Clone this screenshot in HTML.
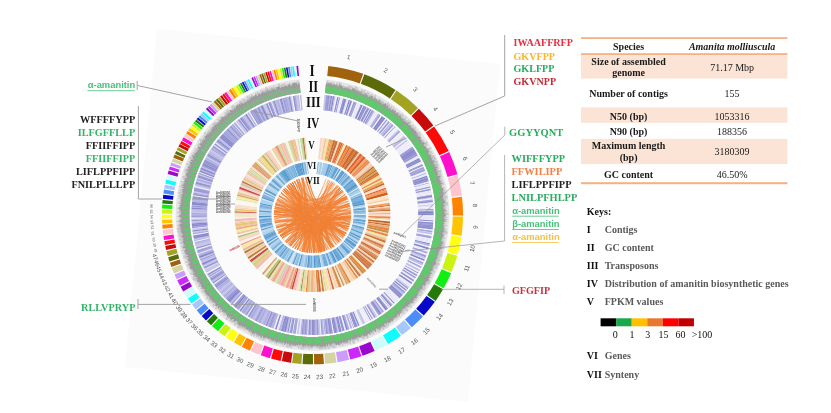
<!DOCTYPE html>
<html><head><meta charset="utf-8"><title>Amanita molliuscula genome circos</title>
<style>
html,body{margin:0;padding:0;background:#fff;}
body{width:831px;height:413px;overflow:hidden;}
svg{display:block;will-change:transform;filter:blur(0.55px);}
</style></head>
<body>
<svg width="831" height="413" viewBox="0 0 831 413">
<rect width="831" height="413" fill="#fff"/>
<polygon points="157,29 500,64 468,402 125,367" fill="#fbfbfb"/>
<g transform="translate(312.4 214.7) scale(1.0065 1) translate(-312.4 -214.7)">
<g id="ring1">
<path d="M328.2 65.9A149.6 149.6 0 0 1 362.9 73.8L359.4 83.4A139.4 139.4 0 0 0 327.1 76.1Z" fill="#a0620c"/>
<path d="M364.0 74.2A149.6 149.6 0 0 1 395.0 89.9L389.4 98.4A139.4 139.4 0 0 0 360.5 83.8Z" fill="#5c6a0a"/>
<path d="M396.0 90.6A149.6 149.6 0 0 1 417.3 108.0L410.2 115.2A139.4 139.4 0 0 0 390.3 99.0Z" fill="#a3a321"/>
<path d="M418.1 108.8A149.6 149.6 0 0 1 432.6 125.5L424.4 131.5A139.4 139.4 0 0 0 410.9 116.0Z" fill="#c80a0a"/>
<path d="M433.3 126.4A149.6 149.6 0 0 1 447.8 151.0L438.6 155.3A139.4 139.4 0 0 0 425.0 132.4Z" fill="#ff0808"/>
<path d="M448.3 152.0A149.6 149.6 0 0 1 456.5 174.2L446.7 176.9A139.4 139.4 0 0 0 439.1 156.3Z" fill="#ff10cc"/>
<path d="M456.8 175.3A149.6 149.6 0 0 1 460.9 195.6L450.8 196.9A139.4 139.4 0 0 0 447.0 178.0Z" fill="#ffc4cc"/>
<path d="M461.0 196.8A149.6 149.6 0 0 1 462.1 215.4L451.9 215.4A139.4 139.4 0 0 0 450.9 198.0Z" fill="#ff8200"/>
<path d="M462.1 216.6A149.6 149.6 0 0 1 460.6 235.7L450.5 234.3A139.4 139.4 0 0 0 451.9 216.5Z" fill="#ffc400"/>
<path d="M460.4 236.9A149.6 149.6 0 0 1 456.7 254.6L446.8 251.9A139.4 139.4 0 0 0 450.4 235.4Z" fill="#ffff10"/>
<path d="M456.4 255.7A149.6 149.6 0 0 1 450.6 272.1L441.2 268.2A139.4 139.4 0 0 0 446.6 252.9Z" fill="#ccf214"/>
<path d="M450.2 273.2A149.6 149.6 0 0 1 442.7 288.3L433.9 283.3A139.4 139.4 0 0 0 440.8 269.2Z" fill="#10f010"/>
<path d="M442.2 289.3A149.6 149.6 0 0 1 434.8 300.9L426.4 295.0A139.4 139.4 0 0 0 433.3 284.2Z" fill="#247a08"/>
<path d="M434.1 301.8A149.6 149.6 0 0 1 423.0 315.5L415.5 308.7A139.4 139.4 0 0 0 425.8 295.9Z" fill="#0808c8"/>
<path d="M422.2 316.4A149.6 149.6 0 0 1 411.1 327.2L404.4 319.6A139.4 139.4 0 0 0 414.7 309.4Z" fill="#4c8cf8"/>
<path d="M410.2 328.0A149.6 149.6 0 0 1 401.3 335.1L395.3 326.9A139.4 139.4 0 0 0 403.5 320.3Z" fill="#a4c8fc"/>
<path d="M400.4 335.8A149.6 149.6 0 0 1 387.6 344.1L382.5 335.3A139.4 139.4 0 0 0 394.4 327.5Z" fill="#10fcfc"/>
<path d="M386.6 344.7A149.6 149.6 0 0 1 375.3 350.5L371.0 341.2A139.4 139.4 0 0 0 381.5 335.8Z" fill="#ccfcfc"/>
<path d="M374.3 351.0A149.6 149.6 0 0 1 362.2 355.8L358.8 346.2A139.4 139.4 0 0 0 370.0 341.7Z" fill="#9a08cc"/>
<path d="M361.2 356.2A149.6 149.6 0 0 1 350.0 359.5L347.5 349.6A139.4 139.4 0 0 0 357.8 346.5Z" fill="#cc28fc"/>
<path d="M348.9 359.8A149.6 149.6 0 0 1 337.5 362.2L335.8 352.1A139.4 139.4 0 0 0 346.4 349.9Z" fill="#cc9cfc"/>
<path d="M336.4 362.4A149.6 149.6 0 0 1 325.1 363.8L324.2 353.6A139.4 139.4 0 0 0 334.7 352.3Z" fill="#d4d4a2"/>
<path d="M323.9 363.9A149.6 149.6 0 0 1 314.1 364.3L314.0 354.1A139.4 139.4 0 0 0 323.1 353.7Z" fill="#a0620c"/>
<path d="M313.0 364.3A149.6 149.6 0 0 1 302.6 364.0L303.3 353.8A139.4 139.4 0 0 0 312.9 354.1Z" fill="#5c6a0a"/>
<path d="M301.5 363.9A149.6 149.6 0 0 1 292.2 362.9L293.6 352.8A139.4 139.4 0 0 0 302.2 353.7Z" fill="#a3a321"/>
<path d="M291.1 362.8A149.6 149.6 0 0 1 282.0 361.1L284.0 351.2A139.4 139.4 0 0 0 292.6 352.7Z" fill="#c80a0a"/>
<path d="M280.8 360.9A149.6 149.6 0 0 1 271.3 358.5L274.1 348.7A139.4 139.4 0 0 0 283.0 350.9Z" fill="#ff0808"/>
<path d="M270.2 358.2A149.6 149.6 0 0 1 261.1 355.2L264.6 345.6A139.4 139.4 0 0 0 273.1 348.4Z" fill="#ff10cc"/>
<path d="M260.1 354.8A149.6 149.6 0 0 1 251.2 351.2L255.4 341.9A139.4 139.4 0 0 0 263.6 345.3Z" fill="#ffc4cc"/>
<path d="M250.2 350.7A149.6 149.6 0 0 1 242.3 346.8L247.1 337.8A139.4 139.4 0 0 0 254.4 341.4Z" fill="#ff8200"/>
<path d="M241.3 346.3A149.6 149.6 0 0 1 234.4 342.3L239.7 333.6A139.4 139.4 0 0 0 246.2 337.3Z" fill="#ffc400"/>
<path d="M233.4 341.7A149.6 149.6 0 0 1 226.3 337.0L232.2 328.6A139.4 139.4 0 0 0 238.8 333.0Z" fill="#ffff10"/>
<path d="M225.4 336.3A149.6 149.6 0 0 1 219.6 332.0L226.0 324.0A139.4 139.4 0 0 0 231.3 328.0Z" fill="#ccf214"/>
<path d="M218.7 331.3A149.6 149.6 0 0 1 212.6 326.1L219.4 318.5A139.4 139.4 0 0 0 225.1 323.3Z" fill="#10f010"/>
<path d="M211.8 325.3A149.6 149.6 0 0 1 207.5 321.3L214.7 314.0A139.4 139.4 0 0 0 218.6 317.8Z" fill="#247a08"/>
<path d="M206.7 320.4A149.6 149.6 0 0 1 202.4 316.0L209.9 309.1A139.4 139.4 0 0 0 213.9 313.2Z" fill="#0808c8"/>
<path d="M201.6 315.2A149.6 149.6 0 0 1 197.4 310.3L205.3 303.8A139.4 139.4 0 0 0 209.2 308.3Z" fill="#4c8cf8"/>
<path d="M196.7 309.4A149.6 149.6 0 0 1 192.9 304.6L201.1 298.4A139.4 139.4 0 0 0 204.6 303.0Z" fill="#a4c8fc"/>
<path d="M192.2 303.6A149.6 149.6 0 0 1 188.7 298.6L197.1 292.9A139.4 139.4 0 0 0 200.4 297.6Z" fill="#10fcfc"/>
<path d="M188.0 297.7A149.6 149.6 0 0 1 184.7 292.5L193.4 287.2A139.4 139.4 0 0 0 196.5 292.0Z" fill="#ccfcfc"/>
<path d="M184.1 291.5A149.6 149.6 0 0 1 181.4 286.8L190.4 281.9A139.4 139.4 0 0 0 192.9 286.2Z" fill="#9a08cc"/>
<path d="M180.9 285.8A149.6 149.6 0 0 1 178.1 280.3L187.2 275.9A139.4 139.4 0 0 0 189.9 281.0Z" fill="#cc28fc"/>
<path d="M177.6 279.3A149.6 149.6 0 0 1 175.4 274.6L184.8 270.6A139.4 139.4 0 0 0 186.8 274.9Z" fill="#cc9cfc"/>
<path d="M175.0 273.6A149.6 149.6 0 0 1 172.8 268.1L182.3 264.5A139.4 139.4 0 0 0 184.4 269.6Z" fill="#d4d4a2"/>
<path d="M172.4 267.0A149.6 149.6 0 0 1 170.8 262.7L180.5 259.4A139.4 139.4 0 0 0 181.9 263.5Z" fill="#a0620c"/>
<path d="M170.4 261.6A149.6 149.6 0 0 1 169.1 257.2L178.9 254.3A139.4 139.4 0 0 0 180.1 258.4Z" fill="#5c6a0a"/>
<path d="M168.8 256.1A149.6 149.6 0 0 1 167.4 251.2L177.3 248.7A139.4 139.4 0 0 0 178.6 253.3Z" fill="#a3a321"/>
<path d="M167.1 250.1A149.6 149.6 0 0 1 166.2 246.1L176.2 244.0A139.4 139.4 0 0 0 177.1 247.7Z" fill="#c80a0a"/>
<path d="M166.0 245.0A149.6 149.6 0 0 1 165.3 241.2L175.3 239.4A139.4 139.4 0 0 0 176.0 242.9Z" fill="#ff0808"/>
<path d="M165.1 240.1A149.6 149.6 0 0 1 164.4 236.1L174.5 234.6A139.4 139.4 0 0 0 175.1 238.4Z" fill="#ff10cc"/>
<path d="M164.3 235.0A149.6 149.6 0 0 1 163.7 229.9L173.8 228.8A139.4 139.4 0 0 0 174.4 233.6Z" fill="#ffc4cc"/>
<path d="M163.6 228.7A149.6 149.6 0 0 1 163.2 224.7L173.4 224.0A139.4 139.4 0 0 0 173.7 227.8Z" fill="#ff8200"/>
<path d="M163.2 223.5A149.6 149.6 0 0 1 163.0 219.7L173.2 219.4A139.4 139.4 0 0 0 173.3 222.9Z" fill="#ffc400"/>
<path d="M162.9 218.6A149.6 149.6 0 0 1 162.9 214.8L173.1 214.7A139.4 139.4 0 0 0 173.1 218.3Z" fill="#ffff10"/>
<path d="M162.9 213.6A149.6 149.6 0 0 1 163.0 209.8L173.2 210.1A139.4 139.4 0 0 0 173.1 213.7Z" fill="#ccf214"/>
<path d="M163.0 208.6A149.6 149.6 0 0 1 163.2 204.6L173.4 205.3A139.4 139.4 0 0 0 173.2 209.1Z" fill="#10f010"/>
<path d="M163.3 203.4A149.6 149.6 0 0 1 163.6 199.9L173.8 200.9A139.4 139.4 0 0 0 173.5 204.2Z" fill="#247a08"/>
<path d="M163.8 198.8A149.6 149.6 0 0 1 164.2 194.7L174.4 196.1A139.4 139.4 0 0 0 173.9 199.8Z" fill="#0808c8"/>
<path d="M164.4 193.6A149.6 149.6 0 0 1 165.0 189.5L175.1 191.3A139.4 139.4 0 0 0 174.5 195.0Z" fill="#4c8cf8"/>
<path d="M165.2 188.4A149.6 149.6 0 0 1 165.9 184.7L175.9 186.7A139.4 139.4 0 0 0 175.3 190.2Z" fill="#a4c8fc"/>
<path d="M166.2 183.5A149.6 149.6 0 0 1 167.1 179.6L177.0 182.0A139.4 139.4 0 0 0 176.2 185.7Z" fill="#10fcfc"/>
<path d="M167.4 178.5A149.6 149.6 0 0 1 168.3 175.0L178.1 177.7A139.4 139.4 0 0 0 177.3 180.9Z" fill="#ccfcfc"/>
<path d="M168.6 173.9A149.6 149.6 0 0 1 169.6 170.5L179.3 173.5A139.4 139.4 0 0 0 178.4 176.7Z" fill="#9a08cc"/>
<path d="M169.9 169.4A149.6 149.6 0 0 1 170.9 166.5L180.5 169.8A139.4 139.4 0 0 0 179.6 172.5Z" fill="#cc28fc"/>
<path d="M171.2 165.5A149.6 149.6 0 0 1 172.3 162.6L181.8 166.2A139.4 139.4 0 0 0 180.9 168.8Z" fill="#cc9cfc"/>
<path d="M172.7 161.5A149.6 149.6 0 0 1 173.9 158.5L183.3 162.3A139.4 139.4 0 0 0 182.2 165.2Z" fill="#d4d4a2"/>
<path d="M174.2 157.7A149.6 149.6 0 0 1 175.5 154.5L184.9 158.6A139.4 139.4 0 0 0 183.6 161.6Z" fill="#a0620c"/>
<path d="M175.9 153.8A149.6 149.6 0 0 1 177.1 151.1L186.3 155.4A139.4 139.4 0 0 0 185.2 158.0Z" fill="#5c6a0a"/>
<path d="M177.6 150.0A149.6 149.6 0 0 1 178.9 147.3L188.1 151.9A139.4 139.4 0 0 0 186.8 154.4Z" fill="#a3a321"/>
<path d="M179.3 146.6A149.6 149.6 0 0 1 180.7 144.0L189.7 148.8A139.4 139.4 0 0 0 188.4 151.2Z" fill="#c80a0a"/>
<path d="M180.9 143.6A149.6 149.6 0 0 1 182.3 141.0L191.2 146.0A139.4 139.4 0 0 0 189.9 148.4Z" fill="#ff0808"/>
<path d="M182.7 140.3A149.6 149.6 0 0 1 184.5 137.2L193.2 142.5A139.4 139.4 0 0 0 191.6 145.4Z" fill="#ff10cc"/>
<path d="M184.9 136.6A149.6 149.6 0 0 1 186.5 134.1L195.1 139.6A139.4 139.4 0 0 0 193.6 141.9Z" fill="#ffc4cc"/>
<path d="M186.9 133.4A149.6 149.6 0 0 1 188.6 130.9L197.0 136.6A139.4 139.4 0 0 0 195.5 138.9Z" fill="#ff8200"/>
<path d="M189.0 130.2A149.6 149.6 0 0 1 190.6 128.0L198.9 133.9A139.4 139.4 0 0 0 197.5 136.0Z" fill="#ffc400"/>
<path d="M190.8 127.7A149.6 149.6 0 0 1 192.2 125.8L200.4 131.9A139.4 139.4 0 0 0 199.1 133.6Z" fill="#ffff10"/>
<path d="M192.4 125.5A149.6 149.6 0 0 1 193.8 123.7L201.9 129.9A139.4 139.4 0 0 0 200.6 131.6Z" fill="#ccf214"/>
<path d="M194.0 123.3A149.6 149.6 0 0 1 195.5 121.5L203.4 127.9A139.4 139.4 0 0 0 202.1 129.6Z" fill="#10f010"/>
<path d="M195.7 121.2A149.6 149.6 0 0 1 197.2 119.4L205.0 125.9A139.4 139.4 0 0 0 203.7 127.6Z" fill="#247a08"/>
<path d="M197.4 119.1A149.6 149.6 0 0 1 198.9 117.4L206.6 124.0A139.4 139.4 0 0 0 205.3 125.6Z" fill="#0808c8"/>
<path d="M199.2 117.1A149.6 149.6 0 0 1 200.7 115.3L208.3 122.1A139.4 139.4 0 0 0 206.9 123.7Z" fill="#4c8cf8"/>
<path d="M200.9 115.0A149.6 149.6 0 0 1 202.5 113.3L210.0 120.2A139.4 139.4 0 0 0 208.5 121.8Z" fill="#a4c8fc"/>
<path d="M202.8 113.0A149.6 149.6 0 0 1 204.3 111.4L211.7 118.4A139.4 139.4 0 0 0 210.2 120.0Z" fill="#10fcfc"/>
<path d="M204.6 111.1A149.6 149.6 0 0 1 206.2 109.4L213.4 116.6A139.4 139.4 0 0 0 212.0 118.1Z" fill="#ccfcfc"/>
<path d="M206.5 109.1A149.6 149.6 0 0 1 208.1 107.5L215.2 114.8A139.4 139.4 0 0 0 213.7 116.3Z" fill="#9a08cc"/>
<path d="M208.4 107.2A149.6 149.6 0 0 1 210.1 105.7L217.1 113.1A139.4 139.4 0 0 0 215.5 114.6Z" fill="#cc28fc"/>
<path d="M210.4 105.4A149.6 149.6 0 0 1 212.0 103.8L218.9 111.4A139.4 139.4 0 0 0 217.3 112.8Z" fill="#cc9cfc"/>
<path d="M212.4 103.6A149.6 149.6 0 0 1 214.1 102.0L220.8 109.7A139.4 139.4 0 0 0 219.2 111.1Z" fill="#d4d4a2"/>
<path d="M214.4 101.8A149.6 149.6 0 0 1 216.1 100.3L222.7 108.1A139.4 139.4 0 0 0 221.1 109.5Z" fill="#a0620c"/>
<path d="M216.4 100.0A149.6 149.6 0 0 1 218.2 98.6L224.6 106.5A139.4 139.4 0 0 0 223.0 107.8Z" fill="#5c6a0a"/>
<path d="M218.5 98.3A149.6 149.6 0 0 1 220.3 96.9L226.6 104.9A139.4 139.4 0 0 0 224.9 106.2Z" fill="#a3a321"/>
<path d="M220.6 96.6A149.6 149.6 0 0 1 222.4 95.2L228.6 103.4A139.4 139.4 0 0 0 226.9 104.7Z" fill="#c80a0a"/>
<path d="M222.8 95.0A149.6 149.6 0 0 1 224.6 93.6L230.6 101.9A139.4 139.4 0 0 0 228.9 103.2Z" fill="#ff0808"/>
<path d="M224.9 93.4A149.6 149.6 0 0 1 226.8 92.1L232.6 100.4A139.4 139.4 0 0 0 230.9 101.7Z" fill="#ff10cc"/>
<path d="M227.1 91.8A149.6 149.6 0 0 1 229.0 90.5L234.7 99.0A139.4 139.4 0 0 0 233.0 100.2Z" fill="#ffc4cc"/>
<path d="M229.4 90.3A149.6 149.6 0 0 1 231.3 89.1L236.8 97.6A139.4 139.4 0 0 0 235.0 98.8Z" fill="#ff8200"/>
<path d="M231.6 88.8A149.6 149.6 0 0 1 233.6 87.6L238.9 96.3A139.4 139.4 0 0 0 237.1 97.4Z" fill="#ffc400"/>
<path d="M233.9 87.4A149.6 149.6 0 0 1 235.9 86.2L241.1 95.0A139.4 139.4 0 0 0 239.3 96.1Z" fill="#ffff10"/>
<path d="M236.2 86.0A149.6 149.6 0 0 1 238.2 84.9L243.3 93.7A139.4 139.4 0 0 0 241.4 94.8Z" fill="#ccf214"/>
<path d="M238.6 84.6A149.6 149.6 0 0 1 240.0 83.8L245.0 92.7A139.4 139.4 0 0 0 243.6 93.5Z" fill="#10f010"/>
<path d="M240.4 83.6A149.6 149.6 0 0 1 241.9 82.8L246.7 91.8A139.4 139.4 0 0 0 245.3 92.6Z" fill="#247a08"/>
<path d="M242.3 82.6A149.6 149.6 0 0 1 243.8 81.8L248.5 90.9A139.4 139.4 0 0 0 247.1 91.6Z" fill="#0808c8"/>
<path d="M244.1 81.6A149.6 149.6 0 0 1 245.7 80.9L250.2 90.0A139.4 139.4 0 0 0 248.8 90.7Z" fill="#4c8cf8"/>
<path d="M246.0 80.7A149.6 149.6 0 0 1 247.6 79.9L252.0 89.1A139.4 139.4 0 0 0 250.6 89.8Z" fill="#a4c8fc"/>
<path d="M247.9 79.8A149.6 149.6 0 0 1 249.5 79.0L253.8 88.3A139.4 139.4 0 0 0 252.3 89.0Z" fill="#10fcfc"/>
<path d="M249.8 78.9A149.6 149.6 0 0 1 251.4 78.2L255.6 87.5A139.4 139.4 0 0 0 254.1 88.1Z" fill="#ccfcfc"/>
<path d="M251.8 78.0A149.6 149.6 0 0 1 253.3 77.3L257.4 86.7A139.4 139.4 0 0 0 255.9 87.3Z" fill="#9a08cc"/>
<path d="M253.7 77.1A149.6 149.6 0 0 1 255.3 76.5L259.2 85.9A139.4 139.4 0 0 0 257.7 86.5Z" fill="#cc28fc"/>
<path d="M255.7 76.3A149.6 149.6 0 0 1 257.2 75.7L261.0 85.2A139.4 139.4 0 0 0 259.5 85.8Z" fill="#cc9cfc"/>
<path d="M257.6 75.5A149.6 149.6 0 0 1 259.2 74.9L262.8 84.4A139.4 139.4 0 0 0 261.4 85.0Z" fill="#d4d4a2"/>
<path d="M259.6 74.8A149.6 149.6 0 0 1 261.2 74.2L264.7 83.8A139.4 139.4 0 0 0 263.2 84.3Z" fill="#a0620c"/>
<path d="M261.6 74.0A149.6 149.6 0 0 1 263.2 73.5L266.5 83.1A139.4 139.4 0 0 0 265.1 83.6Z" fill="#5c6a0a"/>
<path d="M263.6 73.3A149.6 149.6 0 0 1 265.2 72.8L268.4 82.5A139.4 139.4 0 0 0 266.9 83.0Z" fill="#a3a321"/>
<path d="M265.6 72.6A149.6 149.6 0 0 1 267.2 72.1L270.3 81.8A139.4 139.4 0 0 0 268.8 82.3Z" fill="#c80a0a"/>
<path d="M267.6 72.0A149.6 149.6 0 0 1 269.2 71.5L272.2 81.3A139.4 139.4 0 0 0 270.7 81.7Z" fill="#ff0808"/>
<path d="M269.6 71.4A149.6 149.6 0 0 1 271.2 70.9L274.1 80.7A139.4 139.4 0 0 0 272.5 81.2Z" fill="#ff10cc"/>
<path d="M271.6 70.8A149.6 149.6 0 0 1 273.3 70.3L276.0 80.2A139.4 139.4 0 0 0 274.4 80.6Z" fill="#ffc4cc"/>
<path d="M273.7 70.2A149.6 149.6 0 0 1 275.3 69.8L277.9 79.7A139.4 139.4 0 0 0 276.3 80.1Z" fill="#ff8200"/>
<path d="M275.7 69.7A149.6 149.6 0 0 1 277.4 69.3L279.8 79.2A139.4 139.4 0 0 0 278.2 79.6Z" fill="#ffc400"/>
<path d="M277.8 69.2A149.6 149.6 0 0 1 279.4 68.8L281.7 78.7A139.4 139.4 0 0 0 280.1 79.1Z" fill="#ffff10"/>
<path d="M279.8 68.7A149.6 149.6 0 0 1 281.5 68.3L283.6 78.3A139.4 139.4 0 0 0 282.1 78.7Z" fill="#ccf214"/>
<path d="M281.9 68.3A149.6 149.6 0 0 1 283.6 67.9L285.5 77.9A139.4 139.4 0 0 0 284.0 78.2Z" fill="#10f010"/>
<path d="M284.0 67.8A149.6 149.6 0 0 1 285.6 67.5L287.5 77.6A139.4 139.4 0 0 0 285.9 77.9Z" fill="#247a08"/>
<path d="M286.1 67.5A149.6 149.6 0 0 1 287.7 67.2L289.4 77.2A139.4 139.4 0 0 0 287.9 77.5Z" fill="#0808c8"/>
<path d="M288.1 67.1A149.6 149.6 0 0 1 289.8 66.8L291.4 76.9A139.4 139.4 0 0 0 289.8 77.2Z" fill="#4c8cf8"/>
<path d="M290.2 66.8A149.6 149.6 0 0 1 291.9 66.5L293.3 76.6A139.4 139.4 0 0 0 291.8 76.9Z" fill="#a4c8fc"/>
<path d="M292.3 66.5A149.6 149.6 0 0 1 294.0 66.2L295.3 76.4A139.4 139.4 0 0 0 293.7 76.6Z" fill="#10fcfc"/>
<path d="M294.4 66.2A149.6 149.6 0 0 1 296.1 66.0L297.2 76.1A139.4 139.4 0 0 0 295.7 76.3Z" fill="#ccfcfc"/>
<path d="M296.5 66.0A149.6 149.6 0 0 1 298.2 65.8L299.2 75.9A139.4 139.4 0 0 0 297.6 76.1Z" fill="#9a08cc"/>
</g>
<g font-family="Liberation Sans, sans-serif" fill="#555" text-anchor="middle">
<text x="348.5" y="56.8" font-size="6.2" dominant-baseline="central" transform="rotate(12.8 348.5 56.8)">1</text>
<text x="385.5" y="70.1" font-size="6.2" dominant-baseline="central" transform="rotate(26.8 385.5 70.1)">2</text>
<text x="414.9" y="89.2" font-size="6.2" dominant-baseline="central" transform="rotate(39.2 414.9 89.2)">3</text>
<text x="435.0" y="108.7" font-size="6.2" dominant-baseline="central" transform="rotate(49.2 435.0 108.7)">4</text>
<text x="451.8" y="132.0" font-size="6.2" dominant-baseline="central" transform="rotate(59.3 451.8 132.0)">5</text>
<text x="464.5" y="158.6" font-size="6.2" dominant-baseline="central" transform="rotate(69.8 464.5 158.6)">6</text>
<text x="471.4" y="183.0" font-size="6.2" dominant-baseline="central" transform="rotate(78.7 471.4 183.0)">7</text>
<text x="474.2" y="205.4" font-size="6.2" dominant-baseline="central" transform="rotate(86.7 474.2 205.4)">8</text>
<text x="474.0" y="227.1" font-size="6.2" dominant-baseline="central" transform="rotate(-85.6 474.0 227.1)">9</text>
<text x="471.0" y="248.4" font-size="6.2" dominant-baseline="central" transform="rotate(-78.0 471.0 248.4)">10</text>
<text x="465.4" y="268.1" font-size="6.2" dominant-baseline="central" transform="rotate(-70.8 465.4 268.1)">11</text>
<text x="457.8" y="286.4" font-size="6.2" dominant-baseline="central" transform="rotate(-63.8 457.8 286.4)">12</text>
<text x="449.1" y="301.9" font-size="6.2" dominant-baseline="central" transform="rotate(-57.4 449.1 301.9)">13</text>
<text x="438.4" y="316.6" font-size="6.2" dominant-baseline="central" transform="rotate(-51.0 438.4 316.6)">14</text>
<text x="425.4" y="330.8" font-size="6.2" dominant-baseline="central" transform="rotate(-44.2 425.4 330.8)">15</text>
<text x="413.6" y="341.3" font-size="6.2" dominant-baseline="central" transform="rotate(-38.6 413.6 341.3)">16</text>
<text x="400.9" y="350.5" font-size="6.2" dominant-baseline="central" transform="rotate(-33.1 400.9 350.5)">17</text>
<text x="386.7" y="358.7" font-size="6.2" dominant-baseline="central" transform="rotate(-27.2 386.7 358.7)">18</text>
<text x="372.9" y="365.0" font-size="6.2" dominant-baseline="central" transform="rotate(-21.9 372.9 365.0)">19</text>
<text x="359.2" y="369.8" font-size="6.2" dominant-baseline="central" transform="rotate(-16.8 359.2 369.8)">20</text>
<text x="345.8" y="373.2" font-size="6.2" dominant-baseline="central" transform="rotate(-11.9 345.8 373.2)">21</text>
<text x="332.2" y="375.5" font-size="6.2" dominant-baseline="central" transform="rotate(-7.0 332.2 375.5)">22</text>
<text x="319.6" y="376.5" font-size="6.2" dominant-baseline="central" transform="rotate(-2.5 319.6 376.5)">23</text>
<text x="307.4" y="376.6" font-size="6.2" dominant-baseline="central" transform="rotate(1.8 307.4 376.6)">24</text>
<text x="295.6" y="375.8" font-size="6.2" dominant-baseline="central" transform="rotate(6.0 295.6 375.8)">25</text>
<text x="284.4" y="374.2" font-size="6.2" dominant-baseline="central" transform="rotate(10.0 284.4 374.2)">26</text>
<text x="273.0" y="371.8" font-size="6.2" dominant-baseline="central" transform="rotate(14.1 273.0 371.8)">27</text>
<text x="261.8" y="368.6" font-size="6.2" dominant-baseline="central" transform="rotate(18.2 261.8 368.6)">28</text>
<text x="250.9" y="364.5" font-size="6.2" dominant-baseline="central" transform="rotate(22.4 250.9 364.5)">29</text>
<text x="240.7" y="359.9" font-size="6.2" dominant-baseline="central" transform="rotate(26.3 240.7 359.9)">30</text>
<text x="231.6" y="355.1" font-size="6.2" dominant-baseline="central" transform="rotate(29.9 231.6 355.1)">31</text>
<text x="223.0" y="349.7" font-size="6.2" dominant-baseline="central" transform="rotate(33.6 223.0 349.7)">32</text>
<text x="215.0" y="344.1" font-size="6.2" dominant-baseline="central" transform="rotate(37.0 215.0 344.1)">33</text>
<text x="207.6" y="338.2" font-size="6.2" dominant-baseline="central" transform="rotate(40.3 207.6 338.2)">34</text>
<text x="201.1" y="332.3" font-size="6.2" dominant-baseline="central" transform="rotate(43.4 201.1 332.3)">35</text>
<text x="195.6" y="326.8" font-size="6.2" dominant-baseline="central" transform="rotate(46.2 195.6 326.8)">36</text>
<text x="190.1" y="320.9" font-size="6.2" dominant-baseline="central" transform="rotate(49.1 190.1 320.9)">37</text>
<text x="185.0" y="314.7" font-size="6.2" dominant-baseline="central" transform="rotate(51.9 185.0 314.7)">38</text>
<text x="180.3" y="308.3" font-size="6.2" dominant-baseline="central" transform="rotate(54.7 180.3 308.3)">39</text>
<text x="175.9" y="301.7" font-size="6.2" dominant-baseline="central" transform="rotate(57.5 175.9 301.7)">40</text>
<text x="172.0" y="295.3" font-size="5.6" dominant-baseline="central" transform="rotate(60.2 172.0 295.3)">41</text>
<text x="168.4" y="288.7" font-size="5.6" dominant-baseline="central" transform="rotate(62.8 168.4 288.7)">42</text>
<text x="165.2" y="282.1" font-size="5.6" dominant-baseline="central" transform="rotate(65.4 165.2 282.1)">43</text>
<text x="162.3" y="275.5" font-size="5.6" dominant-baseline="central" transform="rotate(67.9 162.3 275.5)">44</text>
<text x="159.9" y="269.0" font-size="5.6" dominant-baseline="central" transform="rotate(70.4 159.9 269.0)">45</text>
<text x="157.9" y="263.1" font-size="5.6" dominant-baseline="central" transform="rotate(72.6 157.9 263.1)">46</text>
<text x="156.1" y="256.9" font-size="5.6" dominant-baseline="central" transform="rotate(74.9 156.1 256.9)">47</text>
<text x="156.5" y="250.4" font-size="3.6" dominant-baseline="central" transform="rotate(77.1 156.5 250.4)">48</text>
<text x="155.4" y="245.1" font-size="3.6" dominant-baseline="central" transform="rotate(79.1 155.4 245.1)">49</text>
<text x="154.5" y="239.7" font-size="3.6" dominant-baseline="central" transform="rotate(81.0 154.5 239.7)">50</text>
<text x="153.6" y="233.6" font-size="3.6" dominant-baseline="central" transform="rotate(83.2 153.6 233.6)">51</text>
<text x="153.0" y="227.5" font-size="3.6" dominant-baseline="central" transform="rotate(85.4 153.0 227.5)">52</text>
<text x="152.7" y="222.1" font-size="3.6" dominant-baseline="central" transform="rotate(87.4 152.7 222.1)">53</text>
<text x="152.5" y="216.8" font-size="3.6" dominant-baseline="central" transform="rotate(89.2 152.5 216.8)">54</text>
<text x="152.5" y="211.5" font-size="3.6" dominant-baseline="central" transform="rotate(271.1 152.5 211.5)">55</text>
<text x="152.7" y="206.0" font-size="3.6" dominant-baseline="central" transform="rotate(273.1 152.7 206.0)">56</text>
</g>
<g id="ring2">
<path d="M326.2 79.4A136.0 136.0 0 1 1 299.7 79.3L301.0 92.9A122.3 122.3 0 1 0 324.9 93.0Z" fill="#e6e6e6"/>
<path d="M326.0 81.8L326.9 81.4L327.8 80.1L328.4 82.0L329.3 81.9L330.1 81.7L330.7 83.4L331.7 82.2L332.6 81.9L333.5 81.4L333.9 84.3L334.8 83.6L335.4 84.5L336.8 81.9L337.5 82.5L337.8 85.2L339.3 81.6L340.1 81.9L340.7 83.3L341.4 83.6L341.8 85.6L342.5 86.3L343.8 84.5L344.1 86.5L345.0 86.2L345.9 86.2L346.4 87.2L347.7 85.8L348.4 86.1L349.6 84.7L350.1 86.2L351.0 86.0L351.6 86.7L352.6 86.4L353.1 87.4L353.7 88.3L355.4 85.9L356.1 86.1L356.7 87.0L357.3 87.8L357.6 89.5L358.2 90.1L359.1 90.2L359.5 91.3L361.3 89.0L361.5 90.6L362.9 89.3L363.0 91.3L364.6 89.5L365.2 90.2L364.6 93.6L365.7 93.2L367.6 91.0L367.6 92.9L369.2 91.4L369.0 93.9L369.2 95.4L370.9 93.7L371.9 93.5L371.7 95.7L372.1 96.7L373.3 96.2L375.1 94.4L375.5 95.5L375.0 98.1L376.0 98.1L376.4 99.0L377.0 99.5L379.2 97.3L378.7 99.9L380.1 99.0L380.6 99.8L380.8 101.1L382.6 99.6L382.0 102.1L383.8 100.8L383.4 103.0L384.7 102.4L384.9 103.6L385.7 103.8L388.0 101.9L388.3 103.0L387.8 105.1L389.8 103.6L389.0 106.3L390.0 106.2L391.8 105.2L392.0 106.3L391.3 108.6L394.1 106.2L392.9 109.2L393.6 109.5L395.5 108.4L395.1 110.3L395.6 110.9L395.7 112.1L396.4 112.6L398.3 111.6L398.0 113.1L399.6 112.6L399.6 113.8L400.4 114.1L402.4 113.1L401.7 115.1L402.6 115.4L404.0 115.1L402.7 117.6L403.2 118.3L405.9 116.6L406.2 117.5L405.2 119.7L405.7 120.4L407.8 119.4L408.9 119.4L407.4 122.1L410.1 120.6L410.5 121.4L410.3 122.7L410.3 123.8L409.9 125.3L410.3 126.1L413.5 124.2L411.9 126.7L413.9 126.1L413.1 127.9L415.3 127.1L415.1 128.3L414.7 129.7L414.9 130.6L417.1 129.9L415.6 132.1L416.6 132.4L418.1 132.2L419.6 132.1L419.3 133.3L418.7 134.8L421.3 133.9L419.4 136.3L419.3 137.4L420.6 137.4L421.7 137.7L420.9 139.2L421.7 139.6L422.8 139.9L423.9 140.1L422.9 141.8L424.1 141.9L426.3 141.5L427.1 142.0L426.4 143.4L427.0 144.0L427.1 144.9L426.0 146.5L426.0 147.4L426.4 148.2L429.9 147.1L429.5 148.2L430.9 148.4L428.0 151.0L430.5 150.5L430.4 151.5L431.6 151.8L430.5 153.3L433.3 152.7L430.4 155.1L432.5 155.0L433.5 155.4L434.5 155.9L434.2 156.9L434.5 157.7L435.1 158.3L435.9 158.8L434.2 160.5L435.7 160.7L436.9 161.1L437.1 161.9L435.7 163.4L437.4 163.6L438.0 164.3L437.2 165.4L437.7 166.1L437.1 167.2L438.1 167.7L438.5 168.5L436.8 169.9L439.2 170.0L440.8 170.3L440.6 171.2L440.3 172.2L439.3 173.4L440.9 173.7L440.5 174.7L440.2 175.7L442.0 176.0L439.3 177.6L442.1 177.7L439.6 179.2L442.0 179.4L441.7 180.3L441.0 181.4L443.0 181.7L442.4 182.7L443.0 183.4L444.4 183.9L442.0 185.3L441.2 186.3L442.5 186.8L444.2 187.3L442.5 188.5L442.5 189.3L445.6 189.6L444.8 190.5L444.0 191.5L446.0 192.0L443.9 193.2L445.3 193.8L443.6 194.9L444.6 195.5L446.2 196.1L446.8 196.9L446.8 197.7L444.9 198.8L445.8 199.5L444.8 200.4L444.2 201.3L445.7 202.0L447.1 202.7L447.2 203.5L446.7 204.4L447.8 205.1L445.1 206.1L444.8 207.0L445.9 207.7L445.3 208.6L445.0 209.4L445.9 210.2L446.8 211.0L446.2 211.8L445.5 212.6L447.7 213.4L448.2 214.2L446.1 215.0L444.6 215.9L444.4 216.7L447.8 217.5L444.4 218.3L447.1 219.2L446.5 220.0L445.4 220.7L447.3 221.6L444.2 222.3L444.6 223.1L445.8 224.0L444.0 224.7L447.2 225.8L444.7 226.4L444.3 227.2L443.8 227.9L446.1 229.0L445.2 229.7L445.9 230.6L445.9 231.4L446.4 232.3L446.9 233.2L445.7 233.9L443.6 234.4L444.6 235.4L443.3 236.0L442.5 236.7L444.2 237.8L445.0 238.8L442.7 239.2L442.9 240.1L443.1 240.9L444.3 242.0L443.4 242.6L443.6 243.5L444.0 244.5L442.4 244.9L443.8 246.1L444.0 247.0L440.6 247.0L443.7 248.6L442.7 249.2L440.2 249.4L441.2 250.5L441.7 251.5L442.5 252.6L440.3 252.8L440.8 253.8L441.7 254.9L441.1 255.6L441.4 256.6L439.4 256.8L439.8 257.8L437.9 258.0L439.5 259.4L439.6 260.3L438.7 260.9L438.7 261.8L436.5 261.8L438.8 263.6L438.8 264.4L438.5 265.2L436.5 265.3L437.1 266.5L435.1 266.5L436.9 268.2L436.4 268.8L434.2 268.8L432.9 269.1L433.9 270.4L433.9 271.3L434.4 272.4L433.0 272.7L431.0 272.6L433.5 274.7L430.4 274.1L432.7 276.2L430.1 275.8L430.3 276.8L431.5 278.4L428.8 277.9L428.5 278.6L429.4 280.0L429.7 281.1L429.7 282.1L428.7 282.5L429.2 283.7L427.2 283.5L428.4 285.1L425.0 284.0L425.0 285.0L425.6 286.4L424.4 286.5L425.4 288.2L424.7 288.7L423.8 289.1L424.4 290.5L423.0 290.5L421.8 290.6L421.5 291.5L422.6 293.2L422.3 294.0L419.5 293.0L421.1 295.2L421.0 296.2L419.1 295.7L418.7 296.5L417.1 296.2L417.6 297.7L417.0 298.3L416.8 299.2L414.5 298.3L416.9 301.4L415.0 300.8L414.1 301.2L414.8 302.8L413.5 302.8L412.8 303.2L412.8 304.4L410.4 303.3L411.3 305.2L410.3 305.5L411.4 307.5L410.7 308.1L408.2 306.8L408.3 308.0L406.7 307.6L407.0 309.0L407.5 310.7L407.2 311.5L405.4 310.9L404.4 311.0L403.4 311.2L404.0 313.0L404.2 314.4L401.5 312.6L402.6 315.1L400.0 313.4L399.8 314.5L399.3 315.1L399.9 317.0L398.3 316.4L397.8 317.1L397.8 318.4L395.9 317.3L396.8 319.8L394.7 318.4L395.0 320.1L393.7 319.8L392.9 320.1L393.1 321.7L392.2 321.8L391.4 322.1L390.8 322.7L390.5 323.6L388.9 322.9L388.4 323.5L388.7 325.3L388.0 325.8L387.1 325.9L387.1 327.4L385.9 327.1L385.8 328.4L383.7 326.7L384.1 328.9L383.6 329.5L383.1 330.3L381.1 328.7L380.4 329.1L381.0 331.6L378.8 329.6L379.7 332.7L378.7 332.7L376.6 330.5L376.0 331.3L376.3 333.4L374.7 332.1L373.6 331.9L374.3 334.9L372.8 333.8L372.7 335.5L370.8 333.5L370.6 334.8L370.3 336.2L368.4 334.1L368.0 335.1L368.1 337.2L367.7 338.4L367.0 338.9L364.9 336.1L364.8 337.9L364.4 339.1L363.3 338.5L362.8 339.5L361.3 337.9L360.4 337.8L359.7 338.2L358.8 338.3L358.8 340.5L358.0 340.6L357.3 341.1L355.9 339.8L355.2 340.2L354.5 340.5L354.5 343.2L353.9 344.0L353.0 344.0L351.3 341.1L350.4 341.2L350.7 344.8L349.3 343.2L348.9 344.6L347.6 343.1L347.0 343.8L346.2 344.2L345.4 344.1L344.7 345.0L343.4 342.9L343.2 345.7L342.6 346.5L341.2 344.1L340.6 345.3L340.1 346.6L339.0 345.5L338.0 344.8L337.2 344.8L336.7 346.4L335.5 344.5L335.3 348.1L334.4 347.9L333.6 347.7L332.8 348.4L331.9 347.6L331.0 346.8L330.2 347.7L329.4 347.4L328.8 349.4L327.9 348.8L326.8 346.8L326.3 349.4L325.4 348.9L324.6 349.1L323.8 349.3L322.9 347.7L322.2 349.7L321.4 349.7L320.5 349.0L319.7 349.4L318.9 349.4L318.0 348.0L317.2 349.3L316.3 346.7L315.5 347.8L314.7 348.4L313.9 346.5L313.1 347.9L312.3 349.1L311.4 349.0L310.6 347.4L309.8 350.3L309.0 349.1L308.2 347.8L307.3 349.0L306.5 348.6L305.7 348.5L304.9 347.8L304.0 350.2L303.2 348.7L302.4 348.9L301.6 349.1L300.7 349.9L300.2 346.0L299.2 348.3L298.3 348.7L297.7 346.7L296.8 347.2L296.2 345.7L295.3 346.2L294.4 346.8L293.8 345.6L292.9 346.0L291.7 348.5L291.1 347.0L290.3 346.7L289.2 348.3L288.6 346.6L287.5 348.2L287.0 346.6L286.0 347.1L285.8 344.1L284.6 346.0L283.7 346.4L283.5 343.5L281.9 346.7L281.8 343.5L280.7 344.6L280.2 343.2L279.1 344.2L278.2 344.5L278.0 342.1L276.3 345.4L276.0 343.1L275.1 343.3L274.3 343.3L273.8 342.2L273.1 341.7L271.9 342.8L271.2 342.2L270.8 340.9L269.4 342.3L269.2 340.4L268.8 339.1L267.7 339.7L267.3 338.7L266.3 338.8L264.7 340.8L264.5 339.1L263.0 340.7L262.4 339.9L262.7 337.0L260.5 340.1L259.9 339.6L260.5 336.1L258.4 338.8L258.4 336.8L257.6 336.6L256.0 338.1L256.5 335.1L255.3 335.8L253.8 336.9L253.5 335.8L253.2 334.5L251.5 335.9L251.1 335.0L250.7 333.9L250.9 331.7L249.2 333.2L248.8 332.2L248.6 330.9L248.2 330.0L246.6 331.3L246.7 329.4L245.3 330.1L244.1 330.5L243.9 329.4L243.6 328.3L242.2 328.9L241.9 328.0L240.4 328.7L240.2 327.5L238.5 328.6L237.9 328.0L237.7 326.8L238.2 324.7L237.8 323.8L235.3 325.9L234.9 325.1L234.6 324.1L234.6 322.8L234.1 322.0L232.5 322.9L232.1 322.0L231.4 321.6L230.6 321.2L229.7 321.1L230.4 318.8L229.7 318.5L227.2 320.2L226.7 319.5L226.2 318.9L227.7 315.8L227.0 315.3L225.8 315.4L224.8 315.4L223.7 315.4L224.5 313.3L222.7 314.1L223.3 312.2L222.7 311.7L220.5 312.8L220.3 311.9L219.4 311.6L219.6 310.3L218.7 310.0L218.9 308.7L217.9 308.5L216.2 309.0L215.4 308.7L217.0 306.0L216.3 305.5L213.7 306.8L213.7 305.7L212.7 305.5L213.8 303.4L212.7 303.3L212.6 302.3L210.4 303.1L211.2 301.3L209.8 301.5L208.3 301.7L209.8 299.4L208.6 299.3L207.5 299.2L206.4 298.9L207.4 297.1L207.1 296.3L207.5 295.0L204.5 296.2L206.6 293.7L206.1 293.0L204.0 293.5L203.8 292.6L202.7 292.4L203.5 290.9L201.5 291.3L203.3 289.0L202.4 288.7L200.5 289.0L201.9 287.0L200.8 286.9L198.9 287.1L198.6 286.3L199.5 284.7L199.6 283.8L198.4 283.5L196.7 283.6L197.6 282.1L198.0 280.9L195.5 281.4L195.6 280.4L194.0 280.4L193.5 279.7L193.2 278.9L194.5 277.3L192.9 277.3L194.2 275.6L193.8 274.9L193.2 274.3L190.9 274.5L190.7 273.7L192.6 271.9L191.9 271.3L191.5 270.6L191.2 269.9L190.7 269.2L190.4 268.4L190.8 267.4L189.1 267.2L188.0 266.8L188.6 265.6L187.2 265.3L187.9 264.2L189.0 262.8L186.6 262.9L185.8 262.3L187.8 260.7L188.5 259.6L186.4 259.5L186.0 258.8L185.6 258.0L183.8 257.7L184.8 256.6L183.9 256.0L186.5 254.3L184.4 254.1L183.3 253.6L185.7 252.0L185.5 251.2L182.8 251.2L181.9 250.5L184.9 248.9L182.5 248.7L184.2 247.4L181.7 247.2L181.9 246.3L183.3 245.1L183.2 244.3L180.9 244.0L181.6 243.0L180.5 242.4L181.8 241.3L181.9 240.4L179.2 240.1L180.2 239.1L180.8 238.2L180.5 237.4L179.6 236.7L179.5 235.9L178.6 235.2L180.5 234.1L178.7 233.5L179.2 232.6L178.4 231.9L178.5 231.0L178.3 230.2L177.9 229.4L177.6 228.6L178.8 227.7L179.2 226.8L178.3 226.1L177.9 225.3L179.4 224.4L179.3 223.5L180.4 222.7L177.9 222.0L176.9 221.2L179.3 220.3L180.1 219.4L179.9 218.6L179.0 217.8L179.6 217.0L176.8 216.2L180.5 215.4L179.5 214.6L180.2 213.8L178.1 212.9L177.6 212.1L180.0 211.3L180.5 210.6L179.0 209.7L178.5 208.8L177.2 208.0L180.8 207.3L180.5 206.5L180.3 205.7L180.2 204.9L180.2 204.1L178.3 203.1L178.9 202.3L180.4 201.6L180.7 200.8L180.4 200.0L180.9 199.2L178.7 198.2L180.6 197.6L179.7 196.6L178.8 195.7L180.2 195.1L181.2 194.4L178.9 193.2L178.9 192.3L181.3 191.9L180.6 191.0L179.2 189.9L181.2 189.4L182.4 188.8L183.2 188.2L179.8 186.6L180.6 185.9L182.4 185.5L182.0 184.6L182.3 183.8L183.4 183.2L180.8 181.7L182.3 181.3L184.1 180.9L185.2 180.4L183.6 179.1L184.2 178.4L182.8 177.2L183.4 176.5L184.0 175.8L186.0 175.5L186.2 174.8L185.9 173.8L186.3 173.1L184.3 171.6L185.9 171.2L185.7 170.3L184.6 169.0L187.6 169.3L186.9 168.1L188.6 167.9L186.6 166.3L189.8 166.6L187.0 164.6L187.2 163.8L187.6 163.1L190.7 163.5L190.3 162.5L189.0 161.0L191.6 161.3L190.5 159.9L190.9 159.2L189.5 157.6L191.2 157.5L190.5 156.3L192.9 156.5L191.5 154.9L193.2 154.8L191.8 153.2L195.1 154.0L192.9 151.9L195.4 152.3L194.7 151.0L195.1 150.3L196.8 150.3L194.8 148.3L197.0 148.6L197.5 147.9L198.7 147.7L198.3 146.5L198.2 145.5L197.7 144.2L199.4 144.3L198.7 142.9L201.1 143.5L200.6 142.2L200.8 141.3L199.6 139.5L200.5 139.1L201.5 138.9L204.1 139.6L203.4 138.1L202.8 136.7L204.8 137.1L204.2 135.7L205.0 135.3L206.9 135.7L204.3 132.7L205.4 132.5L207.8 133.3L207.0 131.7L208.5 131.8L208.8 131.0L208.8 129.9L210.0 129.9L210.4 129.2L210.8 128.4L210.5 127.1L212.3 127.6L213.0 127.1L211.9 125.1L213.7 125.5L212.4 123.3L214.1 123.7L214.2 122.7L215.9 123.1L215.0 121.2L217.7 122.6L218.1 121.9L218.8 121.5L217.7 119.3L218.2 118.6L220.3 119.5L220.2 118.3L219.6 116.5L220.9 116.7L222.9 117.6L223.1 116.6L223.9 116.3L224.6 115.8L224.4 114.5L225.9 114.9L224.3 111.8L226.2 112.8L226.6 112.0L226.9 111.1L227.3 110.2L227.8 109.5L229.5 110.3L230.3 110.0L230.7 109.3L232.3 110.0L232.0 108.3L232.0 106.9L232.0 105.5L233.1 105.6L234.0 105.5L234.8 105.2L236.9 106.7L236.8 105.2L237.5 104.7L237.4 103.2L239.3 104.6L239.4 103.2L239.8 102.3L239.9 100.9L240.5 100.4L241.7 100.7L243.3 101.8L242.7 99.3L243.2 98.4L244.6 99.2L245.7 99.5L246.1 98.5L247.5 99.4L247.1 97.0L247.3 95.6L248.9 96.9L249.3 95.8L249.8 95.0L251.7 96.9L251.1 93.8L252.4 94.6L253.9 95.8L254.8 95.8L255.2 94.9L255.4 93.4L255.9 92.6L257.3 93.6L257.1 91.0L258.7 92.8L259.3 92.1L260.6 93.0L260.0 89.6L262.1 92.3L261.7 89.2L263.0 90.2L263.7 89.9L264.5 89.6L265.6 90.4L265.5 87.7L266.2 87.1L267.2 87.5L268.3 88.0L269.6 89.5L269.5 86.6L271.0 88.4L271.0 85.8L272.6 88.1L273.0 86.6L273.4 85.3L275.0 87.6L275.3 86.0L276.6 87.6L277.5 87.5L278.1 86.7L278.1 83.4L278.9 83.4L280.0 84.3L281.1 85.4L281.6 83.8L282.3 83.4L283.4 84.6L284.0 83.6L284.7 82.6L286.1 85.5L286.7 84.6L287.3 83.4L288.4 84.5L289.0 83.4L289.7 82.6L290.7 84.0L291.3 82.5L292.3 83.4L292.9 82.1L293.9 82.9L294.5 81.5L295.6 83.8L296.1 81.2L297.2 83.2L297.6 79.9L298.6 81.2L299.5 81.7L300.6 93.0L299.8 93.1L299.1 93.1L298.3 93.2L297.6 93.3L296.9 93.4L296.1 93.5L295.4 93.6L294.6 93.7L293.9 93.8L293.2 93.9L292.4 94.1L291.7 94.2L290.9 94.3L290.2 94.4L289.5 94.6L288.7 94.7L288.0 94.9L287.3 95.0L286.6 95.2L285.8 95.3L285.1 95.5L284.4 95.7L283.6 95.9L282.9 96.0L282.2 96.2L281.5 96.4L280.7 96.6L280.0 96.8L279.3 97.0L278.6 97.2L277.9 97.4L277.2 97.6L276.4 97.8L275.7 98.1L275.0 98.3L274.3 98.5L273.6 98.8L272.9 99.0L272.2 99.2L271.5 99.5L270.8 99.7L270.1 100.0L269.4 100.3L268.7 100.5L268.0 100.8L267.3 101.1L266.6 101.3L265.9 101.6L265.2 101.9L264.5 102.2L263.8 102.5L263.1 102.8L262.5 103.1L261.8 103.4L261.1 103.7L260.4 104.0L259.8 104.4L259.1 104.7L258.4 105.0L257.7 105.3L257.1 105.7L256.4 106.0L255.7 106.4L255.1 106.7L254.4 107.1L253.8 107.4L253.1 107.8L252.5 108.2L251.8 108.5L251.2 108.9L250.5 109.3L249.9 109.6L249.2 110.0L248.6 110.4L248.0 110.8L247.3 111.2L246.7 111.6L246.1 112.0L245.4 112.4L244.8 112.8L244.2 113.2L243.6 113.7L243.0 114.1L242.4 114.5L241.7 114.9L241.1 115.4L240.5 115.8L239.9 116.3L239.3 116.7L238.7 117.2L238.1 117.6L237.5 118.1L237.0 118.5L236.4 119.0L235.8 119.5L235.2 119.9L234.6 120.4L234.1 120.9L233.5 121.4L232.9 121.8L232.3 122.3L231.8 122.8L231.2 123.3L230.7 123.8L230.1 124.3L229.6 124.8L229.0 125.3L228.5 125.8L227.9 126.4L227.4 126.9L226.9 127.4L226.3 127.9L225.8 128.4L225.3 129.0L224.7 129.5L224.2 130.1L223.7 130.6L223.2 131.1L222.7 131.7L222.2 132.2L221.7 132.8L221.2 133.3L220.7 133.9L220.2 134.5L219.7 135.0L219.2 135.6L218.7 136.2L218.3 136.7L217.8 137.3L217.3 137.9L216.9 138.5L216.4 139.1L215.9 139.7L215.5 140.2L215.0 140.8L214.6 141.4L214.1 142.0L213.7 142.6L213.2 143.2L212.8 143.9L212.4 144.5L212.0 145.1L211.5 145.7L211.1 146.3L210.7 146.9L210.3 147.6L209.9 148.2L209.5 148.8L209.1 149.4L208.7 150.1L208.3 150.7L207.9 151.3L207.5 152.0L207.1 152.6L206.7 153.3L206.4 153.9L206.0 154.6L205.6 155.2L205.3 155.9L204.9 156.5L204.6 157.2L204.2 157.8L203.9 158.5L203.5 159.2L203.2 159.8L202.9 160.5L202.5 161.2L202.2 161.9L201.9 162.5L201.6 163.2L201.3 163.9L200.9 164.6L200.6 165.2L200.3 165.9L200.0 166.6L199.8 167.3L199.5 168.0L199.2 168.7L198.9 169.4L198.6 170.1L198.4 170.8L198.1 171.5L197.8 172.2L197.6 172.9L197.3 173.6L197.1 174.3L196.8 175.0L196.6 175.7L196.4 176.4L196.1 177.1L195.9 177.8L195.7 178.5L195.5 179.2L195.2 180.0L195.0 180.7L194.8 181.4L194.6 182.1L194.4 182.8L194.2 183.6L194.0 184.3L193.9 185.0L193.7 185.7L193.5 186.5L193.3 187.2L193.2 187.9L193.0 188.6L192.9 189.4L192.7 190.1L192.5 190.8L192.4 191.6L192.3 192.3L192.1 193.0L192.0 193.8L191.9 194.5L191.8 195.3L191.6 196.0L191.5 196.7L191.4 197.5L191.3 198.2L191.2 198.9L191.1 199.7L191.0 200.4L191.0 201.2L190.9 201.9L190.8 202.7L190.7 203.4L190.7 204.1L190.6 204.9L190.5 205.6L190.5 206.4L190.4 207.1L190.4 207.9L190.4 208.6L190.3 209.4L190.3 210.1L190.3 210.9L190.2 211.6L190.2 212.4L190.2 213.1L190.2 213.8L190.2 214.6L190.2 215.3L190.2 216.1L190.2 216.8L190.2 217.6L190.3 218.3L190.3 219.1L190.3 219.8L190.3 220.6L190.4 221.3L190.4 222.1L190.5 222.8L190.5 223.6L190.6 224.3L190.6 225.0L190.7 225.8L190.8 226.5L190.8 227.3L190.9 228.0L191.0 228.8L191.1 229.5L191.2 230.2L191.3 231.0L191.4 231.7L191.5 232.5L191.6 233.2L191.7 233.9L191.8 234.7L192.0 235.4L192.1 236.1L192.2 236.9L192.4 237.6L192.5 238.4L192.7 239.1L192.8 239.8L193.0 240.5L193.1 241.3L193.3 242.0L193.5 242.7L193.6 243.5L193.8 244.2L194.0 244.9L194.2 245.6L194.4 246.4L194.6 247.1L194.8 247.8L195.0 248.5L195.2 249.2L195.4 249.9L195.6 250.7L195.8 251.4L196.1 252.1L196.3 252.8L196.5 253.5L196.8 254.2L197.0 254.9L197.3 255.6L197.5 256.3L197.8 257.0L198.0 257.7L198.3 258.4L198.6 259.1L198.8 259.8L199.1 260.5L199.4 261.2L199.7 261.9L200.0 262.6L200.3 263.3L200.6 264.0L200.9 264.6L201.2 265.3L201.5 266.0L201.8 266.7L202.1 267.4L202.4 268.0L202.8 268.7L203.1 269.4L203.4 270.0L203.8 270.7L204.1 271.4L204.5 272.0L204.8 272.7L205.2 273.3L205.5 274.0L205.9 274.6L206.3 275.3L206.6 275.9L207.0 276.6L207.4 277.2L207.8 277.9L208.2 278.5L208.6 279.1L209.0 279.8L209.4 280.4L209.8 281.0L210.2 281.7L210.6 282.3L211.0 282.9L211.4 283.5L211.8 284.1L212.3 284.8L212.7 285.4L213.1 286.0L213.6 286.6L214.0 287.2L214.4 287.8L214.9 288.4L215.3 289.0L215.8 289.6L216.3 290.2L216.7 290.7L217.2 291.3L217.7 291.9L218.1 292.5L218.6 293.1L219.1 293.6L219.6 294.2L220.1 294.8L220.5 295.3L221.0 295.9L221.5 296.5L222.0 297.0L222.5 297.6L223.1 298.1L223.6 298.7L224.1 299.2L224.6 299.7L225.1 300.3L225.6 300.8L226.2 301.3L226.7 301.9L227.2 302.4L227.8 302.9L228.3 303.4L228.9 303.9L229.4 304.4L230.0 304.9L230.5 305.4L231.1 305.9L231.6 306.4L232.2 306.9L232.7 307.4L233.3 307.9L233.9 308.4L234.5 308.9L235.0 309.3L235.6 309.8L236.2 310.3L236.8 310.7L237.4 311.2L238.0 311.7L238.6 312.1L239.2 312.6L239.8 313.0L240.4 313.5L241.0 313.9L241.6 314.3L242.2 314.8L242.8 315.2L243.4 315.6L244.0 316.0L244.6 316.4L245.3 316.9L245.9 317.3L246.5 317.7L247.1 318.1L247.8 318.5L248.4 318.9L249.1 319.3L249.7 319.6L250.3 320.0L251.0 320.4L251.6 320.8L252.3 321.1L252.9 321.5L253.6 321.9L254.2 322.2L254.9 322.6L255.6 322.9L256.2 323.3L256.9 323.6L257.5 324.0L258.2 324.3L258.9 324.6L259.6 324.9L260.2 325.3L260.9 325.6L261.6 325.9L262.3 326.2L263.0 326.5L263.6 326.8L264.3 327.1L265.0 327.4L265.7 327.7L266.4 328.0L267.1 328.3L267.8 328.5L268.5 328.8L269.2 329.1L269.9 329.3L270.6 329.6L271.3 329.8L272.0 330.1L272.7 330.3L273.4 330.6L274.1 330.8L274.8 331.0L275.5 331.3L276.2 331.5L276.9 331.7L277.7 331.9L278.4 332.1L279.1 332.4L279.8 332.6L280.5 332.7L281.3 332.9L282.0 333.1L282.7 333.3L283.4 333.5L284.2 333.7L284.9 333.8L285.6 334.0L286.3 334.2L287.1 334.3L287.8 334.5L288.5 334.6L289.3 334.8L290.0 334.9L290.7 335.0L291.5 335.2L292.2 335.3L292.9 335.4L293.7 335.5L294.4 335.7L295.2 335.8L295.9 335.9L296.6 336.0L297.4 336.1L298.1 336.2L298.9 336.2L299.6 336.3L300.4 336.4L301.1 336.5L301.8 336.5L302.6 336.6L303.3 336.7L304.1 336.7L304.8 336.8L305.6 336.8L306.3 336.8L307.1 336.9L307.8 336.9L308.6 336.9L309.3 337.0L310.0 337.0L310.8 337.0L311.5 337.0L312.3 337.0L313.0 337.0L313.8 337.0L314.5 337.0L315.3 337.0L316.0 336.9L316.8 336.9L317.5 336.9L318.3 336.9L319.0 336.8L319.8 336.8L320.5 336.7L321.2 336.7L322.0 336.6L322.7 336.6L323.5 336.5L324.2 336.4L325.0 336.4L325.7 336.3L326.5 336.2L327.2 336.1L327.9 336.0L328.7 335.9L329.4 335.8L330.2 335.7L330.9 335.6L331.6 335.5L332.4 335.4L333.1 335.3L333.8 335.1L334.6 335.0L335.3 334.9L336.0 334.7L336.8 334.6L337.5 334.4L338.2 334.3L339.0 334.1L339.7 333.9L340.4 333.8L341.2 333.6L341.9 333.4L342.6 333.2L343.3 333.1L344.1 332.9L344.8 332.7L345.5 332.5L346.2 332.3L346.9 332.1L347.6 331.8L348.4 331.6L349.1 331.4L349.8 331.2L350.5 330.9L351.2 330.7L351.9 330.5L352.6 330.2L353.3 330.0L354.0 329.7L354.7 329.5L355.4 329.2L356.1 329.0L356.8 328.7L357.5 328.4L358.2 328.1L358.9 327.9L359.6 327.6L360.3 327.3L361.0 327.0L361.7 326.7L362.3 326.4L363.0 326.1L363.7 325.8L364.4 325.5L365.1 325.1L365.7 324.8L366.4 324.5L367.1 324.2L367.7 323.8L368.4 323.5L369.1 323.1L369.7 322.8L370.4 322.4L371.0 322.1L371.7 321.7L372.4 321.4L373.0 321.0L373.7 320.6L374.3 320.2L374.9 319.9L375.6 319.5L376.2 319.1L376.9 318.7L377.5 318.3L378.1 317.9L378.8 317.5L379.4 317.1L380.0 316.7L380.6 316.3L381.2 315.9L381.9 315.4L382.5 315.0L383.1 314.6L383.7 314.1L384.3 313.7L384.9 313.3L385.5 312.8L386.1 312.4L386.7 311.9L387.3 311.5L387.9 311.0L388.5 310.5L389.1 310.1L389.6 309.6L390.2 309.1L390.8 308.7L391.4 308.2L391.9 307.7L392.5 307.2L393.1 306.7L393.6 306.2L394.2 305.7L394.7 305.2L395.3 304.7L395.8 304.2L396.4 303.7L396.9 303.2L397.5 302.7L398.0 302.2L398.5 301.6L399.1 301.1L399.6 300.6L400.1 300.0L400.6 299.5L401.1 299.0L401.7 298.4L402.2 297.9L402.7 297.3L403.2 296.8L403.7 296.2L404.2 295.7L404.7 295.1L405.2 294.5L405.6 294.0L406.1 293.4L406.6 292.8L407.1 292.2L407.5 291.7L408.0 291.1L408.5 290.5L408.9 289.9L409.4 289.3L409.9 288.7L410.3 288.1L410.7 287.5L411.2 286.9L411.6 286.3L412.1 285.7L412.5 285.1L412.9 284.5L413.4 283.9L413.8 283.3L414.2 282.6L414.6 282.0L415.0 281.4L415.4 280.8L415.8 280.1L416.2 279.5L416.6 278.9L417.0 278.2L417.4 277.6L417.8 277.0L418.1 276.3L418.5 275.7L418.9 275.0L419.3 274.4L419.6 273.7L420.0 273.1L420.3 272.4L420.7 271.7L421.0 271.1L421.4 270.4L421.7 269.7L422.0 269.1L422.4 268.4L422.7 267.7L423.0 267.1L423.3 266.4L423.7 265.7L424.0 265.0L424.3 264.3L424.6 263.7L424.9 263.0L425.2 262.3L425.4 261.6L425.7 260.9L426.0 260.2L426.3 259.5L426.6 258.8L426.8 258.1L427.1 257.4L427.4 256.7L427.6 256.0L427.9 255.3L428.1 254.6L428.3 253.9L428.6 253.2L428.8 252.5L429.0 251.8L429.3 251.1L429.5 250.4L429.7 249.6L429.9 248.9L430.1 248.2L430.3 247.5L430.5 246.8L430.7 246.0L430.9 245.3L431.1 244.6L431.3 243.9L431.4 243.1L431.6 242.4L431.8 241.7L431.9 241.0L432.1 240.2L432.3 239.5L432.4 238.8L432.6 238.0L432.7 237.3L432.8 236.6L433.0 235.8L433.1 235.1L433.2 234.4L433.3 233.6L433.4 232.9L433.5 232.1L433.7 231.4L433.8 230.7L433.8 229.9L433.9 229.2L434.0 228.4L434.1 227.7L434.2 227.0L434.3 226.2L434.3 225.5L434.4 224.7L434.4 224.0L434.5 223.2L434.6 222.5L434.6 221.7L434.6 221.0L434.7 220.2L434.7 219.5L434.7 218.8L434.8 218.0L434.8 217.3L434.8 216.5L434.8 215.8L434.8 215.0L434.8 214.3L434.8 213.5L434.8 212.8L434.8 212.0L434.8 211.3L434.7 210.5L434.7 209.8L434.7 209.0L434.6 208.3L434.6 207.6L434.5 206.8L434.5 206.1L434.4 205.3L434.4 204.6L434.3 203.8L434.2 203.1L434.2 202.3L434.1 201.6L434.0 200.9L433.9 200.1L433.8 199.4L433.7 198.6L433.6 197.9L433.5 197.2L433.4 196.4L433.3 195.7L433.2 194.9L433.1 194.2L432.9 193.5L432.8 192.7L432.7 192.0L432.5 191.3L432.4 190.5L432.2 189.8L432.1 189.1L431.9 188.3L431.8 187.6L431.6 186.9L431.4 186.1L431.2 185.4L431.1 184.7L430.9 184.0L430.7 183.3L430.5 182.5L430.3 181.8L430.1 181.1L429.9 180.4L429.7 179.7L429.5 178.9L429.2 178.2L429.0 177.5L428.8 176.8L428.5 176.1L428.3 175.4L428.1 174.7L427.8 174.0L427.6 173.3L427.3 172.6L427.1 171.9L426.8 171.2L426.5 170.5L426.3 169.8L426.0 169.1L425.7 168.4L425.4 167.7L425.1 167.0L424.8 166.3L424.5 165.6L424.2 165.0L423.9 164.3L423.6 163.6L423.3 162.9L423.0 162.2L422.7 161.6L422.3 160.9L422.0 160.2L421.7 159.6L421.3 158.9L421.0 158.2L420.6 157.6L420.3 156.9L419.9 156.2L419.6 155.6L419.2 154.9L418.8 154.3L418.5 153.6L418.1 153.0L417.7 152.4L417.3 151.7L416.9 151.1L416.6 150.4L416.2 149.8L415.8 149.2L415.4 148.5L415.0 147.9L414.5 147.3L414.1 146.7L413.7 146.0L413.3 145.4L412.9 144.8L412.4 144.2L412.0 143.6L411.6 143.0L411.1 142.4L410.7 141.8L410.2 141.2L409.8 140.6L409.3 140.0L408.9 139.4L408.4 138.8L407.9 138.2L407.5 137.7L407.0 137.1L406.5 136.5L406.0 135.9L405.6 135.4L405.1 134.8L404.6 134.2L404.1 133.7L403.6 133.1L403.1 132.5L402.6 132.0L402.1 131.4L401.6 130.9L401.1 130.4L400.5 129.8L400.0 129.3L399.5 128.8L399.0 128.2L398.4 127.7L397.9 127.2L397.4 126.7L396.8 126.1L396.3 125.6L395.8 125.1L395.2 124.6L394.7 124.1L394.1 123.6L393.5 123.1L393.0 122.6L392.4 122.1L391.8 121.6L391.3 121.2L390.7 120.7L390.1 120.2L389.5 119.7L389.0 119.3L388.4 118.8L387.8 118.3L387.2 117.9L386.6 117.4L386.0 117.0L385.4 116.5L384.8 116.1L384.2 115.6L383.6 115.2L383.0 114.8L382.4 114.3L381.8 113.9L381.2 113.5L380.5 113.1L379.9 112.7L379.3 112.2L378.7 111.8L378.0 111.4L377.4 111.0L376.8 110.6L376.1 110.3L375.5 109.9L374.8 109.5L374.2 109.1L373.6 108.7L372.9 108.4L372.3 108.0L371.6 107.6L371.0 107.3L370.3 106.9L369.6 106.6L369.0 106.2L368.3 105.9L367.6 105.5L367.0 105.2L366.3 104.9L365.6 104.5L365.0 104.2L364.3 103.9L363.6 103.6L362.9 103.3L362.2 103.0L361.6 102.7L360.9 102.4L360.2 102.1L359.5 101.8L358.8 101.5L358.1 101.2L357.4 100.9L356.7 100.7L356.0 100.4L355.3 100.1L354.6 99.9L353.9 99.6L353.2 99.4L352.5 99.1L351.8 98.9L351.1 98.7L350.4 98.4L349.7 98.2L349.0 98.0L348.3 97.7L347.5 97.5L346.8 97.3L346.1 97.1L345.4 96.9L344.7 96.7L343.9 96.5L343.2 96.3L342.5 96.1L341.8 96.0L341.1 95.8L340.3 95.6L339.6 95.4L338.9 95.3L338.1 95.1L337.4 95.0L336.7 94.8L335.9 94.7L335.2 94.5L334.5 94.4L333.7 94.3L333.0 94.1L332.3 94.0L331.5 93.9L330.8 93.8L330.0 93.7L329.3 93.6L328.6 93.5L327.8 93.4L327.1 93.3L326.3 93.2L325.6 93.1L324.9 93.0Z" fill="#c8c8c8"/>
<path d="M325.8 84.1L326.5 83.4L327.2 83.3L328.0 83.1L328.6 83.2L329.2 84.2L330.1 82.6L330.7 83.2L331.4 83.3L331.9 84.9L332.6 84.9L333.3 84.5L334.2 83.5L334.7 84.9L335.4 85.0L336.0 85.4L337.0 84.0L337.3 86.1L337.8 87.1L338.9 85.0L339.7 84.5L340.3 85.3L340.8 85.8L341.6 85.5L342.0 87.1L342.8 86.3L343.1 88.2L343.8 88.2L344.7 87.3L345.5 87.3L346.0 87.8L346.4 89.1L347.6 87.2L348.1 87.9L348.5 89.1L349.3 89.0L350.0 88.9L350.5 89.6L351.0 90.4L352.5 87.9L353.2 87.9L353.6 89.1L354.4 88.6L354.6 90.3L355.7 89.3L355.7 91.4L356.9 89.9L357.4 90.7L358.4 89.9L358.1 92.7L359.6 90.7L359.4 93.1L360.6 92.1L361.7 91.0L361.2 94.3L362.1 93.7L362.8 93.8L363.5 94.0L363.8 95.1L365.5 92.8L366.0 93.3L366.1 94.9L366.7 95.3L367.6 94.9L367.5 96.8L368.1 97.2L369.9 94.8L369.7 96.9L370.6 96.6L371.9 95.6L372.6 95.8L372.4 97.6L372.6 98.7L373.3 98.8L375.0 97.2L375.5 97.6L375.0 100.1L376.7 98.5L376.5 100.3L377.3 100.2L377.3 101.5L379.1 99.7L379.9 99.7L379.2 102.4L380.5 101.5L380.3 103.1L382.1 101.5L381.2 104.3L381.9 104.5L383.6 103.1L383.4 104.6L385.1 103.3L385.6 103.8L385.9 104.6L385.4 106.6L387.0 105.4L388.1 105.1L387.7 106.9L387.5 108.3L388.4 108.3L389.1 108.5L390.5 107.8L390.0 109.6L390.5 110.1L391.2 110.3L392.6 109.6L393.4 109.7L393.1 111.2L394.2 110.8L395.2 110.7L395.2 111.9L394.9 113.3L395.6 113.5L397.5 112.3L397.5 113.5L397.1 114.9L398.5 114.4L397.8 116.3L400.3 114.4L399.6 116.3L400.3 116.5L400.8 117.0L400.2 118.7L402.0 117.7L401.8 119.0L402.2 119.5L404.0 118.7L402.8 120.9L403.7 120.9L405.3 120.2L404.6 121.9L405.2 122.3L406.3 122.2L405.9 123.5L408.1 122.3L408.8 122.6L407.0 125.4L408.5 124.9L409.7 124.7L409.2 126.1L411.1 125.3L410.5 126.8L410.1 128.0L411.5 127.7L412.2 128.0L411.9 129.2L413.1 129.1L413.9 129.3L413.6 130.4L414.1 131.0L415.4 130.8L415.4 131.7L415.4 132.6L417.0 132.2L415.3 134.4L417.4 133.6L416.1 135.5L417.8 135.1L417.2 136.4L418.1 136.5L419.4 136.4L419.9 137.0L420.3 137.5L419.2 139.2L420.3 139.2L419.9 140.3L421.3 140.2L421.5 140.9L420.5 142.4L422.5 141.9L423.2 142.2L423.2 143.1L424.4 143.1L422.8 145.0L423.1 145.6L423.1 146.4L424.8 146.1L425.0 146.8L425.4 147.4L425.2 148.3L427.1 148.0L425.3 149.8L428.1 149.0L427.5 150.2L427.7 150.8L428.8 151.0L427.5 152.5L427.5 153.3L428.3 153.6L427.9 154.7L429.0 154.8L430.2 155.0L430.2 155.7L429.8 156.7L431.1 156.9L429.8 158.2L432.4 157.8L430.7 159.3L431.2 159.8L431.2 160.6L433.1 160.5L433.8 160.9L434.0 161.6L432.0 163.2L433.4 163.4L433.5 164.1L433.3 164.9L435.9 164.6L433.2 166.4L434.9 166.5L436.0 166.8L437.0 167.2L434.6 168.8L435.8 169.1L436.9 169.4L434.9 170.9L435.8 171.3L438.1 171.2L435.9 172.7L437.0 173.1L436.9 173.8L437.5 174.3L436.6 175.3L436.6 176.0L440.0 175.7L439.4 176.6L439.5 177.3L438.1 178.5L438.3 179.1L439.5 179.5L438.6 180.4L439.5 180.9L441.3 181.2L439.6 182.3L439.7 183.0L441.9 183.1L440.9 184.1L439.2 185.2L440.5 185.6L441.5 186.1L439.7 187.2L440.8 187.7L442.1 188.1L442.8 188.7L442.0 189.5L443.1 190.0L441.8 191.0L441.7 191.7L443.3 192.1L441.9 193.0L443.4 193.5L441.6 194.5L442.1 195.1L441.7 195.9L443.0 196.4L441.8 197.2L442.0 197.9L442.1 198.6L443.1 199.1L442.6 199.9L443.2 200.5L445.1 201.0L444.1 201.8L444.8 202.4L442.6 203.3L443.3 203.9L442.3 204.7L444.4 205.2L443.3 206.0L443.1 206.7L442.3 207.4L442.9 208.1L443.2 208.8L443.6 209.4L445.5 210.1L444.8 210.8L443.3 211.5L443.6 212.2L442.9 212.9L445.6 213.5L443.6 214.2L445.0 214.9L444.9 215.6L445.5 216.3L442.4 217.0L443.5 217.7L443.7 218.4L442.6 219.0L445.3 219.8L443.4 220.4L444.9 221.2L444.0 221.8L442.4 222.4L443.5 223.2L442.9 223.8L442.2 224.5L442.5 225.2L443.9 226.0L442.0 226.5L442.9 227.3L443.2 228.0L443.5 228.7L442.0 229.2L443.9 230.1L442.3 230.6L443.8 231.5L443.5 232.2L441.7 232.6L441.8 233.3L441.9 234.0L443.3 234.9L442.1 235.5L442.0 236.1L443.4 237.1L441.2 237.4L441.3 238.1L441.3 238.8L440.8 239.4L440.1 240.0L439.9 240.6L441.8 241.7L441.4 242.3L442.1 243.2L442.5 244.0L440.1 244.1L441.1 245.1L441.8 246.0L439.3 246.1L440.7 247.1L440.5 247.8L441.2 248.7L440.8 249.3L438.5 249.4L439.6 250.4L437.7 250.6L438.6 251.6L438.3 252.2L437.0 252.5L437.8 253.5L437.5 254.1L437.8 254.9L436.9 255.4L436.3 255.9L436.8 256.8L436.9 257.5L435.6 257.8L437.0 259.0L435.4 259.2L434.7 259.7L435.3 260.6L435.3 261.3L434.2 261.6L435.3 262.8L435.4 263.6L434.7 264.1L434.9 264.9L432.5 264.7L433.4 265.8L433.0 266.4L431.8 266.6L432.6 267.7L431.2 267.8L432.3 269.1L432.3 269.8L431.7 270.3L430.9 270.7L430.4 271.2L429.4 271.5L430.1 272.6L431.5 274.0L430.2 274.1L428.9 274.3L429.8 275.5L428.1 275.4L428.6 276.4L428.7 277.3L429.4 278.4L427.3 278.1L427.6 279.0L428.3 280.2L427.5 280.6L426.7 280.9L426.4 281.5L425.4 281.7L425.1 282.3L424.3 282.7L425.5 284.2L425.3 284.9L423.5 284.6L424.7 286.2L421.8 285.1L421.7 285.9L422.4 287.2L421.4 287.4L421.2 288.0L422.6 289.8L419.8 288.8L419.6 289.4L419.3 290.0L420.1 291.5L418.5 291.2L417.5 291.2L418.5 292.9L417.7 293.1L416.9 293.4L417.2 294.4L417.2 295.3L416.5 295.6L416.3 296.3L415.7 296.8L415.9 297.9L415.9 298.7L413.8 297.9L413.4 298.4L414.3 300.1L412.4 299.4L413.0 300.8L412.5 301.3L412.0 301.8L412.2 302.9L411.4 303.2L409.3 302.2L410.0 303.7L409.2 303.9L408.9 304.6L408.0 304.6L407.3 305.0L407.9 306.5L406.9 306.5L405.7 306.3L405.3 306.8L405.0 307.5L404.1 307.6L404.4 308.9L403.0 308.5L402.4 308.8L401.9 309.3L401.5 309.8L402.4 311.8L400.5 310.8L400.8 312.1L401.0 313.3L399.8 313.1L398.6 312.7L399.7 315.0L399.1 315.4L396.8 313.8L396.7 314.7L396.8 315.8L396.8 317.0L395.4 316.4L395.6 317.7L394.1 316.9L394.5 318.6L393.2 317.9L392.6 318.4L393.0 319.9L392.6 320.6L392.0 321.0L390.9 320.7L390.1 320.7L390.1 321.9L389.4 322.0L389.2 323.0L388.6 323.3L386.7 321.8L386.6 322.9L386.6 324.1L385.2 323.3L384.5 323.5L383.7 323.4L384.1 325.4L384.2 326.8L383.7 327.3L381.6 325.2L382.0 327.2L380.9 326.8L380.7 327.8L379.7 327.4L380.0 329.4L379.5 329.9L377.3 327.5L377.9 329.8L376.3 328.3L375.5 328.4L375.3 329.5L375.5 331.2L375.3 332.3L373.3 330.0L373.0 330.9L371.9 330.3L372.1 332.2L371.4 332.3L370.6 332.3L369.9 332.4L370.0 334.2L369.4 334.6L368.0 333.2L367.5 333.8L367.2 334.8L366.8 335.6L366.5 336.5L365.0 334.9L364.8 336.2L364.0 336.0L363.7 337.0L362.2 335.3L361.6 335.6L360.9 335.6L361.3 338.5L359.8 336.6L359.4 337.6L358.3 336.7L357.9 337.6L357.0 336.8L356.9 338.8L355.8 337.7L355.7 339.5L354.7 338.6L354.0 338.6L353.6 339.7L352.8 339.5L352.0 339.4L351.2 338.9L350.5 339.1L350.7 342.0L349.5 340.3L348.6 339.8L348.0 340.3L347.7 341.5L347.4 343.3L346.1 340.9L346.0 343.3L345.0 342.2L344.3 342.1L343.9 343.6L342.9 342.4L342.0 341.4L341.7 343.2L341.1 343.7L340.4 343.7L339.5 342.7L339.3 345.1L338.5 345.0L337.9 345.5L336.9 343.8L336.5 345.3L335.7 345.0L334.7 343.3L334.0 342.9L333.4 343.5L332.7 343.4L332.0 343.4L331.4 344.4L330.9 345.9L330.0 344.5L329.5 345.3L328.6 343.6L328.0 344.4L327.6 347.0L326.5 343.9L326.0 345.7L325.4 346.7L324.7 346.7L324.0 346.6L323.3 345.5L322.7 346.9L322.0 347.1L321.3 346.9L320.6 347.7L319.8 344.7L319.2 347.7L318.5 345.8L317.8 346.9L317.1 345.4L316.4 347.6L315.7 344.6L315.0 346.5L314.3 345.4L313.6 345.9L313.0 345.9L312.3 346.8L311.6 347.4L310.9 345.8L310.2 346.7L309.5 345.8L308.8 345.5L308.1 347.6L307.5 345.6L306.8 344.8L306.1 345.6L305.3 346.9L304.8 345.1L304.0 346.9L303.3 346.1L302.6 346.5L302.0 344.8L301.4 344.5L300.7 344.5L299.9 345.2L299.2 345.4L298.7 343.9L297.8 345.5L297.2 345.1L296.5 344.7L295.8 345.4L294.9 346.7L294.6 344.1L293.5 346.2L293.1 344.3L292.2 345.6L291.9 343.3L290.7 346.2L290.4 344.2L289.4 345.8L289.1 343.2L288.3 343.7L287.5 344.6L287.2 342.7L286.4 342.9L285.5 344.1L284.6 344.9L284.4 342.6L283.8 342.0L283.0 342.5L281.8 344.4L281.8 341.4L280.8 342.9L280.3 341.9L279.4 342.6L279.1 341.0L278.1 342.1L277.2 342.8L276.6 342.6L276.1 341.6L275.6 341.0L274.8 341.0L274.6 339.4L273.2 341.5L272.7 340.8L272.3 339.8L271.4 340.3L271.0 339.3L270.4 339.0L270.0 338.3L268.9 339.2L268.3 338.9L267.7 338.5L267.6 336.7L266.3 338.4L265.8 337.6L265.0 337.8L264.4 337.5L263.3 338.3L263.6 335.6L262.6 336.4L261.3 337.7L261.0 336.7L260.9 335.1L259.7 336.1L258.7 336.6L258.9 334.5L257.6 335.7L258.0 333.1L256.2 335.5L256.3 333.6L256.0 332.6L254.5 334.1L254.2 333.2L253.1 333.8L252.7 333.2L252.1 332.8L251.9 331.6L250.5 332.7L251.4 329.6L249.5 331.7L249.2 330.9L249.3 329.2L247.8 330.5L247.8 329.1L247.0 329.0L245.9 329.6L246.4 327.3L245.7 327.2L244.5 327.9L244.9 325.9L243.4 326.9L242.4 327.3L242.4 326.0L242.3 324.9L240.7 326.2L240.0 326.0L239.5 325.3L239.4 324.3L238.1 324.9L237.8 324.2L238.4 322.1L237.5 322.3L237.4 321.1L237.0 320.6L235.8 321.0L234.2 322.0L233.7 321.5L234.6 319.2L234.0 318.9L233.0 319.1L231.5 319.9L231.4 318.9L230.3 319.2L231.5 316.6L229.0 318.6L230.1 316.1L228.7 316.7L227.6 316.9L227.4 316.1L228.0 314.3L226.5 315.1L226.5 314.0L226.9 312.5L225.7 312.9L225.2 312.3L224.0 312.7L224.3 311.3L223.0 311.7L222.3 311.4L223.0 309.7L222.6 309.1L220.8 310.0L220.8 309.0L221.1 307.7L220.7 307.2L218.2 308.7L218.5 307.4L218.7 306.3L218.6 305.4L216.1 306.8L216.4 305.6L215.8 305.2L216.3 303.8L215.9 303.2L215.2 302.9L215.4 301.8L213.8 302.4L213.8 301.4L212.4 301.8L213.0 300.3L212.4 299.9L211.8 299.5L210.2 299.9L211.4 298.1L210.0 298.3L210.8 296.8L209.4 297.0L209.8 295.8L207.8 296.5L208.9 294.7L207.0 295.4L207.1 294.4L207.2 293.4L205.5 293.9L206.6 292.2L205.2 292.4L205.2 291.5L205.2 290.6L205.9 289.3L204.5 289.5L204.5 288.6L203.7 288.4L201.9 288.8L203.3 286.9L201.8 287.1L201.5 286.5L202.4 285.1L201.5 284.9L202.0 283.8L199.4 284.6L200.9 282.8L200.0 282.5L199.9 281.8L198.2 282.0L197.7 281.5L198.1 280.5L197.9 279.8L198.9 278.4L196.2 279.2L198.3 277.2L197.1 277.1L196.8 276.5L195.4 276.4L195.3 275.7L195.9 274.6L193.9 274.9L193.5 274.3L196.0 272.3L193.8 272.6L194.0 271.7L194.0 270.9L193.4 270.5L193.6 269.6L192.2 269.5L192.1 268.8L190.7 268.7L190.4 268.0L190.1 267.4L191.7 266.0L190.1 265.9L190.4 265.0L189.9 264.5L188.7 264.2L191.4 262.4L189.9 262.2L189.9 261.5L188.8 261.2L190.0 260.0L187.3 260.3L189.5 258.7L188.8 258.3L189.3 257.4L188.3 257.0L186.9 256.7L188.8 255.4L188.3 254.8L186.6 254.6L186.5 254.0L185.9 253.4L187.3 252.3L185.2 252.2L185.3 251.4L185.0 250.8L186.9 249.5L185.6 249.2L186.9 248.1L184.0 248.2L183.5 247.6L183.5 246.9L186.2 245.5L185.0 245.1L184.2 244.6L184.1 243.9L185.3 242.9L182.9 242.7L184.4 241.7L183.6 241.2L184.7 240.2L183.1 239.9L184.4 238.9L184.4 238.2L182.9 237.8L183.5 237.0L181.8 236.6L183.4 235.6L182.8 235.0L183.9 234.2L183.2 233.6L182.3 233.0L181.9 232.4L182.1 231.6L180.7 231.1L183.2 230.1L180.6 229.7L182.8 228.8L180.0 228.4L181.4 227.6L181.8 226.8L181.0 226.2L180.1 225.6L179.7 224.9L181.5 224.1L182.8 223.3L182.3 222.7L180.0 222.1L180.3 221.4L180.3 220.7L182.2 219.9L180.9 219.3L182.6 218.6L182.3 217.9L181.6 217.2L179.3 216.6L180.4 215.9L179.7 215.2L182.4 214.5L181.2 213.8L182.3 213.1L181.7 212.4L182.3 211.7L179.5 211.0L181.6 210.4L181.0 209.6L180.5 208.9L179.7 208.2L179.6 207.5L180.9 206.9L181.2 206.2L179.9 205.4L181.6 204.9L182.0 204.2L180.6 203.4L182.3 202.8L182.0 202.1L181.8 201.4L181.7 200.7L182.2 200.1L182.0 199.4L182.0 198.7L183.5 198.2L180.9 197.1L183.6 196.8L182.2 195.9L182.2 195.2L182.8 194.6L183.5 194.0L184.0 193.4L183.2 192.6L183.5 192.0L183.1 191.2L184.0 190.7L182.4 189.7L183.4 189.1L185.2 188.8L184.0 187.9L182.3 186.8L185.6 186.8L183.8 185.7L182.7 184.7L184.9 184.5L184.3 183.7L185.2 183.2L185.6 182.6L184.7 181.7L185.0 181.0L186.1 180.6L185.6 179.8L185.8 179.1L185.2 178.2L187.6 178.2L187.7 177.5L187.4 176.7L187.5 176.0L186.0 174.8L187.4 174.5L186.2 173.4L187.9 173.3L188.5 172.7L187.5 171.7L189.6 171.7L187.0 170.0L187.7 169.5L189.5 169.5L189.8 168.8L188.5 167.6L188.8 167.0L189.5 166.5L191.6 166.6L189.7 165.1L192.2 165.3L190.6 164.0L191.1 163.4L190.2 162.3L191.4 162.0L193.6 162.2L191.0 160.4L191.9 160.0L192.7 159.6L194.8 159.8L192.8 158.1L194.1 158.0L193.6 157.0L192.9 155.9L193.5 155.3L196.3 156.0L194.5 154.3L195.8 154.2L195.2 153.1L196.7 153.1L196.8 152.4L197.1 151.8L198.4 151.7L198.2 150.8L197.3 149.5L199.6 150.0L199.8 149.4L198.0 147.5L198.9 147.2L199.6 146.8L201.2 147.0L201.5 146.4L201.3 145.5L199.8 143.8L201.3 143.9L200.7 142.6L203.1 143.4L202.9 142.4L202.9 141.6L202.4 140.5L204.8 141.3L203.1 139.3L204.6 139.5L206.3 139.8L205.6 138.4L206.1 138.0L205.7 136.8L205.4 135.7L207.0 136.1L206.9 135.1L208.1 135.2L207.5 133.8L209.7 134.7L208.4 132.8L210.4 133.5L209.7 132.1L211.2 132.3L211.2 131.5L212.1 131.4L212.1 130.4L211.9 129.4L212.5 129.0L213.3 128.8L213.3 127.9L213.1 126.7L214.8 127.3L214.6 126.3L215.4 126.0L214.6 124.3L216.7 125.3L216.2 124.0L217.9 124.6L218.3 124.0L217.6 122.4L218.5 122.3L219.7 122.6L220.7 122.5L219.3 120.2L220.9 120.8L220.6 119.5L221.7 119.7L221.8 118.8L222.4 118.5L222.0 117.0L222.7 116.6L224.2 117.3L224.6 116.8L225.7 117.0L225.1 115.2L227.0 116.4L227.1 115.4L226.4 113.6L228.8 115.2L227.8 113.1L228.6 113.0L229.2 112.6L230.2 112.7L231.1 112.8L230.0 110.2L230.9 110.3L231.4 109.8L233.4 111.2L232.5 109.0L234.2 110.1L234.8 109.7L234.7 108.4L235.1 107.8L236.6 108.7L235.9 106.6L236.9 106.7L236.8 105.4L237.3 104.9L238.4 105.2L239.5 105.7L239.0 103.7L240.0 104.0L241.4 104.8L240.9 102.8L241.8 102.8L243.2 103.8L243.8 103.5L244.8 103.8L244.5 101.9L245.5 102.4L246.1 101.9L246.7 101.7L247.5 101.7L247.5 100.3L248.5 100.6L249.1 100.2L249.7 99.9L249.9 98.9L249.9 97.5L251.7 99.3L251.2 96.9L251.8 96.6L252.8 97.0L253.5 96.9L253.8 96.0L254.8 96.3L255.2 95.6L255.4 94.5L256.3 94.7L257.6 96.0L258.6 96.3L257.9 93.3L259.4 94.8L259.4 93.2L260.8 94.7L261.1 93.7L261.9 93.7L262.1 92.3L262.4 91.4L263.6 92.5L264.2 92.0L265.1 92.5L265.9 92.6L265.7 90.1L267.3 92.5L267.0 89.6L268.0 90.3L269.3 91.9L269.0 89.1L270.5 91.4L270.7 89.7L271.8 90.9L271.5 87.9L272.9 89.9L273.0 87.8L274.5 90.3L274.5 88.1L275.8 89.9L276.4 89.8L276.6 87.8L276.9 86.3L277.8 87.1L278.4 86.4L279.1 86.4L280.0 87.1L281.0 88.4L281.3 86.8L282.3 87.7L282.7 86.4L283.5 86.9L284.0 86.2L284.9 87.1L285.2 85.2L286.1 86.1L286.7 85.7L287.7 86.9L288.1 85.4L288.7 85.1L289.1 83.6L290.1 84.8L291.0 86.1L291.6 85.5L292.2 85.2L292.7 83.9L293.3 83.0L294.0 82.8L294.7 82.8L295.4 82.8L296.1 82.9L296.7 82.6L297.8 85.6L298.3 83.9L298.9 83.5L299.6 83.1L300.6 93.0L299.9 93.0L299.3 93.1L298.7 93.2L298.0 93.3L297.4 93.3L296.7 93.4L296.1 93.5L295.5 93.6L294.8 93.7L294.2 93.8L293.6 93.9L292.9 94.0L292.3 94.1L291.7 94.2L291.1 94.3L290.4 94.4L289.8 94.5L289.2 94.6L288.5 94.8L287.9 94.9L287.3 95.0L286.7 95.2L286.0 95.3L285.4 95.4L284.8 95.6L284.2 95.7L283.5 95.9L282.9 96.0L282.3 96.2L281.7 96.3L281.1 96.5L280.4 96.7L279.8 96.8L279.2 97.0L278.6 97.2L278.0 97.4L277.4 97.6L276.7 97.7L276.1 97.9L275.5 98.1L274.9 98.3L274.3 98.5L273.7 98.7L273.1 98.9L272.5 99.1L271.9 99.3L271.3 99.6L270.7 99.8L270.1 100.0L269.5 100.2L268.9 100.4L268.3 100.7L267.7 100.9L267.1 101.1L266.5 101.4L265.9 101.6L265.3 101.9L264.7 102.1L264.1 102.4L263.5 102.6L263.0 102.9L262.4 103.1L261.8 103.4L261.2 103.7L260.6 103.9L260.0 104.2L259.5 104.5L258.9 104.8L258.3 105.1L257.7 105.3L257.2 105.6L256.6 105.9L256.0 106.2L255.5 106.5L254.9 106.8L254.3 107.1L253.8 107.4L253.2 107.7L252.6 108.0L252.1 108.4L251.5 108.7L251.0 109.0L250.4 109.3L249.9 109.6L249.3 110.0L248.8 110.3L248.2 110.6L247.7 111.0L247.1 111.3L246.6 111.7L246.1 112.0L245.5 112.4L245.0 112.7L244.5 113.1L243.9 113.4L243.4 113.8L242.9 114.2L242.4 114.5L241.8 114.9L241.3 115.3L240.8 115.6L240.3 116.0L239.8 116.4L239.2 116.8L238.7 117.2L238.2 117.5L237.7 117.9L237.2 118.3L236.7 118.7L236.2 119.1L235.7 119.5L235.2 119.9L234.7 120.3L234.2 120.7L233.7 121.2L233.2 121.6L232.7 122.0L232.3 122.4L231.8 122.8L231.3 123.2L230.8 123.7L230.3 124.1L229.9 124.5L229.4 125.0L228.9 125.4L228.5 125.8L228.0 126.3L227.5 126.7L227.1 127.2L226.6 127.6L226.2 128.1L225.7 128.5L225.3 129.0L224.8 129.4L224.4 129.9L223.9 130.4L223.5 130.8L223.1 131.3L222.6 131.8L222.2 132.2L221.8 132.7L221.3 133.2L220.9 133.7L220.5 134.1L220.1 134.6L219.6 135.1L219.2 135.6L218.8 136.1L218.4 136.6L218.0 137.1L217.6 137.6L217.2 138.1L216.8 138.6L216.4 139.1L216.0 139.6L215.6 140.1L215.2 140.6L214.8 141.1L214.4 141.6L214.1 142.1L213.7 142.6L213.3 143.2L212.9 143.7L212.6 144.2L212.2 144.7L211.8 145.3L211.5 145.8L211.1 146.3L210.8 146.8L210.4 147.4L210.0 147.9L209.7 148.4L209.4 149.0L209.0 149.5L208.7 150.1L208.3 150.6L208.0 151.2L207.7 151.7L207.3 152.3L207.0 152.8L206.7 153.4L206.4 153.9L206.1 154.5L205.7 155.0L205.4 155.6L205.1 156.2L204.8 156.7L204.5 157.3L204.2 157.8L203.9 158.4L203.6 159.0L203.3 159.6L203.0 160.1L202.8 160.7L202.5 161.3L202.2 161.9L201.9 162.4L201.7 163.0L201.4 163.6L201.1 164.2L200.9 164.8L200.6 165.3L200.3 165.9L200.1 166.5L199.8 167.1L199.6 167.7L199.3 168.3L199.1 168.9L198.9 169.5L198.6 170.1L198.4 170.7L198.2 171.3L197.9 171.9L197.7 172.5L197.5 173.1L197.3 173.7L197.1 174.3L196.9 174.9L196.7 175.5L196.5 176.1L196.3 176.7L196.1 177.3L195.9 177.9L195.7 178.5L195.5 179.1L195.3 179.8L195.1 180.4L194.9 181.0L194.8 181.6L194.6 182.2L194.4 182.8L194.3 183.5L194.1 184.1L193.9 184.7L193.8 185.3L193.6 185.9L193.5 186.6L193.3 187.2L193.2 187.8L193.1 188.4L192.9 189.1L192.8 189.7L192.7 190.3L192.5 190.9L192.4 191.6L192.3 192.2L192.2 192.8L192.1 193.5L191.9 194.1L191.8 194.7L191.7 195.4L191.6 196.0L191.5 196.6L191.5 197.3L191.4 197.9L191.3 198.5L191.2 199.2L191.1 199.8L191.0 200.4L191.0 201.1L190.9 201.7L190.8 202.3L190.8 203.0L190.7 203.6L190.6 204.3L190.6 204.9L190.5 205.5L190.5 206.2L190.5 206.8L190.4 207.4L190.4 208.1L190.3 208.7L190.3 209.4L190.3 210.0L190.3 210.6L190.2 211.3L190.2 211.9L190.2 212.6L190.2 213.2L190.2 213.8L190.2 214.5L190.2 215.1L190.2 215.8L190.2 216.4L190.2 217.0L190.2 217.7L190.3 218.3L190.3 219.0L190.3 219.6L190.3 220.2L190.4 220.9L190.4 221.5L190.4 222.2L190.5 222.8L190.5 223.4L190.6 224.1L190.6 224.7L190.7 225.4L190.7 226.0L190.8 226.6L190.8 227.3L190.9 227.9L191.0 228.5L191.1 229.2L191.1 229.8L191.2 230.5L191.3 231.1L191.4 231.7L191.5 232.4L191.6 233.0L191.7 233.6L191.8 234.3L191.9 234.9L192.0 235.5L192.1 236.1L192.2 236.8L192.3 237.4L192.4 238.0L192.6 238.7L192.7 239.3L192.8 239.9L193.0 240.5L193.1 241.2L193.2 241.8L193.4 242.4L193.5 243.0L193.7 243.7L193.8 244.3L194.0 244.9L194.1 245.5L194.3 246.1L194.5 246.8L194.6 247.4L194.8 248.0L195.0 248.6L195.2 249.2L195.4 249.8L195.5 250.5L195.7 251.1L195.9 251.7L196.1 252.3L196.3 252.9L196.5 253.5L196.7 254.1L196.9 254.7L197.1 255.3L197.4 255.9L197.6 256.5L197.8 257.1L198.0 257.7L198.2 258.3L198.5 258.9L198.7 259.5L198.9 260.1L199.2 260.7L199.4 261.3L199.7 261.9L199.9 262.5L200.2 263.1L200.4 263.7L200.7 264.2L200.9 264.8L201.2 265.4L201.5 266.0L201.7 266.6L202.0 267.2L202.3 267.7L202.6 268.3L202.9 268.9L203.1 269.5L203.4 270.0L203.7 270.6L204.0 271.2L204.3 271.7L204.6 272.3L204.9 272.9L205.2 273.4L205.5 274.0L205.8 274.6L206.2 275.1L206.5 275.7L206.8 276.2L207.1 276.8L207.4 277.3L207.8 277.9L208.1 278.4L208.4 279.0L208.8 279.5L209.1 280.1L209.5 280.6L209.8 281.1L210.2 281.7L210.5 282.2L210.9 282.7L211.2 283.3L211.6 283.8L212.0 284.3L212.3 284.8L212.7 285.4L213.1 285.9L213.4 286.4L213.8 286.9L214.2 287.4L214.6 288.0L215.0 288.5L215.3 289.0L215.7 289.5L216.1 290.0L216.5 290.5L216.9 291.0L217.3 291.5L217.7 292.0L218.1 292.5L218.5 293.0L219.0 293.5L219.4 294.0L219.8 294.5L220.2 294.9L220.6 295.4L221.0 295.9L221.5 296.4L221.9 296.9L222.3 297.3L222.8 297.8L223.2 298.3L223.6 298.7L224.1 299.2L224.5 299.7L225.0 300.1L225.4 300.6L225.9 301.0L226.3 301.5L226.8 301.9L227.2 302.4L227.7 302.8L228.2 303.3L228.6 303.7L229.1 304.1L229.6 304.6L230.0 305.0L230.5 305.4L231.0 305.9L231.5 306.3L231.9 306.7L232.4 307.1L232.9 307.6L233.4 308.0L233.9 308.4L234.4 308.8L234.9 309.2L235.4 309.6L235.9 310.0L236.4 310.4L236.9 310.8L237.4 311.2L237.9 311.6L238.4 312.0L238.9 312.4L239.4 312.8L239.9 313.1L240.4 313.5L241.0 313.9L241.5 314.3L242.0 314.6L242.5 315.0L243.1 315.4L243.6 315.7L244.1 316.1L244.6 316.4L245.2 316.8L245.7 317.2L246.2 317.5L246.8 317.8L247.3 318.2L247.9 318.5L248.4 318.9L249.0 319.2L249.5 319.5L250.1 319.9L250.6 320.2L251.2 320.5L251.7 320.8L252.3 321.1L252.8 321.5L253.4 321.8L254.0 322.1L254.5 322.4L255.1 322.7L255.6 323.0L256.2 323.3L256.8 323.6L257.4 323.9L257.9 324.2L258.5 324.4L259.1 324.7L259.7 325.0L260.2 325.3L260.8 325.5L261.4 325.8L262.0 326.1L262.6 326.3L263.1 326.6L263.7 326.9L264.3 327.1L264.9 327.4L265.5 327.6L266.1 327.9L266.7 328.1L267.3 328.3L267.9 328.6L268.5 328.8L269.1 329.0L269.7 329.3L270.3 329.5L270.9 329.7L271.5 329.9L272.1 330.1L272.7 330.3L273.3 330.5L273.9 330.7L274.5 330.9L275.1 331.1L275.7 331.3L276.3 331.5L276.9 331.7L277.6 331.9L278.2 332.1L278.8 332.3L279.4 332.4L280.0 332.6L280.6 332.8L281.3 332.9L281.9 333.1L282.5 333.3L283.1 333.4L283.7 333.6L284.4 333.7L285.0 333.9L285.6 334.0L286.2 334.1L286.9 334.3L287.5 334.4L288.1 334.5L288.7 334.7L289.4 334.8L290.0 334.9L290.6 335.0L291.3 335.1L291.9 335.3L292.5 335.4L293.2 335.5L293.8 335.6L294.4 335.7L295.1 335.7L295.7 335.8L296.3 335.9L297.0 336.0L297.6 336.1L298.2 336.2L298.9 336.2L299.5 336.3L300.1 336.4L300.8 336.4L301.4 336.5L302.1 336.6L302.7 336.6L303.3 336.7L304.0 336.7L304.6 336.7L305.2 336.8L305.9 336.8L306.5 336.9L307.2 336.9L307.8 336.9L308.4 336.9L309.1 337.0L309.7 337.0L310.4 337.0L311.0 337.0L311.6 337.0L312.3 337.0L312.9 337.0L313.6 337.0L314.2 337.0L314.8 337.0L315.5 337.0L316.1 336.9L316.8 336.9L317.4 336.9L318.0 336.9L318.7 336.8L319.3 336.8L320.0 336.8L320.6 336.7L321.2 336.7L321.9 336.6L322.5 336.6L323.2 336.5L323.8 336.5L324.4 336.4L325.1 336.4L325.7 336.3L326.3 336.2L327.0 336.1L327.6 336.1L328.3 336.0L328.9 335.9L329.5 335.8L330.2 335.7L330.8 335.6L331.4 335.5L332.1 335.4L332.7 335.3L333.3 335.2L333.9 335.1L334.6 335.0L335.2 334.9L335.8 334.8L336.5 334.6L337.1 334.5L337.7 334.4L338.3 334.2L339.0 334.1L339.6 334.0L340.2 333.8L340.8 333.7L341.5 333.5L342.1 333.4L342.7 333.2L343.3 333.1L343.9 332.9L344.6 332.7L345.2 332.6L345.8 332.4L346.4 332.2L347.0 332.0L347.6 331.8L348.3 331.7L348.9 331.5L349.5 331.3L350.1 331.1L350.7 330.9L351.3 330.7L351.9 330.5L352.5 330.3L353.1 330.1L353.7 329.8L354.3 329.6L354.9 329.4L355.5 329.2L356.1 329.0L356.7 328.7L357.3 328.5L357.9 328.3L358.5 328.0L359.1 327.8L359.7 327.5L360.3 327.3L360.9 327.0L361.5 326.8L362.0 326.5L362.6 326.3L363.2 326.0L363.8 325.7L364.4 325.5L365.0 325.2L365.5 324.9L366.1 324.6L366.7 324.3L367.3 324.1L367.8 323.8L368.4 323.5L369.0 323.2L369.5 322.9L370.1 322.6L370.7 322.3L371.2 322.0L371.8 321.7L372.4 321.4L372.9 321.0L373.5 320.7L374.0 320.4L374.6 320.1L375.1 319.8L375.7 319.4L376.2 319.1L376.8 318.8L377.3 318.4L377.9 318.1L378.4 317.7L378.9 317.4L379.5 317.0L380.0 316.7L380.5 316.3L381.1 316.0L381.6 315.6L382.1 315.2L382.6 314.9L383.2 314.5L383.7 314.1L384.2 313.8L384.7 313.4L385.2 313.0L385.8 312.6L386.3 312.2L386.8 311.9L387.3 311.5L387.8 311.1L388.3 310.7L388.8 310.3L389.3 309.9L389.8 309.5L390.3 309.1L390.8 308.7L391.3 308.2L391.8 307.8L392.3 307.4L392.7 307.0L393.2 306.6L393.7 306.2L394.2 305.7L394.7 305.3L395.1 304.9L395.6 304.4L396.1 304.0L396.5 303.6L397.0 303.1L397.5 302.7L397.9 302.2L398.4 301.8L398.8 301.3L399.3 300.9L399.7 300.4L400.2 300.0L400.6 299.5L401.1 299.0L401.5 298.6L401.9 298.1L402.4 297.6L402.8 297.2L403.2 296.7L403.7 296.2L404.1 295.7L404.5 295.3L404.9 294.8L405.4 294.3L405.8 293.8L406.2 293.3L406.6 292.8L407.0 292.3L407.4 291.8L407.8 291.3L408.2 290.8L408.6 290.3L409.0 289.8L409.4 289.3L409.8 288.8L410.2 288.3L410.6 287.8L410.9 287.3L411.3 286.8L411.7 286.2L412.1 285.7L412.4 285.2L412.8 284.7L413.2 284.1L413.5 283.6L413.9 283.1L414.2 282.6L414.6 282.0L415.0 281.5L415.3 281.0L415.6 280.4L416.0 279.9L416.3 279.3L416.7 278.8L417.0 278.2L417.3 277.7L417.7 277.1L418.0 276.6L418.3 276.0L418.6 275.5L418.9 274.9L419.3 274.4L419.6 273.8L419.9 273.2L420.2 272.7L420.5 272.1L420.8 271.6L421.1 271.0L421.4 270.4L421.7 269.8L422.0 269.3L422.2 268.7L422.5 268.1L422.8 267.5L423.1 267.0L423.3 266.4L423.6 265.8L423.9 265.2L424.1 264.6L424.4 264.1L424.7 263.5L424.9 262.9L425.2 262.3L425.4 261.7L425.7 261.1L425.9 260.5L426.1 259.9L426.4 259.3L426.6 258.7L426.8 258.1L427.1 257.5L427.3 256.9L427.5 256.3L427.7 255.7L427.9 255.1L428.1 254.5L428.3 253.9L428.5 253.3L428.7 252.7L428.9 252.1L429.1 251.5L429.3 250.9L429.5 250.3L429.7 249.6L429.9 249.0L430.1 248.4L430.2 247.8L430.4 247.2L430.6 246.6L430.7 245.9L430.9 245.3L431.1 244.7L431.2 244.1L431.4 243.5L431.5 242.8L431.7 242.2L431.8 241.6L431.9 241.0L432.1 240.3L432.2 239.7L432.3 239.1L432.5 238.5L432.6 237.8L432.7 237.2L432.8 236.6L432.9 235.9L433.1 235.3L433.2 234.7L433.3 234.0L433.4 233.4L433.5 232.8L433.5 232.1L433.6 231.5L433.7 230.9L433.8 230.2L433.9 229.6L434.0 229.0L434.0 228.3L434.1 227.7L434.2 227.1L434.2 226.4L434.3 225.8L434.4 225.1L434.4 224.5L434.5 223.9L434.5 223.2L434.5 222.6L434.6 222.0L434.6 221.3L434.7 220.7L434.7 220.0L434.7 219.4L434.7 218.8L434.8 218.1L434.8 217.5L434.8 216.8L434.8 216.2L434.8 215.6L434.8 214.9L434.8 214.3L434.8 213.6L434.8 213.0L434.8 212.4L434.8 211.7L434.7 211.1L434.7 210.4L434.7 209.8L434.7 209.2L434.6 208.5L434.6 207.9L434.6 207.2L434.5 206.6L434.5 206.0L434.4 205.3L434.4 204.7L434.3 204.0L434.3 203.4L434.2 202.8L434.2 202.1L434.1 201.5L434.0 200.9L433.9 200.2L433.9 199.6L433.8 198.9L433.7 198.3L433.6 197.7L433.5 197.0L433.4 196.4L433.3 195.8L433.2 195.1L433.1 194.5L433.0 193.9L432.9 193.3L432.8 192.6L432.7 192.0L432.6 191.4L432.4 190.7L432.3 190.1L432.2 189.5L432.0 188.9L431.9 188.2L431.8 187.6L431.6 187.0L431.5 186.4L431.3 185.7L431.2 185.1L431.0 184.5L430.9 183.9L430.7 183.3L430.5 182.6L430.4 182.0L430.2 181.4L430.0 180.8L429.8 180.2L429.6 179.6L429.5 178.9L429.3 178.3L429.1 177.7L428.9 177.1L428.7 176.5L428.5 175.9L428.3 175.3L428.1 174.7L427.9 174.1L427.6 173.5L427.4 172.9L427.2 172.3L427.0 171.7L426.8 171.1L426.5 170.5L426.3 169.9L426.1 169.3L425.8 168.7L425.6 168.1L425.3 167.5L425.1 166.9L424.8 166.3L424.6 165.7L424.3 165.2L424.1 164.6L423.8 164.0L423.5 163.4L423.3 162.8L423.0 162.2L422.7 161.7L422.4 161.1L422.1 160.5L421.9 159.9L421.6 159.4L421.3 158.8L421.0 158.2L420.7 157.7L420.4 157.1L420.1 156.5L419.8 156.0L419.5 155.4L419.2 154.8L418.8 154.3L418.5 153.7L418.2 153.2L417.9 152.6L417.6 152.1L417.2 151.5L416.9 151.0L416.6 150.4L416.2 149.9L415.9 149.3L415.5 148.8L415.2 148.3L414.8 147.7L414.5 147.2L414.1 146.7L413.8 146.1L413.4 145.6L413.0 145.1L412.7 144.6L412.3 144.0L411.9 143.5L411.6 143.0L411.2 142.5L410.8 142.0L410.4 141.4L410.0 140.9L409.7 140.4L409.3 139.9L408.9 139.4L408.5 138.9L408.1 138.4L407.7 137.9L407.3 137.4L406.9 136.9L406.5 136.4L406.0 135.9L405.6 135.4L405.2 134.9L404.8 134.5L404.4 134.0L404.0 133.5L403.5 133.0L403.1 132.5L402.7 132.1L402.2 131.6L401.8 131.1L401.4 130.7L400.9 130.2L400.5 129.7L400.0 129.3L399.6 128.8L399.1 128.4L398.7 127.9L398.2 127.5L397.8 127.0L397.3 126.6L396.8 126.1L396.4 125.7L395.9 125.3L395.4 124.8L395.0 124.4L394.5 124.0L394.0 123.5L393.5 123.1L393.1 122.7L392.6 122.3L392.1 121.8L391.6 121.4L391.1 121.0L390.6 120.6L390.1 120.2L389.6 119.8L389.1 119.4L388.6 119.0L388.1 118.6L387.6 118.2L387.1 117.8L386.6 117.4L386.1 117.0L385.6 116.6L385.1 116.3L384.6 115.9L384.0 115.5L383.5 115.1L383.0 114.8L382.5 114.4L381.9 114.0L381.4 113.7L380.9 113.3L380.4 113.0L379.8 112.6L379.3 112.2L378.8 111.9L378.2 111.6L377.7 111.2L377.1 110.9L376.6 110.5L376.0 110.2L375.5 109.9L374.9 109.5L374.4 109.2L373.8 108.9L373.3 108.6L372.7 108.3L372.2 107.9L371.6 107.6L371.0 107.3L370.5 107.0L369.9 106.7L369.4 106.4L368.8 106.1L368.2 105.8L367.6 105.5L367.1 105.2L366.5 105.0L365.9 104.7L365.3 104.4L364.8 104.1L364.2 103.9L363.6 103.6L363.0 103.3L362.4 103.1L361.9 102.8L361.3 102.5L360.7 102.3L360.1 102.0L359.5 101.8L358.9 101.5L358.3 101.3L357.7 101.1L357.1 100.8L356.5 100.6L355.9 100.4L355.3 100.1L354.7 99.9L354.1 99.7L353.5 99.5L352.9 99.3L352.3 99.1L351.7 98.9L351.1 98.7L350.5 98.5L349.9 98.3L349.3 98.1L348.7 97.9L348.1 97.7L347.4 97.5L346.8 97.3L346.2 97.1L345.6 97.0L345.0 96.8L344.4 96.6L343.7 96.5L343.1 96.3L342.5 96.1L341.9 96.0L341.3 95.8L340.6 95.7L340.0 95.5L339.4 95.4L338.8 95.3L338.1 95.1L337.5 95.0L336.9 94.9L336.3 94.7L335.6 94.6L335.0 94.5L334.4 94.4L333.7 94.3L333.1 94.1L332.5 94.0L331.8 93.9L331.2 93.8L330.6 93.7L329.9 93.7L329.3 93.6L328.7 93.5L328.0 93.4L327.4 93.3L326.8 93.2L326.1 93.2L325.5 93.1L324.9 93.0Z" fill="#9c9c9c"/>
<path d="M326.3 86.3L327.2 86.4L328.3 85.5L328.8 88.3L329.9 87.0L331.0 85.8L331.5 88.8L332.4 88.7L333.7 86.5L334.7 86.3L335.1 89.4L336.0 89.6L337.3 87.2L338.1 87.9L338.9 88.6L339.9 88.6L340.9 88.2L341.8 88.3L342.1 91.0L343.0 91.0L344.5 89.0L345.5 88.6L346.3 89.3L346.8 90.9L347.6 91.3L348.5 91.5L349.1 92.8L350.7 90.8L351.0 92.6L352.2 91.9L353.0 92.4L353.7 93.2L354.9 92.5L355.6 93.5L353.4 99.5L352.6 99.2L351.8 98.9L351.0 98.6L350.1 98.3L349.3 98.1L348.5 97.8L347.7 97.6L346.8 97.3L346.0 97.1L345.2 96.8L344.3 96.6L343.5 96.4L342.6 96.2L341.8 96.0L341.0 95.8L340.1 95.6L339.3 95.4L338.4 95.2L337.6 95.0L336.7 94.8L335.9 94.7L335.0 94.5L334.2 94.3L333.3 94.2L332.5 94.0L331.6 93.9L330.8 93.8L329.9 93.6L329.0 93.5L328.2 93.4L327.3 93.3L326.5 93.2L325.6 93.1Z" fill="#62c86e"/>
<path d="M356.8 94.7L358.4 93.0L358.4 95.5L359.2 95.9L360.2 95.9L361.3 95.6L362.6 95.0L362.9 96.7L363.6 97.4L365.0 96.5L365.3 98.1L366.5 97.7L366.9 98.8L368.6 97.4L368.5 99.8L369.4 100.1L370.3 100.3L371.1 100.6L372.5 99.9L373.3 100.5L374.3 100.6L374.7 101.8L374.8 103.5L376.7 102.0L376.6 103.9L377.4 104.5L378.5 104.4L380.2 103.3L380.0 105.5L380.7 106.0L382.5 105.0L383.4 105.3L383.1 107.4L379.7 112.5L379.0 112.1L378.3 111.6L377.5 111.1L376.8 110.7L376.0 110.2L375.3 109.8L374.5 109.3L373.8 108.9L373.0 108.4L372.3 108.0L371.5 107.6L370.7 107.2L370.0 106.7L369.2 106.3L368.4 105.9L367.6 105.5L366.9 105.1L366.1 104.8L365.3 104.4L364.5 104.0L363.7 103.6L362.9 103.3L362.1 102.9L361.3 102.6L360.5 102.2L359.7 101.9L358.9 101.5L358.1 101.2L357.3 100.9L356.5 100.6L355.6 100.3L354.8 100.0Z" fill="#62c86e"/>
<path d="M384.0 108.9L385.9 107.7L386.7 108.3L386.6 110.0L388.2 109.3L388.2 111.0L388.7 111.7L390.1 111.5L391.1 111.7L391.3 112.9L392.7 112.6L391.9 115.2L393.5 114.6L394.0 115.5L394.1 116.8L396.5 115.4L395.6 117.8L396.5 118.3L398.6 117.3L399.5 117.7L400.1 118.4L399.5 120.4L401.5 119.7L400.4 122.1L402.3 121.5L403.5 121.6L398.0 127.2L397.4 126.6L396.7 126.0L396.1 125.4L395.4 124.8L394.8 124.2L394.1 123.6L393.5 123.1L392.8 122.5L392.2 121.9L391.5 121.3L390.8 120.8L390.1 120.2L389.5 119.6L388.8 119.1L388.1 118.6L387.4 118.0L386.7 117.5L386.0 116.9L385.3 116.4L384.6 115.9L383.9 115.4L383.1 114.9L382.4 114.4L381.7 113.9L381.0 113.4Z" fill="#62c86e"/>
<path d="M403.0 124.4L403.5 125.2L405.4 124.6L406.5 124.8L406.7 125.9L407.9 126.0L407.4 127.8L407.8 128.7L407.8 129.9L408.8 130.2L411.0 129.5L409.5 132.0L410.4 132.5L411.3 132.9L411.2 134.2L412.4 134.4L412.7 135.3L413.1 136.2L414.7 136.1L415.3 136.8L415.9 137.5L410.5 141.5L410.0 140.8L409.4 140.1L408.9 139.4L408.4 138.8L407.8 138.1L407.3 137.4L406.7 136.7L406.1 136.0L405.6 135.4L405.0 134.7L404.4 134.0L403.9 133.4L403.3 132.7L402.7 132.1L402.1 131.4L401.5 130.8L400.9 130.2L400.3 129.5L399.7 128.9L399.1 128.3Z" fill="#62c86e"/>
<path d="M417.3 138.4L417.2 139.6L418.9 139.6L417.1 141.9L418.0 142.4L418.2 143.4L419.3 143.8L421.0 143.8L422.0 144.3L421.3 145.8L420.9 147.1L421.8 147.6L423.0 148.0L422.7 149.3L424.5 149.3L425.5 149.8L424.5 151.4L425.4 152.0L426.5 152.4L425.9 153.8L425.5 155.1L428.1 154.8L428.6 155.5L426.3 157.7L428.8 157.5L428.2 158.9L427.6 160.2L423.0 162.3L422.6 161.5L422.3 160.8L421.9 160.0L421.5 159.2L421.1 158.4L420.7 157.6L420.3 156.8L419.8 156.1L419.4 155.3L419.0 154.5L418.5 153.8L418.1 153.0L417.7 152.3L417.2 151.5L416.8 150.8L416.3 150.0L415.8 149.3L415.4 148.5L414.9 147.8L414.4 147.1L413.9 146.3L413.4 145.6L412.9 144.9L412.4 144.2L411.9 143.4L411.4 142.7Z" fill="#62c86e"/>
<path d="M428.6 161.4L429.0 162.2L431.0 162.3L429.8 163.8L429.6 164.9L430.5 165.4L432.6 165.6L432.0 166.8L432.8 167.4L432.6 168.5L432.1 169.6L431.9 170.7L433.1 171.2L432.6 172.3L433.5 172.9L434.9 173.4L434.4 174.5L435.0 175.2L435.8 176.0L435.1 177.1L435.5 177.9L437.3 178.3L436.7 179.5L430.2 181.3L429.9 180.5L429.7 179.7L429.4 178.8L429.2 178.0L428.9 177.2L428.6 176.4L428.4 175.6L428.1 174.8L427.8 174.0L427.5 173.2L427.2 172.4L426.9 171.6L426.6 170.8L426.3 170.0L426.0 169.2L425.7 168.4L425.4 167.6L425.0 166.8L424.7 166.0L424.4 165.2L424.0 164.5L423.7 163.7Z" fill="#62c86e"/>
<path d="M436.6 181.1L437.2 181.9L437.2 182.8L437.0 183.8L439.0 184.3L437.1 185.6L439.5 186.0L439.4 187.0L439.7 187.9L437.7 189.2L438.9 189.9L440.6 190.5L438.6 191.8L438.4 192.8L440.2 193.4L438.9 194.5L440.1 195.3L438.9 196.4L441.5 196.9L439.5 198.1L433.8 198.8L433.7 198.0L433.5 197.1L433.4 196.3L433.3 195.4L433.1 194.6L433.0 193.7L432.8 192.9L432.7 192.0L432.5 191.2L432.3 190.3L432.2 189.5L432.0 188.6L431.8 187.8L431.6 186.9L431.4 186.1L431.2 185.2L431.0 184.4L430.8 183.6L430.5 182.7Z" fill="#62c86e"/>
<path d="M439.1 199.7L441.1 200.4L440.1 201.4L440.9 202.3L440.8 203.2L442.2 204.0L441.0 205.0L440.6 205.9L439.5 206.9L441.1 207.7L440.4 208.7L441.4 209.6L441.7 210.5L441.1 211.4L440.0 212.3L441.3 213.2L441.2 214.1L441.8 215.0L434.8 215.0L434.8 214.2L434.8 213.3L434.8 212.4L434.8 211.6L434.7 210.7L434.7 209.8L434.7 209.0L434.6 208.1L434.6 207.2L434.5 206.4L434.5 205.5L434.4 204.6L434.3 203.8L434.2 202.9L434.1 202.0L434.1 201.2L434.0 200.3Z" fill="#62c86e"/>
<path d="M442.8 216.6L440.6 217.5L441.1 218.5L439.9 219.4L442.1 220.4L440.3 221.3L442.1 222.3L442.0 223.2L440.2 224.1L442.2 225.2L440.8 226.0L440.5 226.9L440.8 227.9L441.9 228.9L440.4 229.7L440.3 230.6L439.5 231.5L441.1 232.7L433.6 231.6L433.7 230.7L433.9 229.8L434.0 229.0L434.1 228.1L434.2 227.2L434.2 226.3L434.3 225.4L434.4 224.5L434.5 223.6L434.5 222.7L434.6 221.9L434.6 221.0L434.7 220.1L434.7 219.2L434.7 218.3L434.8 217.4L434.8 216.5Z" fill="#62c86e"/>
<path d="M439.8 234.1L439.2 234.9L438.6 235.8L438.5 236.7L440.3 238.0L440.0 238.9L440.4 239.9L440.0 240.8L439.1 241.6L439.2 242.6L438.7 243.5L438.8 244.5L438.6 245.4L436.4 245.8L438.2 247.2L436.3 247.7L435.9 248.6L430.4 247.1L430.7 246.2L430.9 245.3L431.1 244.5L431.3 243.6L431.5 242.7L431.7 241.9L431.9 241.0L432.1 240.1L432.3 239.3L432.5 238.4L432.7 237.5L432.8 236.6L433.0 235.7L433.1 234.9L433.3 234.0L433.4 233.1Z" fill="#62c86e"/>
<path d="M437.6 250.7L434.6 250.7L435.8 252.0L435.0 252.7L436.1 254.0L435.3 254.7L435.9 255.9L435.7 256.8L434.5 257.3L432.5 257.5L434.0 259.0L432.0 259.3L434.3 261.1L433.7 261.8L431.7 262.0L430.9 262.7L432.1 264.1L425.5 261.4L425.9 260.6L426.2 259.8L426.5 259.0L426.8 258.2L427.1 257.4L427.4 256.6L427.7 255.8L428.0 255.0L428.2 254.2L428.5 253.4L428.8 252.6L429.0 251.8L429.3 251.0L429.5 250.2L429.8 249.3L430.0 248.5Z" fill="#62c86e"/>
<path d="M431.7 265.7L432.0 266.8L430.5 267.2L428.7 267.4L430.1 269.0L427.7 269.0L429.7 270.9L429.0 271.6L428.6 272.5L428.5 273.5L427.2 273.8L427.8 275.2L426.5 275.6L425.6 276.2L424.9 276.8L424.4 277.6L419.1 274.6L419.5 273.9L420.0 273.1L420.4 272.3L420.8 271.5L421.2 270.8L421.6 270.0L422.0 269.2L422.4 268.4L422.8 267.6L423.1 266.8L423.5 266.0L423.9 265.2L424.2 264.4L424.6 263.6L425.0 262.8Z" fill="#62c86e"/>
<path d="M422.7 278.4L422.6 279.5L423.8 281.3L421.8 281.2L422.5 282.7L422.3 283.7L421.6 284.3L420.6 284.8L419.6 285.2L418.9 285.9L418.2 286.6L418.9 288.2L418.4 289.0L412.6 284.9L413.1 284.2L413.6 283.5L414.1 282.7L414.6 282.0L415.1 281.2L415.6 280.5L416.1 279.8L416.5 279.0L417.0 278.2L417.5 277.5L417.9 276.7L418.4 275.9Z" fill="#62c86e"/>
<path d="M418.2 290.8L416.1 290.4L417.1 292.2L416.5 292.9L414.3 292.5L415.4 294.5L414.0 294.6L414.3 296.0L413.3 296.3L411.6 296.1L410.9 296.7L410.9 297.9L410.2 298.5L408.5 298.3L409.9 300.7L408.5 300.7L407.8 301.2L403.0 296.9L403.6 296.3L404.2 295.6L404.8 295.0L405.3 294.3L405.9 293.7L406.4 293.0L407.0 292.3L407.5 291.7L408.1 291.0L408.6 290.3L409.2 289.6L409.7 288.9L410.2 288.2L410.7 287.6L411.2 286.9L411.8 286.2Z" fill="#62c86e"/>
<path d="M407.3 303.0L405.6 302.6L404.8 303.1L405.1 304.6L403.7 304.5L403.2 305.4L402.0 305.4L401.3 306.0L401.3 307.3L401.0 308.4L401.3 310.0L399.9 309.9L398.8 310.0L398.1 310.6L397.0 310.8L393.3 306.5L393.9 305.9L394.6 305.4L395.2 304.8L395.9 304.2L396.5 303.6L397.1 303.0L397.8 302.4L398.4 301.8L399.0 301.2L399.6 300.5L400.2 299.9L400.8 299.3L401.4 298.7L402.0 298.0Z" fill="#62c86e"/>
<path d="M396.4 312.4L396.7 314.1L394.2 312.7L394.2 314.0L393.9 315.2L393.4 316.0L392.2 316.1L391.7 316.9L391.5 318.2L390.7 318.6L388.7 317.5L385.3 312.9L386.0 312.4L386.7 311.9L387.4 311.4L388.1 310.8L388.8 310.3L389.5 309.7L390.2 309.2L390.8 308.6L391.5 308.1L392.2 307.5Z" fill="#62c86e"/>
<path d="M388.0 319.2L388.1 321.0L386.4 320.3L385.0 320.0L385.2 322.0L383.2 320.7L382.5 321.5L382.4 323.1L381.1 322.8L381.1 324.6L380.3 325.1L378.8 324.5L378.7 326.2L377.6 326.4L374.1 320.3L374.9 319.9L375.7 319.4L376.5 318.9L377.3 318.4L378.0 318.0L378.8 317.5L379.6 317.0L380.4 316.5L381.1 315.9L381.9 315.4L382.6 314.9L383.4 314.4L384.1 313.8Z" fill="#62c86e"/>
<path d="M376.3 327.3L375.1 327.1L374.3 327.5L373.0 327.0L372.7 328.5L372.6 330.3L371.6 330.5L369.6 328.6L368.8 329.0L368.2 330.0L367.9 331.6L366.7 331.3L364.1 325.6L364.9 325.2L365.7 324.8L366.5 324.4L367.3 324.0L368.1 323.6L368.9 323.2L369.7 322.8L370.5 322.4L371.3 322.0L372.0 321.5L372.8 321.1Z" fill="#62c86e"/>
<path d="M364.9 331.0L364.4 332.3L363.7 333.1L363.1 334.0L361.8 333.4L361.2 334.5L360.3 334.9L359.3 335.1L357.8 333.7L357.6 336.0L356.1 334.6L355.1 334.7L353.4 329.9L354.3 329.6L355.1 329.3L356.0 329.0L356.8 328.7L357.7 328.3L358.5 328.0L359.4 327.7L360.2 327.3L361.1 326.9L361.9 326.6L362.7 326.2Z" fill="#62c86e"/>
<path d="M354.1 336.5L352.7 335.4L351.9 335.9L351.3 337.1L350.5 337.7L349.3 336.8L349.1 339.7L348.1 339.6L346.9 338.8L346.1 339.3L344.9 338.7L343.4 333.0L344.3 332.8L345.2 332.6L346.0 332.3L346.9 332.1L347.7 331.8L348.6 331.5L349.5 331.3L350.3 331.0L351.2 330.7L352.0 330.4Z" fill="#62c86e"/>
<path d="M343.9 341.2L342.3 338.7L341.6 339.5L340.6 339.5L340.1 341.7L339.0 340.8L338.0 340.7L337.0 340.8L336.4 342.5L335.1 340.7L334.5 342.6L333.2 335.2L334.1 335.1L335.0 334.9L335.9 334.7L336.7 334.6L337.6 334.4L338.5 334.2L339.4 334.0L340.2 333.8L341.1 333.6L342.0 333.4Z" fill="#62c86e"/>
<path d="M332.9 342.6L331.8 341.9L330.9 341.7L330.0 342.1L329.1 342.3L328.1 342.0L327.3 343.0L326.3 342.5L325.4 342.2L324.6 343.8L323.6 342.9L323.1 336.5L323.9 336.5L324.8 336.4L325.7 336.3L326.5 336.2L327.4 336.1L328.3 336.0L329.1 335.9L330.0 335.7L330.9 335.6L331.7 335.5Z" fill="#62c86e"/>
<path d="M322.0 343.1L321.1 344.4L320.1 343.1L319.1 342.9L318.2 344.6L317.2 344.9L316.2 344.4L315.2 343.2L314.2 344.0L314.1 337.0L315.0 337.0L316.0 337.0L316.9 336.9L317.8 336.9L318.8 336.8L319.7 336.8L320.6 336.7L321.6 336.7Z" fill="#62c86e"/>
<path d="M312.6 344.3L311.7 342.8L310.8 344.2L309.8 344.9L308.9 343.9L308.0 344.0L307.1 343.2L306.1 343.8L305.3 342.4L304.2 344.1L304.7 336.8L305.6 336.8L306.5 336.9L307.3 336.9L308.2 336.9L309.1 337.0L310.0 337.0L310.9 337.0L311.7 337.0L312.6 337.0Z" fill="#62c86e"/>
<path d="M302.7 343.3L301.7 344.6L300.9 342.5L299.9 343.6L299.2 341.3L298.1 342.4L297.1 343.4L296.4 341.7L295.3 342.7L296.2 335.9L297.1 336.0L298.0 336.1L298.8 336.2L299.7 336.3L300.6 336.4L301.5 336.5L302.3 336.6L303.2 336.6Z" fill="#62c86e"/>
<path d="M293.9 341.3L292.9 341.7L291.7 343.4L291.2 340.7L289.9 342.8L289.5 340.0L288.3 341.5L287.2 342.0L286.3 341.9L287.8 334.5L288.7 334.7L289.5 334.8L290.4 335.0L291.3 335.1L292.1 335.3L293.0 335.4L293.9 335.6L294.7 335.7Z" fill="#62c86e"/>
<path d="M285.0 340.2L283.9 340.6L282.9 340.7L281.9 340.7L280.9 340.4L280.1 339.6L279.4 338.4L278.1 339.5L277.3 338.8L279.1 332.4L280.0 332.6L280.9 332.8L281.8 333.1L282.7 333.3L283.6 333.5L284.5 333.8L285.4 334.0L286.3 334.2Z" fill="#62c86e"/>
<path d="M275.8 338.3L274.4 339.4L274.3 336.5L272.8 338.2L272.3 336.5L271.0 337.4L269.9 337.8L269.7 335.4L268.5 336.0L270.8 329.7L271.6 330.0L272.5 330.3L273.3 330.6L274.2 330.8L275.1 331.1L275.9 331.4L276.8 331.7L277.7 331.9Z" fill="#62c86e"/>
<path d="M267.0 335.3L266.2 334.9L265.7 333.5L264.3 334.6L263.0 335.0L262.4 333.9L262.0 332.5L260.5 333.6L260.1 332.1L262.7 326.4L263.5 326.7L264.3 327.1L265.2 327.5L266.0 327.8L266.8 328.2L267.7 328.5L268.5 328.8L269.4 329.1Z" fill="#62c86e"/>
<path d="M259.1 330.6L257.5 331.6L256.8 330.7L255.8 330.5L254.3 331.4L254.0 329.7L252.5 330.3L252.6 328.2L255.4 322.8L256.2 323.3L257.0 323.7L257.9 324.1L258.7 324.5L259.6 325.0L260.4 325.4L261.3 325.8Z" fill="#62c86e"/>
<path d="M250.5 328.6L250.8 326.2L249.7 326.4L248.3 327.1L247.5 326.6L246.5 326.5L246.5 324.8L245.9 324.1L248.9 319.1L249.6 319.6L250.3 320.0L251.1 320.5L251.8 320.9L252.6 321.3L253.3 321.7L254.0 322.1Z" fill="#62c86e"/>
<path d="M244.4 323.5L243.3 323.5L243.4 321.6L241.9 322.0L240.6 322.2L240.7 320.3L239.7 320.2L237.8 321.1L242.3 314.8L243.0 315.3L243.8 315.9L244.5 316.4L245.3 316.9L246.1 317.4L246.8 317.9L247.6 318.4Z" fill="#62c86e"/>
<path d="M236.4 320.4L237.0 318.0L236.4 317.3L235.7 316.6L235.0 315.9L232.9 317.2L232.3 316.4L236.8 310.7L237.5 311.3L238.2 311.8L238.9 312.4L239.6 312.9L240.3 313.4L241.0 314.0Z" fill="#62c86e"/>
<path d="M232.0 314.3L230.9 314.3L229.7 314.2L230.4 312.0L228.1 313.3L227.3 312.8L228.0 310.7L226.3 311.3L231.1 305.9L231.7 306.5L232.3 307.1L233.0 307.6L233.6 308.2L234.3 308.7L235.0 309.3L235.6 309.8Z" fill="#62c86e"/>
<path d="M225.1 310.2L225.3 308.7L223.4 309.4L224.2 307.2L223.0 307.2L222.7 306.2L226.9 302.0L227.5 302.6L228.1 303.2L228.7 303.8L229.3 304.4L230.0 304.9Z" fill="#62c86e"/>
<path d="M221.3 305.4L219.8 305.6L219.7 304.3L219.0 303.7L217.4 303.9L218.6 301.5L222.7 297.7L223.3 298.4L223.9 299.0L224.5 299.7L225.2 300.3L225.8 301.0Z" fill="#62c86e"/>
<path d="M217.5 300.4L215.9 300.5L216.4 298.8L213.8 299.7L214.6 297.7L213.8 297.1L218.6 293.1L219.2 293.8L219.8 294.5L220.4 295.2L221.1 295.9L221.7 296.6Z" fill="#62c86e"/>
<path d="M212.8 295.9L211.2 295.9L210.4 295.4L210.4 294.2L211.1 292.4L210.1 292.0L214.9 288.4L215.4 289.1L216.0 289.8L216.5 290.5L217.1 291.2L217.7 291.9Z" fill="#62c86e"/>
<path d="M208.2 291.4L208.9 289.7L206.7 290.2L206.1 289.4L207.3 287.5L206.4 286.9L211.4 283.5L211.9 284.3L212.4 285.0L212.9 285.7L213.5 286.5L214.0 287.2Z" fill="#62c86e"/>
<path d="M205.9 285.4L204.1 285.5L205.3 283.5L203.1 283.8L204.3 282.0L201.7 282.5L208.2 278.5L208.6 279.3L209.1 280.0L209.6 280.8L210.1 281.5L210.6 282.3Z" fill="#62c86e"/>
<path d="M202.1 280.4L201.5 279.6L202.3 277.9L202.0 277.0L200.6 276.6L205.5 273.9L206.0 274.7L206.4 275.6L206.9 276.4L207.4 277.2Z" fill="#62c86e"/>
<path d="M198.1 276.2L198.8 274.7L197.6 274.3L199.4 272.3L198.9 271.5L198.7 270.6L202.7 268.6L203.1 269.4L203.5 270.2L203.9 271.0L204.3 271.8L204.8 272.6Z" fill="#62c86e"/>
<path d="M196.1 270.1L197.2 268.5L196.5 267.8L195.0 267.5L194.5 266.6L200.6 264.0L200.9 264.8L201.3 265.6L201.7 266.4L202.1 267.3Z" fill="#62c86e"/>
<path d="M195.0 264.7L194.2 264.1L194.4 263.0L193.2 262.5L193.5 261.4L193.2 260.6L198.4 258.6L198.7 259.4L199.0 260.2L199.3 261.0L199.6 261.8L200.0 262.6Z" fill="#62c86e"/>
<path d="M193.0 259.0L192.4 258.0L192.2 257.0L192.5 255.7L196.8 254.2L197.1 255.2L197.5 256.2L197.8 257.2Z" fill="#62c86e"/>
<path d="M191.2 254.5L190.0 253.7L190.6 252.3L190.8 251.1L195.3 249.7L195.6 250.8L196.0 251.8L196.3 252.8Z" fill="#62c86e"/>
<path d="M188.1 250.3L189.0 249.0L188.6 248.1L189.0 247.1L186.9 246.6L194.0 244.8L194.2 245.7L194.4 246.6L194.7 247.4L194.9 248.3Z" fill="#62c86e"/>
<path d="M187.0 245.0L187.2 243.9L186.8 243.0L186.5 242.1L193.0 240.6L193.2 241.6L193.4 242.5L193.6 243.4Z" fill="#62c86e"/>
<path d="M186.8 240.4L186.8 239.0L186.6 237.7L192.2 236.7L192.4 237.9L192.7 239.2Z" fill="#62c86e"/>
<path d="M186.0 236.2L186.0 235.2L185.6 234.3L185.5 233.3L191.5 232.5L191.6 233.4L191.8 234.3L191.9 235.2Z" fill="#62c86e"/>
<path d="M184.4 231.9L184.0 231.0L186.0 229.8L186.5 228.8L185.5 227.9L190.9 227.4L191.0 228.3L191.1 229.2L191.2 230.1L191.3 231.0Z" fill="#62c86e"/>
<path d="M186.2 226.3L183.7 225.6L184.2 224.5L185.2 223.5L190.5 223.1L190.6 224.0L190.6 225.0L190.7 225.9Z" fill="#62c86e"/>
<path d="M185.4 221.9L183.2 220.7L183.2 219.3L190.3 219.1L190.3 220.4L190.4 221.6Z" fill="#62c86e"/>
<path d="M183.6 217.7L183.6 216.4L183.4 215.0L190.2 215.0L190.2 216.3L190.2 217.6Z" fill="#62c86e"/>
<path d="M184.4 213.5L184.6 212.1L184.1 210.8L190.3 211.0L190.2 212.2L190.2 213.5Z" fill="#62c86e"/>
<path d="M183.1 209.2L182.8 208.2L183.1 207.2L183.4 206.2L190.5 206.7L190.4 207.6L190.4 208.5L190.3 209.5Z" fill="#62c86e"/>
<path d="M185.9 204.9L185.5 203.6L183.3 202.1L190.8 202.9L190.7 204.0L190.6 205.2Z" fill="#62c86e"/>
<path d="M184.8 200.7L185.0 199.8L185.8 198.9L184.2 197.7L191.3 198.6L191.1 199.5L191.0 200.5L190.9 201.4Z" fill="#62c86e"/>
<path d="M185.5 196.3L184.1 195.1L187.2 194.6L184.4 193.2L191.9 194.4L191.7 195.3L191.6 196.2L191.5 197.2Z" fill="#62c86e"/>
<path d="M187.8 192.1L187.6 190.8L187.1 189.3L192.6 190.4L192.4 191.7L192.2 192.9Z" fill="#62c86e"/>
<path d="M186.6 187.6L188.5 187.0L187.3 185.8L186.4 184.5L193.6 186.3L193.3 187.2L193.1 188.1L192.9 189.0Z" fill="#62c86e"/>
<path d="M188.3 183.4L187.6 181.9L188.4 180.9L194.5 182.5L194.2 183.7L193.9 184.8Z" fill="#62c86e"/>
<path d="M188.9 179.4L190.5 178.6L189.9 177.1L195.6 178.8L195.2 180.0L194.9 181.1Z" fill="#62c86e"/>
<path d="M189.1 175.2L190.1 174.5L191.8 174.0L196.6 175.6L196.3 176.5L196.0 177.4Z" fill="#62c86e"/>
<path d="M191.6 172.2L191.7 171.2L192.6 170.5L197.8 172.4L197.4 173.3L197.1 174.2Z" fill="#62c86e"/>
<path d="M192.4 168.7L192.7 167.6L194.9 167.3L199.1 169.0L198.7 170.0L198.3 171.0Z" fill="#62c86e"/>
<path d="M194.8 165.9L194.0 164.3L195.8 163.7L200.4 165.7L200.0 166.8L199.5 167.9Z" fill="#62c86e"/>
<path d="M196.7 162.8L195.1 160.9L196.7 160.6L201.7 162.9L201.3 163.8L200.9 164.7Z" fill="#62c86e"/>
<path d="M195.6 158.3L197.2 158.0L199.0 157.7L203.2 159.8L202.8 160.7L202.3 161.6Z" fill="#62c86e"/>
<path d="M198.0 155.9L199.5 155.5L198.4 153.8L204.6 157.1L204.2 157.9L203.7 158.8Z" fill="#62c86e"/>
<path d="M199.1 153.1L199.5 152.2L202.0 152.4L206.0 154.7L205.5 155.5L205.0 156.3Z" fill="#62c86e"/>
<path d="M202.6 151.4L201.1 149.1L203.6 149.1L207.7 151.6L207.1 152.6L206.5 153.6Z" fill="#78c282"/>
<path d="M204.0 148.0L205.0 147.4L205.2 146.3L209.4 149.0L208.8 149.8L208.3 150.6Z" fill="#78c282"/>
<path d="M205.0 144.8L204.3 143.1L206.5 143.4L211.0 146.4L210.5 147.2L210.0 148.0Z" fill="#78c282"/>
<path d="M207.4 142.5L206.4 140.7L208.6 141.1L212.7 144.0L212.2 144.7L211.7 145.4Z" fill="#78c282"/>
<path d="M208.0 139.6L208.4 139.0L208.0 137.9L214.0 142.2L213.6 142.8L213.2 143.3Z" fill="#78c282"/>
<path d="M210.8 138.8L209.9 137.3L210.8 137.1L215.3 140.5L214.9 141.0L214.5 141.6Z" fill="#78c282"/>
<path d="M210.3 135.5L212.1 136.1L211.4 134.6L216.7 138.7L216.2 139.3L215.8 139.8Z" fill="#78c282"/>
<path d="M213.3 134.9L213.0 133.8L212.2 132.3L218.0 137.0L217.6 137.5L217.2 138.1Z" fill="#78c282"/>
<path d="M214.6 133.0L215.0 132.4L213.9 130.6L219.5 135.3L219.0 135.8L218.6 136.4Z" fill="#78c282"/>
<path d="M215.1 130.4L217.0 131.1L217.2 130.4L220.9 133.7L220.5 134.2L220.0 134.7Z" fill="#78c282"/>
<path d="M217.6 129.6L218.0 128.9L217.1 127.2L222.4 132.0L221.9 132.5L221.5 133.0Z" fill="#78c282"/>
<path d="M218.1 126.9L217.9 125.7L219.1 125.9L223.9 130.4L223.4 130.9L223.0 131.4Z" fill="#78c282"/>
<path d="M219.9 125.3L220.9 125.4L220.7 124.1L225.4 128.8L224.9 129.3L224.5 129.8Z" fill="#78c282"/>
<path d="M221.8 124.0L223.3 124.5L222.8 123.0L227.0 127.3L226.5 127.7L226.0 128.2Z" fill="#78c282"/>
<path d="M223.7 122.6L223.9 121.8L225.4 122.4L228.6 125.7L228.1 126.2L227.6 126.7Z" fill="#78c282"/>
<path d="M226.1 121.9L224.6 119.1L226.4 120.1L230.2 124.2L229.7 124.7L229.2 125.2Z" fill="#78c282"/>
<path d="M227.2 119.6L228.1 119.6L227.7 118.0L231.8 122.8L231.3 123.2L230.8 123.7Z" fill="#78c282"/>
<path d="M227.7 116.7L229.8 118.0L229.6 116.8L233.5 121.3L233.0 121.8L232.5 122.2Z" fill="#78c282"/>
<path d="M230.3 116.2L230.3 115.1L231.3 115.1L235.2 119.9L234.7 120.4L234.2 120.8Z" fill="#78c282"/>
<path d="M232.6 115.4L233.3 115.0L232.8 113.3L236.9 118.5L236.4 119.0L235.9 119.4Z" fill="#78c282"/>
<path d="M234.7 114.3L233.8 111.9L236.0 113.6L238.7 117.2L238.1 117.6L237.6 118.0Z" fill="#78c282"/>
<path d="M236.4 112.7L236.4 111.5L236.3 110.1L240.4 115.9L239.9 116.3L239.4 116.7Z" fill="#78c282"/>
<path d="M237.4 110.2L237.8 109.5L238.3 109.0L242.2 114.6L241.7 115.0L241.1 115.4Z" fill="#78c282"/>
<path d="M239.1 108.6L240.9 110.0L240.1 107.5L244.1 113.3L243.5 113.7L242.9 114.1Z" fill="#78c282"/>
<path d="M242.1 108.8L242.6 108.4L243.4 108.3L245.9 112.1L245.3 112.5L244.8 112.9Z" fill="#78c282"/>
<path d="M244.2 107.9L243.3 105.2L244.8 106.2L247.8 110.9L247.2 111.3L246.6 111.7Z" fill="#78c282"/>
<path d="M246.0 106.5L246.7 106.3L246.0 103.7L249.6 109.8L249.1 110.1L248.5 110.5Z" fill="#78c282"/>
<path d="M247.2 103.9L247.3 102.7L249.3 104.8L251.5 108.7L250.9 109.0L250.4 109.4Z" fill="#78c282"/>
<path d="M249.9 104.1L250.1 103.4L250.6 103.4L253.0 107.8L252.7 108.0L252.3 108.3Z" fill="#78c282"/>
<path d="M251.5 103.2L251.8 102.8L251.5 101.3L254.6 107.0L254.2 107.2L253.8 107.4Z" fill="#78c282"/>
<path d="M253.0 102.2L253.4 102.0L253.3 100.8L256.1 106.2L255.7 106.4L255.3 106.6Z" fill="#78c282"/>
<path d="M254.3 100.8L255.0 101.2L254.8 99.8L257.6 105.4L257.2 105.6L256.8 105.8Z" fill="#78c282"/>
<path d="M255.7 99.6L256.3 99.8L256.6 99.3L259.2 104.6L258.8 104.8L258.4 105.0Z" fill="#78c282"/>
<path d="M258.0 100.2L257.6 98.3L258.6 99.3L260.7 103.9L260.3 104.1L259.9 104.3Z" fill="#78c282"/>
<path d="M259.2 98.6L260.1 99.3L259.3 96.6L262.3 103.2L261.9 103.4L261.5 103.5Z" fill="#78c282"/>
<path d="M260.6 97.1L261.2 97.5L261.5 96.8L263.9 102.5L263.5 102.7L263.1 102.8Z" fill="#78c282"/>
<path d="M261.8 95.3L263.2 97.5L263.3 96.6L265.5 101.8L265.1 102.0L264.7 102.1Z" fill="#78c282"/>
<path d="M263.8 95.3L264.6 96.1L264.6 95.0L267.1 101.1L266.7 101.3L266.3 101.5Z" fill="#78c282"/>
<path d="M265.2 94.0L266.6 96.4L266.8 95.6L268.7 100.5L268.3 100.7L267.9 100.8Z" fill="#78c282"/>
<path d="M267.6 95.2L267.5 93.7L267.9 93.4L270.3 99.9L269.9 100.1L269.5 100.2Z" fill="#78c282"/>
<path d="M268.9 93.4L269.1 92.5L270.3 94.6L271.9 99.3L271.5 99.5L271.1 99.6Z" fill="#78c282"/>
<path d="M270.9 93.7L270.9 92.2L271.4 92.3L273.6 98.8L273.2 98.9L272.7 99.0Z" fill="#78c282"/>
<path d="M272.9 94.0L272.5 91.2L273.2 91.8L275.2 98.2L274.8 98.4L274.4 98.5Z" fill="#78c282"/>
<path d="M273.9 91.1L274.8 92.5L275.0 91.6L276.9 97.7L276.4 97.8L276.0 98.0Z" fill="#78c282"/>
<path d="M275.6 90.3L276.1 90.4L276.8 91.2L278.5 97.2L278.1 97.3L277.7 97.5Z" fill="#78c282"/>
<path d="M277.4 90.0L277.7 89.5L278.3 89.9L280.2 96.7L279.8 96.9L279.3 97.0Z" fill="#78c282"/>
<path d="M279.3 90.2L279.5 89.2L280.6 91.6L281.9 96.3L281.4 96.4L281.0 96.5Z" fill="#78c282"/>
<path d="M281.3 90.6L281.6 90.0L282.4 91.2L283.5 95.9L283.1 96.0L282.7 96.1Z" fill="#78c282"/>
<path d="M282.8 89.0L283.7 91.1L283.8 89.2L285.2 95.5L284.8 95.6L284.4 95.7Z" fill="#78c282"/>
<path d="M284.9 90.1L285.3 89.9L285.6 88.9L286.9 95.1L286.5 95.2L286.1 95.3Z" fill="#78c282"/>
<path d="M286.7 90.0L287.0 89.1L287.2 87.8L288.6 94.8L288.2 94.8L287.7 94.9Z" fill="#78c282"/>
<path d="M288.0 87.2L288.9 89.4L289.3 89.0L290.3 94.4L289.9 94.5L289.4 94.6Z" fill="#78c282"/>
<path d="M290.0 87.8L290.7 89.3L290.8 87.1L292.0 94.1L291.6 94.2L291.1 94.3Z" fill="#78c282"/>
<path d="M292.0 89.0L292.3 87.8L292.9 88.4L293.7 93.9L293.3 93.9L292.8 94.0Z" fill="#78c282"/>
<path d="M293.9 89.4L294.4 89.3L294.8 89.2L295.4 93.6L295.0 93.7L294.5 93.7Z" fill="#78c282"/>
<path d="M295.5 88.1L296.0 88.2L296.2 85.9L297.1 93.4L296.7 93.4L296.3 93.5Z" fill="#78c282"/>
<path d="M297.2 86.9L297.9 88.6L298.1 86.5L298.8 93.2L298.4 93.2L298.0 93.3Z" fill="#78c282"/>
<path d="M299.2 88.0L299.5 87.1L299.9 86.3L300.6 93.0L300.1 93.0L299.7 93.1Z" fill="#78c282"/>
</g>
<g id="ring3">
<path d="M324.6 95.1A120.2 120.2 0 1 1 301.2 95.0L302.6 110.2A105.0 105.0 0 1 0 323.1 110.2Z" fill="#c8c8ea"/>
<path d="M324.6 95.1A120.2 120.2 0 0 1 326.3 95.3L324.6 110.4A105.0 105.0 0 0 0 323.1 110.2Z" fill="#c8c8ec"/>
<path d="M326.3 95.3A120.2 120.2 0 0 1 327.1 95.4L325.3 110.5A105.0 105.0 0 0 0 324.6 110.4Z" fill="#9494d2"/>
<path d="M327.1 95.4A120.2 120.2 0 0 1 328.0 95.5L326.0 110.6A105.0 105.0 0 0 0 325.3 110.5Z" fill="#9a9ad4"/>
<path d="M328.0 95.5A120.2 120.2 0 0 1 329.2 95.7L327.1 110.7A105.0 105.0 0 0 0 326.0 110.6Z" fill="#9494d2"/>
<path d="M329.2 95.7A120.2 120.2 0 0 1 329.8 95.8L327.6 110.8A105.0 105.0 0 0 0 327.1 110.7Z" fill="#8c8cce"/>
<path d="M329.8 95.8A120.2 120.2 0 0 1 330.8 95.9L328.5 110.9A105.0 105.0 0 0 0 327.6 110.8Z" fill="#b4b4e2"/>
<path d="M330.8 95.9A120.2 120.2 0 0 1 332.1 96.1L329.6 111.1A105.0 105.0 0 0 0 328.5 110.9Z" fill="#8c8cce"/>
<path d="M332.1 96.1A120.2 120.2 0 0 1 333.0 96.3L330.4 111.2A105.0 105.0 0 0 0 329.6 111.1Z" fill="#b4b4e2"/>
<path d="M333.0 96.3A120.2 120.2 0 0 1 334.1 96.5L331.4 111.4A105.0 105.0 0 0 0 330.4 111.2Z" fill="#8686ca"/>
<path d="M334.1 96.5A120.2 120.2 0 0 1 335.3 96.7L332.4 111.6A105.0 105.0 0 0 0 331.4 111.4Z" fill="#bebee8"/>
<path d="M335.3 96.7A120.2 120.2 0 0 1 337.1 97.0L334.0 111.9A105.0 105.0 0 0 0 332.4 111.6Z" fill="#f0f0fa"/>
<path d="M337.1 97.0A120.2 120.2 0 0 1 338.4 97.3L335.1 112.2A105.0 105.0 0 0 0 334.0 111.9Z" fill="#8c8cce"/>
<path d="M338.4 97.3A120.2 120.2 0 0 1 338.9 97.4L335.5 112.3A105.0 105.0 0 0 0 335.1 112.2Z" fill="#f0f0fa"/>
<path d="M338.9 97.4A120.2 120.2 0 0 1 339.4 97.5L336.0 112.4A105.0 105.0 0 0 0 335.5 112.3Z" fill="#9494d2"/>
<path d="M339.4 97.5A120.2 120.2 0 0 1 339.9 97.7L336.4 112.5A105.0 105.0 0 0 0 336.0 112.4Z" fill="#8686ca"/>
<path d="M339.9 97.7A120.2 120.2 0 0 1 341.6 98.1L337.9 112.8A105.0 105.0 0 0 0 336.4 112.5Z" fill="#f0f0fa"/>
<path d="M341.6 98.1A120.2 120.2 0 0 1 342.9 98.4L339.1 113.1A105.0 105.0 0 0 0 337.9 112.8Z" fill="#f0f0fa"/>
<path d="M342.9 98.4A120.2 120.2 0 0 1 344.0 98.7L340.0 113.4A105.0 105.0 0 0 0 339.1 113.1Z" fill="#9494d2"/>
<path d="M344.0 98.7A120.2 120.2 0 0 1 345.6 99.1L341.4 113.8A105.0 105.0 0 0 0 340.0 113.4Z" fill="#8686ca"/>
<path d="M345.6 99.1A120.2 120.2 0 0 1 346.4 99.4L342.1 114.0A105.0 105.0 0 0 0 341.4 113.8Z" fill="#9a9ad4"/>
<path d="M346.4 99.4A120.2 120.2 0 0 1 347.4 99.7L343.0 114.2A105.0 105.0 0 0 0 342.1 114.0Z" fill="#f0f0fa"/>
<path d="M347.4 99.7A120.2 120.2 0 0 1 348.5 100.0L344.0 114.5A105.0 105.0 0 0 0 343.0 114.2Z" fill="#f0f0fa"/>
<path d="M348.5 100.0A120.2 120.2 0 0 1 349.8 100.4L345.0 114.9A105.0 105.0 0 0 0 344.0 114.5Z" fill="#8686ca"/>
<path d="M349.8 100.4A120.2 120.2 0 0 1 350.2 100.6L345.5 115.0A105.0 105.0 0 0 0 345.0 114.9Z" fill="#f0f0fa"/>
<path d="M350.2 100.6A120.2 120.2 0 0 1 351.5 101.0L346.6 115.4A105.0 105.0 0 0 0 345.5 115.0Z" fill="#8686ca"/>
<path d="M351.5 101.0A120.2 120.2 0 0 1 352.0 101.2L347.0 115.5A105.0 105.0 0 0 0 346.6 115.4Z" fill="#9a9ad4"/>
<path d="M352.0 101.2A120.2 120.2 0 0 1 353.5 101.7L348.3 116.0A105.0 105.0 0 0 0 347.0 115.5Z" fill="#f0f0fa"/>
<path d="M353.5 101.7A120.2 120.2 0 0 1 355.1 102.3L349.8 116.5A105.0 105.0 0 0 0 348.3 116.0Z" fill="#9a9ad4"/>
<path d="M355.1 102.3A120.2 120.2 0 0 1 356.5 102.8L350.9 117.0A105.0 105.0 0 0 0 349.8 116.5Z" fill="#a8a8dc"/>
<path d="M356.5 102.8A120.2 120.2 0 0 1 358.2 103.5L352.4 117.6A105.0 105.0 0 0 0 350.9 117.0Z" fill="#f0f0fa"/>
<path d="M358.2 103.5A120.2 120.2 0 0 1 359.2 103.9L353.3 117.9A105.0 105.0 0 0 0 352.4 117.6Z" fill="#f0f0fa"/>
<path d="M359.2 103.9A120.2 120.2 0 0 1 360.5 104.5L354.4 118.4A105.0 105.0 0 0 0 353.3 117.9Z" fill="#f0f0fa"/>
<path d="M360.5 104.5A120.2 120.2 0 0 1 361.0 104.7L354.9 118.6A105.0 105.0 0 0 0 354.4 118.4Z" fill="#9494d2"/>
<path d="M361.0 104.7A120.2 120.2 0 0 1 362.4 105.4L356.1 119.2A105.0 105.0 0 0 0 354.9 118.6Z" fill="#8686ca"/>
<path d="M362.4 105.4A120.2 120.2 0 0 1 363.2 105.7L356.8 119.5A105.0 105.0 0 0 0 356.1 119.2Z" fill="#f0f0fa"/>
<path d="M363.2 105.7A120.2 120.2 0 0 1 364.8 106.5L358.2 120.2A105.0 105.0 0 0 0 356.8 119.5Z" fill="#8c8cce"/>
<path d="M364.8 106.5A120.2 120.2 0 0 1 366.4 107.2L359.6 120.8A105.0 105.0 0 0 0 358.2 120.2Z" fill="#9494d2"/>
<path d="M366.4 107.2A120.2 120.2 0 0 1 367.0 107.5L360.1 121.1A105.0 105.0 0 0 0 359.6 120.8Z" fill="#f0f0fa"/>
<path d="M367.0 107.5A120.2 120.2 0 0 1 368.5 108.3L361.4 121.8A105.0 105.0 0 0 0 360.1 121.1Z" fill="#9494d2"/>
<path d="M368.5 108.3A120.2 120.2 0 0 1 369.1 108.7L362.0 122.1A105.0 105.0 0 0 0 361.4 121.8Z" fill="#8c8cce"/>
<path d="M369.1 108.7A120.2 120.2 0 0 1 369.9 109.1L362.6 122.4A105.0 105.0 0 0 0 362.0 122.1Z" fill="#f0f0fa"/>
<path d="M369.9 109.1A120.2 120.2 0 0 1 371.1 109.8L363.7 123.0A105.0 105.0 0 0 0 362.6 122.4Z" fill="#8c8cce"/>
<path d="M371.1 109.8A120.2 120.2 0 0 1 371.6 110.1L364.2 123.3A105.0 105.0 0 0 0 363.7 123.0Z" fill="#f0f0fa"/>
<path d="M371.6 110.1A120.2 120.2 0 0 1 372.8 110.7L365.2 123.9A105.0 105.0 0 0 0 364.2 123.3Z" fill="#9494d2"/>
<path d="M372.8 110.7A120.2 120.2 0 0 1 374.2 111.6L366.4 124.6A105.0 105.0 0 0 0 365.2 123.9Z" fill="#b4b4e2"/>
<path d="M374.2 111.6A120.2 120.2 0 0 1 375.2 112.1L367.3 125.1A105.0 105.0 0 0 0 366.4 124.6Z" fill="#f0f0fa"/>
<path d="M375.2 112.1A120.2 120.2 0 0 1 376.7 113.1L368.6 125.9A105.0 105.0 0 0 0 367.3 125.1Z" fill="#f0f0fa"/>
<path d="M376.7 113.1A120.2 120.2 0 0 1 377.8 113.8L369.6 126.6A105.0 105.0 0 0 0 368.6 125.9Z" fill="#f0f0fa"/>
<path d="M377.8 113.8A120.2 120.2 0 0 1 379.3 114.8L370.9 127.4A105.0 105.0 0 0 0 369.6 126.6Z" fill="#b4b4e2"/>
<path d="M379.3 114.8A120.2 120.2 0 0 1 380.1 115.3L371.5 127.9A105.0 105.0 0 0 0 370.9 127.4Z" fill="#8c8cce"/>
<path d="M380.1 115.3A120.2 120.2 0 0 1 381.4 116.2L372.7 128.7A105.0 105.0 0 0 0 371.5 127.9Z" fill="#f0f0fa"/>
<path d="M381.4 116.2A120.2 120.2 0 0 1 382.8 117.2L373.9 129.5A105.0 105.0 0 0 0 372.7 128.7Z" fill="#8686ca"/>
<path d="M382.8 117.2A120.2 120.2 0 0 1 383.4 117.6L374.4 129.9A105.0 105.0 0 0 0 373.9 129.5Z" fill="#8686ca"/>
<path d="M383.4 117.6A120.2 120.2 0 0 1 384.8 118.6L375.6 130.8A105.0 105.0 0 0 0 374.4 129.9Z" fill="#8686ca"/>
<path d="M384.8 118.6A120.2 120.2 0 0 1 386.0 119.6L376.7 131.6A105.0 105.0 0 0 0 375.6 130.8Z" fill="#f0f0fa"/>
<path d="M386.0 119.6A120.2 120.2 0 0 1 386.8 120.2L377.4 132.2A105.0 105.0 0 0 0 376.7 131.6Z" fill="#9494d2"/>
<path d="M386.8 120.2A120.2 120.2 0 0 1 387.7 120.9L378.2 132.8A105.0 105.0 0 0 0 377.4 132.2Z" fill="#f0f0fa"/>
<path d="M387.7 120.9A120.2 120.2 0 0 1 388.1 121.2L378.5 133.1A105.0 105.0 0 0 0 378.2 132.8Z" fill="#f0f0fa"/>
<path d="M388.1 121.2A120.2 120.2 0 0 1 389.4 122.3L379.6 134.0A105.0 105.0 0 0 0 378.5 133.1Z" fill="#9a9ad4"/>
<path d="M389.4 122.3A120.2 120.2 0 0 1 390.1 122.9L380.3 134.5A105.0 105.0 0 0 0 379.6 134.0Z" fill="#f0f0fa"/>
<path d="M390.1 122.9A120.2 120.2 0 0 1 390.6 123.3L380.7 134.9A105.0 105.0 0 0 0 380.3 134.5Z" fill="#a0a0d8"/>
<path d="M390.6 123.3A120.2 120.2 0 0 1 391.1 123.7L381.1 135.2A105.0 105.0 0 0 0 380.7 134.9Z" fill="#c0c0e6"/>
<path d="M391.1 123.7A120.2 120.2 0 0 1 391.8 124.4L381.8 135.8A105.0 105.0 0 0 0 381.1 135.2Z" fill="#c0c0e6"/>
<path d="M391.8 124.4A120.2 120.2 0 0 1 393.1 125.6L382.9 136.8A105.0 105.0 0 0 0 381.8 135.8Z" fill="#a0a0d8"/>
<path d="M393.1 125.6A120.2 120.2 0 0 1 394.2 126.5L383.8 137.6A105.0 105.0 0 0 0 382.9 136.8Z" fill="#f4f4fc"/>
<path d="M394.2 126.5A120.2 120.2 0 0 1 394.8 127.1L384.4 138.2A105.0 105.0 0 0 0 383.8 137.6Z" fill="#a0a0d8"/>
<path d="M394.8 127.1A120.2 120.2 0 0 1 396.0 128.3L385.5 139.2A105.0 105.0 0 0 0 384.4 138.2Z" fill="#f4f4fc"/>
<path d="M396.0 128.3A120.2 120.2 0 0 1 397.0 129.2L386.3 140.0A105.0 105.0 0 0 0 385.5 139.2Z" fill="#f4f4fc"/>
<path d="M397.0 129.2A120.2 120.2 0 0 1 397.6 129.9L386.9 140.6A105.0 105.0 0 0 0 386.3 140.0Z" fill="#f4f4fc"/>
<path d="M397.6 129.9A120.2 120.2 0 0 1 398.8 131.0L387.8 141.6A105.0 105.0 0 0 0 386.9 140.6Z" fill="#c0c0e6"/>
<path d="M398.8 131.0A120.2 120.2 0 0 1 399.6 131.9L388.6 142.4A105.0 105.0 0 0 0 387.8 141.6Z" fill="#a0a0d8"/>
<path d="M399.6 131.9A120.2 120.2 0 0 1 400.9 133.3L389.7 143.6A105.0 105.0 0 0 0 388.6 142.4Z" fill="#f4f4fc"/>
<path d="M400.9 133.3A120.2 120.2 0 0 1 401.8 134.3L390.5 144.4A105.0 105.0 0 0 0 389.7 143.6Z" fill="#f4f4fc"/>
<path d="M401.8 134.3A120.2 120.2 0 0 1 402.9 135.4L391.4 145.5A105.0 105.0 0 0 0 390.5 144.4Z" fill="#f4f4fc"/>
<path d="M402.9 135.4A120.2 120.2 0 0 1 403.2 135.9L391.8 145.8A105.0 105.0 0 0 0 391.4 145.5Z" fill="#f4f4fc"/>
<path d="M403.2 135.9A120.2 120.2 0 0 1 404.2 137.0L392.6 146.8A105.0 105.0 0 0 0 391.8 145.8Z" fill="#c0c0e6"/>
<path d="M404.2 137.0A120.2 120.2 0 0 1 405.3 138.3L393.6 148.0A105.0 105.0 0 0 0 392.6 146.8Z" fill="#c0c0e6"/>
<path d="M405.3 138.3A120.2 120.2 0 0 1 406.3 139.5L394.4 149.0A105.0 105.0 0 0 0 393.6 148.0Z" fill="#f4f4fc"/>
<path d="M406.3 139.5A120.2 120.2 0 0 1 407.1 140.5L395.1 149.9A105.0 105.0 0 0 0 394.4 149.0Z" fill="#c0c0e6"/>
<path d="M407.1 140.5A120.2 120.2 0 0 1 407.8 141.5L395.8 150.7A105.0 105.0 0 0 0 395.1 149.9Z" fill="#f4f4fc"/>
<path d="M407.8 141.5A120.2 120.2 0 0 1 408.4 142.3L396.3 151.4A105.0 105.0 0 0 0 395.8 150.7Z" fill="#f4f4fc"/>
<path d="M408.4 142.3A120.2 120.2 0 0 1 409.3 143.5L397.1 152.5A105.0 105.0 0 0 0 396.3 151.4Z" fill="#f4f4fc"/>
<path d="M409.3 143.5A120.2 120.2 0 0 1 409.8 144.1L397.5 153.0A105.0 105.0 0 0 0 397.1 152.5Z" fill="#f4f4fc"/>
<path d="M409.8 144.1A120.2 120.2 0 0 1 410.5 145.0L398.1 153.9A105.0 105.0 0 0 0 397.5 153.0Z" fill="#f4f4fc"/>
<path d="M410.5 145.0A120.2 120.2 0 0 1 411.1 146.0L398.7 154.7A105.0 105.0 0 0 0 398.1 153.9Z" fill="#f4f4fc"/>
<path d="M411.1 146.0A120.2 120.2 0 0 1 411.6 146.7L399.1 155.3A105.0 105.0 0 0 0 398.7 154.7Z" fill="#f4f4fc"/>
<path d="M411.6 146.7A120.2 120.2 0 0 1 412.3 147.8L399.7 156.2A105.0 105.0 0 0 0 399.1 155.3Z" fill="#a0a0d8"/>
<path d="M412.3 147.8A120.2 120.2 0 0 1 412.7 148.3L400.0 156.7A105.0 105.0 0 0 0 399.7 156.2Z" fill="#8c8cce"/>
<path d="M412.7 148.3A120.2 120.2 0 0 1 413.0 148.8L400.3 157.2A105.0 105.0 0 0 0 400.0 156.7Z" fill="#8c8cce"/>
<path d="M413.0 148.8A120.2 120.2 0 0 1 413.4 149.4L400.7 157.7A105.0 105.0 0 0 0 400.3 157.2Z" fill="#8686ca"/>
<path d="M413.4 149.4A120.2 120.2 0 0 1 414.4 151.0L401.5 159.0A105.0 105.0 0 0 0 400.7 157.7Z" fill="#8686ca"/>
<path d="M414.4 151.0A120.2 120.2 0 0 1 415.4 152.5L402.4 160.4A105.0 105.0 0 0 0 401.5 159.0Z" fill="#8c8cce"/>
<path d="M415.4 152.5A120.2 120.2 0 0 1 416.0 153.5L402.9 161.2A105.0 105.0 0 0 0 402.4 160.4Z" fill="#8c8cce"/>
<path d="M416.0 153.5A120.2 120.2 0 0 1 416.3 154.1L403.2 161.7A105.0 105.0 0 0 0 402.9 161.2Z" fill="#9a9ad4"/>
<path d="M416.3 154.1A120.2 120.2 0 0 1 417.1 155.5L403.9 162.9A105.0 105.0 0 0 0 403.2 161.7Z" fill="#9a9ad4"/>
<path d="M417.1 155.5A120.2 120.2 0 0 1 417.4 155.9L404.1 163.4A105.0 105.0 0 0 0 403.9 162.9Z" fill="#f0f0fa"/>
<path d="M417.4 155.9A120.2 120.2 0 0 1 417.6 156.4L404.3 163.7A105.0 105.0 0 0 0 404.1 163.4Z" fill="#f0f0fa"/>
<path d="M417.6 156.4A120.2 120.2 0 0 1 418.5 158.0L405.1 165.1A105.0 105.0 0 0 0 404.3 163.7Z" fill="#f0f0fa"/>
<path d="M418.5 158.0A120.2 120.2 0 0 1 419.0 158.9L405.5 166.0A105.0 105.0 0 0 0 405.1 165.1Z" fill="#8686ca"/>
<path d="M419.0 158.9A120.2 120.2 0 0 1 419.6 160.1L406.0 167.0A105.0 105.0 0 0 0 405.5 166.0Z" fill="#8c8cce"/>
<path d="M419.6 160.1A120.2 120.2 0 0 1 420.3 161.6L406.7 168.3A105.0 105.0 0 0 0 406.0 167.0Z" fill="#8c8cce"/>
<path d="M420.3 161.6A120.2 120.2 0 0 1 420.8 162.6L407.1 169.2A105.0 105.0 0 0 0 406.7 168.3Z" fill="#f0f0fa"/>
<path d="M420.8 162.6A120.2 120.2 0 0 1 421.6 164.2L407.8 170.6A105.0 105.0 0 0 0 407.1 169.2Z" fill="#f0f0fa"/>
<path d="M421.6 164.2A120.2 120.2 0 0 1 422.0 165.0L408.1 171.3A105.0 105.0 0 0 0 407.8 170.6Z" fill="#9494d2"/>
<path d="M422.0 165.0A120.2 120.2 0 0 1 422.4 166.0L408.5 172.1A105.0 105.0 0 0 0 408.1 171.3Z" fill="#9494d2"/>
<path d="M422.4 166.0A120.2 120.2 0 0 1 422.8 166.9L408.9 173.0A105.0 105.0 0 0 0 408.5 172.1Z" fill="#f0f0fa"/>
<path d="M422.8 166.9A120.2 120.2 0 0 1 423.0 167.4L409.0 173.4A105.0 105.0 0 0 0 408.9 173.0Z" fill="#9494d2"/>
<path d="M423.0 167.4A120.2 120.2 0 0 1 423.5 168.6L409.5 174.4A105.0 105.0 0 0 0 409.0 173.4Z" fill="#9a9ad4"/>
<path d="M423.5 168.6A120.2 120.2 0 0 1 423.7 169.0L409.6 174.8A105.0 105.0 0 0 0 409.5 174.4Z" fill="#c8c8ec"/>
<path d="M423.7 169.0A120.2 120.2 0 0 1 424.2 170.2L410.0 175.9A105.0 105.0 0 0 0 409.6 174.8Z" fill="#9a9ad4"/>
<path d="M424.2 170.2A120.2 120.2 0 0 1 424.4 170.9L410.3 176.4A105.0 105.0 0 0 0 410.0 175.9Z" fill="#9a9ad4"/>
<path d="M424.4 170.9A120.2 120.2 0 0 1 425.1 172.5L410.8 177.9A105.0 105.0 0 0 0 410.3 176.4Z" fill="#f0f0fa"/>
<path d="M425.1 172.5A120.2 120.2 0 0 1 425.3 173.1L411.0 178.4A105.0 105.0 0 0 0 410.8 177.9Z" fill="#f0f0fa"/>
<path d="M425.3 173.1A120.2 120.2 0 0 1 425.5 173.8L411.2 179.0A105.0 105.0 0 0 0 411.0 178.4Z" fill="#a8a8dc"/>
<path d="M425.5 173.8A120.2 120.2 0 0 1 425.9 174.9L411.6 179.9A105.0 105.0 0 0 0 411.2 179.0Z" fill="#f0f0fa"/>
<path d="M425.9 174.9A120.2 120.2 0 0 1 426.2 175.7L411.8 180.7A105.0 105.0 0 0 0 411.6 179.9Z" fill="#f0f0fa"/>
<path d="M426.2 175.7A120.2 120.2 0 0 1 426.7 177.0L412.2 181.8A105.0 105.0 0 0 0 411.8 180.7Z" fill="#8686ca"/>
<path d="M426.7 177.0A120.2 120.2 0 0 1 427.0 178.1L412.5 182.7A105.0 105.0 0 0 0 412.2 181.8Z" fill="#9a9ad4"/>
<path d="M427.0 178.1A120.2 120.2 0 0 1 427.4 179.5L412.9 184.0A105.0 105.0 0 0 0 412.5 182.7Z" fill="#8686ca"/>
<path d="M427.4 179.5A120.2 120.2 0 0 1 428.0 181.3L413.4 185.5A105.0 105.0 0 0 0 412.9 184.0Z" fill="#9494d2"/>
<path d="M428.0 181.3A120.2 120.2 0 0 1 428.1 181.8L413.5 185.9A105.0 105.0 0 0 0 413.4 185.5Z" fill="#f0f0fa"/>
<path d="M428.1 181.8A120.2 120.2 0 0 1 428.4 182.7L413.7 186.7A105.0 105.0 0 0 0 413.5 185.9Z" fill="#f0f0fa"/>
<path d="M428.4 182.7A120.2 120.2 0 0 1 428.5 183.2L413.8 187.2A105.0 105.0 0 0 0 413.7 186.7Z" fill="#9494d2"/>
<path d="M428.5 183.2A120.2 120.2 0 0 1 428.9 184.8L414.2 188.6A105.0 105.0 0 0 0 413.8 187.2Z" fill="#f0f0fa"/>
<path d="M428.9 184.8A120.2 120.2 0 0 1 429.1 185.7L414.4 189.3A105.0 105.0 0 0 0 414.2 188.6Z" fill="#f0f0fa"/>
<path d="M429.1 185.7A120.2 120.2 0 0 1 429.3 186.5L414.6 190.1A105.0 105.0 0 0 0 414.4 189.3Z" fill="#f0f0fa"/>
<path d="M429.3 186.5A120.2 120.2 0 0 1 429.6 187.8L414.8 191.2A105.0 105.0 0 0 0 414.6 190.1Z" fill="#9a9ad4"/>
<path d="M429.6 187.8A120.2 120.2 0 0 1 429.8 188.7L415.0 192.0A105.0 105.0 0 0 0 414.8 191.2Z" fill="#f0f0fa"/>
<path d="M429.8 188.7A120.2 120.2 0 0 1 430.0 189.6L415.2 192.7A105.0 105.0 0 0 0 415.0 192.0Z" fill="#9494d2"/>
<path d="M430.0 189.6A120.2 120.2 0 0 1 430.2 190.2L415.3 193.3A105.0 105.0 0 0 0 415.2 192.7Z" fill="#8c8cce"/>
<path d="M430.2 190.2A120.2 120.2 0 0 1 430.3 190.9L415.4 193.9A105.0 105.0 0 0 0 415.3 193.3Z" fill="#f0f0fa"/>
<path d="M430.3 190.9A120.2 120.2 0 0 1 430.5 192.0L415.6 194.9A105.0 105.0 0 0 0 415.4 193.9Z" fill="#f0f0fa"/>
<path d="M430.5 192.0A120.2 120.2 0 0 1 430.8 193.7L415.9 196.3A105.0 105.0 0 0 0 415.6 194.9Z" fill="#f0f0fa"/>
<path d="M430.8 193.7A120.2 120.2 0 0 1 431.0 194.8L416.0 197.3A105.0 105.0 0 0 0 415.9 196.3Z" fill="#f0f0fa"/>
<path d="M431.0 194.8A120.2 120.2 0 0 1 431.1 195.3L416.1 197.8A105.0 105.0 0 0 0 416.0 197.3Z" fill="#a8a8dc"/>
<path d="M431.1 195.3A120.2 120.2 0 0 1 431.4 197.1L416.4 199.3A105.0 105.0 0 0 0 416.1 197.8Z" fill="#8c8cce"/>
<path d="M431.4 197.1A120.2 120.2 0 0 1 431.5 197.7L416.5 199.9A105.0 105.0 0 0 0 416.4 199.3Z" fill="#b4b4e2"/>
<path d="M431.5 197.7A120.2 120.2 0 0 1 431.7 199.5L416.7 201.4A105.0 105.0 0 0 0 416.5 199.9Z" fill="#f0f0fa"/>
<path d="M431.7 199.5A120.2 120.2 0 0 1 431.9 200.6L416.8 202.4A105.0 105.0 0 0 0 416.7 201.4Z" fill="#a8a8dc"/>
<path d="M431.9 200.6A120.2 120.2 0 0 1 432.1 202.2L416.9 203.8A105.0 105.0 0 0 0 416.8 202.4Z" fill="#9494d2"/>
<path d="M432.1 202.2A120.2 120.2 0 0 1 432.1 202.8L417.0 204.3A105.0 105.0 0 0 0 416.9 203.8Z" fill="#f0f0fa"/>
<path d="M432.1 202.8A120.2 120.2 0 0 1 432.3 204.4L417.1 205.7A105.0 105.0 0 0 0 417.0 204.3Z" fill="#f0f0fa"/>
<path d="M432.3 204.4A120.2 120.2 0 0 1 432.3 205.2L417.2 206.4A105.0 105.0 0 0 0 417.1 205.7Z" fill="#c8c8ec"/>
<path d="M432.3 205.2A120.2 120.2 0 0 1 432.4 206.2L417.2 207.3A105.0 105.0 0 0 0 417.2 206.4Z" fill="#f0f0fa"/>
<path d="M432.4 206.2A120.2 120.2 0 0 1 432.5 207.9L417.3 208.8A105.0 105.0 0 0 0 417.2 207.3Z" fill="#f0f0fa"/>
<path d="M432.5 207.9A120.2 120.2 0 0 1 432.6 208.9L417.4 209.7A105.0 105.0 0 0 0 417.3 208.8Z" fill="#f0f0fa"/>
<path d="M432.6 208.9A120.2 120.2 0 0 1 432.6 210.2L417.4 210.8A105.0 105.0 0 0 0 417.4 209.7Z" fill="#9a9ad4"/>
<path d="M432.6 210.2A120.2 120.2 0 0 1 432.6 210.7L417.4 211.2A105.0 105.0 0 0 0 417.4 210.8Z" fill="#f0f0fa"/>
<path d="M432.6 210.7A120.2 120.2 0 0 1 432.7 211.8L417.5 212.1A105.0 105.0 0 0 0 417.4 211.2Z" fill="#9a9ad4"/>
<path d="M432.7 211.8A120.2 120.2 0 0 1 432.7 213.6L417.5 213.7A105.0 105.0 0 0 0 417.5 212.1Z" fill="#8686ca"/>
<path d="M432.7 213.6A120.2 120.2 0 0 1 432.7 214.0L417.5 214.1A105.0 105.0 0 0 0 417.5 213.7Z" fill="#8686ca"/>
<path d="M432.7 214.0A120.2 120.2 0 0 1 432.7 215.3L417.5 215.2A105.0 105.0 0 0 0 417.5 214.1Z" fill="#8c8cce"/>
<path d="M432.7 215.3A120.2 120.2 0 0 1 432.7 216.1L417.5 215.9A105.0 105.0 0 0 0 417.5 215.2Z" fill="#f0f0fa"/>
<path d="M432.7 216.1A120.2 120.2 0 0 1 432.7 216.9L417.5 216.7A105.0 105.0 0 0 0 417.5 215.9Z" fill="#f0f0fa"/>
<path d="M432.7 216.9A120.2 120.2 0 0 1 432.7 217.5L417.5 217.2A105.0 105.0 0 0 0 417.5 216.7Z" fill="#f0f0fa"/>
<path d="M432.7 217.5A120.2 120.2 0 0 1 432.6 218.7L417.4 218.2A105.0 105.0 0 0 0 417.5 217.2Z" fill="#f0f0fa"/>
<path d="M432.6 218.7A120.2 120.2 0 0 1 432.6 220.4L417.4 219.6A105.0 105.0 0 0 0 417.4 218.2Z" fill="#f0f0fa"/>
<path d="M432.6 220.4A120.2 120.2 0 0 1 432.5 221.4L417.3 220.6A105.0 105.0 0 0 0 417.4 219.6Z" fill="#8c8cce"/>
<path d="M432.5 221.4A120.2 120.2 0 0 1 432.4 222.5L417.3 221.5A105.0 105.0 0 0 0 417.3 220.6Z" fill="#f0f0fa"/>
<path d="M432.4 222.5A120.2 120.2 0 0 1 432.3 224.1L417.2 222.9A105.0 105.0 0 0 0 417.3 221.5Z" fill="#8c8cce"/>
<path d="M432.3 224.1A120.2 120.2 0 0 1 432.3 225.0L417.1 223.7A105.0 105.0 0 0 0 417.2 222.9Z" fill="#9a9ad4"/>
<path d="M432.3 225.0A120.2 120.2 0 0 1 432.1 226.6L417.0 225.1A105.0 105.0 0 0 0 417.1 223.7Z" fill="#9494d2"/>
<path d="M432.1 226.6A120.2 120.2 0 0 1 432.0 228.0L416.9 226.3A105.0 105.0 0 0 0 417.0 225.1Z" fill="#8c8cce"/>
<path d="M432.0 228.0A120.2 120.2 0 0 1 431.8 229.6L416.7 227.7A105.0 105.0 0 0 0 416.9 226.3Z" fill="#8c8cce"/>
<path d="M431.8 229.6A120.2 120.2 0 0 1 431.6 230.9L416.5 228.9A105.0 105.0 0 0 0 416.7 227.7Z" fill="#f0f0fa"/>
<path d="M431.6 230.9A120.2 120.2 0 0 1 431.5 231.4L416.5 229.2A105.0 105.0 0 0 0 416.5 228.9Z" fill="#8686ca"/>
<path d="M431.5 231.4A120.2 120.2 0 0 1 431.5 232.0L416.4 229.8A105.0 105.0 0 0 0 416.5 229.2Z" fill="#9a9ad4"/>
<path d="M431.5 232.0A120.2 120.2 0 0 1 431.4 232.6L416.3 230.3A105.0 105.0 0 0 0 416.4 229.8Z" fill="#9a9ad4"/>
<path d="M431.4 232.6A120.2 120.2 0 0 1 431.3 233.0L416.3 230.7A105.0 105.0 0 0 0 416.3 230.3Z" fill="#f0f0fa"/>
<path d="M431.3 233.0A120.2 120.2 0 0 1 431.1 234.5L416.1 232.0A105.0 105.0 0 0 0 416.3 230.7Z" fill="#bebee8"/>
<path d="M431.1 234.5A120.2 120.2 0 0 1 430.8 236.3L415.8 233.5A105.0 105.0 0 0 0 416.1 232.0Z" fill="#f0f0fa"/>
<path d="M430.8 236.3A120.2 120.2 0 0 1 430.5 237.3L415.6 234.5A105.0 105.0 0 0 0 415.8 233.5Z" fill="#a8a8dc"/>
<path d="M430.5 237.3A120.2 120.2 0 0 1 430.5 237.8L415.5 234.9A105.0 105.0 0 0 0 415.6 234.5Z" fill="#8686ca"/>
<path d="M430.5 237.8A120.2 120.2 0 0 1 430.3 238.5L415.4 235.5A105.0 105.0 0 0 0 415.5 234.9Z" fill="#9a9ad4"/>
<path d="M430.3 238.5A120.2 120.2 0 0 1 430.0 240.2L415.1 237.0A105.0 105.0 0 0 0 415.4 235.5Z" fill="#f0f0fa"/>
<path d="M430.0 240.2A120.2 120.2 0 0 1 429.7 241.3L414.9 237.9A105.0 105.0 0 0 0 415.1 237.0Z" fill="#f0f0fa"/>
<path d="M429.7 241.3A120.2 120.2 0 0 1 429.4 242.6L414.6 239.1A105.0 105.0 0 0 0 414.9 237.9Z" fill="#f0f0fa"/>
<path d="M429.4 242.6A120.2 120.2 0 0 1 429.2 243.5L414.4 239.9A105.0 105.0 0 0 0 414.6 239.1Z" fill="#f0f0fa"/>
<path d="M429.2 243.5A120.2 120.2 0 0 1 428.9 244.6L414.2 240.8A105.0 105.0 0 0 0 414.4 239.9Z" fill="#8686ca"/>
<path d="M428.9 244.6A120.2 120.2 0 0 1 428.5 246.3L413.8 242.3A105.0 105.0 0 0 0 414.2 240.8Z" fill="#b4b4e2"/>
<path d="M428.5 246.3A120.2 120.2 0 0 1 428.1 247.7L413.5 243.6A105.0 105.0 0 0 0 413.8 242.3Z" fill="#f0f0fa"/>
<path d="M428.1 247.7A120.2 120.2 0 0 1 427.6 249.4L413.0 245.0A105.0 105.0 0 0 0 413.5 243.6Z" fill="#8686ca"/>
<path d="M427.6 249.4A120.2 120.2 0 0 1 427.2 250.8L412.7 246.2A105.0 105.0 0 0 0 413.0 245.0Z" fill="#f0f0fa"/>
<path d="M427.2 250.8A120.2 120.2 0 0 1 426.7 252.1L412.3 247.3A105.0 105.0 0 0 0 412.7 246.2Z" fill="#f0f0fa"/>
<path d="M426.7 252.1A120.2 120.2 0 0 1 426.2 253.8L411.8 248.8A105.0 105.0 0 0 0 412.3 247.3Z" fill="#a8a8dc"/>
<path d="M426.2 253.8A120.2 120.2 0 0 1 425.7 255.1L411.4 250.0A105.0 105.0 0 0 0 411.8 248.8Z" fill="#f0f0fa"/>
<path d="M425.7 255.1A120.2 120.2 0 0 1 425.5 255.6L411.2 250.5A105.0 105.0 0 0 0 411.4 250.0Z" fill="#f0f0fa"/>
<path d="M425.5 255.6A120.2 120.2 0 0 1 424.9 257.2L410.7 251.8A105.0 105.0 0 0 0 411.2 250.5Z" fill="#9a9ad4"/>
<path d="M424.9 257.2A120.2 120.2 0 0 1 424.3 258.9L410.1 253.3A105.0 105.0 0 0 0 410.7 251.8Z" fill="#c8c8ec"/>
<path d="M424.3 258.9A120.2 120.2 0 0 1 424.0 259.5L409.9 253.8A105.0 105.0 0 0 0 410.1 253.3Z" fill="#f0f0fa"/>
<path d="M424.0 259.5A120.2 120.2 0 0 1 423.4 261.1L409.4 255.3A105.0 105.0 0 0 0 409.9 253.8Z" fill="#8686ca"/>
<path d="M423.4 261.1A120.2 120.2 0 0 1 422.8 262.5L408.8 256.5A105.0 105.0 0 0 0 409.4 255.3Z" fill="#f4f4fc"/>
<path d="M422.8 262.5A120.2 120.2 0 0 1 422.5 263.2L408.6 257.1A105.0 105.0 0 0 0 408.8 256.5Z" fill="#a0a0d8"/>
<path d="M422.5 263.2A120.2 120.2 0 0 1 422.2 263.9L408.3 257.7A105.0 105.0 0 0 0 408.6 257.1Z" fill="#a0a0d8"/>
<path d="M422.2 263.9A120.2 120.2 0 0 1 421.4 265.5L407.6 259.1A105.0 105.0 0 0 0 408.3 257.7Z" fill="#c0c0e6"/>
<path d="M421.4 265.5A120.2 120.2 0 0 1 420.9 266.7L407.2 260.1A105.0 105.0 0 0 0 407.6 259.1Z" fill="#f4f4fc"/>
<path d="M420.9 266.7A120.2 120.2 0 0 1 420.2 268.0L406.6 261.3A105.0 105.0 0 0 0 407.2 260.1Z" fill="#a0a0d8"/>
<path d="M420.2 268.0A120.2 120.2 0 0 1 420.0 268.5L406.4 261.7A105.0 105.0 0 0 0 406.6 261.3Z" fill="#f4f4fc"/>
<path d="M420.0 268.5A120.2 120.2 0 0 1 419.3 269.8L405.8 262.8A105.0 105.0 0 0 0 406.4 261.7Z" fill="#f4f4fc"/>
<path d="M419.3 269.8A120.2 120.2 0 0 1 418.5 271.3L405.1 264.2A105.0 105.0 0 0 0 405.8 262.8Z" fill="#c0c0e6"/>
<path d="M418.5 271.3A120.2 120.2 0 0 1 417.7 272.8L404.4 265.4A105.0 105.0 0 0 0 405.1 264.2Z" fill="#f0f0fa"/>
<path d="M417.7 272.8A120.2 120.2 0 0 1 417.3 273.6L404.0 266.1A105.0 105.0 0 0 0 404.4 265.4Z" fill="#8c8cce"/>
<path d="M417.3 273.6A120.2 120.2 0 0 1 416.6 274.7L403.5 267.2A105.0 105.0 0 0 0 404.0 266.1Z" fill="#f0f0fa"/>
<path d="M416.6 274.7A120.2 120.2 0 0 1 415.7 276.2L402.7 268.5A105.0 105.0 0 0 0 403.5 267.2Z" fill="#9a9ad4"/>
<path d="M415.7 276.2A120.2 120.2 0 0 1 415.2 277.2L402.2 269.3A105.0 105.0 0 0 0 402.7 268.5Z" fill="#f0f0fa"/>
<path d="M415.2 277.2A120.2 120.2 0 0 1 414.6 278.1L401.7 270.1A105.0 105.0 0 0 0 402.2 269.3Z" fill="#8c8cce"/>
<path d="M414.6 278.1A120.2 120.2 0 0 1 414.3 278.7L401.4 270.6A105.0 105.0 0 0 0 401.7 270.1Z" fill="#b4b4e2"/>
<path d="M414.3 278.7A120.2 120.2 0 0 1 413.4 280.0L400.6 271.8A105.0 105.0 0 0 0 401.4 270.6Z" fill="#f0f0fa"/>
<path d="M413.4 280.0A120.2 120.2 0 0 1 412.4 281.6L399.7 273.1A105.0 105.0 0 0 0 400.6 271.8Z" fill="#9494d2"/>
<path d="M412.4 281.6A120.2 120.2 0 0 1 411.6 282.8L399.0 274.2A105.0 105.0 0 0 0 399.7 273.1Z" fill="#f0f0fa"/>
<path d="M411.6 282.8A120.2 120.2 0 0 1 410.6 284.1L398.2 275.4A105.0 105.0 0 0 0 399.0 274.2Z" fill="#8686ca"/>
<path d="M410.6 284.1A120.2 120.2 0 0 1 409.8 285.2L397.5 276.3A105.0 105.0 0 0 0 398.2 275.4Z" fill="#f0f0fa"/>
<path d="M409.8 285.2A120.2 120.2 0 0 1 409.3 286.0L397.1 276.9A105.0 105.0 0 0 0 397.5 276.3Z" fill="#f0f0fa"/>
<path d="M409.3 286.0A120.2 120.2 0 0 1 408.5 287.1L396.3 277.9A105.0 105.0 0 0 0 397.1 276.9Z" fill="#f0f0fa"/>
<path d="M408.5 287.1A120.2 120.2 0 0 1 407.6 288.2L395.6 278.9A105.0 105.0 0 0 0 396.3 277.9Z" fill="#c8c8ec"/>
<path d="M407.6 288.2A120.2 120.2 0 0 1 406.8 289.2L394.9 279.8A105.0 105.0 0 0 0 395.6 278.9Z" fill="#9a9ad4"/>
<path d="M406.8 289.2A120.2 120.2 0 0 1 406.1 290.1L394.3 280.6A105.0 105.0 0 0 0 394.9 279.8Z" fill="#f0f0fa"/>
<path d="M406.1 290.1A120.2 120.2 0 0 1 405.3 291.1L393.5 281.5A105.0 105.0 0 0 0 394.3 280.6Z" fill="#8686ca"/>
<path d="M405.3 291.1A120.2 120.2 0 0 1 404.7 291.9L393.0 282.1A105.0 105.0 0 0 0 393.5 281.5Z" fill="#f0f0fa"/>
<path d="M404.7 291.9A120.2 120.2 0 0 1 403.6 293.1L392.1 283.2A105.0 105.0 0 0 0 393.0 282.1Z" fill="#9a9ad4"/>
<path d="M403.6 293.1A120.2 120.2 0 0 1 402.8 294.1L391.3 284.0A105.0 105.0 0 0 0 392.1 283.2Z" fill="#b4b4e2"/>
<path d="M402.8 294.1A120.2 120.2 0 0 1 402.0 294.9L390.7 284.8A105.0 105.0 0 0 0 391.3 284.0Z" fill="#c8c8ec"/>
<path d="M402.0 294.9A120.2 120.2 0 0 1 401.1 296.0L389.9 285.7A105.0 105.0 0 0 0 390.7 284.8Z" fill="#8686ca"/>
<path d="M401.1 296.0A120.2 120.2 0 0 1 400.7 296.4L389.6 286.0A105.0 105.0 0 0 0 389.9 285.7Z" fill="#8686ca"/>
<path d="M400.7 296.4A120.2 120.2 0 0 1 400.1 297.0L389.1 286.6A105.0 105.0 0 0 0 389.6 286.0Z" fill="#8c8cce"/>
<path d="M400.1 297.0A120.2 120.2 0 0 1 399.3 297.9L388.3 287.4A105.0 105.0 0 0 0 389.1 286.6Z" fill="#8c8cce"/>
<path d="M399.3 297.9A120.2 120.2 0 0 1 398.9 298.3L388.0 287.7A105.0 105.0 0 0 0 388.3 287.4Z" fill="#8686ca"/>
<path d="M398.9 298.3A120.2 120.2 0 0 1 397.8 299.4L387.0 288.7A105.0 105.0 0 0 0 388.0 287.7Z" fill="#f0f0fa"/>
<path d="M397.8 299.4A120.2 120.2 0 0 1 396.5 300.7L385.8 289.8A105.0 105.0 0 0 0 387.0 288.7Z" fill="#f0f0fa"/>
<path d="M396.5 300.7A120.2 120.2 0 0 1 395.6 301.6L385.1 290.6A105.0 105.0 0 0 0 385.8 289.8Z" fill="#f0f0fa"/>
<path d="M395.6 301.6A120.2 120.2 0 0 1 395.3 301.9L384.8 290.8A105.0 105.0 0 0 0 385.1 290.6Z" fill="#f0f0fa"/>
<path d="M395.3 301.9A120.2 120.2 0 0 1 394.0 303.0L383.7 291.9A105.0 105.0 0 0 0 384.8 290.8Z" fill="#f0f0fa"/>
<path d="M394.0 303.0A120.2 120.2 0 0 1 393.2 303.8L383.0 292.5A105.0 105.0 0 0 0 383.7 291.9Z" fill="#8686ca"/>
<path d="M393.2 303.8A120.2 120.2 0 0 1 392.1 304.8L382.0 293.4A105.0 105.0 0 0 0 383.0 292.5Z" fill="#f0f0fa"/>
<path d="M392.1 304.8A120.2 120.2 0 0 1 391.3 305.4L381.4 294.0A105.0 105.0 0 0 0 382.0 293.4Z" fill="#b4b4e2"/>
<path d="M391.3 305.4A120.2 120.2 0 0 1 390.0 306.5L380.2 294.9A105.0 105.0 0 0 0 381.4 294.0Z" fill="#8c8cce"/>
<path d="M390.0 306.5A120.2 120.2 0 0 1 389.3 307.1L379.6 295.5A105.0 105.0 0 0 0 380.2 294.9Z" fill="#f0f0fa"/>
<path d="M389.3 307.1A120.2 120.2 0 0 1 388.9 307.5L379.2 295.8A105.0 105.0 0 0 0 379.6 295.5Z" fill="#b4b4e2"/>
<path d="M388.9 307.5A120.2 120.2 0 0 1 387.6 308.5L378.1 296.7A105.0 105.0 0 0 0 379.2 295.8Z" fill="#f0f0fa"/>
<path d="M387.6 308.5A120.2 120.2 0 0 1 386.8 309.2L377.4 297.2A105.0 105.0 0 0 0 378.1 296.7Z" fill="#9a9ad4"/>
<path d="M386.8 309.2A120.2 120.2 0 0 1 385.3 310.3L376.1 298.2A105.0 105.0 0 0 0 377.4 297.2Z" fill="#8686ca"/>
<path d="M385.3 310.3A120.2 120.2 0 0 1 384.9 310.6L375.8 298.5A105.0 105.0 0 0 0 376.1 298.2Z" fill="#8c8cce"/>
<path d="M384.9 310.6A120.2 120.2 0 0 1 383.7 311.5L374.7 299.3A105.0 105.0 0 0 0 375.8 298.5Z" fill="#f0f0fa"/>
<path d="M383.7 311.5A120.2 120.2 0 0 1 383.3 311.8L374.3 299.6A105.0 105.0 0 0 0 374.7 299.3Z" fill="#f0f0fa"/>
<path d="M383.3 311.8A120.2 120.2 0 0 1 382.4 312.5L373.6 300.1A105.0 105.0 0 0 0 374.3 299.6Z" fill="#9494d2"/>
<path d="M382.4 312.5A120.2 120.2 0 0 1 381.0 313.5L372.3 301.0A105.0 105.0 0 0 0 373.6 300.1Z" fill="#bebee8"/>
<path d="M381.0 313.5A120.2 120.2 0 0 1 379.6 314.5L371.1 301.8A105.0 105.0 0 0 0 372.3 301.0Z" fill="#8c8cce"/>
<path d="M379.6 314.5A120.2 120.2 0 0 1 378.6 315.1L370.3 302.4A105.0 105.0 0 0 0 371.1 301.8Z" fill="#9494d2"/>
<path d="M378.6 315.1A120.2 120.2 0 0 1 378.0 315.5L369.7 302.7A105.0 105.0 0 0 0 370.3 302.4Z" fill="#a8a8dc"/>
<path d="M378.0 315.5A120.2 120.2 0 0 1 376.6 316.4L368.5 303.5A105.0 105.0 0 0 0 369.7 302.7Z" fill="#f0f0fa"/>
<path d="M376.6 316.4A120.2 120.2 0 0 1 375.2 317.3L367.3 304.3A105.0 105.0 0 0 0 368.5 303.5Z" fill="#c8c8ec"/>
<path d="M375.2 317.3A120.2 120.2 0 0 1 373.8 318.1L366.0 305.0A105.0 105.0 0 0 0 367.3 304.3Z" fill="#9a9ad4"/>
<path d="M373.8 318.1A120.2 120.2 0 0 1 372.5 318.8L364.9 305.7A105.0 105.0 0 0 0 366.0 305.0Z" fill="#f0f0fa"/>
<path d="M372.5 318.8A120.2 120.2 0 0 1 371.5 319.4L364.0 306.2A105.0 105.0 0 0 0 364.9 305.7Z" fill="#a0a0d8"/>
<path d="M371.5 319.4A120.2 120.2 0 0 1 370.7 319.9L363.3 306.6A105.0 105.0 0 0 0 364.0 306.2Z" fill="#f4f4fc"/>
<path d="M370.7 319.9A120.2 120.2 0 0 1 369.8 320.4L362.5 307.0A105.0 105.0 0 0 0 363.3 306.6Z" fill="#a0a0d8"/>
<path d="M369.8 320.4A120.2 120.2 0 0 1 368.9 320.9L361.8 307.4A105.0 105.0 0 0 0 362.5 307.0Z" fill="#f4f4fc"/>
<path d="M368.9 320.9A120.2 120.2 0 0 1 368.2 321.2L361.1 307.8A105.0 105.0 0 0 0 361.8 307.4Z" fill="#f4f4fc"/>
<path d="M368.2 321.2A120.2 120.2 0 0 1 366.6 322.0L359.8 308.5A105.0 105.0 0 0 0 361.1 307.8Z" fill="#f4f4fc"/>
<path d="M366.6 322.0A120.2 120.2 0 0 1 365.2 322.7L358.6 309.1A105.0 105.0 0 0 0 359.8 308.5Z" fill="#f4f4fc"/>
<path d="M365.2 322.7A120.2 120.2 0 0 1 364.6 323.0L358.0 309.3A105.0 105.0 0 0 0 358.6 309.1Z" fill="#f4f4fc"/>
<path d="M364.6 323.0A120.2 120.2 0 0 1 362.9 323.8L356.6 310.0A105.0 105.0 0 0 0 358.0 309.3Z" fill="#c0c0e6"/>
<path d="M362.9 323.8A120.2 120.2 0 0 1 362.5 324.0L356.2 310.2A105.0 105.0 0 0 0 356.6 310.0Z" fill="#f4f4fc"/>
<path d="M362.5 324.0A120.2 120.2 0 0 1 362.0 324.2L355.8 310.4A105.0 105.0 0 0 0 356.2 310.2Z" fill="#c0c0e6"/>
<path d="M362.0 324.2A120.2 120.2 0 0 1 360.4 325.0L354.3 311.0A105.0 105.0 0 0 0 355.8 310.4Z" fill="#f4f4fc"/>
<path d="M360.4 325.0A120.2 120.2 0 0 1 359.7 325.3L353.7 311.3A105.0 105.0 0 0 0 354.3 311.0Z" fill="#f4f4fc"/>
<path d="M359.7 325.3A120.2 120.2 0 0 1 359.1 325.5L353.2 311.5A105.0 105.0 0 0 0 353.7 311.3Z" fill="#f4f4fc"/>
<path d="M359.1 325.5A120.2 120.2 0 0 1 358.0 325.9L352.3 311.9A105.0 105.0 0 0 0 353.2 311.5Z" fill="#8686ca"/>
<path d="M358.0 325.9A120.2 120.2 0 0 1 356.9 326.4L351.3 312.3A105.0 105.0 0 0 0 352.3 311.9Z" fill="#bebee8"/>
<path d="M356.9 326.4A120.2 120.2 0 0 1 355.4 327.0L349.9 312.8A105.0 105.0 0 0 0 351.3 312.3Z" fill="#8c8cce"/>
<path d="M355.4 327.0A120.2 120.2 0 0 1 354.3 327.4L349.0 313.1A105.0 105.0 0 0 0 349.9 312.8Z" fill="#8c8cce"/>
<path d="M354.3 327.4A120.2 120.2 0 0 1 353.6 327.7L348.4 313.4A105.0 105.0 0 0 0 349.0 313.1Z" fill="#f0f0fa"/>
<path d="M353.6 327.7A120.2 120.2 0 0 1 352.8 328.0L347.7 313.6A105.0 105.0 0 0 0 348.4 313.4Z" fill="#b4b4e2"/>
<path d="M352.8 328.0A120.2 120.2 0 0 1 352.0 328.2L347.0 313.9A105.0 105.0 0 0 0 347.7 313.6Z" fill="#f0f0fa"/>
<path d="M352.0 328.2A120.2 120.2 0 0 1 350.3 328.8L345.5 314.4A105.0 105.0 0 0 0 347.0 313.9Z" fill="#b4b4e2"/>
<path d="M350.3 328.8A120.2 120.2 0 0 1 349.1 329.2L344.5 314.7A105.0 105.0 0 0 0 345.5 314.4Z" fill="#f0f0fa"/>
<path d="M349.1 329.2A120.2 120.2 0 0 1 348.2 329.5L343.7 315.0A105.0 105.0 0 0 0 344.5 314.7Z" fill="#a8a8dc"/>
<path d="M348.2 329.5A120.2 120.2 0 0 1 347.6 329.7L343.1 315.1A105.0 105.0 0 0 0 343.7 315.0Z" fill="#a8a8dc"/>
<path d="M347.6 329.7A120.2 120.2 0 0 1 345.9 330.2L341.7 315.6A105.0 105.0 0 0 0 343.1 315.1Z" fill="#8c8cce"/>
<path d="M345.9 330.2A120.2 120.2 0 0 1 344.3 330.6L340.3 316.0A105.0 105.0 0 0 0 341.7 315.6Z" fill="#f0f0fa"/>
<path d="M344.3 330.6A120.2 120.2 0 0 1 342.6 331.1L338.8 316.4A105.0 105.0 0 0 0 340.3 316.0Z" fill="#9494d2"/>
<path d="M342.6 331.1A120.2 120.2 0 0 1 342.0 331.2L338.3 316.5A105.0 105.0 0 0 0 338.8 316.4Z" fill="#8c8cce"/>
<path d="M342.0 331.2A120.2 120.2 0 0 1 341.4 331.4L337.8 316.6A105.0 105.0 0 0 0 338.3 316.5Z" fill="#f0f0fa"/>
<path d="M341.4 331.4A120.2 120.2 0 0 1 340.0 331.7L336.5 316.9A105.0 105.0 0 0 0 337.8 316.6Z" fill="#8c8cce"/>
<path d="M340.0 331.7A120.2 120.2 0 0 1 339.2 331.9L335.8 317.1A105.0 105.0 0 0 0 336.5 316.9Z" fill="#8686ca"/>
<path d="M339.2 331.9A120.2 120.2 0 0 1 338.8 332.0L335.5 317.2A105.0 105.0 0 0 0 335.8 317.1Z" fill="#9494d2"/>
<path d="M338.8 332.0A120.2 120.2 0 0 1 337.4 332.3L334.2 317.4A105.0 105.0 0 0 0 335.5 317.2Z" fill="#c8c8ec"/>
<path d="M337.4 332.3A120.2 120.2 0 0 1 336.6 332.5L333.6 317.6A105.0 105.0 0 0 0 334.2 317.4Z" fill="#9a9ad4"/>
<path d="M336.6 332.5A120.2 120.2 0 0 1 335.0 332.8L332.1 317.8A105.0 105.0 0 0 0 333.6 317.6Z" fill="#8c8cce"/>
<path d="M335.0 332.8A120.2 120.2 0 0 1 333.8 333.0L331.1 318.0A105.0 105.0 0 0 0 332.1 317.8Z" fill="#8c8cce"/>
<path d="M333.8 333.0A120.2 120.2 0 0 1 332.7 333.2L330.1 318.2A105.0 105.0 0 0 0 331.1 318.0Z" fill="#f0f0fa"/>
<path d="M332.7 333.2A120.2 120.2 0 0 1 331.3 333.4L328.9 318.4A105.0 105.0 0 0 0 330.1 318.2Z" fill="#9a9ad4"/>
<path d="M331.3 333.4A120.2 120.2 0 0 1 329.5 333.7L327.3 318.6A105.0 105.0 0 0 0 328.9 318.4Z" fill="#8c8cce"/>
<path d="M329.5 333.7A120.2 120.2 0 0 1 328.0 333.9L326.1 318.8A105.0 105.0 0 0 0 327.3 318.6Z" fill="#b4b4e2"/>
<path d="M328.0 333.9A120.2 120.2 0 0 1 326.1 334.1L324.4 319.0A105.0 105.0 0 0 0 326.1 318.8Z" fill="#9a9ad4"/>
<path d="M326.1 334.1A120.2 120.2 0 0 1 325.6 334.2L324.0 319.1A105.0 105.0 0 0 0 324.4 319.0Z" fill="#c8c8ec"/>
<path d="M325.6 334.2A120.2 120.2 0 0 1 324.6 334.3L323.1 319.2A105.0 105.0 0 0 0 324.0 319.1Z" fill="#a8a8dc"/>
<path d="M324.6 334.3A120.2 120.2 0 0 1 324.0 334.4L322.5 319.2A105.0 105.0 0 0 0 323.1 319.2Z" fill="#f0f0fa"/>
<path d="M324.0 334.4A120.2 120.2 0 0 1 322.7 334.5L321.4 319.3A105.0 105.0 0 0 0 322.5 319.2Z" fill="#b4b4e2"/>
<path d="M322.7 334.5A120.2 120.2 0 0 1 321.4 334.6L320.3 319.4A105.0 105.0 0 0 0 321.4 319.3Z" fill="#9a9ad4"/>
<path d="M321.4 334.6A120.2 120.2 0 0 1 320.3 334.6L319.3 319.5A105.0 105.0 0 0 0 320.3 319.4Z" fill="#f0f0fa"/>
<path d="M320.3 334.6A120.2 120.2 0 0 1 318.6 334.7L317.8 319.6A105.0 105.0 0 0 0 319.3 319.5Z" fill="#c8c8ec"/>
<path d="M318.6 334.7A120.2 120.2 0 0 1 316.9 334.8L316.3 319.6A105.0 105.0 0 0 0 317.8 319.6Z" fill="#9a9ad4"/>
<path d="M316.9 334.8A120.2 120.2 0 0 1 315.2 334.9L314.9 319.7A105.0 105.0 0 0 0 316.3 319.6Z" fill="#b4b4e2"/>
<path d="M315.2 334.9A120.2 120.2 0 0 1 314.3 334.9L314.1 319.7A105.0 105.0 0 0 0 314.9 319.7Z" fill="#9a9ad4"/>
<path d="M314.3 334.9A120.2 120.2 0 0 1 312.8 334.9L312.8 319.7A105.0 105.0 0 0 0 314.1 319.7Z" fill="#9494d2"/>
<path d="M312.8 334.9A120.2 120.2 0 0 1 311.9 334.9L312.0 319.7A105.0 105.0 0 0 0 312.8 319.7Z" fill="#8686ca"/>
<path d="M311.9 334.9A120.2 120.2 0 0 1 310.4 334.9L310.7 319.7A105.0 105.0 0 0 0 312.0 319.7Z" fill="#bebee8"/>
<path d="M310.4 334.9A120.2 120.2 0 0 1 309.6 334.9L309.9 319.7A105.0 105.0 0 0 0 310.7 319.7Z" fill="#9494d2"/>
<path d="M309.6 334.9A120.2 120.2 0 0 1 308.3 334.8L308.8 319.6A105.0 105.0 0 0 0 309.9 319.7Z" fill="#8686ca"/>
<path d="M308.3 334.8A120.2 120.2 0 0 1 307.2 334.8L307.9 319.6A105.0 105.0 0 0 0 308.8 319.6Z" fill="#f0f0fa"/>
<path d="M307.2 334.8A120.2 120.2 0 0 1 306.2 334.7L307.0 319.6A105.0 105.0 0 0 0 307.9 319.6Z" fill="#a8a8dc"/>
<path d="M306.2 334.7A120.2 120.2 0 0 1 304.5 334.6L305.5 319.5A105.0 105.0 0 0 0 307.0 319.6Z" fill="#9a9ad4"/>
<path d="M304.5 334.6A120.2 120.2 0 0 1 302.9 334.5L304.1 319.4A105.0 105.0 0 0 0 305.5 319.5Z" fill="#a8a8dc"/>
<path d="M302.9 334.5A120.2 120.2 0 0 1 301.7 334.4L303.1 319.3A105.0 105.0 0 0 0 304.1 319.4Z" fill="#9494d2"/>
<path d="M301.7 334.4A120.2 120.2 0 0 1 300.3 334.3L301.8 319.2A105.0 105.0 0 0 0 303.1 319.3Z" fill="#b4b4e2"/>
<path d="M300.3 334.3A120.2 120.2 0 0 1 299.7 334.2L301.3 319.1A105.0 105.0 0 0 0 301.8 319.2Z" fill="#f0f0fa"/>
<path d="M299.7 334.2A120.2 120.2 0 0 1 298.6 334.1L300.4 319.0A105.0 105.0 0 0 0 301.3 319.1Z" fill="#f0f0fa"/>
<path d="M298.6 334.1A120.2 120.2 0 0 1 297.0 333.9L299.0 318.8A105.0 105.0 0 0 0 300.4 319.0Z" fill="#c8c8ec"/>
<path d="M297.0 333.9A120.2 120.2 0 0 1 295.8 333.7L297.9 318.7A105.0 105.0 0 0 0 299.0 318.8Z" fill="#f0f0fa"/>
<path d="M295.8 333.7A120.2 120.2 0 0 1 295.0 333.6L297.2 318.6A105.0 105.0 0 0 0 297.9 318.7Z" fill="#a8a8dc"/>
<path d="M295.0 333.6A120.2 120.2 0 0 1 294.5 333.6L296.8 318.5A105.0 105.0 0 0 0 297.2 318.6Z" fill="#8c8cce"/>
<path d="M294.5 333.6A120.2 120.2 0 0 1 292.9 333.3L295.4 318.3A105.0 105.0 0 0 0 296.8 318.5Z" fill="#a8a8dc"/>
<path d="M292.9 333.3A120.2 120.2 0 0 1 292.1 333.2L294.7 318.2A105.0 105.0 0 0 0 295.4 318.3Z" fill="#f0f0fa"/>
<path d="M292.1 333.2A120.2 120.2 0 0 1 290.9 332.9L293.6 318.0A105.0 105.0 0 0 0 294.7 318.2Z" fill="#9494d2"/>
<path d="M290.9 332.9A120.2 120.2 0 0 1 289.8 332.7L292.7 317.8A105.0 105.0 0 0 0 293.6 318.0Z" fill="#9a9ad4"/>
<path d="M289.8 332.7A120.2 120.2 0 0 1 289.3 332.6L292.3 317.7A105.0 105.0 0 0 0 292.7 317.8Z" fill="#c8c8ec"/>
<path d="M289.3 332.6A120.2 120.2 0 0 1 288.7 332.5L291.7 317.6A105.0 105.0 0 0 0 292.3 317.7Z" fill="#f0f0fa"/>
<path d="M288.7 332.5A120.2 120.2 0 0 1 287.5 332.3L290.6 317.4A105.0 105.0 0 0 0 291.7 317.6Z" fill="#9494d2"/>
<path d="M287.5 332.3A120.2 120.2 0 0 1 285.8 331.9L289.1 317.1A105.0 105.0 0 0 0 290.6 317.4Z" fill="#bebee8"/>
<path d="M285.8 331.9A120.2 120.2 0 0 1 284.3 331.5L287.9 316.8A105.0 105.0 0 0 0 289.1 317.1Z" fill="#8686ca"/>
<path d="M284.3 331.5A120.2 120.2 0 0 1 282.8 331.2L286.6 316.4A105.0 105.0 0 0 0 287.9 316.8Z" fill="#9494d2"/>
<path d="M282.8 331.2A120.2 120.2 0 0 1 281.1 330.7L285.1 316.1A105.0 105.0 0 0 0 286.6 316.4Z" fill="#8c8cce"/>
<path d="M281.1 330.7A120.2 120.2 0 0 1 280.4 330.5L284.4 315.9A105.0 105.0 0 0 0 285.1 316.1Z" fill="#bebee8"/>
<path d="M280.4 330.5A120.2 120.2 0 0 1 278.9 330.1L283.2 315.5A105.0 105.0 0 0 0 284.4 315.9Z" fill="#b4b4e2"/>
<path d="M278.9 330.1A120.2 120.2 0 0 1 278.2 329.9L282.5 315.3A105.0 105.0 0 0 0 283.2 315.5Z" fill="#f0f0fa"/>
<path d="M278.2 329.9A120.2 120.2 0 0 1 276.7 329.4L281.2 314.9A105.0 105.0 0 0 0 282.5 315.3Z" fill="#f0f0fa"/>
<path d="M276.7 329.4A120.2 120.2 0 0 1 275.2 329.0L280.0 314.5A105.0 105.0 0 0 0 281.2 314.9Z" fill="#8686ca"/>
<path d="M275.2 329.0A120.2 120.2 0 0 1 273.6 328.4L278.5 314.1A105.0 105.0 0 0 0 280.0 314.5Z" fill="#f0f0fa"/>
<path d="M273.6 328.4A120.2 120.2 0 0 1 272.3 328.0L277.4 313.7A105.0 105.0 0 0 0 278.5 314.1Z" fill="#b4b4e2"/>
<path d="M272.3 328.0A120.2 120.2 0 0 1 271.1 327.6L276.3 313.3A105.0 105.0 0 0 0 277.4 313.7Z" fill="#b4b4e2"/>
<path d="M271.1 327.6A120.2 120.2 0 0 1 269.9 327.1L275.3 312.9A105.0 105.0 0 0 0 276.3 313.3Z" fill="#9a9ad4"/>
<path d="M269.9 327.1A120.2 120.2 0 0 1 268.7 326.6L274.2 312.5A105.0 105.0 0 0 0 275.3 312.9Z" fill="#9a9ad4"/>
<path d="M268.7 326.6A120.2 120.2 0 0 1 267.1 326.0L272.9 311.9A105.0 105.0 0 0 0 274.2 312.5Z" fill="#b4b4e2"/>
<path d="M267.1 326.0A120.2 120.2 0 0 1 265.8 325.5L271.7 311.5A105.0 105.0 0 0 0 272.9 311.9Z" fill="#8c8cce"/>
<path d="M265.8 325.5A120.2 120.2 0 0 1 264.9 325.1L270.9 311.1A105.0 105.0 0 0 0 271.7 311.5Z" fill="#bebee8"/>
<path d="M264.9 325.1A120.2 120.2 0 0 1 263.8 324.6L269.9 310.7A105.0 105.0 0 0 0 270.9 311.1Z" fill="#a8a8dc"/>
<path d="M263.8 324.6A120.2 120.2 0 0 1 262.5 324.0L268.8 310.2A105.0 105.0 0 0 0 269.9 310.7Z" fill="#b4b4e2"/>
<path d="M262.5 324.0A120.2 120.2 0 0 1 261.7 323.7L268.1 309.9A105.0 105.0 0 0 0 268.8 310.2Z" fill="#bebee8"/>
<path d="M261.7 323.7A120.2 120.2 0 0 1 260.2 322.9L266.8 309.2A105.0 105.0 0 0 0 268.1 309.9Z" fill="#bebee8"/>
<path d="M260.2 322.9A120.2 120.2 0 0 1 259.8 322.7L266.4 309.1A105.0 105.0 0 0 0 266.8 309.2Z" fill="#9a9ad4"/>
<path d="M259.8 322.7A120.2 120.2 0 0 1 258.8 322.2L265.6 308.6A105.0 105.0 0 0 0 266.4 309.1Z" fill="#a8a8dc"/>
<path d="M258.8 322.2A120.2 120.2 0 0 1 257.5 321.6L264.4 308.1A105.0 105.0 0 0 0 265.6 308.6Z" fill="#b4b4e2"/>
<path d="M257.5 321.6A120.2 120.2 0 0 1 257.1 321.4L264.1 307.9A105.0 105.0 0 0 0 264.4 308.1Z" fill="#b4b4e2"/>
<path d="M257.1 321.4A120.2 120.2 0 0 1 256.1 320.8L263.2 307.4A105.0 105.0 0 0 0 264.1 307.9Z" fill="#9a9ad4"/>
<path d="M256.1 320.8A120.2 120.2 0 0 1 255.1 320.3L262.3 306.9A105.0 105.0 0 0 0 263.2 307.4Z" fill="#9a9ad4"/>
<path d="M255.1 320.3A120.2 120.2 0 0 1 254.0 319.7L261.4 306.4A105.0 105.0 0 0 0 262.3 306.9Z" fill="#bebee8"/>
<path d="M254.0 319.7A120.2 120.2 0 0 1 252.7 319.0L260.3 305.8A105.0 105.0 0 0 0 261.4 306.4Z" fill="#bebee8"/>
<path d="M252.7 319.0A120.2 120.2 0 0 1 251.6 318.3L259.3 305.2A105.0 105.0 0 0 0 260.3 305.8Z" fill="#b4b4e2"/>
<path d="M251.6 318.3A120.2 120.2 0 0 1 250.9 317.9L258.7 304.8A105.0 105.0 0 0 0 259.3 305.2Z" fill="#9a9ad4"/>
<path d="M250.9 317.9A120.2 120.2 0 0 1 249.9 317.3L257.8 304.3A105.0 105.0 0 0 0 258.7 304.8Z" fill="#b4b4e2"/>
<path d="M249.9 317.3A120.2 120.2 0 0 1 249.1 316.8L257.1 303.9A105.0 105.0 0 0 0 257.8 304.3Z" fill="#9a9ad4"/>
<path d="M249.1 316.8A120.2 120.2 0 0 1 248.1 316.2L256.2 303.3A105.0 105.0 0 0 0 257.1 303.9Z" fill="#9494d2"/>
<path d="M248.1 316.2A120.2 120.2 0 0 1 247.2 315.6L255.5 302.9A105.0 105.0 0 0 0 256.2 303.3Z" fill="#f0f0fa"/>
<path d="M247.2 315.6A120.2 120.2 0 0 1 246.9 315.4L255.2 302.7A105.0 105.0 0 0 0 255.5 302.9Z" fill="#b4b4e2"/>
<path d="M246.9 315.4A120.2 120.2 0 0 1 245.6 314.5L254.0 301.9A105.0 105.0 0 0 0 255.2 302.7Z" fill="#9a9ad4"/>
<path d="M245.6 314.5A120.2 120.2 0 0 1 244.5 313.8L253.1 301.3A105.0 105.0 0 0 0 254.0 301.9Z" fill="#bebee8"/>
<path d="M244.5 313.8A120.2 120.2 0 0 1 243.3 313.0L252.1 300.6A105.0 105.0 0 0 0 253.1 301.3Z" fill="#a8a8dc"/>
<path d="M243.3 313.0A120.2 120.2 0 0 1 242.0 312.0L250.9 299.7A105.0 105.0 0 0 0 252.1 300.6Z" fill="#a8a8dc"/>
<path d="M242.0 312.0A120.2 120.2 0 0 1 241.1 311.4L250.1 299.2A105.0 105.0 0 0 0 250.9 299.7Z" fill="#c8c8ec"/>
<path d="M241.1 311.4A120.2 120.2 0 0 1 239.9 310.5L249.1 298.4A105.0 105.0 0 0 0 250.1 299.2Z" fill="#8686ca"/>
<path d="M239.9 310.5A120.2 120.2 0 0 1 239.2 310.0L248.5 297.9A105.0 105.0 0 0 0 249.1 298.4Z" fill="#f0f0fa"/>
<path d="M239.2 310.0A120.2 120.2 0 0 1 238.7 309.6L248.0 297.6A105.0 105.0 0 0 0 248.5 297.9Z" fill="#b4b4e2"/>
<path d="M238.7 309.6A120.2 120.2 0 0 1 238.2 309.2L247.6 297.2A105.0 105.0 0 0 0 248.0 297.6Z" fill="#8686ca"/>
<path d="M238.2 309.2A120.2 120.2 0 0 1 237.8 308.8L247.2 296.9A105.0 105.0 0 0 0 247.6 297.2Z" fill="#a8a8dc"/>
<path d="M237.8 308.8A120.2 120.2 0 0 1 236.8 308.1L246.4 296.3A105.0 105.0 0 0 0 247.2 296.9Z" fill="#9a9ad4"/>
<path d="M236.8 308.1A120.2 120.2 0 0 1 236.4 307.7L246.0 296.0A105.0 105.0 0 0 0 246.4 296.3Z" fill="#b4b4e2"/>
<path d="M236.4 307.7A120.2 120.2 0 0 1 235.1 306.7L244.9 295.0A105.0 105.0 0 0 0 246.0 296.0Z" fill="#8686ca"/>
<path d="M235.1 306.7A120.2 120.2 0 0 1 233.8 305.6L243.8 294.1A105.0 105.0 0 0 0 244.9 295.0Z" fill="#9a9ad4"/>
<path d="M233.8 305.6A120.2 120.2 0 0 1 232.6 304.5L242.7 293.1A105.0 105.0 0 0 0 243.8 294.1Z" fill="#f0f0fa"/>
<path d="M232.6 304.5A120.2 120.2 0 0 1 231.7 303.7L241.9 292.4A105.0 105.0 0 0 0 242.7 293.1Z" fill="#9494d2"/>
<path d="M231.7 303.7A120.2 120.2 0 0 1 230.3 302.4L240.7 291.3A105.0 105.0 0 0 0 241.9 292.4Z" fill="#bebee8"/>
<path d="M230.3 302.4A120.2 120.2 0 0 1 229.7 301.8L240.1 290.8A105.0 105.0 0 0 0 240.7 291.3Z" fill="#8c8cce"/>
<path d="M229.7 301.8A120.2 120.2 0 0 1 228.4 300.6L239.0 289.7A105.0 105.0 0 0 0 240.1 290.8Z" fill="#8686ca"/>
<path d="M228.4 300.6A120.2 120.2 0 0 1 227.8 300.0L238.5 289.2A105.0 105.0 0 0 0 239.0 289.7Z" fill="#9494d2"/>
<path d="M227.8 300.0A120.2 120.2 0 0 1 227.3 299.5L238.0 288.7A105.0 105.0 0 0 0 238.5 289.2Z" fill="#8686ca"/>
<path d="M227.3 299.5A120.2 120.2 0 0 1 226.4 298.5L237.2 287.9A105.0 105.0 0 0 0 238.0 288.7Z" fill="#9a9ad4"/>
<path d="M226.4 298.5A120.2 120.2 0 0 1 225.4 297.6L236.4 287.1A105.0 105.0 0 0 0 237.2 287.9Z" fill="#b4b4e2"/>
<path d="M225.4 297.6A120.2 120.2 0 0 1 224.9 297.0L236.0 286.6A105.0 105.0 0 0 0 236.4 287.1Z" fill="#bebee8"/>
<path d="M224.9 297.0A120.2 120.2 0 0 1 224.2 296.3L235.4 286.0A105.0 105.0 0 0 0 236.0 286.6Z" fill="#9a9ad4"/>
<path d="M224.2 296.3A120.2 120.2 0 0 1 223.5 295.5L234.7 285.2A105.0 105.0 0 0 0 235.4 286.0Z" fill="#bebee8"/>
<path d="M223.5 295.5A120.2 120.2 0 0 1 222.8 294.7L234.2 284.6A105.0 105.0 0 0 0 234.7 285.2Z" fill="#c8c8ec"/>
<path d="M222.8 294.7A120.2 120.2 0 0 1 222.1 294.0L233.6 283.9A105.0 105.0 0 0 0 234.2 284.6Z" fill="#c8c8ec"/>
<path d="M222.1 294.0A120.2 120.2 0 0 1 221.3 293.0L232.9 283.1A105.0 105.0 0 0 0 233.6 283.9Z" fill="#b4b4e2"/>
<path d="M221.3 293.0A120.2 120.2 0 0 1 221.0 292.6L232.5 282.8A105.0 105.0 0 0 0 232.9 283.1Z" fill="#a8a8dc"/>
<path d="M221.0 292.6A120.2 120.2 0 0 1 220.2 291.7L231.9 282.0A105.0 105.0 0 0 0 232.5 282.8Z" fill="#bebee8"/>
<path d="M220.2 291.7A120.2 120.2 0 0 1 219.0 290.3L230.8 280.7A105.0 105.0 0 0 0 231.9 282.0Z" fill="#c8c8ec"/>
<path d="M219.0 290.3A120.2 120.2 0 0 1 218.7 289.8L230.5 280.3A105.0 105.0 0 0 0 230.8 280.7Z" fill="#9494d2"/>
<path d="M218.7 289.8A120.2 120.2 0 0 1 218.1 289.1L230.0 279.7A105.0 105.0 0 0 0 230.5 280.3Z" fill="#c8c8ec"/>
<path d="M218.1 289.1A120.2 120.2 0 0 1 217.6 288.4L229.6 279.1A105.0 105.0 0 0 0 230.0 279.7Z" fill="#9494d2"/>
<path d="M217.6 288.4A120.2 120.2 0 0 1 216.8 287.4L228.9 278.2A105.0 105.0 0 0 0 229.6 279.1Z" fill="#b4b4e2"/>
<path d="M216.8 287.4A120.2 120.2 0 0 1 216.1 286.5L228.3 277.4A105.0 105.0 0 0 0 228.9 278.2Z" fill="#8c8cce"/>
<path d="M216.1 286.5A120.2 120.2 0 0 1 215.5 285.7L227.8 276.7A105.0 105.0 0 0 0 228.3 277.4Z" fill="#9494d2"/>
<path d="M215.5 285.7A120.2 120.2 0 0 1 215.1 285.1L227.4 276.2A105.0 105.0 0 0 0 227.8 276.7Z" fill="#9a9ad4"/>
<path d="M215.1 285.1A120.2 120.2 0 0 1 214.6 284.4L227.0 275.6A105.0 105.0 0 0 0 227.4 276.2Z" fill="#a8a8dc"/>
<path d="M214.6 284.4A120.2 120.2 0 0 1 213.8 283.4L226.3 274.7A105.0 105.0 0 0 0 227.0 275.6Z" fill="#f0f0fa"/>
<path d="M213.8 283.4A120.2 120.2 0 0 1 213.3 282.6L225.9 274.0A105.0 105.0 0 0 0 226.3 274.7Z" fill="#8c8cce"/>
<path d="M213.3 282.6A120.2 120.2 0 0 1 212.9 282.0L225.5 273.5A105.0 105.0 0 0 0 225.9 274.0Z" fill="#bebee8"/>
<path d="M212.9 282.0A120.2 120.2 0 0 1 212.1 280.7L224.8 272.4A105.0 105.0 0 0 0 225.5 273.5Z" fill="#bebee8"/>
<path d="M212.1 280.7A120.2 120.2 0 0 1 211.6 280.1L224.4 271.8A105.0 105.0 0 0 0 224.8 272.4Z" fill="#9494d2"/>
<path d="M211.6 280.1A120.2 120.2 0 0 1 211.0 279.1L223.8 270.9A105.0 105.0 0 0 0 224.4 271.8Z" fill="#8c8cce"/>
<path d="M211.0 279.1A120.2 120.2 0 0 1 210.2 277.8L223.1 269.8A105.0 105.0 0 0 0 223.8 270.9Z" fill="#a8a8dc"/>
<path d="M210.2 277.8A120.2 120.2 0 0 1 209.9 277.3L222.9 269.4A105.0 105.0 0 0 0 223.1 269.8Z" fill="#f0f0fa"/>
<path d="M209.9 277.3A120.2 120.2 0 0 1 209.7 276.9L222.7 269.1A105.0 105.0 0 0 0 222.9 269.4Z" fill="#c8c8ec"/>
<path d="M209.7 276.9A120.2 120.2 0 0 1 209.2 276.1L222.3 268.4A105.0 105.0 0 0 0 222.7 269.1Z" fill="#9494d2"/>
<path d="M209.2 276.1A120.2 120.2 0 0 1 208.6 275.2L221.8 267.6A105.0 105.0 0 0 0 222.3 268.4Z" fill="#c8c8ec"/>
<path d="M208.6 275.2A120.2 120.2 0 0 1 207.9 273.9L221.1 266.4A105.0 105.0 0 0 0 221.8 267.6Z" fill="#8c8cce"/>
<path d="M207.9 273.9A120.2 120.2 0 0 1 207.0 272.4L220.4 265.1A105.0 105.0 0 0 0 221.1 266.4Z" fill="#f0f0fa"/>
<path d="M207.0 272.4A120.2 120.2 0 0 1 206.7 271.7L220.1 264.5A105.0 105.0 0 0 0 220.4 265.1Z" fill="#bebee8"/>
<path d="M206.7 271.7A120.2 120.2 0 0 1 206.3 271.0L219.7 263.9A105.0 105.0 0 0 0 220.1 264.5Z" fill="#c8c8ec"/>
<path d="M206.3 271.0A120.2 120.2 0 0 1 205.5 269.4L219.0 262.5A105.0 105.0 0 0 0 219.7 263.9Z" fill="#c8c8ec"/>
<path d="M205.5 269.4A120.2 120.2 0 0 1 205.1 268.7L218.7 261.9A105.0 105.0 0 0 0 219.0 262.5Z" fill="#f0f0fa"/>
<path d="M205.1 268.7A120.2 120.2 0 0 1 204.3 267.0L218.0 260.4A105.0 105.0 0 0 0 218.7 261.9Z" fill="#9a9ad4"/>
<path d="M204.3 267.0A120.2 120.2 0 0 1 203.7 265.8L217.5 259.3A105.0 105.0 0 0 0 218.0 260.4Z" fill="#c8c8ec"/>
<path d="M203.7 265.8A120.2 120.2 0 0 1 203.3 265.0L217.1 258.6A105.0 105.0 0 0 0 217.5 259.3Z" fill="#bebee8"/>
<path d="M203.3 265.0A120.2 120.2 0 0 1 202.6 263.5L216.5 257.3A105.0 105.0 0 0 0 217.1 258.6Z" fill="#8686ca"/>
<path d="M202.6 263.5A120.2 120.2 0 0 1 202.5 263.1L216.4 257.0A105.0 105.0 0 0 0 216.5 257.3Z" fill="#9494d2"/>
<path d="M202.5 263.1A120.2 120.2 0 0 1 202.0 262.1L216.0 256.1A105.0 105.0 0 0 0 216.4 257.0Z" fill="#c8c8ec"/>
<path d="M202.0 262.1A120.2 120.2 0 0 1 201.9 261.7L215.8 255.7A105.0 105.0 0 0 0 216.0 256.1Z" fill="#9a9ad4"/>
<path d="M201.9 261.7A120.2 120.2 0 0 1 201.3 260.3L215.4 254.5A105.0 105.0 0 0 0 215.8 255.7Z" fill="#bebee8"/>
<path d="M201.3 260.3A120.2 120.2 0 0 1 200.8 259.2L215.0 253.6A105.0 105.0 0 0 0 215.4 254.5Z" fill="#9a9ad4"/>
<path d="M200.8 259.2A120.2 120.2 0 0 1 200.4 258.0L214.5 252.5A105.0 105.0 0 0 0 215.0 253.6Z" fill="#c8c8ec"/>
<path d="M200.4 258.0A120.2 120.2 0 0 1 199.7 256.3L214.0 251.0A105.0 105.0 0 0 0 214.5 252.5Z" fill="#8686ca"/>
<path d="M199.7 256.3A120.2 120.2 0 0 1 199.5 255.7L213.8 250.5A105.0 105.0 0 0 0 214.0 251.0Z" fill="#a8a8dc"/>
<path d="M199.5 255.7A120.2 120.2 0 0 1 199.2 254.7L213.5 249.7A105.0 105.0 0 0 0 213.8 250.5Z" fill="#a8a8dc"/>
<path d="M199.2 254.7A120.2 120.2 0 0 1 198.9 254.1L213.3 249.1A105.0 105.0 0 0 0 213.5 249.7Z" fill="#bebee8"/>
<path d="M198.9 254.1A120.2 120.2 0 0 1 198.6 253.2L213.0 248.3A105.0 105.0 0 0 0 213.3 249.1Z" fill="#f0f0fa"/>
<path d="M198.6 253.2A120.2 120.2 0 0 1 198.2 251.8L212.6 247.1A105.0 105.0 0 0 0 213.0 248.3Z" fill="#a8a8dc"/>
<path d="M198.2 251.8A120.2 120.2 0 0 1 197.8 250.6L212.3 246.1A105.0 105.0 0 0 0 212.6 247.1Z" fill="#9a9ad4"/>
<path d="M197.8 250.6A120.2 120.2 0 0 1 197.6 249.9L212.1 245.5A105.0 105.0 0 0 0 212.3 246.1Z" fill="#b4b4e2"/>
<path d="M197.6 249.9A120.2 120.2 0 0 1 197.3 248.8L211.8 244.5A105.0 105.0 0 0 0 212.1 245.5Z" fill="#f0f0fa"/>
<path d="M197.3 248.8A120.2 120.2 0 0 1 196.9 247.6L211.5 243.5A105.0 105.0 0 0 0 211.8 244.5Z" fill="#9494d2"/>
<path d="M196.9 247.6A120.2 120.2 0 0 1 196.7 246.9L211.3 242.8A105.0 105.0 0 0 0 211.5 243.5Z" fill="#bebee8"/>
<path d="M196.7 246.9A120.2 120.2 0 0 1 196.4 245.8L211.1 241.8A105.0 105.0 0 0 0 211.3 242.8Z" fill="#c8c8ec"/>
<path d="M196.4 245.8A120.2 120.2 0 0 1 196.1 244.8L210.8 241.0A105.0 105.0 0 0 0 211.1 241.8Z" fill="#c8c8ec"/>
<path d="M196.1 244.8A120.2 120.2 0 0 1 195.9 243.8L210.6 240.1A105.0 105.0 0 0 0 210.8 241.0Z" fill="#bebee8"/>
<path d="M195.9 243.8A120.2 120.2 0 0 1 195.5 242.1L210.3 238.6A105.0 105.0 0 0 0 210.6 240.1Z" fill="#b4b4e2"/>
<path d="M195.5 242.1A120.2 120.2 0 0 1 195.2 240.9L210.0 237.6A105.0 105.0 0 0 0 210.3 238.6Z" fill="#f0f0fa"/>
<path d="M195.2 240.9A120.2 120.2 0 0 1 195.0 240.0L209.9 236.8A105.0 105.0 0 0 0 210.0 237.6Z" fill="#b4b4e2"/>
<path d="M195.0 240.0A120.2 120.2 0 0 1 194.8 238.8L209.6 235.8A105.0 105.0 0 0 0 209.9 236.8Z" fill="#c8c8ec"/>
<path d="M194.8 238.8A120.2 120.2 0 0 1 194.4 237.1L209.3 234.3A105.0 105.0 0 0 0 209.6 235.8Z" fill="#8c8cce"/>
<path d="M194.4 237.1A120.2 120.2 0 0 1 194.1 235.4L209.1 232.8A105.0 105.0 0 0 0 209.3 234.3Z" fill="#8686ca"/>
<path d="M194.1 235.4A120.2 120.2 0 0 1 193.9 234.3L208.9 231.8A105.0 105.0 0 0 0 209.1 232.8Z" fill="#f0f0fa"/>
<path d="M193.9 234.3A120.2 120.2 0 0 1 193.7 233.1L208.7 230.7A105.0 105.0 0 0 0 208.9 231.8Z" fill="#a8a8dc"/>
<path d="M193.7 233.1A120.2 120.2 0 0 1 193.5 231.5L208.5 229.4A105.0 105.0 0 0 0 208.7 230.7Z" fill="#c8c8ec"/>
<path d="M193.5 231.5A120.2 120.2 0 0 1 193.3 230.5L208.4 228.5A105.0 105.0 0 0 0 208.5 229.4Z" fill="#8686ca"/>
<path d="M193.3 230.5A120.2 120.2 0 0 1 193.2 229.6L208.3 227.7A105.0 105.0 0 0 0 208.4 228.5Z" fill="#c8c8ec"/>
<path d="M193.2 229.6A120.2 120.2 0 0 1 193.1 228.8L208.2 227.0A105.0 105.0 0 0 0 208.3 227.7Z" fill="#c8c8ec"/>
<path d="M193.1 228.8A120.2 120.2 0 0 1 193.0 227.9L208.1 226.2A105.0 105.0 0 0 0 208.2 227.0Z" fill="#f0f0fa"/>
<path d="M193.0 227.9A120.2 120.2 0 0 1 192.9 227.1L208.1 225.5A105.0 105.0 0 0 0 208.1 226.2Z" fill="#9494d2"/>
<path d="M192.9 227.1A120.2 120.2 0 0 1 192.9 226.5L208.0 225.0A105.0 105.0 0 0 0 208.1 225.5Z" fill="#a8a8dc"/>
<path d="M192.9 226.5A120.2 120.2 0 0 1 192.7 224.9L207.9 223.7A105.0 105.0 0 0 0 208.0 225.0Z" fill="#8c8cce"/>
<path d="M192.7 224.9A120.2 120.2 0 0 1 192.6 223.6L207.8 222.5A105.0 105.0 0 0 0 207.9 223.7Z" fill="#8686ca"/>
<path d="M192.6 223.6A120.2 120.2 0 0 1 192.6 222.6L207.7 221.6A105.0 105.0 0 0 0 207.8 222.5Z" fill="#b4b4e2"/>
<path d="M192.6 222.6A120.2 120.2 0 0 1 192.5 220.9L207.6 220.1A105.0 105.0 0 0 0 207.7 221.6Z" fill="#c8c8ec"/>
<path d="M192.5 220.9A120.2 120.2 0 0 1 192.4 220.2L207.6 219.5A105.0 105.0 0 0 0 207.6 220.1Z" fill="#8686ca"/>
<path d="M192.4 220.2A120.2 120.2 0 0 1 192.4 218.8L207.6 218.2A105.0 105.0 0 0 0 207.6 219.5Z" fill="#c8c8ec"/>
<path d="M192.4 218.8A120.2 120.2 0 0 1 192.3 218.0L207.5 217.6A105.0 105.0 0 0 0 207.6 218.2Z" fill="#f0f0fa"/>
<path d="M192.3 218.0A120.2 120.2 0 0 1 192.3 216.7L207.5 216.4A105.0 105.0 0 0 0 207.5 217.6Z" fill="#c8c8ec"/>
<path d="M192.3 216.7A120.2 120.2 0 0 1 192.3 215.6L207.5 215.5A105.0 105.0 0 0 0 207.5 216.4Z" fill="#8c8cce"/>
<path d="M192.3 215.6A120.2 120.2 0 0 1 192.3 214.3L207.5 214.4A105.0 105.0 0 0 0 207.5 215.5Z" fill="#b4b4e2"/>
<path d="M192.3 214.3A120.2 120.2 0 0 1 192.3 213.1L207.5 213.3A105.0 105.0 0 0 0 207.5 214.4Z" fill="#a8a8dc"/>
<path d="M192.3 213.1A120.2 120.2 0 0 1 192.3 211.8L207.5 212.2A105.0 105.0 0 0 0 207.5 213.3Z" fill="#c8c8ec"/>
<path d="M192.3 211.8A120.2 120.2 0 0 1 192.3 211.3L207.5 211.8A105.0 105.0 0 0 0 207.5 212.2Z" fill="#c8c8ec"/>
<path d="M192.3 211.3A120.2 120.2 0 0 1 192.4 210.6L207.6 211.1A105.0 105.0 0 0 0 207.5 211.8Z" fill="#b4b4e2"/>
<path d="M192.4 210.6A120.2 120.2 0 0 1 192.4 208.9L207.6 209.6A105.0 105.0 0 0 0 207.6 211.1Z" fill="#bebee8"/>
<path d="M192.4 208.9A120.2 120.2 0 0 1 192.5 207.6L207.7 208.5A105.0 105.0 0 0 0 207.6 209.6Z" fill="#8c8cce"/>
<path d="M192.5 207.6A120.2 120.2 0 0 1 192.6 206.7L207.7 207.7A105.0 105.0 0 0 0 207.7 208.5Z" fill="#b4b4e2"/>
<path d="M192.6 206.7A120.2 120.2 0 0 1 192.7 205.2L207.8 206.4A105.0 105.0 0 0 0 207.7 207.7Z" fill="#9a9ad4"/>
<path d="M192.7 205.2A120.2 120.2 0 0 1 192.7 204.7L207.9 206.0A105.0 105.0 0 0 0 207.8 206.4Z" fill="#c8c8ec"/>
<path d="M192.7 204.7A120.2 120.2 0 0 1 192.9 203.1L208.0 204.6A105.0 105.0 0 0 0 207.9 206.0Z" fill="#8686ca"/>
<path d="M192.9 203.1A120.2 120.2 0 0 1 193.0 201.7L208.1 203.4A105.0 105.0 0 0 0 208.0 204.6Z" fill="#8686ca"/>
<path d="M193.0 201.7A120.2 120.2 0 0 1 193.2 200.2L208.3 202.1A105.0 105.0 0 0 0 208.1 203.4Z" fill="#b4b4e2"/>
<path d="M193.2 200.2A120.2 120.2 0 0 1 193.4 198.4L208.5 200.5A105.0 105.0 0 0 0 208.3 202.1Z" fill="#b4b4e2"/>
<path d="M193.4 198.4A120.2 120.2 0 0 1 193.5 197.9L208.5 200.0A105.0 105.0 0 0 0 208.5 200.5Z" fill="#8686ca"/>
<path d="M193.5 197.9A120.2 120.2 0 0 1 193.6 196.9L208.7 199.2A105.0 105.0 0 0 0 208.5 200.0Z" fill="#8686ca"/>
<path d="M193.6 196.9A120.2 120.2 0 0 1 193.8 196.1L208.8 198.4A105.0 105.0 0 0 0 208.7 199.2Z" fill="#9494d2"/>
<path d="M193.8 196.1A120.2 120.2 0 0 1 193.9 195.1L208.9 197.5A105.0 105.0 0 0 0 208.8 198.4Z" fill="#f0f0fa"/>
<path d="M193.9 195.1A120.2 120.2 0 0 1 194.2 193.5L209.1 196.2A105.0 105.0 0 0 0 208.9 197.5Z" fill="#9494d2"/>
<path d="M194.2 193.5A120.2 120.2 0 0 1 194.4 192.5L209.3 195.3A105.0 105.0 0 0 0 209.1 196.2Z" fill="#a8a8dc"/>
<path d="M194.4 192.5A120.2 120.2 0 0 1 194.7 191.0L209.6 194.0A105.0 105.0 0 0 0 209.3 195.3Z" fill="#c8c8ec"/>
<path d="M194.7 191.0A120.2 120.2 0 0 1 195.0 189.3L209.9 192.5A105.0 105.0 0 0 0 209.6 194.0Z" fill="#9a9ad4"/>
<path d="M195.0 189.3A120.2 120.2 0 0 1 195.1 188.8L210.0 192.1A105.0 105.0 0 0 0 209.9 192.5Z" fill="#8686ca"/>
<path d="M195.1 188.8A120.2 120.2 0 0 1 195.3 187.8L210.2 191.2A105.0 105.0 0 0 0 210.0 192.1Z" fill="#9a9ad4"/>
<path d="M195.3 187.8A120.2 120.2 0 0 1 195.5 187.3L210.3 190.8A105.0 105.0 0 0 0 210.2 191.2Z" fill="#9a9ad4"/>
<path d="M195.5 187.3A120.2 120.2 0 0 1 195.8 185.8L210.6 189.5A105.0 105.0 0 0 0 210.3 190.8Z" fill="#f0f0fa"/>
<path d="M195.8 185.8A120.2 120.2 0 0 1 195.9 185.3L210.7 189.0A105.0 105.0 0 0 0 210.6 189.5Z" fill="#bebee8"/>
<path d="M195.9 185.3A120.2 120.2 0 0 1 196.1 184.6L210.9 188.4A105.0 105.0 0 0 0 210.7 189.0Z" fill="#c8c8ec"/>
<path d="M196.1 184.6A120.2 120.2 0 0 1 196.5 183.4L211.1 187.3A105.0 105.0 0 0 0 210.9 188.4Z" fill="#b4b4e2"/>
<path d="M196.5 183.4A120.2 120.2 0 0 1 196.7 182.6L211.3 186.6A105.0 105.0 0 0 0 211.1 187.3Z" fill="#8686ca"/>
<path d="M196.7 182.6A120.2 120.2 0 0 1 196.9 181.7L211.5 185.8A105.0 105.0 0 0 0 211.3 186.6Z" fill="#8c8cce"/>
<path d="M196.9 181.7A120.2 120.2 0 0 1 197.4 180.1L211.9 184.5A105.0 105.0 0 0 0 211.5 185.8Z" fill="#c8c8ec"/>
<path d="M197.4 180.1A120.2 120.2 0 0 1 197.9 178.5L212.4 183.1A105.0 105.0 0 0 0 211.9 184.5Z" fill="#a8a8dc"/>
<path d="M197.9 178.5A120.2 120.2 0 0 1 198.3 177.3L212.7 182.0A105.0 105.0 0 0 0 212.4 183.1Z" fill="#c8c8ec"/>
<path d="M198.3 177.3A120.2 120.2 0 0 1 198.5 176.5L213.0 181.3A105.0 105.0 0 0 0 212.7 182.0Z" fill="#8686ca"/>
<path d="M198.5 176.5A120.2 120.2 0 0 1 199.0 175.1L213.4 180.1A105.0 105.0 0 0 0 213.0 181.3Z" fill="#9494d2"/>
<path d="M199.0 175.1A120.2 120.2 0 0 1 199.5 173.8L213.8 178.9A105.0 105.0 0 0 0 213.4 180.1Z" fill="#c8c8ec"/>
<path d="M199.5 173.8A120.2 120.2 0 0 1 199.7 173.3L213.9 178.5A105.0 105.0 0 0 0 213.8 178.9Z" fill="#9a9ad4"/>
<path d="M199.7 173.3A120.2 120.2 0 0 1 199.9 172.7L214.1 178.0A105.0 105.0 0 0 0 213.9 178.5Z" fill="#8686ca"/>
<path d="M199.9 172.7A120.2 120.2 0 0 1 200.2 171.7L214.4 177.2A105.0 105.0 0 0 0 214.1 178.0Z" fill="#f0f0fa"/>
<path d="M200.2 171.7A120.2 120.2 0 0 1 200.8 170.2L215.0 175.9A105.0 105.0 0 0 0 214.4 177.2Z" fill="#8c8cce"/>
<path d="M200.8 170.2A120.2 120.2 0 0 1 201.3 169.0L215.4 174.7A105.0 105.0 0 0 0 215.0 175.9Z" fill="#b4b4e2"/>
<path d="M201.3 169.0A120.2 120.2 0 0 1 201.9 167.6L215.9 173.6A105.0 105.0 0 0 0 215.4 174.7Z" fill="#8686ca"/>
<path d="M201.9 167.6A120.2 120.2 0 0 1 202.7 165.9L216.6 172.0A105.0 105.0 0 0 0 215.9 173.6Z" fill="#bebee8"/>
<path d="M202.7 165.9A120.2 120.2 0 0 1 203.2 164.7L217.0 171.0A105.0 105.0 0 0 0 216.6 172.0Z" fill="#9494d2"/>
<path d="M203.2 164.7A120.2 120.2 0 0 1 204.0 163.1L217.7 169.6A105.0 105.0 0 0 0 217.0 171.0Z" fill="#8c8cce"/>
<path d="M204.0 163.1A120.2 120.2 0 0 1 204.1 162.7L217.8 169.2A105.0 105.0 0 0 0 217.7 169.6Z" fill="#c8c8ec"/>
<path d="M204.1 162.7A120.2 120.2 0 0 1 204.6 161.7L218.3 168.4A105.0 105.0 0 0 0 217.8 169.2Z" fill="#8686ca"/>
<path d="M204.6 161.7A120.2 120.2 0 0 1 205.2 160.6L218.7 167.4A105.0 105.0 0 0 0 218.3 168.4Z" fill="#9a9ad4"/>
<path d="M205.2 160.6A120.2 120.2 0 0 1 205.7 159.6L219.2 166.6A105.0 105.0 0 0 0 218.7 167.4Z" fill="#8c8cce"/>
<path d="M205.7 159.6A120.2 120.2 0 0 1 206.1 158.7L219.6 165.8A105.0 105.0 0 0 0 219.2 166.6Z" fill="#bebee8"/>
<path d="M206.1 158.7A120.2 120.2 0 0 1 206.7 157.7L220.1 164.9A105.0 105.0 0 0 0 219.6 165.8Z" fill="#a8a8dc"/>
<path d="M206.7 157.7A120.2 120.2 0 0 1 207.3 156.5L220.6 163.9A105.0 105.0 0 0 0 220.1 164.9Z" fill="#c8c8ec"/>
<path d="M207.3 156.5A120.2 120.2 0 0 1 207.6 156.1L220.8 163.5A105.0 105.0 0 0 0 220.6 163.9Z" fill="#c8c8ec"/>
<path d="M207.6 156.1A120.2 120.2 0 0 1 208.3 154.9L221.4 162.4A105.0 105.0 0 0 0 220.8 163.5Z" fill="#9a9ad4"/>
<path d="M208.3 154.9A120.2 120.2 0 0 1 208.8 153.9L221.9 161.6A105.0 105.0 0 0 0 221.4 162.4Z" fill="#8c8cce"/>
<path d="M208.8 153.9A120.2 120.2 0 0 1 209.6 152.6L222.6 160.5A105.0 105.0 0 0 0 221.9 161.6Z" fill="#b4b4e2"/>
<path d="M209.6 152.6A120.2 120.2 0 0 1 210.5 151.0L223.4 159.1A105.0 105.0 0 0 0 222.6 160.5Z" fill="#bebee8"/>
<path d="M210.5 151.0A120.2 120.2 0 0 1 211.3 149.8L224.1 158.0A105.0 105.0 0 0 0 223.4 159.1Z" fill="#c8c8ec"/>
<path d="M211.3 149.8A120.2 120.2 0 0 1 211.9 149.0L224.6 157.3A105.0 105.0 0 0 0 224.1 158.0Z" fill="#c8c8ec"/>
<path d="M211.9 149.0A120.2 120.2 0 0 1 212.1 148.6L224.8 156.9A105.0 105.0 0 0 0 224.6 157.3Z" fill="#8686ca"/>
<path d="M212.1 148.6A120.2 120.2 0 0 1 213.1 147.1L225.7 155.7A105.0 105.0 0 0 0 224.8 156.9Z" fill="#b4b4e2"/>
<path d="M213.1 147.1A120.2 120.2 0 0 1 214.1 145.7L226.5 154.5A105.0 105.0 0 0 0 225.7 155.7Z" fill="#9a9ad4"/>
<path d="M214.1 145.7A120.2 120.2 0 0 1 214.4 145.3L226.8 154.1A105.0 105.0 0 0 0 226.5 154.5Z" fill="#c8c8ec"/>
<path d="M214.4 145.3A120.2 120.2 0 0 1 214.8 144.6L227.2 153.5A105.0 105.0 0 0 0 226.8 154.1Z" fill="#f0f0fa"/>
<path d="M214.8 144.6A120.2 120.2 0 0 1 215.9 143.2L228.1 152.3A105.0 105.0 0 0 0 227.2 153.5Z" fill="#9a9ad4"/>
<path d="M215.9 143.2A120.2 120.2 0 0 1 216.6 142.3L228.7 151.4A105.0 105.0 0 0 0 228.1 152.3Z" fill="#f0f0fa"/>
<path d="M216.6 142.3A120.2 120.2 0 0 1 217.4 141.2L229.4 150.5A105.0 105.0 0 0 0 228.7 151.4Z" fill="#b4b4e2"/>
<path d="M217.4 141.2A120.2 120.2 0 0 1 218.1 140.3L230.0 149.7A105.0 105.0 0 0 0 229.4 150.5Z" fill="#9494d2"/>
<path d="M218.1 140.3A120.2 120.2 0 0 1 218.7 139.5L230.6 149.0A105.0 105.0 0 0 0 230.0 149.7Z" fill="#8686ca"/>
<path d="M218.7 139.5A120.2 120.2 0 0 1 219.5 138.6L231.2 148.2A105.0 105.0 0 0 0 230.6 149.0Z" fill="#bebee8"/>
<path d="M219.5 138.6A120.2 120.2 0 0 1 219.8 138.2L231.5 147.9A105.0 105.0 0 0 0 231.2 148.2Z" fill="#b4b4e2"/>
<path d="M219.8 138.2A120.2 120.2 0 0 1 220.3 137.6L231.9 147.4A105.0 105.0 0 0 0 231.5 147.9Z" fill="#c8c8ec"/>
<path d="M220.3 137.6A120.2 120.2 0 0 1 221.4 136.3L232.9 146.2A105.0 105.0 0 0 0 231.9 147.4Z" fill="#8c8cce"/>
<path d="M221.4 136.3A120.2 120.2 0 0 1 222.3 135.2L233.7 145.3A105.0 105.0 0 0 0 232.9 146.2Z" fill="#8686ca"/>
<path d="M222.3 135.2A120.2 120.2 0 0 1 223.5 133.9L234.8 144.1A105.0 105.0 0 0 0 233.7 145.3Z" fill="#8c8cce"/>
<path d="M223.5 133.9A120.2 120.2 0 0 1 224.6 132.7L235.7 143.1A105.0 105.0 0 0 0 234.8 144.1Z" fill="#a8a8dc"/>
<path d="M224.6 132.7A120.2 120.2 0 0 1 225.0 132.2L236.1 142.7A105.0 105.0 0 0 0 235.7 143.1Z" fill="#8c8cce"/>
<path d="M225.0 132.2A120.2 120.2 0 0 1 226.1 131.1L237.1 141.7A105.0 105.0 0 0 0 236.1 142.7Z" fill="#a8a8dc"/>
<path d="M226.1 131.1A120.2 120.2 0 0 1 227.5 129.8L238.2 140.5A105.0 105.0 0 0 0 237.1 141.7Z" fill="#a8a8dc"/>
<path d="M227.5 129.8A120.2 120.2 0 0 1 228.4 128.8L239.0 139.7A105.0 105.0 0 0 0 238.2 140.5Z" fill="#8c8cce"/>
<path d="M228.4 128.8A120.2 120.2 0 0 1 229.6 127.6L240.1 138.7A105.0 105.0 0 0 0 239.0 139.7Z" fill="#b4b4e2"/>
<path d="M229.6 127.6A120.2 120.2 0 0 1 230.2 127.1L240.6 138.2A105.0 105.0 0 0 0 240.1 138.7Z" fill="#c8c8ec"/>
<path d="M230.2 127.1A120.2 120.2 0 0 1 231.3 126.1L241.5 137.3A105.0 105.0 0 0 0 240.6 138.2Z" fill="#9a9ad4"/>
<path d="M231.3 126.1A120.2 120.2 0 0 1 231.6 125.8L241.8 137.1A105.0 105.0 0 0 0 241.5 137.3Z" fill="#8686ca"/>
<path d="M231.6 125.8A120.2 120.2 0 0 1 233.0 124.6L243.0 136.0A105.0 105.0 0 0 0 241.8 137.1Z" fill="#b4b4e2"/>
<path d="M233.0 124.6A120.2 120.2 0 0 1 233.7 123.9L243.7 135.4A105.0 105.0 0 0 0 243.0 136.0Z" fill="#9a9ad4"/>
<path d="M233.7 123.9A120.2 120.2 0 0 1 234.3 123.4L244.2 135.0A105.0 105.0 0 0 0 243.7 135.4Z" fill="#f0f0fa"/>
<path d="M234.3 123.4A120.2 120.2 0 0 1 235.6 122.3L245.3 134.0A105.0 105.0 0 0 0 244.2 135.0Z" fill="#a8a8dc"/>
<path d="M235.6 122.3A120.2 120.2 0 0 1 236.5 121.5L246.2 133.3A105.0 105.0 0 0 0 245.3 134.0Z" fill="#f0f0fa"/>
<path d="M236.5 121.5A120.2 120.2 0 0 1 237.7 120.6L247.2 132.5A105.0 105.0 0 0 0 246.2 133.3Z" fill="#c8c8ec"/>
<path d="M237.7 120.6A120.2 120.2 0 0 1 238.6 119.9L248.0 131.9A105.0 105.0 0 0 0 247.2 132.5Z" fill="#c8c8ec"/>
<path d="M238.6 119.9A120.2 120.2 0 0 1 239.4 119.3L248.7 131.3A105.0 105.0 0 0 0 248.0 131.9Z" fill="#8686ca"/>
<path d="M239.4 119.3A120.2 120.2 0 0 1 240.5 118.5L249.6 130.6A105.0 105.0 0 0 0 248.7 131.3Z" fill="#bebee8"/>
<path d="M240.5 118.5A120.2 120.2 0 0 1 241.3 117.8L250.3 130.1A105.0 105.0 0 0 0 249.6 130.6Z" fill="#8686ca"/>
<path d="M241.3 117.8A120.2 120.2 0 0 1 242.6 116.9L251.4 129.3A105.0 105.0 0 0 0 250.3 130.1Z" fill="#9a9ad4"/>
<path d="M242.6 116.9A120.2 120.2 0 0 1 243.7 116.2L252.4 128.6A105.0 105.0 0 0 0 251.4 129.3Z" fill="#b4b4e2"/>
<path d="M243.7 116.2A120.2 120.2 0 0 1 244.2 115.8L252.8 128.3A105.0 105.0 0 0 0 252.4 128.6Z" fill="#c8c8ec"/>
<path d="M244.2 115.8A120.2 120.2 0 0 1 245.7 114.8L254.2 127.4A105.0 105.0 0 0 0 252.8 128.3Z" fill="#bebee8"/>
<path d="M245.7 114.8A120.2 120.2 0 0 1 247.2 113.8L255.5 126.5A105.0 105.0 0 0 0 254.2 127.4Z" fill="#8c8cce"/>
<path d="M247.2 113.8A120.2 120.2 0 0 1 247.9 113.3L256.1 126.1A105.0 105.0 0 0 0 255.5 126.5Z" fill="#f0f0fa"/>
<path d="M247.9 113.3A120.2 120.2 0 0 1 249.3 112.5L257.3 125.4A105.0 105.0 0 0 0 256.1 126.1Z" fill="#b4b4e2"/>
<path d="M249.3 112.5A120.2 120.2 0 0 1 250.6 111.7L258.4 124.7A105.0 105.0 0 0 0 257.3 125.4Z" fill="#f0f0fa"/>
<path d="M250.6 111.7A120.2 120.2 0 0 1 251.3 111.2L259.1 124.3A105.0 105.0 0 0 0 258.4 124.7Z" fill="#8686ca"/>
<path d="M251.3 111.2A120.2 120.2 0 0 1 252.3 110.7L259.9 123.8A105.0 105.0 0 0 0 259.1 124.3Z" fill="#a8a8dc"/>
<path d="M252.3 110.7A120.2 120.2 0 0 1 253.1 110.2L260.6 123.4A105.0 105.0 0 0 0 259.9 123.8Z" fill="#9494d2"/>
<path d="M253.1 110.2A120.2 120.2 0 0 1 253.5 110.0L261.0 123.2A105.0 105.0 0 0 0 260.6 123.4Z" fill="#a8a8dc"/>
<path d="M253.5 110.0A120.2 120.2 0 0 1 254.5 109.4L261.9 122.7A105.0 105.0 0 0 0 261.0 123.2Z" fill="#8c8cce"/>
<path d="M254.5 109.4A120.2 120.2 0 0 1 255.3 109.0L262.5 122.4A105.0 105.0 0 0 0 261.9 122.7Z" fill="#9494d2"/>
<path d="M255.3 109.0A120.2 120.2 0 0 1 256.4 108.4L263.5 121.8A105.0 105.0 0 0 0 262.5 122.4Z" fill="#9a9ad4"/>
<path d="M256.4 108.4A120.2 120.2 0 0 1 257.5 107.8L264.5 121.3A105.0 105.0 0 0 0 263.5 121.8Z" fill="#bebee8"/>
<path d="M257.5 107.8A120.2 120.2 0 0 1 258.2 107.5L265.0 121.0A105.0 105.0 0 0 0 264.5 121.3Z" fill="#8686ca"/>
<path d="M258.2 107.5A120.2 120.2 0 0 1 259.5 106.8L266.2 120.5A105.0 105.0 0 0 0 265.0 121.0Z" fill="#9a9ad4"/>
<path d="M259.5 106.8A120.2 120.2 0 0 1 260.9 106.1L267.5 119.8A105.0 105.0 0 0 0 266.2 120.5Z" fill="#bebee8"/>
<path d="M260.9 106.1A120.2 120.2 0 0 1 262.4 105.4L268.7 119.3A105.0 105.0 0 0 0 267.5 119.8Z" fill="#8686ca"/>
<path d="M262.4 105.4A120.2 120.2 0 0 1 263.2 105.1L269.5 118.9A105.0 105.0 0 0 0 268.7 119.3Z" fill="#9494d2"/>
<path d="M263.2 105.1A120.2 120.2 0 0 1 264.8 104.3L270.9 118.3A105.0 105.0 0 0 0 269.5 118.9Z" fill="#c8c8ec"/>
<path d="M264.8 104.3A120.2 120.2 0 0 1 266.3 103.7L272.1 117.8A105.0 105.0 0 0 0 270.9 118.3Z" fill="#c8c8ec"/>
<path d="M266.3 103.7A120.2 120.2 0 0 1 267.1 103.4L272.9 117.5A105.0 105.0 0 0 0 272.1 117.8Z" fill="#8c8cce"/>
<path d="M267.1 103.4A120.2 120.2 0 0 1 267.8 103.1L273.5 117.2A105.0 105.0 0 0 0 272.9 117.5Z" fill="#8686ca"/>
<path d="M267.8 103.1A120.2 120.2 0 0 1 268.6 102.8L274.2 116.9A105.0 105.0 0 0 0 273.5 117.2Z" fill="#f0f0fa"/>
<path d="M268.6 102.8A120.2 120.2 0 0 1 270.4 102.1L275.7 116.4A105.0 105.0 0 0 0 274.2 116.9Z" fill="#9494d2"/>
<path d="M270.4 102.1A120.2 120.2 0 0 1 271.4 101.8L276.6 116.0A105.0 105.0 0 0 0 275.7 116.4Z" fill="#a8a8dc"/>
<path d="M271.4 101.8A120.2 120.2 0 0 1 272.2 101.5L277.3 115.8A105.0 105.0 0 0 0 276.6 116.0Z" fill="#f0f0fa"/>
<path d="M272.2 101.5A120.2 120.2 0 0 1 273.0 101.2L278.0 115.5A105.0 105.0 0 0 0 277.3 115.8Z" fill="#bebee8"/>
<path d="M273.0 101.2A120.2 120.2 0 0 1 273.5 101.0L278.4 115.4A105.0 105.0 0 0 0 278.0 115.5Z" fill="#a8a8dc"/>
<path d="M273.5 101.0A120.2 120.2 0 0 1 274.9 100.5L279.7 115.0A105.0 105.0 0 0 0 278.4 115.4Z" fill="#9494d2"/>
<path d="M274.9 100.5A120.2 120.2 0 0 1 276.6 100.0L281.2 114.5A105.0 105.0 0 0 0 279.7 115.0Z" fill="#bebee8"/>
<path d="M276.6 100.0A120.2 120.2 0 0 1 277.2 99.8L281.6 114.3A105.0 105.0 0 0 0 281.2 114.5Z" fill="#a8a8dc"/>
<path d="M277.2 99.8A120.2 120.2 0 0 1 278.7 99.4L283.0 113.9A105.0 105.0 0 0 0 281.6 114.3Z" fill="#b4b4e2"/>
<path d="M278.7 99.4A120.2 120.2 0 0 1 279.9 99.0L284.0 113.6A105.0 105.0 0 0 0 283.0 113.9Z" fill="#c8c8ec"/>
<path d="M279.9 99.0A120.2 120.2 0 0 1 280.9 98.7L284.9 113.4A105.0 105.0 0 0 0 284.0 113.6Z" fill="#8c8cce"/>
<path d="M280.9 98.7A120.2 120.2 0 0 1 281.9 98.5L285.8 113.2A105.0 105.0 0 0 0 284.9 113.4Z" fill="#8c8cce"/>
<path d="M281.9 98.5A120.2 120.2 0 0 1 282.5 98.3L286.3 113.0A105.0 105.0 0 0 0 285.8 113.2Z" fill="#b4b4e2"/>
<path d="M282.5 98.3A120.2 120.2 0 0 1 283.2 98.1L286.9 112.9A105.0 105.0 0 0 0 286.3 113.0Z" fill="#b4b4e2"/>
<path d="M283.2 98.1A120.2 120.2 0 0 1 284.2 97.9L287.8 112.7A105.0 105.0 0 0 0 286.9 112.9Z" fill="#9494d2"/>
<path d="M284.2 97.9A120.2 120.2 0 0 1 285.4 97.6L288.8 112.4A105.0 105.0 0 0 0 287.8 112.7Z" fill="#a8a8dc"/>
<path d="M285.4 97.6A120.2 120.2 0 0 1 286.7 97.3L289.9 112.2A105.0 105.0 0 0 0 288.8 112.4Z" fill="#a8a8dc"/>
<path d="M286.7 97.3A120.2 120.2 0 0 1 287.2 97.2L290.4 112.1A105.0 105.0 0 0 0 289.9 112.2Z" fill="#a8a8dc"/>
<path d="M287.2 97.2A120.2 120.2 0 0 1 288.9 96.8L291.9 111.7A105.0 105.0 0 0 0 290.4 112.1Z" fill="#b4b4e2"/>
<path d="M288.9 96.8A120.2 120.2 0 0 1 289.9 96.6L292.8 111.6A105.0 105.0 0 0 0 291.9 111.7Z" fill="#8686ca"/>
<path d="M289.9 96.6A120.2 120.2 0 0 1 290.4 96.5L293.2 111.5A105.0 105.0 0 0 0 292.8 111.6Z" fill="#9494d2"/>
<path d="M290.4 96.5A120.2 120.2 0 0 1 291.6 96.3L294.2 111.3A105.0 105.0 0 0 0 293.2 111.5Z" fill="#c8c8ec"/>
<path d="M291.6 96.3A120.2 120.2 0 0 1 293.0 96.1L295.5 111.1A105.0 105.0 0 0 0 294.2 111.3Z" fill="#f0f0fa"/>
<path d="M293.0 96.1A120.2 120.2 0 0 1 294.6 95.8L296.9 110.9A105.0 105.0 0 0 0 295.5 111.1Z" fill="#9494d2"/>
<path d="M294.6 95.8A120.2 120.2 0 0 1 295.6 95.7L297.8 110.7A105.0 105.0 0 0 0 296.9 110.9Z" fill="#a8a8dc"/>
<path d="M295.6 95.7A120.2 120.2 0 0 1 296.2 95.6L298.2 110.7A105.0 105.0 0 0 0 297.8 110.7Z" fill="#b4b4e2"/>
<path d="M296.2 95.6A120.2 120.2 0 0 1 297.6 95.4L299.5 110.5A105.0 105.0 0 0 0 298.2 110.7Z" fill="#c8c8ec"/>
<path d="M297.6 95.4A120.2 120.2 0 0 1 298.3 95.3L300.1 110.4A105.0 105.0 0 0 0 299.5 110.5Z" fill="#c8c8ec"/>
<path d="M298.3 95.3A120.2 120.2 0 0 1 299.0 95.3L300.7 110.4A105.0 105.0 0 0 0 300.1 110.4Z" fill="#b4b4e2"/>
<path d="M299.0 95.3A120.2 120.2 0 0 1 300.2 95.1L301.8 110.2A105.0 105.0 0 0 0 300.7 110.4Z" fill="#f0f0fa"/>
<path d="M300.2 95.1A120.2 120.2 0 0 1 300.9 95.1L302.4 110.2A105.0 105.0 0 0 0 301.8 110.2Z" fill="#b4b4e2"/>
<path d="M300.9 95.1A120.2 120.2 0 0 1 301.2 95.0L302.6 110.2A105.0 105.0 0 0 0 302.4 110.2Z" fill="#b4b4e2"/>
</g>
<g id="ring5">
<path d="M320.3 137.7A77.4 77.4 0 0 1 322.6 138.0L319.8 159.6A55.6 55.6 0 0 0 318.1 159.4Z" fill="#f8d8c0"/>
<path d="M322.6 138.0A77.4 77.4 0 0 1 324.5 138.2L321.1 159.8A55.6 55.6 0 0 0 319.8 159.6Z" fill="#fbe0d0"/>
<path d="M324.5 138.2A77.4 77.4 0 0 1 326.4 138.6L322.5 160.0A55.6 55.6 0 0 0 321.1 159.8Z" fill="#f4c4a4"/>
<path d="M326.4 138.6A77.4 77.4 0 0 1 329.0 139.1L324.3 160.4A55.6 55.6 0 0 0 322.5 160.0Z" fill="#f2e6a0"/>
<path d="M329.0 139.1A77.4 77.4 0 0 1 330.2 139.4L325.2 160.6A55.6 55.6 0 0 0 324.3 160.4Z" fill="#f0a060"/>
<path d="M330.2 139.4A77.4 77.4 0 0 1 331.5 139.7L326.1 160.8A55.6 55.6 0 0 0 325.2 160.6Z" fill="#d4a050"/>
<path d="M331.5 139.7A77.4 77.4 0 0 1 333.3 140.1L327.4 161.1A55.6 55.6 0 0 0 326.1 160.8Z" fill="#f0a060"/>
<path d="M333.3 140.1A77.4 77.4 0 0 1 335.3 140.7L328.8 161.6A55.6 55.6 0 0 0 327.4 161.1Z" fill="#c87038"/>
<path d="M335.3 140.7A77.4 77.4 0 0 1 337.8 141.5L330.6 162.1A55.6 55.6 0 0 0 328.8 161.6Z" fill="#c87038"/>
<path d="M337.8 141.5A77.4 77.4 0 0 1 339.3 142.1L331.8 162.5A55.6 55.6 0 0 0 330.6 162.1Z" fill="#fbe0d0"/>
<path d="M339.3 142.1A77.4 77.4 0 0 1 341.2 142.8L333.1 163.1A55.6 55.6 0 0 0 331.8 162.5Z" fill="#e8702a"/>
<path d="M341.2 142.8A77.4 77.4 0 0 1 342.7 143.4L334.2 163.5A55.6 55.6 0 0 0 333.1 163.1Z" fill="#e06030"/>
<path d="M342.7 143.4A77.4 77.4 0 0 1 344.0 144.0L335.2 163.9A55.6 55.6 0 0 0 334.2 163.5Z" fill="#d4a050"/>
<path d="M344.0 144.0A77.4 77.4 0 0 1 346.1 145.0L336.6 164.6A55.6 55.6 0 0 0 335.2 163.9Z" fill="#fae8c0"/>
<path d="M346.1 145.0A77.4 77.4 0 0 1 347.6 145.7L337.7 165.2A55.6 55.6 0 0 0 336.6 164.6Z" fill="#e8702a"/>
<path d="M347.6 145.7A77.4 77.4 0 0 1 349.1 146.5L338.8 165.7A55.6 55.6 0 0 0 337.7 165.2Z" fill="#f08848"/>
<path d="M349.1 146.5A77.4 77.4 0 0 1 350.3 147.2L339.7 166.2A55.6 55.6 0 0 0 338.8 165.7Z" fill="#cc6a2c"/>
<path d="M350.3 147.2A77.4 77.4 0 0 1 352.5 148.4L341.2 167.1A55.6 55.6 0 0 0 339.7 166.2Z" fill="#f08848"/>
<path d="M352.5 148.4A77.4 77.4 0 0 1 354.8 149.9L342.9 168.1A55.6 55.6 0 0 0 341.2 167.1Z" fill="#cc6a2c"/>
<path d="M354.8 149.9A77.4 77.4 0 0 1 356.0 150.7L343.8 168.7A55.6 55.6 0 0 0 342.9 168.1Z" fill="#e06a30"/>
<path d="M356.0 150.7A77.4 77.4 0 0 1 357.9 152.0L345.1 169.7A55.6 55.6 0 0 0 343.8 168.7Z" fill="#b86a30"/>
<path d="M357.9 152.0A77.4 77.4 0 0 1 358.7 152.6L345.7 170.1A55.6 55.6 0 0 0 345.1 169.7Z" fill="#c87038"/>
<path d="M358.7 152.6A77.4 77.4 0 0 1 359.9 153.5L346.6 170.8A55.6 55.6 0 0 0 345.7 170.1Z" fill="#f6d0a8"/>
<path d="M359.9 153.5A77.4 77.4 0 0 1 361.7 155.0L347.9 171.8A55.6 55.6 0 0 0 346.6 170.8Z" fill="#e06030"/>
<path d="M361.7 155.0A77.4 77.4 0 0 1 362.5 155.6L348.4 172.3A55.6 55.6 0 0 0 347.9 171.8Z" fill="#e8702a"/>
<path d="M362.5 155.6A77.4 77.4 0 0 1 363.5 156.5L349.1 172.9A55.6 55.6 0 0 0 348.4 172.3Z" fill="#f08848"/>
<path d="M363.5 156.5A77.4 77.4 0 0 1 365.2 158.0L350.4 174.0A55.6 55.6 0 0 0 349.1 172.9Z" fill="#d85a1c"/>
<path d="M365.2 158.0A77.4 77.4 0 0 1 366.6 159.4L351.4 175.0A55.6 55.6 0 0 0 350.4 174.0Z" fill="#e8b080"/>
<path d="M366.6 159.4A77.4 77.4 0 0 1 368.2 160.9L352.5 176.1A55.6 55.6 0 0 0 351.4 175.0Z" fill="#f08848"/>
<path d="M368.2 160.9A77.4 77.4 0 0 1 369.7 162.5L353.6 177.2A55.6 55.6 0 0 0 352.5 176.1Z" fill="#f08848"/>
<path d="M369.7 162.5A77.4 77.4 0 0 1 371.4 164.5L354.8 178.6A55.6 55.6 0 0 0 353.6 177.2Z" fill="#f8d8c0"/>
<path d="M371.4 164.5A77.4 77.4 0 0 1 372.9 166.3L355.9 179.9A55.6 55.6 0 0 0 354.8 178.6Z" fill="#f4c4a4"/>
<path d="M372.9 166.3A77.4 77.4 0 0 1 373.9 167.6L356.6 180.8A55.6 55.6 0 0 0 355.9 179.9Z" fill="#b86a30"/>
<path d="M373.9 167.6A77.4 77.4 0 0 1 375.4 169.7L357.7 182.3A55.6 55.6 0 0 0 356.6 180.8Z" fill="#d4a050"/>
<path d="M375.4 169.7A77.4 77.4 0 0 1 376.2 170.7L358.2 183.1A55.6 55.6 0 0 0 357.7 182.3Z" fill="#d85a1c"/>
<path d="M376.2 170.7A77.4 77.4 0 0 1 377.2 172.1L358.9 184.1A55.6 55.6 0 0 0 358.2 183.1Z" fill="#d4a050"/>
<path d="M377.2 172.1A77.4 77.4 0 0 1 377.8 173.2L359.4 184.9A55.6 55.6 0 0 0 358.9 184.1Z" fill="#b86a30"/>
<path d="M377.8 173.2A77.4 77.4 0 0 1 378.9 174.9L360.2 186.1A55.6 55.6 0 0 0 359.4 184.9Z" fill="#e8702a"/>
<path d="M378.9 174.9A77.4 77.4 0 0 1 379.6 176.1L360.7 187.0A55.6 55.6 0 0 0 360.2 186.1Z" fill="#f6d0a8"/>
<path d="M379.6 176.1A77.4 77.4 0 0 1 380.6 177.8L361.4 188.2A55.6 55.6 0 0 0 360.7 187.0Z" fill="#f2e6a0"/>
<path d="M380.6 177.8A77.4 77.4 0 0 1 381.4 179.4L362.0 189.3A55.6 55.6 0 0 0 361.4 188.2Z" fill="#f08848"/>
<path d="M381.4 179.4A77.4 77.4 0 0 1 382.0 180.7L362.4 190.3A55.6 55.6 0 0 0 362.0 189.3Z" fill="#f2e6a0"/>
<path d="M382.0 180.7A77.4 77.4 0 0 1 383.2 183.1L363.3 192.0A55.6 55.6 0 0 0 362.4 190.3Z" fill="#f0a060"/>
<path d="M383.2 183.1A77.4 77.4 0 0 1 383.9 184.8L363.8 193.2A55.6 55.6 0 0 0 363.3 192.0Z" fill="#cc6a2c"/>
<path d="M383.9 184.8A77.4 77.4 0 0 1 384.6 186.6L364.3 194.5A55.6 55.6 0 0 0 363.8 193.2Z" fill="#f8d8c0"/>
<path d="M384.6 186.6A77.4 77.4 0 0 1 385.0 187.7L364.6 195.3A55.6 55.6 0 0 0 364.3 194.5Z" fill="#fbe0d0"/>
<path d="M385.0 187.7A77.4 77.4 0 0 1 385.5 188.9L364.9 196.2A55.6 55.6 0 0 0 364.6 195.3Z" fill="#e06030"/>
<path d="M385.5 188.9A77.4 77.4 0 0 1 385.9 190.1L365.2 197.0A55.6 55.6 0 0 0 364.9 196.2Z" fill="#f08848"/>
<path d="M385.9 190.1A77.4 77.4 0 0 1 386.6 192.3L365.7 198.6A55.6 55.6 0 0 0 365.2 197.0Z" fill="#f0a060"/>
<path d="M386.6 192.3A77.4 77.4 0 0 1 387.3 194.9L366.3 200.5A55.6 55.6 0 0 0 365.7 198.6Z" fill="#d85a1c"/>
<path d="M387.3 194.9A77.4 77.4 0 0 1 387.6 196.1L366.5 201.4A55.6 55.6 0 0 0 366.3 200.5Z" fill="#fff0e4"/>
<path d="M387.6 196.1A77.4 77.4 0 0 1 388.2 198.6L366.9 203.1A55.6 55.6 0 0 0 366.5 201.4Z" fill="#fae8c0"/>
<path d="M388.2 198.6A77.4 77.4 0 0 1 388.6 200.5L367.2 204.5A55.6 55.6 0 0 0 366.9 203.1Z" fill="#f6d0a8"/>
<path d="M388.6 200.5A77.4 77.4 0 0 1 389.0 202.7L367.4 206.1A55.6 55.6 0 0 0 367.2 204.5Z" fill="#fff0e4"/>
<path d="M389.0 202.7A77.4 77.4 0 0 1 389.3 205.1L367.7 207.8A55.6 55.6 0 0 0 367.4 206.1Z" fill="#f0a060"/>
<path d="M389.3 205.1A77.4 77.4 0 0 1 389.4 206.0L367.8 208.5A55.6 55.6 0 0 0 367.7 207.8Z" fill="#d85a1c"/>
<path d="M389.4 206.0A77.4 77.4 0 0 1 389.6 207.4L367.9 209.4A55.6 55.6 0 0 0 367.8 208.5Z" fill="#f8d8c0"/>
<path d="M389.6 207.4A77.4 77.4 0 0 1 389.6 208.2L367.9 210.1A55.6 55.6 0 0 0 367.9 209.4Z" fill="#f08848"/>
<path d="M389.6 208.2A77.4 77.4 0 0 1 389.7 209.6L368.0 211.0A55.6 55.6 0 0 0 367.9 210.1Z" fill="#d4a050"/>
<path d="M389.7 209.6A77.4 77.4 0 0 1 389.8 211.0L368.0 212.0A55.6 55.6 0 0 0 368.0 211.0Z" fill="#c87038"/>
<path d="M389.8 211.0A77.4 77.4 0 0 1 389.9 213.3L368.1 213.7A55.6 55.6 0 0 0 368.0 212.0Z" fill="#fbe0d0"/>
<path d="M389.9 213.3A77.4 77.4 0 0 1 389.9 214.3L368.1 214.4A55.6 55.6 0 0 0 368.1 213.7Z" fill="#d4a050"/>
<path d="M389.9 214.3A77.4 77.4 0 0 1 389.9 216.5L368.1 216.0A55.6 55.6 0 0 0 368.1 214.4Z" fill="#fbe0d0"/>
<path d="M389.9 216.5A77.4 77.4 0 0 1 389.8 218.7L368.0 217.6A55.6 55.6 0 0 0 368.1 216.0Z" fill="#e88a4a"/>
<path d="M389.8 218.7A77.4 77.4 0 0 1 389.7 220.1L368.0 218.5A55.6 55.6 0 0 0 368.0 217.6Z" fill="#f6d0a8"/>
<path d="M389.7 220.1A77.4 77.4 0 0 1 389.6 221.4L367.9 219.5A55.6 55.6 0 0 0 368.0 218.5Z" fill="#fff0e4"/>
<path d="M389.6 221.4A77.4 77.4 0 0 1 389.4 223.4L367.8 220.9A55.6 55.6 0 0 0 367.9 219.5Z" fill="#b86a30"/>
<path d="M389.4 223.4A77.4 77.4 0 0 1 389.3 224.4L367.7 221.7A55.6 55.6 0 0 0 367.8 220.9Z" fill="#f0a060"/>
<path d="M389.3 224.4A77.4 77.4 0 0 1 389.1 226.0L367.5 222.8A55.6 55.6 0 0 0 367.7 221.7Z" fill="#cc6a2c"/>
<path d="M389.1 226.0A77.4 77.4 0 0 1 388.7 228.3L367.2 224.5A55.6 55.6 0 0 0 367.5 222.8Z" fill="#e8b080"/>
<path d="M388.7 228.3A77.4 77.4 0 0 1 388.2 230.7L366.9 226.2A55.6 55.6 0 0 0 367.2 224.5Z" fill="#e8863c"/>
<path d="M388.2 230.7A77.4 77.4 0 0 1 387.6 233.3L366.5 228.1A55.6 55.6 0 0 0 366.9 226.2Z" fill="#c8904c"/>
<path d="M387.6 233.3A77.4 77.4 0 0 1 387.4 234.2L366.3 228.7A55.6 55.6 0 0 0 366.5 228.1Z" fill="#f4d0b8"/>
<path d="M387.4 234.2A77.4 77.4 0 0 1 386.8 236.5L365.9 230.3A55.6 55.6 0 0 0 366.3 228.7Z" fill="#e8863c"/>
<path d="M386.8 236.5A77.4 77.4 0 0 1 386.1 238.6L365.4 231.9A55.6 55.6 0 0 0 365.9 230.3Z" fill="#f6e4b0"/>
<path d="M386.1 238.6A77.4 77.4 0 0 1 385.4 240.8L364.9 233.4A55.6 55.6 0 0 0 365.4 231.9Z" fill="#e8c890"/>
<path d="M385.4 240.8A77.4 77.4 0 0 1 384.5 243.1L364.2 235.1A55.6 55.6 0 0 0 364.9 233.4Z" fill="#d07848"/>
<path d="M384.5 243.1A77.4 77.4 0 0 1 383.9 244.7L363.8 236.2A55.6 55.6 0 0 0 364.2 235.1Z" fill="#f6e4b0"/>
<path d="M383.9 244.7A77.4 77.4 0 0 1 383.5 245.5L363.5 236.9A55.6 55.6 0 0 0 363.8 236.2Z" fill="#f4c8a0"/>
<path d="M383.5 245.5A77.4 77.4 0 0 1 382.5 247.6L362.8 238.4A55.6 55.6 0 0 0 363.5 236.9Z" fill="#d07848"/>
<path d="M382.5 247.6A77.4 77.4 0 0 1 381.7 249.3L362.2 239.6A55.6 55.6 0 0 0 362.8 238.4Z" fill="#e0a070"/>
<path d="M381.7 249.3A77.4 77.4 0 0 1 381.3 250.1L361.9 240.1A55.6 55.6 0 0 0 362.2 239.6Z" fill="#fbe8c4"/>
<path d="M381.3 250.1A77.4 77.4 0 0 1 380.5 251.7L361.3 241.3A55.6 55.6 0 0 0 361.9 240.1Z" fill="#f4d0b8"/>
<path d="M380.5 251.7A77.4 77.4 0 0 1 379.6 253.3L360.7 242.5A55.6 55.6 0 0 0 361.3 241.3Z" fill="#d86838"/>
<path d="M379.6 253.3A77.4 77.4 0 0 1 379.0 254.4L360.2 243.2A55.6 55.6 0 0 0 360.7 242.5Z" fill="#d86838"/>
<path d="M379.0 254.4A77.4 77.4 0 0 1 378.2 255.6L359.7 244.1A55.6 55.6 0 0 0 360.2 243.2Z" fill="#e8c890"/>
<path d="M378.2 255.6A77.4 77.4 0 0 1 377.7 256.4L359.3 244.7A55.6 55.6 0 0 0 359.7 244.1Z" fill="#f4c8a0"/>
<path d="M377.7 256.4A77.4 77.4 0 0 1 377.2 257.2L359.0 245.2A55.6 55.6 0 0 0 359.3 244.7Z" fill="#d07848"/>
<path d="M377.2 257.2A77.4 77.4 0 0 1 376.3 258.5L358.3 246.2A55.6 55.6 0 0 0 359.0 245.2Z" fill="#c8904c"/>
<path d="M376.3 258.5A77.4 77.4 0 0 1 375.2 260.1L357.6 247.3A55.6 55.6 0 0 0 358.3 246.2Z" fill="#d86838"/>
<path d="M375.2 260.1A77.4 77.4 0 0 1 374.7 260.8L357.1 247.8A55.6 55.6 0 0 0 357.6 247.3Z" fill="#f4d0b8"/>
<path d="M374.7 260.8A77.4 77.4 0 0 1 374.1 261.6L356.7 248.4A55.6 55.6 0 0 0 357.1 247.8Z" fill="#f4d0b8"/>
<path d="M374.1 261.6A77.4 77.4 0 0 1 372.9 263.1L355.9 249.5A55.6 55.6 0 0 0 356.7 248.4Z" fill="#d07848"/>
<path d="M372.9 263.1A77.4 77.4 0 0 1 371.8 264.5L355.1 250.5A55.6 55.6 0 0 0 355.9 249.5Z" fill="#e8c890"/>
<path d="M371.8 264.5A77.4 77.4 0 0 1 370.8 265.6L354.4 251.3A55.6 55.6 0 0 0 355.1 250.5Z" fill="#d86838"/>
<path d="M370.8 265.6A77.4 77.4 0 0 1 369.2 267.4L353.2 252.6A55.6 55.6 0 0 0 354.4 251.3Z" fill="#d07848"/>
<path d="M369.2 267.4A77.4 77.4 0 0 1 367.3 269.3L351.9 253.9A55.6 55.6 0 0 0 353.2 252.6Z" fill="#d07848"/>
<path d="M367.3 269.3A77.4 77.4 0 0 1 366.5 270.2L351.3 254.6A55.6 55.6 0 0 0 351.9 253.9Z" fill="#fbe8c4"/>
<path d="M366.5 270.2A77.4 77.4 0 0 1 365.8 270.9L350.8 255.0A55.6 55.6 0 0 0 351.3 254.6Z" fill="#f6e4b0"/>
<path d="M365.8 270.9A77.4 77.4 0 0 1 363.8 272.6L349.4 256.3A55.6 55.6 0 0 0 350.8 255.0Z" fill="#e8863c"/>
<path d="M363.8 272.6A77.4 77.4 0 0 1 362.2 274.0L348.2 257.3A55.6 55.6 0 0 0 349.4 256.3Z" fill="#c8904c"/>
<path d="M362.2 274.0A77.4 77.4 0 0 1 360.6 275.3L347.1 258.2A55.6 55.6 0 0 0 348.2 257.3Z" fill="#f8dcc0"/>
<path d="M360.6 275.3A77.4 77.4 0 0 1 358.7 276.8L345.7 259.3A55.6 55.6 0 0 0 347.1 258.2Z" fill="#d07848"/>
<path d="M358.7 276.8A77.4 77.4 0 0 1 357.8 277.4L345.1 259.8A55.6 55.6 0 0 0 345.7 259.3Z" fill="#fbe8c4"/>
<path d="M357.8 277.4A77.4 77.4 0 0 1 356.4 278.5L344.0 260.5A55.6 55.6 0 0 0 345.1 259.8Z" fill="#e8863c"/>
<path d="M356.4 278.5A77.4 77.4 0 0 1 355.5 279.0L343.4 260.9A55.6 55.6 0 0 0 344.0 260.5Z" fill="#e8c890"/>
<path d="M355.5 279.0A77.4 77.4 0 0 1 353.7 280.2L342.1 261.8A55.6 55.6 0 0 0 343.4 260.9Z" fill="#f4c8a0"/>
<path d="M353.7 280.2A77.4 77.4 0 0 1 351.4 281.6L340.4 262.8A55.6 55.6 0 0 0 342.1 261.8Z" fill="#f8dcc0"/>
<path d="M351.4 281.6A77.4 77.4 0 0 1 350.5 282.1L339.8 263.1A55.6 55.6 0 0 0 340.4 262.8Z" fill="#f6e4b0"/>
<path d="M350.5 282.1A77.4 77.4 0 0 1 348.9 283.0L338.6 263.8A55.6 55.6 0 0 0 339.8 263.1Z" fill="#e8863c"/>
<path d="M348.9 283.0A77.4 77.4 0 0 1 347.7 283.6L337.8 264.2A55.6 55.6 0 0 0 338.6 263.8Z" fill="#e0a070"/>
<path d="M347.7 283.6A77.4 77.4 0 0 1 346.1 284.4L336.6 264.8A55.6 55.6 0 0 0 337.8 264.2Z" fill="#e0a070"/>
<path d="M346.1 284.4A77.4 77.4 0 0 1 344.2 285.3L335.3 265.4A55.6 55.6 0 0 0 336.6 264.8Z" fill="#f8dcc0"/>
<path d="M344.2 285.3A77.4 77.4 0 0 1 342.9 285.9L334.3 265.8A55.6 55.6 0 0 0 335.3 265.4Z" fill="#c8904c"/>
<path d="M342.9 285.9A77.4 77.4 0 0 1 341.3 286.5L333.2 266.3A55.6 55.6 0 0 0 334.3 265.8Z" fill="#fbe8c4"/>
<path d="M341.3 286.5A77.4 77.4 0 0 1 339.2 287.3L331.7 266.9A55.6 55.6 0 0 0 333.2 266.3Z" fill="#c8904c"/>
<path d="M339.2 287.3A77.4 77.4 0 0 1 338.4 287.6L331.1 267.1A55.6 55.6 0 0 0 331.7 266.9Z" fill="#e8863c"/>
<path d="M338.4 287.6A77.4 77.4 0 0 1 337.3 288.0L330.3 267.4A55.6 55.6 0 0 0 331.1 267.1Z" fill="#f8dcc0"/>
<path d="M337.3 288.0A77.4 77.4 0 0 1 335.6 288.6L329.1 267.8A55.6 55.6 0 0 0 330.3 267.4Z" fill="#f4d0b8"/>
<path d="M335.6 288.6A77.4 77.4 0 0 1 334.1 289.0L328.0 268.1A55.6 55.6 0 0 0 329.1 267.8Z" fill="#fbe8c4"/>
<path d="M334.1 289.0A77.4 77.4 0 0 1 332.4 289.5L326.8 268.4A55.6 55.6 0 0 0 328.0 268.1Z" fill="#d86838"/>
<path d="M332.4 289.5A77.4 77.4 0 0 1 330.1 290.1L325.1 268.8A55.6 55.6 0 0 0 326.8 268.4Z" fill="#f6d0c8"/>
<path d="M330.1 290.1A77.4 77.4 0 0 1 328.5 290.4L324.0 269.1A55.6 55.6 0 0 0 325.1 268.8Z" fill="#f6eca0"/>
<path d="M328.5 290.4A77.4 77.4 0 0 1 327.5 290.6L323.3 269.2A55.6 55.6 0 0 0 324.0 269.1Z" fill="#f0e078"/>
<path d="M327.5 290.6A77.4 77.4 0 0 1 326.3 290.9L322.4 269.4A55.6 55.6 0 0 0 323.3 269.2Z" fill="#f8dcc0"/>
<path d="M326.3 290.9A77.4 77.4 0 0 1 325.0 291.1L321.5 269.6A55.6 55.6 0 0 0 322.4 269.4Z" fill="#c4dca0"/>
<path d="M325.0 291.1A77.4 77.4 0 0 1 324.1 291.2L320.9 269.7A55.6 55.6 0 0 0 321.5 269.6Z" fill="#f8e0d0"/>
<path d="M324.1 291.2A77.4 77.4 0 0 1 322.2 291.5L319.5 269.9A55.6 55.6 0 0 0 320.9 269.7Z" fill="#d07848"/>
<path d="M322.2 291.5A77.4 77.4 0 0 1 321.0 291.6L318.6 270.0A55.6 55.6 0 0 0 319.5 269.9Z" fill="#f6eca0"/>
<path d="M321.0 291.6A77.4 77.4 0 0 1 318.9 291.8L317.1 270.1A55.6 55.6 0 0 0 318.6 270.0Z" fill="#d86838"/>
<path d="M318.9 291.8A77.4 77.4 0 0 1 316.8 292.0L315.6 270.2A55.6 55.6 0 0 0 317.1 270.1Z" fill="#e8863c"/>
<path d="M316.8 292.0A77.4 77.4 0 0 1 315.8 292.0L314.9 270.3A55.6 55.6 0 0 0 315.6 270.2Z" fill="#f0d8b0"/>
<path d="M315.8 292.0A77.4 77.4 0 0 1 315.0 292.1L314.3 270.3A55.6 55.6 0 0 0 314.9 270.3Z" fill="#e6c870"/>
<path d="M315.0 292.1A77.4 77.4 0 0 1 313.2 292.1L313.0 270.3A55.6 55.6 0 0 0 314.3 270.3Z" fill="#e8c890"/>
<path d="M313.2 292.1A77.4 77.4 0 0 1 310.8 292.1L311.3 270.3A55.6 55.6 0 0 0 313.0 270.3Z" fill="#f0b088"/>
<path d="M310.8 292.1A77.4 77.4 0 0 1 310.0 292.1L310.7 270.3A55.6 55.6 0 0 0 311.3 270.3Z" fill="#f4c8a0"/>
<path d="M310.0 292.1A77.4 77.4 0 0 1 307.4 291.9L308.8 270.2A55.6 55.6 0 0 0 310.7 270.3Z" fill="#e8c890"/>
<path d="M307.4 291.9A77.4 77.4 0 0 1 305.8 291.8L307.7 270.1A55.6 55.6 0 0 0 308.8 270.2Z" fill="#e8863c"/>
<path d="M305.8 291.8A77.4 77.4 0 0 1 304.3 291.7L306.6 270.0A55.6 55.6 0 0 0 307.7 270.1Z" fill="#f6e4b0"/>
<path d="M304.3 291.7A77.4 77.4 0 0 1 303.5 291.6L306.0 269.9A55.6 55.6 0 0 0 306.6 270.0Z" fill="#e6c870"/>
<path d="M303.5 291.6A77.4 77.4 0 0 1 302.3 291.4L305.2 269.8A55.6 55.6 0 0 0 306.0 269.9Z" fill="#e8d8a0"/>
<path d="M302.3 291.4A77.4 77.4 0 0 1 301.4 291.3L304.5 269.7A55.6 55.6 0 0 0 305.2 269.8Z" fill="#c4dca0"/>
<path d="M301.4 291.3A77.4 77.4 0 0 1 300.4 291.1L303.8 269.6A55.6 55.6 0 0 0 304.5 269.7Z" fill="#b87848"/>
<path d="M300.4 291.1A77.4 77.4 0 0 1 299.0 290.9L302.8 269.4A55.6 55.6 0 0 0 303.8 269.6Z" fill="#d0e4a8"/>
<path d="M299.0 290.9A77.4 77.4 0 0 1 298.0 290.7L302.1 269.3A55.6 55.6 0 0 0 302.8 269.4Z" fill="#f6e4b0"/>
<path d="M298.0 290.7A77.4 77.4 0 0 1 295.9 290.3L300.6 269.0A55.6 55.6 0 0 0 302.1 269.3Z" fill="#f8e0d0"/>
<path d="M295.9 290.3A77.4 77.4 0 0 1 295.0 290.1L299.9 268.9A55.6 55.6 0 0 0 300.6 269.0Z" fill="#f2b8c0"/>
<path d="M295.0 290.1A77.4 77.4 0 0 1 293.0 289.6L298.5 268.5A55.6 55.6 0 0 0 299.9 268.9Z" fill="#f4c0b0"/>
<path d="M293.0 289.6A77.4 77.4 0 0 1 291.3 289.1L297.3 268.2A55.6 55.6 0 0 0 298.5 268.5Z" fill="#d04848"/>
<path d="M291.3 289.1A77.4 77.4 0 0 1 289.5 288.6L296.0 267.8A55.6 55.6 0 0 0 297.3 268.2Z" fill="#e89870"/>
<path d="M289.5 288.6A77.4 77.4 0 0 1 288.3 288.2L295.1 267.5A55.6 55.6 0 0 0 296.0 267.8Z" fill="#e8c890"/>
<path d="M288.3 288.2A77.4 77.4 0 0 1 285.7 287.3L293.3 266.9A55.6 55.6 0 0 0 295.1 267.5Z" fill="#f4a0a0"/>
<path d="M285.7 287.3A77.4 77.4 0 0 1 284.5 286.9L292.4 266.5A55.6 55.6 0 0 0 293.3 266.9Z" fill="#f0d8b0"/>
<path d="M284.5 286.9A77.4 77.4 0 0 1 282.7 286.1L291.1 266.0A55.6 55.6 0 0 0 292.4 266.5Z" fill="#e8c890"/>
<path d="M282.7 286.1A77.4 77.4 0 0 1 280.4 285.1L289.4 265.3A55.6 55.6 0 0 0 291.1 266.0Z" fill="#f4a0a0"/>
<path d="M280.4 285.1A77.4 77.4 0 0 1 278.0 284.0L287.7 264.5A55.6 55.6 0 0 0 289.4 265.3Z" fill="#f2b8c0"/>
<path d="M278.0 284.0A77.4 77.4 0 0 1 276.2 283.0L286.4 263.8A55.6 55.6 0 0 0 287.7 264.5Z" fill="#c4dca0"/>
<path d="M276.2 283.0A77.4 77.4 0 0 1 274.4 282.0L285.1 263.1A55.6 55.6 0 0 0 286.4 263.8Z" fill="#f0d8b0"/>
<path d="M274.4 282.0A77.4 77.4 0 0 1 272.0 280.7L283.4 262.1A55.6 55.6 0 0 0 285.1 263.1Z" fill="#f4a0a0"/>
<path d="M272.0 280.7A77.4 77.4 0 0 1 270.9 280.0L282.6 261.6A55.6 55.6 0 0 0 283.4 262.1Z" fill="#e6c870"/>
<path d="M270.9 280.0A77.4 77.4 0 0 1 269.0 278.7L281.3 260.7A55.6 55.6 0 0 0 282.6 261.6Z" fill="#dce8b8"/>
<path d="M269.0 278.7A77.4 77.4 0 0 1 267.6 277.7L280.2 260.0A55.6 55.6 0 0 0 281.3 260.7Z" fill="#b87848"/>
<path d="M267.6 277.7A77.4 77.4 0 0 1 265.6 276.2L278.8 258.9A55.6 55.6 0 0 0 280.2 260.0Z" fill="#a8c878"/>
<path d="M265.6 276.2A77.4 77.4 0 0 1 263.7 274.8L277.4 257.8A55.6 55.6 0 0 0 278.8 258.9Z" fill="#f4e8c8"/>
<path d="M263.7 274.8A77.4 77.4 0 0 1 262.2 273.5L276.3 256.9A55.6 55.6 0 0 0 277.4 257.8Z" fill="#d8a070"/>
<path d="M262.2 273.5A77.4 77.4 0 0 1 261.3 272.8L275.7 256.4A55.6 55.6 0 0 0 276.3 256.9Z" fill="#fbf2e6"/>
<path d="M261.3 272.8A77.4 77.4 0 0 1 259.7 271.3L274.6 255.3A55.6 55.6 0 0 0 275.7 256.4Z" fill="#fbf6ee"/>
<path d="M259.7 271.3A77.4 77.4 0 0 1 259.0 270.7L274.1 254.9A55.6 55.6 0 0 0 274.6 255.3Z" fill="#f4e8c8"/>
<path d="M259.0 270.7A77.4 77.4 0 0 1 257.6 269.3L273.1 253.9A55.6 55.6 0 0 0 274.1 254.9Z" fill="#fbf6ee"/>
<path d="M257.6 269.3A77.4 77.4 0 0 1 255.8 267.4L271.7 252.5A55.6 55.6 0 0 0 273.1 253.9Z" fill="#f2b8c0"/>
<path d="M255.8 267.4A77.4 77.4 0 0 1 254.6 266.1L270.9 251.6A55.6 55.6 0 0 0 271.7 252.5Z" fill="#e8c890"/>
<path d="M254.6 266.1A77.4 77.4 0 0 1 252.9 264.1L269.7 250.2A55.6 55.6 0 0 0 270.9 251.6Z" fill="#e6c870"/>
<path d="M252.9 264.1A77.4 77.4 0 0 1 251.5 262.3L268.7 248.9A55.6 55.6 0 0 0 269.7 250.2Z" fill="#c4dca0"/>
<path d="M251.5 262.3A77.4 77.4 0 0 1 250.0 260.3L267.6 247.5A55.6 55.6 0 0 0 268.7 248.9Z" fill="#d04848"/>
<path d="M250.0 260.3A77.4 77.4 0 0 1 249.0 259.0L266.9 246.5A55.6 55.6 0 0 0 267.6 247.5Z" fill="#fad8b8"/>
<path d="M249.0 259.0A77.4 77.4 0 0 1 247.9 257.3L266.1 245.3A55.6 55.6 0 0 0 266.9 246.5Z" fill="#b87848"/>
<path d="M247.9 257.3A77.4 77.4 0 0 1 247.1 256.1L265.5 244.4A55.6 55.6 0 0 0 266.1 245.3Z" fill="#f0e078"/>
<path d="M247.1 256.1A77.4 77.4 0 0 1 246.3 254.8L265.0 243.5A55.6 55.6 0 0 0 265.5 244.4Z" fill="#f2b8c0"/>
<path d="M246.3 254.8A77.4 77.4 0 0 1 245.5 253.5L264.4 242.5A55.6 55.6 0 0 0 265.0 243.5Z" fill="#e8d8a0"/>
<path d="M245.5 253.5A77.4 77.4 0 0 1 244.5 251.6L263.6 241.2A55.6 55.6 0 0 0 264.4 242.5Z" fill="#b87848"/>
<path d="M244.5 251.6A77.4 77.4 0 0 1 244.0 250.8L263.3 240.6A55.6 55.6 0 0 0 263.6 241.2Z" fill="#e8d8a0"/>
<path d="M244.0 250.8A77.4 77.4 0 0 1 243.2 249.1L262.7 239.4A55.6 55.6 0 0 0 263.3 240.6Z" fill="#e8b888"/>
<path d="M243.2 249.1A77.4 77.4 0 0 1 242.5 247.8L262.2 238.5A55.6 55.6 0 0 0 262.7 239.4Z" fill="#fad8b8"/>
<path d="M242.5 247.8A77.4 77.4 0 0 1 241.5 245.5L261.5 236.9A55.6 55.6 0 0 0 262.2 238.5Z" fill="#f6eca0"/>
<path d="M241.5 245.5A77.4 77.4 0 0 1 240.8 244.0L261.0 235.7A55.6 55.6 0 0 0 261.5 236.9Z" fill="#f4a0a0"/>
<path d="M240.8 244.0A77.4 77.4 0 0 1 239.9 241.5L260.3 234.0A55.6 55.6 0 0 0 261.0 235.7Z" fill="#fbf2e6"/>
<path d="M239.9 241.5A77.4 77.4 0 0 1 239.3 239.9L259.9 232.8A55.6 55.6 0 0 0 260.3 234.0Z" fill="#f6d0c8"/>
<path d="M239.3 239.9A77.4 77.4 0 0 1 238.6 237.8L259.4 231.3A55.6 55.6 0 0 0 259.9 232.8Z" fill="#fad8b8"/>
<path d="M238.6 237.8A77.4 77.4 0 0 1 238.1 236.0L259.0 230.0A55.6 55.6 0 0 0 259.4 231.3Z" fill="#a8c878"/>
<path d="M238.1 236.0A77.4 77.4 0 0 1 237.7 234.6L258.8 229.0A55.6 55.6 0 0 0 259.0 230.0Z" fill="#fbf2e6"/>
<path d="M237.7 234.6A77.4 77.4 0 0 1 237.1 232.4L258.4 227.4A55.6 55.6 0 0 0 258.8 229.0Z" fill="#f4c0b0"/>
<path d="M237.1 232.4A77.4 77.4 0 0 1 236.6 229.8L258.0 225.5A55.6 55.6 0 0 0 258.4 227.4Z" fill="#f6eca0"/>
<path d="M236.6 229.8A77.4 77.4 0 0 1 236.2 227.7L257.7 224.0A55.6 55.6 0 0 0 258.0 225.5Z" fill="#f0a880"/>
<path d="M236.2 227.7A77.4 77.4 0 0 1 236.0 226.6L257.6 223.2A55.6 55.6 0 0 0 257.7 224.0Z" fill="#f4c0b0"/>
<path d="M236.0 226.6A77.4 77.4 0 0 1 235.7 224.1L257.3 221.5A55.6 55.6 0 0 0 257.6 223.2Z" fill="#e6c870"/>
<path d="M235.7 224.1A77.4 77.4 0 0 1 235.5 222.8L257.2 220.5A55.6 55.6 0 0 0 257.3 221.5Z" fill="#e6c870"/>
<path d="M235.5 222.8A77.4 77.4 0 0 1 235.4 221.4L257.1 219.5A55.6 55.6 0 0 0 257.2 220.5Z" fill="#f6d0c8"/>
<path d="M235.4 221.4A77.4 77.4 0 0 1 235.2 218.8L257.0 217.6A55.6 55.6 0 0 0 257.1 219.5Z" fill="#f2b8c0"/>
<path d="M235.2 218.8A77.4 77.4 0 0 1 235.2 217.8L256.9 216.9A55.6 55.6 0 0 0 257.0 217.6Z" fill="#fbf6ee"/>
<path d="M235.2 217.8A77.4 77.4 0 0 1 235.1 216.1L256.9 215.7A55.6 55.6 0 0 0 256.9 216.9Z" fill="#f4e8c8"/>
<path d="M235.1 216.1A77.4 77.4 0 0 1 235.1 214.4L256.9 214.5A55.6 55.6 0 0 0 256.9 215.7Z" fill="#f8e0d0"/>
<path d="M235.1 214.4A77.4 77.4 0 0 1 235.1 212.4L256.9 213.1A55.6 55.6 0 0 0 256.9 214.5Z" fill="#dce8b8"/>
<path d="M235.1 212.4A77.4 77.4 0 0 1 235.2 211.3L257.0 212.2A55.6 55.6 0 0 0 256.9 213.1Z" fill="#d04848"/>
<path d="M235.2 211.3A77.4 77.4 0 0 1 235.2 210.4L257.0 211.6A55.6 55.6 0 0 0 257.0 212.2Z" fill="#c8e0a0"/>
<path d="M235.2 210.4A77.4 77.4 0 0 1 235.3 208.6L257.1 210.3A55.6 55.6 0 0 0 257.0 211.6Z" fill="#e6c870"/>
<path d="M235.3 208.6A77.4 77.4 0 0 1 235.5 206.7L257.2 209.0A55.6 55.6 0 0 0 257.1 210.3Z" fill="#fad8b8"/>
<path d="M235.5 206.7A77.4 77.4 0 0 1 235.8 204.2L257.4 207.1A55.6 55.6 0 0 0 257.2 209.0Z" fill="#f8e0d0"/>
<path d="M235.8 204.2A77.4 77.4 0 0 1 236.1 202.0L257.7 205.6A55.6 55.6 0 0 0 257.4 207.1Z" fill="#fbf6ee"/>
<path d="M236.1 202.0A77.4 77.4 0 0 1 236.6 199.4L258.0 203.7A55.6 55.6 0 0 0 257.7 205.6Z" fill="#fbf6ee"/>
<path d="M236.6 199.4A77.4 77.4 0 0 1 237.0 197.9L258.2 202.6A55.6 55.6 0 0 0 258.0 203.7Z" fill="#dce8b8"/>
<path d="M237.0 197.9A77.4 77.4 0 0 1 237.5 195.7L258.6 201.1A55.6 55.6 0 0 0 258.2 202.6Z" fill="#f6eca0"/>
<path d="M237.5 195.7A77.4 77.4 0 0 1 237.9 194.2L258.9 200.0A55.6 55.6 0 0 0 258.6 201.1Z" fill="#d8a070"/>
<path d="M237.9 194.2A77.4 77.4 0 0 1 238.6 191.8L259.4 198.3A55.6 55.6 0 0 0 258.9 200.0Z" fill="#e8c890"/>
<path d="M238.6 191.8A77.4 77.4 0 0 1 239.1 190.1L259.8 197.0A55.6 55.6 0 0 0 259.4 198.3Z" fill="#f8e0d0"/>
<path d="M239.1 190.1A77.4 77.4 0 0 1 239.6 188.7L260.1 196.0A55.6 55.6 0 0 0 259.8 197.0Z" fill="#f4c0b0"/>
<path d="M239.6 188.7A77.4 77.4 0 0 1 240.3 186.8L260.6 194.7A55.6 55.6 0 0 0 260.1 196.0Z" fill="#d04848"/>
<path d="M240.3 186.8A77.4 77.4 0 0 1 241.2 184.5L261.3 193.0A55.6 55.6 0 0 0 260.6 194.7Z" fill="#f6d0c8"/>
<path d="M241.2 184.5A77.4 77.4 0 0 1 241.6 183.6L261.6 192.4A55.6 55.6 0 0 0 261.3 193.0Z" fill="#a8c878"/>
<path d="M241.6 183.6A77.4 77.4 0 0 1 242.2 182.3L262.0 191.4A55.6 55.6 0 0 0 261.6 192.4Z" fill="#f2b8c0"/>
<path d="M242.2 182.3A77.4 77.4 0 0 1 242.9 180.7L262.5 190.3A55.6 55.6 0 0 0 262.0 191.4Z" fill="#b87848"/>
<path d="M242.9 180.7A77.4 77.4 0 0 1 243.5 179.6L262.9 189.5A55.6 55.6 0 0 0 262.5 190.3Z" fill="#e8d8a0"/>
<path d="M243.5 179.6A77.4 77.4 0 0 1 244.7 177.4L263.8 187.9A55.6 55.6 0 0 0 262.9 189.5Z" fill="#e8c890"/>
<path d="M244.7 177.4A77.4 77.4 0 0 1 245.8 175.5L264.6 186.5A55.6 55.6 0 0 0 263.8 187.9Z" fill="#f6d0c8"/>
<path d="M245.8 175.5A77.4 77.4 0 0 1 247.0 173.5L265.4 185.1A55.6 55.6 0 0 0 264.6 186.5Z" fill="#f8e0d0"/>
<path d="M247.0 173.5A77.4 77.4 0 0 1 248.2 171.6L266.3 183.7A55.6 55.6 0 0 0 265.4 185.1Z" fill="#f4c0b0"/>
<path d="M248.2 171.6A77.4 77.4 0 0 1 249.2 170.2L267.0 182.7A55.6 55.6 0 0 0 266.3 183.7Z" fill="#c4dca0"/>
<path d="M249.2 170.2A77.4 77.4 0 0 1 250.2 168.8L267.7 181.7A55.6 55.6 0 0 0 267.0 182.7Z" fill="#d0e4a8"/>
<path d="M250.2 168.8A77.4 77.4 0 0 1 251.0 167.7L268.3 180.9A55.6 55.6 0 0 0 267.7 181.7Z" fill="#e8c890"/>
<path d="M251.0 167.7A77.4 77.4 0 0 1 252.3 166.0L269.3 179.7A55.6 55.6 0 0 0 268.3 180.9Z" fill="#f8e0d0"/>
<path d="M252.3 166.0A77.4 77.4 0 0 1 253.7 164.4L270.2 178.6A55.6 55.6 0 0 0 269.3 179.7Z" fill="#d8a070"/>
<path d="M253.7 164.4A77.4 77.4 0 0 1 254.6 163.3L270.9 177.8A55.6 55.6 0 0 0 270.2 178.6Z" fill="#e89870"/>
<path d="M254.6 163.3A77.4 77.4 0 0 1 255.9 162.0L271.8 176.8A55.6 55.6 0 0 0 270.9 177.8Z" fill="#d8a070"/>
<path d="M255.9 162.0A77.4 77.4 0 0 1 256.8 160.9L272.5 176.1A55.6 55.6 0 0 0 271.8 176.8Z" fill="#f0e078"/>
<path d="M256.8 160.9A77.4 77.4 0 0 1 257.9 159.8L273.3 175.3A55.6 55.6 0 0 0 272.5 176.1Z" fill="#fbf6ee"/>
<path d="M257.9 159.8A77.4 77.4 0 0 1 259.1 158.7L274.1 174.4A55.6 55.6 0 0 0 273.3 175.3Z" fill="#e8c890"/>
<path d="M259.1 158.7A77.4 77.4 0 0 1 260.2 157.6L275.0 173.7A55.6 55.6 0 0 0 274.1 174.4Z" fill="#e8d8a0"/>
<path d="M260.2 157.6A77.4 77.4 0 0 1 262.0 156.0L276.2 172.6A55.6 55.6 0 0 0 275.0 173.7Z" fill="#f0e078"/>
<path d="M262.0 156.0A77.4 77.4 0 0 1 263.5 154.7L277.3 171.6A55.6 55.6 0 0 0 276.2 172.6Z" fill="#d8a070"/>
<path d="M263.5 154.7A77.4 77.4 0 0 1 265.6 153.1L278.8 170.4A55.6 55.6 0 0 0 277.3 171.6Z" fill="#d0e4a8"/>
<path d="M265.6 153.1A77.4 77.4 0 0 1 266.4 152.5L279.4 170.0A55.6 55.6 0 0 0 278.8 170.4Z" fill="#e89870"/>
<path d="M266.4 152.5A77.4 77.4 0 0 1 268.1 151.3L280.6 169.1A55.6 55.6 0 0 0 279.4 170.0Z" fill="#f6d0c8"/>
<path d="M268.1 151.3A77.4 77.4 0 0 1 270.0 150.0L282.0 168.2A55.6 55.6 0 0 0 280.6 169.1Z" fill="#fad8b8"/>
<path d="M270.0 150.0A77.4 77.4 0 0 1 271.7 149.0L283.2 167.5A55.6 55.6 0 0 0 282.0 168.2Z" fill="#fbf6ee"/>
<path d="M271.7 149.0A77.4 77.4 0 0 1 273.7 147.7L284.7 166.6A55.6 55.6 0 0 0 283.2 167.5Z" fill="#e8d8a0"/>
<path d="M273.7 147.7A77.4 77.4 0 0 1 275.5 146.7L285.9 165.9A55.6 55.6 0 0 0 284.7 166.6Z" fill="#f4c0b0"/>
<path d="M275.5 146.7A77.4 77.4 0 0 1 277.8 145.5L287.6 165.0A55.6 55.6 0 0 0 285.9 165.9Z" fill="#e89870"/>
<path d="M277.8 145.5A77.4 77.4 0 0 1 279.6 144.6L288.9 164.4A55.6 55.6 0 0 0 287.6 165.0Z" fill="#c8e0a0"/>
<path d="M279.6 144.6A77.4 77.4 0 0 1 281.8 143.6L290.5 163.6A55.6 55.6 0 0 0 288.9 164.4Z" fill="#f4c0b0"/>
<path d="M281.8 143.6A77.4 77.4 0 0 1 284.3 142.6L292.2 162.9A55.6 55.6 0 0 0 290.5 163.6Z" fill="#f4c0b0"/>
<path d="M284.3 142.6A77.4 77.4 0 0 1 285.4 142.2L293.1 162.6A55.6 55.6 0 0 0 292.2 162.9Z" fill="#c8e0a0"/>
<path d="M285.4 142.2A77.4 77.4 0 0 1 287.9 141.3L294.8 162.0A55.6 55.6 0 0 0 293.1 162.6Z" fill="#fbf2e6"/>
<path d="M287.9 141.3A77.4 77.4 0 0 1 289.8 140.7L296.2 161.5A55.6 55.6 0 0 0 294.8 162.0Z" fill="#c8e0a0"/>
<path d="M289.8 140.7A77.4 77.4 0 0 1 290.6 140.5L296.7 161.4A55.6 55.6 0 0 0 296.2 161.5Z" fill="#f0a880"/>
<path d="M290.6 140.5A77.4 77.4 0 0 1 292.3 140.0L298.0 161.0A55.6 55.6 0 0 0 296.7 161.4Z" fill="#e8b888"/>
<path d="M292.3 140.0A77.4 77.4 0 0 1 293.8 139.6L299.0 160.8A55.6 55.6 0 0 0 298.0 161.0Z" fill="#e6c870"/>
<path d="M293.8 139.6A77.4 77.4 0 0 1 295.4 139.2L300.2 160.5A55.6 55.6 0 0 0 299.0 160.8Z" fill="#f2b8c0"/>
<path d="M295.4 139.2A77.4 77.4 0 0 1 297.5 138.8L301.7 160.2A55.6 55.6 0 0 0 300.2 160.5Z" fill="#fbf2e6"/>
<path d="M297.5 138.8A77.4 77.4 0 0 1 298.5 138.6L302.5 160.0A55.6 55.6 0 0 0 301.7 160.2Z" fill="#c4dca0"/>
<path d="M298.5 138.6A77.4 77.4 0 0 1 299.8 138.4L303.4 159.9A55.6 55.6 0 0 0 302.5 160.0Z" fill="#fbf2e6"/>
<path d="M299.8 138.4A77.4 77.4 0 0 1 301.7 138.1L304.7 159.6A55.6 55.6 0 0 0 303.4 159.9Z" fill="#c8e0a0"/>
<path d="M301.7 138.1A77.4 77.4 0 0 1 302.5 137.9L305.3 159.6A55.6 55.6 0 0 0 304.7 159.6Z" fill="#a8c878"/>
<path d="M302.5 137.9A77.4 77.4 0 0 1 304.0 137.8L306.4 159.4A55.6 55.6 0 0 0 305.3 159.6Z" fill="#b87848"/>
<path d="M304.0 137.8A77.4 77.4 0 0 1 305.2 137.6L307.3 159.3A55.6 55.6 0 0 0 306.4 159.4Z" fill="#e8d8a0"/>
</g>
<g id="ring6">
<path d="M317.9 162.0A53.0 53.0 0 1 1 307.5 161.9L308.6 173.9A41.0 41.0 0 1 0 316.6 173.9Z" fill="#a6cbe9"/>
<path d="M317.9 162.0A53.0 53.0 0 0 1 318.9 162.1L317.5 174.0A41.0 41.0 0 0 0 316.6 173.9Z" fill="#7ab2dc"/>
<path d="M318.9 162.1A53.0 53.0 0 0 1 319.9 162.2L318.2 174.1A41.0 41.0 0 0 0 317.5 174.0Z" fill="#d6e8f5"/>
<path d="M319.9 162.2A53.0 53.0 0 0 1 320.8 162.4L318.9 174.2A41.0 41.0 0 0 0 318.2 174.1Z" fill="#bcd8ee"/>
<path d="M320.8 162.4A53.0 53.0 0 0 1 322.2 162.6L320.0 174.4A41.0 41.0 0 0 0 318.9 174.2Z" fill="#a2cae8"/>
<path d="M322.2 162.6A53.0 53.0 0 0 1 323.7 162.9L321.1 174.6A41.0 41.0 0 0 0 320.0 174.4Z" fill="#d6e8f5"/>
<path d="M323.7 162.9A53.0 53.0 0 0 1 324.1 163.0L321.5 174.7A41.0 41.0 0 0 0 321.1 174.6Z" fill="#7ab2dc"/>
<path d="M324.1 163.0A53.0 53.0 0 0 1 325.6 163.4L322.7 175.0A41.0 41.0 0 0 0 321.5 174.7Z" fill="#b0d2ec"/>
<path d="M325.6 163.4A53.0 53.0 0 0 1 327.2 163.8L323.9 175.3A41.0 41.0 0 0 0 322.7 175.0Z" fill="#a2cae8"/>
<path d="M327.2 163.8A53.0 53.0 0 0 1 328.5 164.2L324.9 175.6A41.0 41.0 0 0 0 323.9 175.3Z" fill="#a2cae8"/>
<path d="M328.5 164.2A53.0 53.0 0 0 1 329.8 164.6L325.9 175.9A41.0 41.0 0 0 0 324.9 175.6Z" fill="#5a9ccf"/>
<path d="M329.8 164.6A53.0 53.0 0 0 1 330.2 164.7L326.2 176.0A41.0 41.0 0 0 0 325.9 175.9Z" fill="#4e94cc"/>
<path d="M330.2 164.7A53.0 53.0 0 0 1 331.5 165.2L327.2 176.4A41.0 41.0 0 0 0 326.2 176.0Z" fill="#7ab2dc"/>
<path d="M331.5 165.2A53.0 53.0 0 0 1 332.4 165.6L327.9 176.7A41.0 41.0 0 0 0 327.2 176.4Z" fill="#5a9ccf"/>
<path d="M332.4 165.6A53.0 53.0 0 0 1 333.1 165.9L328.5 176.9A41.0 41.0 0 0 0 327.9 176.7Z" fill="#b0d2ec"/>
<path d="M333.1 165.9A53.0 53.0 0 0 1 333.6 166.1L328.8 177.1A41.0 41.0 0 0 0 328.5 176.9Z" fill="#4e94cc"/>
<path d="M333.6 166.1A53.0 53.0 0 0 1 334.0 166.3L329.1 177.2A41.0 41.0 0 0 0 328.8 177.1Z" fill="#7ab2dc"/>
<path d="M334.0 166.3A53.0 53.0 0 0 1 334.3 166.4L329.4 177.3A41.0 41.0 0 0 0 329.1 177.2Z" fill="#a2cae8"/>
<path d="M334.3 166.4A53.0 53.0 0 0 1 335.8 167.1L330.5 177.9A41.0 41.0 0 0 0 329.4 177.3Z" fill="#8cbee2"/>
<path d="M335.8 167.1A53.0 53.0 0 0 1 336.8 167.6L331.3 178.3A41.0 41.0 0 0 0 330.5 177.9Z" fill="#5a9ccf"/>
<path d="M336.8 167.6A53.0 53.0 0 0 1 338.1 168.3L332.3 178.8A41.0 41.0 0 0 0 331.3 178.3Z" fill="#5a9ccf"/>
<path d="M338.1 168.3A53.0 53.0 0 0 1 339.3 169.0L333.2 179.3A41.0 41.0 0 0 0 332.3 178.8Z" fill="#b0d2ec"/>
<path d="M339.3 169.0A53.0 53.0 0 0 1 340.3 169.6L334.0 179.8A41.0 41.0 0 0 0 333.2 179.3Z" fill="#4e94cc"/>
<path d="M340.3 169.6A53.0 53.0 0 0 1 341.6 170.4L335.0 180.4A41.0 41.0 0 0 0 334.0 179.8Z" fill="#d6e8f5"/>
<path d="M341.6 170.4A53.0 53.0 0 0 1 342.0 170.6L335.3 180.6A41.0 41.0 0 0 0 335.0 180.4Z" fill="#4e94cc"/>
<path d="M342.0 170.6A53.0 53.0 0 0 1 343.3 171.5L336.3 181.3A41.0 41.0 0 0 0 335.3 180.6Z" fill="#5a9ccf"/>
<path d="M343.3 171.5A53.0 53.0 0 0 1 344.6 172.5L337.3 182.1A41.0 41.0 0 0 0 336.3 181.3Z" fill="#5a9ccf"/>
<path d="M344.6 172.5A53.0 53.0 0 0 1 345.3 173.1L337.9 182.5A41.0 41.0 0 0 0 337.3 182.1Z" fill="#b0d2ec"/>
<path d="M345.3 173.1A53.0 53.0 0 0 1 346.2 173.8L338.5 183.0A41.0 41.0 0 0 0 337.9 182.5Z" fill="#5a9ccf"/>
<path d="M346.2 173.8A53.0 53.0 0 0 1 346.7 174.2L338.9 183.4A41.0 41.0 0 0 0 338.5 183.0Z" fill="#bcd8ee"/>
<path d="M346.7 174.2A53.0 53.0 0 0 1 347.4 174.8L339.5 183.9A41.0 41.0 0 0 0 338.9 183.4Z" fill="#6aa6d6"/>
<path d="M347.4 174.8A53.0 53.0 0 0 1 348.4 175.7L340.3 184.6A41.0 41.0 0 0 0 339.5 183.9Z" fill="#a2cae8"/>
<path d="M348.4 175.7A53.0 53.0 0 0 1 349.4 176.7L341.1 185.3A41.0 41.0 0 0 0 340.3 184.6Z" fill="#5a9ccf"/>
<path d="M349.4 176.7A53.0 53.0 0 0 1 350.1 177.3L341.6 185.8A41.0 41.0 0 0 0 341.1 185.3Z" fill="#7ab2dc"/>
<path d="M350.1 177.3A53.0 53.0 0 0 1 350.7 178.0L342.1 186.3A41.0 41.0 0 0 0 341.6 185.8Z" fill="#7ab2dc"/>
<path d="M350.7 178.0A53.0 53.0 0 0 1 351.0 178.3L342.3 186.5A41.0 41.0 0 0 0 342.1 186.3Z" fill="#d6e8f5"/>
<path d="M351.0 178.3A53.0 53.0 0 0 1 351.8 179.2L342.9 187.2A41.0 41.0 0 0 0 342.3 186.5Z" fill="#a2cae8"/>
<path d="M351.8 179.2A53.0 53.0 0 0 1 352.2 179.6L343.2 187.6A41.0 41.0 0 0 0 342.9 187.2Z" fill="#8cbee2"/>
<path d="M352.2 179.6A53.0 53.0 0 0 1 353.2 180.7L344.0 188.4A41.0 41.0 0 0 0 343.2 187.6Z" fill="#5a9ccf"/>
<path d="M353.2 180.7A53.0 53.0 0 0 1 354.1 181.9L344.7 189.3A41.0 41.0 0 0 0 344.0 188.4Z" fill="#7ab2dc"/>
<path d="M354.1 181.9A53.0 53.0 0 0 1 355.0 183.0L345.4 190.2A41.0 41.0 0 0 0 344.7 189.3Z" fill="#6aa6d6"/>
<path d="M355.0 183.0A53.0 53.0 0 0 1 355.6 183.9L345.9 190.9A41.0 41.0 0 0 0 345.4 190.2Z" fill="#6aa6d6"/>
<path d="M355.6 183.9A53.0 53.0 0 0 1 356.6 185.3L346.6 191.9A41.0 41.0 0 0 0 345.9 190.9Z" fill="#4e94cc"/>
<path d="M356.6 185.3A53.0 53.0 0 0 1 357.1 186.1L347.0 192.6A41.0 41.0 0 0 0 346.6 191.9Z" fill="#4e94cc"/>
<path d="M357.1 186.1A53.0 53.0 0 0 1 357.8 187.2L347.6 193.4A41.0 41.0 0 0 0 347.0 192.6Z" fill="#7ab2dc"/>
<path d="M357.8 187.2A53.0 53.0 0 0 1 358.6 188.5L348.1 194.4A41.0 41.0 0 0 0 347.6 193.4Z" fill="#d6e8f5"/>
<path d="M358.6 188.5A53.0 53.0 0 0 1 358.9 189.0L348.4 194.8A41.0 41.0 0 0 0 348.1 194.4Z" fill="#5a9ccf"/>
<path d="M358.9 189.0A53.0 53.0 0 0 1 359.6 190.4L348.9 195.9A41.0 41.0 0 0 0 348.4 194.8Z" fill="#a2cae8"/>
<path d="M359.6 190.4A53.0 53.0 0 0 1 359.9 190.9L349.2 196.3A41.0 41.0 0 0 0 348.9 195.9Z" fill="#d6e8f5"/>
<path d="M359.9 190.9A53.0 53.0 0 0 1 360.1 191.5L349.4 196.7A41.0 41.0 0 0 0 349.2 196.3Z" fill="#8cbee2"/>
<path d="M360.1 191.5A53.0 53.0 0 0 1 360.8 193.0L349.9 197.9A41.0 41.0 0 0 0 349.4 196.7Z" fill="#d6e8f5"/>
<path d="M360.8 193.0A53.0 53.0 0 0 1 361.3 194.1L350.3 198.7A41.0 41.0 0 0 0 349.9 197.9Z" fill="#8cbee2"/>
<path d="M361.3 194.1A53.0 53.0 0 0 1 361.7 195.0L350.6 199.4A41.0 41.0 0 0 0 350.3 198.7Z" fill="#a2cae8"/>
<path d="M361.7 195.0A53.0 53.0 0 0 1 362.1 195.9L350.8 200.2A41.0 41.0 0 0 0 350.6 199.4Z" fill="#5a9ccf"/>
<path d="M362.1 195.9A53.0 53.0 0 0 1 362.2 196.4L351.0 200.5A41.0 41.0 0 0 0 350.8 200.2Z" fill="#4e94cc"/>
<path d="M362.2 196.4A53.0 53.0 0 0 1 362.6 197.4L351.3 201.3A41.0 41.0 0 0 0 351.0 200.5Z" fill="#7ab2dc"/>
<path d="M362.6 197.4A53.0 53.0 0 0 1 362.9 198.3L351.5 202.0A41.0 41.0 0 0 0 351.3 201.3Z" fill="#6aa6d6"/>
<path d="M362.9 198.3A53.0 53.0 0 0 1 363.3 199.7L351.8 203.1A41.0 41.0 0 0 0 351.5 202.0Z" fill="#7ab2dc"/>
<path d="M363.3 199.7A53.0 53.0 0 0 1 363.5 200.4L352.0 203.6A41.0 41.0 0 0 0 351.8 203.1Z" fill="#5a9ccf"/>
<path d="M363.5 200.4A53.0 53.0 0 0 1 363.9 201.8L352.3 204.7A41.0 41.0 0 0 0 352.0 203.6Z" fill="#5a9ccf"/>
<path d="M363.9 201.8A53.0 53.0 0 0 1 364.0 202.2L352.3 205.0A41.0 41.0 0 0 0 352.3 204.7Z" fill="#5a9ccf"/>
<path d="M364.0 202.2A53.0 53.0 0 0 1 364.2 203.0L352.5 205.6A41.0 41.0 0 0 0 352.3 205.0Z" fill="#6aa6d6"/>
<path d="M364.2 203.0A53.0 53.0 0 0 1 364.5 204.5L352.7 206.8A41.0 41.0 0 0 0 352.5 205.6Z" fill="#4e94cc"/>
<path d="M364.5 204.5A53.0 53.0 0 0 1 364.8 205.9L352.9 207.9A41.0 41.0 0 0 0 352.7 206.8Z" fill="#b0d2ec"/>
<path d="M364.8 205.9A53.0 53.0 0 0 1 365.0 207.3L353.1 209.0A41.0 41.0 0 0 0 352.9 207.9Z" fill="#d6e8f5"/>
<path d="M365.0 207.3A53.0 53.0 0 0 1 365.0 207.7L353.1 209.3A41.0 41.0 0 0 0 353.1 209.0Z" fill="#8cbee2"/>
<path d="M365.0 207.7A53.0 53.0 0 0 1 365.1 208.2L353.2 209.6A41.0 41.0 0 0 0 353.1 209.3Z" fill="#5a9ccf"/>
<path d="M365.1 208.2A53.0 53.0 0 0 1 365.3 209.6L353.3 210.7A41.0 41.0 0 0 0 353.2 209.6Z" fill="#5a9ccf"/>
<path d="M365.3 209.6A53.0 53.0 0 0 1 365.3 210.4L353.4 211.4A41.0 41.0 0 0 0 353.3 210.7Z" fill="#b0d2ec"/>
<path d="M365.3 210.4A53.0 53.0 0 0 1 365.4 211.3L353.4 212.0A41.0 41.0 0 0 0 353.4 211.4Z" fill="#6aa6d6"/>
<path d="M365.4 211.3A53.0 53.0 0 0 1 365.5 212.4L353.5 212.9A41.0 41.0 0 0 0 353.4 212.0Z" fill="#7ab2dc"/>
<path d="M365.5 212.4A53.0 53.0 0 0 1 365.5 213.9L353.5 214.1A41.0 41.0 0 0 0 353.5 212.9Z" fill="#a2cae8"/>
<path d="M365.5 213.9A53.0 53.0 0 0 1 365.5 215.2L353.5 215.1A41.0 41.0 0 0 0 353.5 214.1Z" fill="#d6e8f5"/>
<path d="M365.5 215.2A53.0 53.0 0 0 1 365.5 216.1L353.5 215.8A41.0 41.0 0 0 0 353.5 215.1Z" fill="#6aa6d6"/>
<path d="M365.5 216.1A53.0 53.0 0 0 1 365.4 217.3L353.5 216.7A41.0 41.0 0 0 0 353.5 215.8Z" fill="#7ab2dc"/>
<path d="M365.4 217.3A53.0 53.0 0 0 1 365.4 217.8L353.4 217.1A41.0 41.0 0 0 0 353.5 216.7Z" fill="#6aa6d6"/>
<path d="M365.4 217.8A53.0 53.0 0 0 1 365.3 219.0L353.4 218.0A41.0 41.0 0 0 0 353.4 217.1Z" fill="#bcd8ee"/>
<path d="M365.3 219.0A53.0 53.0 0 0 1 365.2 220.1L353.3 218.9A41.0 41.0 0 0 0 353.4 218.0Z" fill="#d6e8f5"/>
<path d="M365.2 220.1A53.0 53.0 0 0 1 365.1 221.0L353.2 219.6A41.0 41.0 0 0 0 353.3 218.9Z" fill="#4e94cc"/>
<path d="M365.1 221.0A53.0 53.0 0 0 1 365.0 222.0L353.1 220.3A41.0 41.0 0 0 0 353.2 219.6Z" fill="#5a9ccf"/>
<path d="M365.0 222.0A53.0 53.0 0 0 1 364.8 223.2L353.0 221.3A41.0 41.0 0 0 0 353.1 220.3Z" fill="#a2cae8"/>
<path d="M364.8 223.2A53.0 53.0 0 0 1 364.7 224.1L352.8 222.0A41.0 41.0 0 0 0 353.0 221.3Z" fill="#5a9ccf"/>
<path d="M364.7 224.1A53.0 53.0 0 0 1 364.5 224.8L352.7 222.5A41.0 41.0 0 0 0 352.8 222.0Z" fill="#6aa6d6"/>
<path d="M364.5 224.8A53.0 53.0 0 0 1 364.3 226.0L352.6 223.4A41.0 41.0 0 0 0 352.7 222.5Z" fill="#b0d2ec"/>
<path d="M364.3 226.0A53.0 53.0 0 0 1 363.9 227.6L352.3 224.6A41.0 41.0 0 0 0 352.6 223.4Z" fill="#d6e8f5"/>
<path d="M363.9 227.6A53.0 53.0 0 0 1 363.8 228.1L352.2 225.1A41.0 41.0 0 0 0 352.3 224.6Z" fill="#6aa6d6"/>
<path d="M363.8 228.1A53.0 53.0 0 0 1 363.5 229.1L352.0 225.8A41.0 41.0 0 0 0 352.2 225.1Z" fill="#4e94cc"/>
<path d="M363.5 229.1A53.0 53.0 0 0 1 363.1 230.6L351.6 227.0A41.0 41.0 0 0 0 352.0 225.8Z" fill="#8cbee2"/>
<path d="M363.1 230.6A53.0 53.0 0 0 1 362.6 232.0L351.3 228.1A41.0 41.0 0 0 0 351.6 227.0Z" fill="#a2cae8"/>
<path d="M362.6 232.0A53.0 53.0 0 0 1 362.3 232.9L351.0 228.7A41.0 41.0 0 0 0 351.3 228.1Z" fill="#a2cae8"/>
<path d="M362.3 232.9A53.0 53.0 0 0 1 361.8 234.2L350.6 229.7A41.0 41.0 0 0 0 351.0 228.7Z" fill="#5a9ccf"/>
<path d="M361.8 234.2A53.0 53.0 0 0 1 361.5 234.8L350.4 230.3A41.0 41.0 0 0 0 350.6 229.7Z" fill="#b0d2ec"/>
<path d="M361.5 234.8A53.0 53.0 0 0 1 361.3 235.5L350.2 230.8A41.0 41.0 0 0 0 350.4 230.3Z" fill="#bcd8ee"/>
<path d="M361.3 235.5A53.0 53.0 0 0 1 360.6 236.9L349.7 231.9A41.0 41.0 0 0 0 350.2 230.8Z" fill="#a2cae8"/>
<path d="M360.6 236.9A53.0 53.0 0 0 1 360.0 238.3L349.2 232.9A41.0 41.0 0 0 0 349.7 231.9Z" fill="#4e94cc"/>
<path d="M360.0 238.3A53.0 53.0 0 0 1 359.6 238.9L349.0 233.5A41.0 41.0 0 0 0 349.2 232.9Z" fill="#b0d2ec"/>
<path d="M359.6 238.9A53.0 53.0 0 0 1 359.2 239.7L348.7 234.0A41.0 41.0 0 0 0 349.0 233.5Z" fill="#7ab2dc"/>
<path d="M359.2 239.7A53.0 53.0 0 0 1 358.8 240.6L348.3 234.7A41.0 41.0 0 0 0 348.7 234.0Z" fill="#5a9ccf"/>
<path d="M358.8 240.6A53.0 53.0 0 0 1 358.3 241.4L347.9 235.4A41.0 41.0 0 0 0 348.3 234.7Z" fill="#b0d2ec"/>
<path d="M358.3 241.4A53.0 53.0 0 0 1 357.8 242.2L347.6 235.9A41.0 41.0 0 0 0 347.9 235.4Z" fill="#d6e8f5"/>
<path d="M357.8 242.2A53.0 53.0 0 0 1 357.3 243.1L347.1 236.6A41.0 41.0 0 0 0 347.6 235.9Z" fill="#8cbee2"/>
<path d="M357.3 243.1A53.0 53.0 0 0 1 356.8 243.7L346.8 237.2A41.0 41.0 0 0 0 347.1 236.6Z" fill="#4e94cc"/>
<path d="M356.8 243.7A53.0 53.0 0 0 1 356.0 245.0L346.1 238.1A41.0 41.0 0 0 0 346.8 237.2Z" fill="#b0d2ec"/>
<path d="M356.0 245.0A53.0 53.0 0 0 1 355.1 246.3L345.4 239.1A41.0 41.0 0 0 0 346.1 238.1Z" fill="#4e94cc"/>
<path d="M355.1 246.3A53.0 53.0 0 0 1 354.3 247.3L344.8 239.9A41.0 41.0 0 0 0 345.4 239.1Z" fill="#5a9ccf"/>
<path d="M354.3 247.3A53.0 53.0 0 0 1 354.0 247.6L344.6 240.2A41.0 41.0 0 0 0 344.8 239.9Z" fill="#b0d2ec"/>
<path d="M354.0 247.6A53.0 53.0 0 0 1 353.4 248.4L344.1 240.8A41.0 41.0 0 0 0 344.6 240.2Z" fill="#8cbee2"/>
<path d="M353.4 248.4A53.0 53.0 0 0 1 352.7 249.2L343.6 241.4A41.0 41.0 0 0 0 344.1 240.8Z" fill="#4e94cc"/>
<path d="M352.7 249.2A53.0 53.0 0 0 1 351.7 250.4L342.8 242.3A41.0 41.0 0 0 0 343.6 241.4Z" fill="#d6e8f5"/>
<path d="M351.7 250.4A53.0 53.0 0 0 1 351.0 251.2L342.3 242.9A41.0 41.0 0 0 0 342.8 242.3Z" fill="#7ab2dc"/>
<path d="M351.0 251.2A53.0 53.0 0 0 1 350.2 252.0L341.6 243.5A41.0 41.0 0 0 0 342.3 242.9Z" fill="#b0d2ec"/>
<path d="M350.2 252.0A53.0 53.0 0 0 1 349.7 252.4L341.3 243.9A41.0 41.0 0 0 0 341.6 243.5Z" fill="#6aa6d6"/>
<path d="M349.7 252.4A53.0 53.0 0 0 1 349.1 253.0L340.8 244.4A41.0 41.0 0 0 0 341.3 243.9Z" fill="#5a9ccf"/>
<path d="M349.1 253.0A53.0 53.0 0 0 1 348.6 253.5L340.4 244.7A41.0 41.0 0 0 0 340.8 244.4Z" fill="#4e94cc"/>
<path d="M348.6 253.5A53.0 53.0 0 0 1 347.8 254.3L339.8 245.3A41.0 41.0 0 0 0 340.4 244.7Z" fill="#5a9ccf"/>
<path d="M347.8 254.3A53.0 53.0 0 0 1 347.2 254.7L339.4 245.7A41.0 41.0 0 0 0 339.8 245.3Z" fill="#b0d2ec"/>
<path d="M347.2 254.7A53.0 53.0 0 0 1 346.6 255.3L338.9 246.1A41.0 41.0 0 0 0 339.4 245.7Z" fill="#8cbee2"/>
<path d="M346.6 255.3A53.0 53.0 0 0 1 345.7 256.0L338.2 246.7A41.0 41.0 0 0 0 338.9 246.1Z" fill="#b0d2ec"/>
<path d="M345.7 256.0A53.0 53.0 0 0 1 344.4 257.0L337.2 247.4A41.0 41.0 0 0 0 338.2 246.7Z" fill="#b0d2ec"/>
<path d="M344.4 257.0A53.0 53.0 0 0 1 344.1 257.2L337.0 247.6A41.0 41.0 0 0 0 337.2 247.4Z" fill="#4e94cc"/>
<path d="M344.1 257.2A53.0 53.0 0 0 1 343.0 258.0L336.1 248.2A41.0 41.0 0 0 0 337.0 247.6Z" fill="#4e94cc"/>
<path d="M343.0 258.0A53.0 53.0 0 0 1 342.0 258.7L335.4 248.7A41.0 41.0 0 0 0 336.1 248.2Z" fill="#a2cae8"/>
<path d="M342.0 258.7A53.0 53.0 0 0 1 341.4 259.2L334.8 249.1A41.0 41.0 0 0 0 335.4 248.7Z" fill="#6aa6d6"/>
<path d="M341.4 259.2A53.0 53.0 0 0 1 340.5 259.7L334.1 249.5A41.0 41.0 0 0 0 334.8 249.1Z" fill="#5a9ccf"/>
<path d="M340.5 259.7A53.0 53.0 0 0 1 339.2 260.5L333.2 250.1A41.0 41.0 0 0 0 334.1 249.5Z" fill="#6aa6d6"/>
<path d="M339.2 260.5A53.0 53.0 0 0 1 338.2 261.1L332.4 250.6A41.0 41.0 0 0 0 333.2 250.1Z" fill="#4e94cc"/>
<path d="M338.2 261.1A53.0 53.0 0 0 1 337.1 261.6L331.5 251.0A41.0 41.0 0 0 0 332.4 250.6Z" fill="#8cbee2"/>
<path d="M337.1 261.6A53.0 53.0 0 0 1 336.7 261.9L331.2 251.2A41.0 41.0 0 0 0 331.5 251.0Z" fill="#d6e8f5"/>
<path d="M336.7 261.9A53.0 53.0 0 0 1 335.4 262.5L330.2 251.7A41.0 41.0 0 0 0 331.2 251.2Z" fill="#4e94cc"/>
<path d="M335.4 262.5A53.0 53.0 0 0 1 334.8 262.8L329.8 251.9A41.0 41.0 0 0 0 330.2 251.7Z" fill="#4e94cc"/>
<path d="M334.8 262.8A53.0 53.0 0 0 1 334.1 263.1L329.2 252.1A41.0 41.0 0 0 0 329.8 251.9Z" fill="#6aa6d6"/>
<path d="M334.1 263.1A53.0 53.0 0 0 1 333.4 263.4L328.6 252.4A41.0 41.0 0 0 0 329.2 252.1Z" fill="#8cbee2"/>
<path d="M333.4 263.4A53.0 53.0 0 0 1 332.1 263.9L327.7 252.8A41.0 41.0 0 0 0 328.6 252.4Z" fill="#b0d2ec"/>
<path d="M332.1 263.9A53.0 53.0 0 0 1 331.3 264.2L327.1 253.0A41.0 41.0 0 0 0 327.7 252.8Z" fill="#bcd8ee"/>
<path d="M331.3 264.2A53.0 53.0 0 0 1 330.5 264.6L326.4 253.3A41.0 41.0 0 0 0 327.1 253.0Z" fill="#4e94cc"/>
<path d="M330.5 264.6A53.0 53.0 0 0 1 329.5 264.9L325.6 253.5A41.0 41.0 0 0 0 326.4 253.3Z" fill="#6aa6d6"/>
<path d="M329.5 264.9A53.0 53.0 0 0 1 328.0 265.4L324.5 253.9A41.0 41.0 0 0 0 325.6 253.5Z" fill="#bcd8ee"/>
<path d="M328.0 265.4A53.0 53.0 0 0 1 327.0 265.7L323.7 254.1A41.0 41.0 0 0 0 324.5 253.9Z" fill="#6aa6d6"/>
<path d="M327.0 265.7A53.0 53.0 0 0 1 326.6 265.8L323.4 254.2A41.0 41.0 0 0 0 323.7 254.1Z" fill="#7ab2dc"/>
<path d="M326.6 265.8A53.0 53.0 0 0 1 326.1 265.9L323.0 254.3A41.0 41.0 0 0 0 323.4 254.2Z" fill="#4e94cc"/>
<path d="M326.1 265.9A53.0 53.0 0 0 1 324.8 266.2L322.0 254.6A41.0 41.0 0 0 0 323.0 254.3Z" fill="#6aa6d6"/>
<path d="M324.8 266.2A53.0 53.0 0 0 1 323.7 266.5L321.1 254.8A41.0 41.0 0 0 0 322.0 254.6Z" fill="#8cbee2"/>
<path d="M323.7 266.5A53.0 53.0 0 0 1 322.6 266.7L320.3 255.0A41.0 41.0 0 0 0 321.1 254.8Z" fill="#bcd8ee"/>
<path d="M322.6 266.7A53.0 53.0 0 0 1 322.0 266.8L319.9 255.0A41.0 41.0 0 0 0 320.3 255.0Z" fill="#b0d2ec"/>
<path d="M322.0 266.8A53.0 53.0 0 0 1 321.0 267.0L319.0 255.2A41.0 41.0 0 0 0 319.9 255.0Z" fill="#d6e8f5"/>
<path d="M321.0 267.0A53.0 53.0 0 0 1 319.8 267.2L318.1 255.3A41.0 41.0 0 0 0 319.0 255.2Z" fill="#4e94cc"/>
<path d="M319.8 267.2A53.0 53.0 0 0 1 318.4 267.4L317.1 255.4A41.0 41.0 0 0 0 318.1 255.3Z" fill="#6aa6d6"/>
<path d="M318.4 267.4A53.0 53.0 0 0 1 317.5 267.5L316.4 255.5A41.0 41.0 0 0 0 317.1 255.4Z" fill="#7ab2dc"/>
<path d="M317.5 267.5A53.0 53.0 0 0 1 316.9 267.5L315.9 255.6A41.0 41.0 0 0 0 316.4 255.5Z" fill="#5a9ccf"/>
<path d="M316.9 267.5A53.0 53.0 0 0 1 315.4 267.6L314.7 255.6A41.0 41.0 0 0 0 315.9 255.6Z" fill="#7ab2dc"/>
<path d="M315.4 267.6A53.0 53.0 0 0 1 314.2 267.7L313.8 255.7A41.0 41.0 0 0 0 314.7 255.6Z" fill="#4e94cc"/>
<path d="M314.2 267.7A53.0 53.0 0 0 1 313.5 267.7L313.3 255.7A41.0 41.0 0 0 0 313.8 255.7Z" fill="#8cbee2"/>
<path d="M313.5 267.7A53.0 53.0 0 0 1 312.3 267.7L312.3 255.7A41.0 41.0 0 0 0 313.3 255.7Z" fill="#b0d2ec"/>
<path d="M312.3 267.7A53.0 53.0 0 0 1 311.5 267.7L311.7 255.7A41.0 41.0 0 0 0 312.3 255.7Z" fill="#8cbee2"/>
<path d="M311.5 267.7A53.0 53.0 0 0 1 311.0 267.7L311.3 255.7A41.0 41.0 0 0 0 311.7 255.7Z" fill="#4e94cc"/>
<path d="M311.0 267.7A53.0 53.0 0 0 1 310.3 267.7L310.8 255.7A41.0 41.0 0 0 0 311.3 255.7Z" fill="#4e94cc"/>
<path d="M310.3 267.7A53.0 53.0 0 0 1 309.7 267.6L310.3 255.6A41.0 41.0 0 0 0 310.8 255.7Z" fill="#b0d2ec"/>
<path d="M309.7 267.6A53.0 53.0 0 0 1 308.3 267.5L309.3 255.6A41.0 41.0 0 0 0 310.3 255.6Z" fill="#6aa6d6"/>
<path d="M308.3 267.5A53.0 53.0 0 0 1 307.0 267.4L308.3 255.5A41.0 41.0 0 0 0 309.3 255.6Z" fill="#4e94cc"/>
<path d="M307.0 267.4A53.0 53.0 0 0 1 306.1 267.3L307.5 255.4A41.0 41.0 0 0 0 308.3 255.5Z" fill="#bcd8ee"/>
<path d="M306.1 267.3A53.0 53.0 0 0 1 305.5 267.2L307.1 255.3A41.0 41.0 0 0 0 307.5 255.4Z" fill="#7ab2dc"/>
<path d="M305.5 267.2A53.0 53.0 0 0 1 305.1 267.2L306.8 255.3A41.0 41.0 0 0 0 307.1 255.3Z" fill="#5a9ccf"/>
<path d="M305.1 267.2A53.0 53.0 0 0 1 303.8 267.0L305.8 255.1A41.0 41.0 0 0 0 306.8 255.3Z" fill="#a2cae8"/>
<path d="M303.8 267.0A53.0 53.0 0 0 1 302.4 266.7L304.7 255.0A41.0 41.0 0 0 0 305.8 255.1Z" fill="#bcd8ee"/>
<path d="M302.4 266.7A53.0 53.0 0 0 1 301.4 266.5L303.9 254.8A41.0 41.0 0 0 0 304.7 255.0Z" fill="#b0d2ec"/>
<path d="M301.4 266.5A53.0 53.0 0 0 1 300.4 266.3L303.1 254.6A41.0 41.0 0 0 0 303.9 254.8Z" fill="#a2cae8"/>
<path d="M300.4 266.3A53.0 53.0 0 0 1 299.8 266.2L302.7 254.5A41.0 41.0 0 0 0 303.1 254.6Z" fill="#bcd8ee"/>
<path d="M299.8 266.2A53.0 53.0 0 0 1 298.5 265.8L301.6 254.2A41.0 41.0 0 0 0 302.7 254.5Z" fill="#4e94cc"/>
<path d="M298.5 265.8A53.0 53.0 0 0 1 297.7 265.6L301.0 254.1A41.0 41.0 0 0 0 301.6 254.2Z" fill="#d6e8f5"/>
<path d="M297.7 265.6A53.0 53.0 0 0 1 296.7 265.3L300.3 253.8A41.0 41.0 0 0 0 301.0 254.1Z" fill="#b0d2ec"/>
<path d="M296.7 265.3A53.0 53.0 0 0 1 296.0 265.1L299.8 253.7A41.0 41.0 0 0 0 300.3 253.8Z" fill="#5a9ccf"/>
<path d="M296.0 265.1A53.0 53.0 0 0 1 295.4 264.9L299.3 253.5A41.0 41.0 0 0 0 299.8 253.7Z" fill="#bcd8ee"/>
<path d="M295.4 264.9A53.0 53.0 0 0 1 294.9 264.7L298.9 253.4A41.0 41.0 0 0 0 299.3 253.5Z" fill="#7ab2dc"/>
<path d="M294.9 264.7A53.0 53.0 0 0 1 294.5 264.5L298.6 253.3A41.0 41.0 0 0 0 298.9 253.4Z" fill="#a2cae8"/>
<path d="M294.5 264.5A53.0 53.0 0 0 1 293.8 264.3L298.0 253.0A41.0 41.0 0 0 0 298.6 253.3Z" fill="#b0d2ec"/>
<path d="M293.8 264.3A53.0 53.0 0 0 1 292.6 263.8L297.1 252.7A41.0 41.0 0 0 0 298.0 253.0Z" fill="#5a9ccf"/>
<path d="M292.6 263.8A53.0 53.0 0 0 1 291.3 263.3L296.1 252.3A41.0 41.0 0 0 0 297.1 252.7Z" fill="#b0d2ec"/>
<path d="M291.3 263.3A53.0 53.0 0 0 1 289.8 262.6L294.9 251.7A41.0 41.0 0 0 0 296.1 252.3Z" fill="#d6e8f5"/>
<path d="M289.8 262.6A53.0 53.0 0 0 1 289.2 262.3L294.5 251.5A41.0 41.0 0 0 0 294.9 251.7Z" fill="#d6e8f5"/>
<path d="M289.2 262.3A53.0 53.0 0 0 1 288.6 262.0L294.0 251.3A41.0 41.0 0 0 0 294.5 251.5Z" fill="#d6e8f5"/>
<path d="M288.6 262.0A53.0 53.0 0 0 1 287.4 261.4L293.1 250.8A41.0 41.0 0 0 0 294.0 251.3Z" fill="#6aa6d6"/>
<path d="M287.4 261.4A53.0 53.0 0 0 1 286.8 261.1L292.7 250.6A41.0 41.0 0 0 0 293.1 250.8Z" fill="#5a9ccf"/>
<path d="M286.8 261.1A53.0 53.0 0 0 1 286.0 260.6L292.0 250.2A41.0 41.0 0 0 0 292.7 250.6Z" fill="#b0d2ec"/>
<path d="M286.0 260.6A53.0 53.0 0 0 1 285.6 260.4L291.7 250.0A41.0 41.0 0 0 0 292.0 250.2Z" fill="#d6e8f5"/>
<path d="M285.6 260.4A53.0 53.0 0 0 1 284.7 259.8L291.0 249.6A41.0 41.0 0 0 0 291.7 250.0Z" fill="#8cbee2"/>
<path d="M284.7 259.8A53.0 53.0 0 0 1 283.6 259.1L290.1 249.1A41.0 41.0 0 0 0 291.0 249.6Z" fill="#b0d2ec"/>
<path d="M283.6 259.1A53.0 53.0 0 0 1 283.2 258.8L289.8 248.9A41.0 41.0 0 0 0 290.1 249.1Z" fill="#7ab2dc"/>
<path d="M283.2 258.8A53.0 53.0 0 0 1 282.5 258.4L289.3 248.5A41.0 41.0 0 0 0 289.8 248.9Z" fill="#6aa6d6"/>
<path d="M282.5 258.4A53.0 53.0 0 0 1 281.2 257.5L288.3 247.8A41.0 41.0 0 0 0 289.3 248.5Z" fill="#8cbee2"/>
<path d="M281.2 257.5A53.0 53.0 0 0 1 280.7 257.1L287.9 247.5A41.0 41.0 0 0 0 288.3 247.8Z" fill="#bcd8ee"/>
<path d="M280.7 257.1A53.0 53.0 0 0 1 279.4 256.1L286.9 246.7A41.0 41.0 0 0 0 287.9 247.5Z" fill="#5a9ccf"/>
<path d="M279.4 256.1A53.0 53.0 0 0 1 278.5 255.4L286.2 246.1A41.0 41.0 0 0 0 286.9 246.7Z" fill="#8cbee2"/>
<path d="M278.5 255.4A53.0 53.0 0 0 1 278.1 255.1L285.9 245.9A41.0 41.0 0 0 0 286.2 246.1Z" fill="#a2cae8"/>
<path d="M278.1 255.1A53.0 53.0 0 0 1 277.7 254.7L285.6 245.6A41.0 41.0 0 0 0 285.9 245.9Z" fill="#4e94cc"/>
<path d="M277.7 254.7A53.0 53.0 0 0 1 276.9 253.9L284.9 245.1A41.0 41.0 0 0 0 285.6 245.6Z" fill="#b0d2ec"/>
<path d="M276.9 253.9A53.0 53.0 0 0 1 275.8 252.9L284.1 244.3A41.0 41.0 0 0 0 284.9 245.1Z" fill="#7ab2dc"/>
<path d="M275.8 252.9A53.0 53.0 0 0 1 274.7 251.8L283.2 243.4A41.0 41.0 0 0 0 284.1 244.3Z" fill="#5a9ccf"/>
<path d="M274.7 251.8A53.0 53.0 0 0 1 273.8 250.9L282.6 242.7A41.0 41.0 0 0 0 283.2 243.4Z" fill="#d6e8f5"/>
<path d="M273.8 250.9A53.0 53.0 0 0 1 273.1 250.1L282.0 242.1A41.0 41.0 0 0 0 282.6 242.7Z" fill="#b0d2ec"/>
<path d="M273.1 250.1A53.0 53.0 0 0 1 272.4 249.3L281.5 241.5A41.0 41.0 0 0 0 282.0 242.1Z" fill="#6aa6d6"/>
<path d="M272.4 249.3A53.0 53.0 0 0 1 272.1 249.0L281.2 241.2A41.0 41.0 0 0 0 281.5 241.5Z" fill="#6aa6d6"/>
<path d="M272.1 249.0A53.0 53.0 0 0 1 271.1 247.8L280.5 240.3A41.0 41.0 0 0 0 281.2 241.2Z" fill="#a2cae8"/>
<path d="M271.1 247.8A53.0 53.0 0 0 1 270.3 246.7L279.8 239.5A41.0 41.0 0 0 0 280.5 240.3Z" fill="#b0d2ec"/>
<path d="M270.3 246.7A53.0 53.0 0 0 1 269.4 245.6L279.2 238.6A41.0 41.0 0 0 0 279.8 239.5Z" fill="#bcd8ee"/>
<path d="M269.4 245.6A53.0 53.0 0 0 1 268.7 244.5L278.6 237.8A41.0 41.0 0 0 0 279.2 238.6Z" fill="#6aa6d6"/>
<path d="M268.7 244.5A53.0 53.0 0 0 1 268.4 244.1L278.4 237.4A41.0 41.0 0 0 0 278.6 237.8Z" fill="#4e94cc"/>
<path d="M268.4 244.1A53.0 53.0 0 0 1 267.7 243.0L277.8 236.6A41.0 41.0 0 0 0 278.4 237.4Z" fill="#d6e8f5"/>
<path d="M267.7 243.0A53.0 53.0 0 0 1 266.9 241.6L277.2 235.5A41.0 41.0 0 0 0 277.8 236.6Z" fill="#5a9ccf"/>
<path d="M266.9 241.6A53.0 53.0 0 0 1 266.1 240.3L276.6 234.5A41.0 41.0 0 0 0 277.2 235.5Z" fill="#a2cae8"/>
<path d="M266.1 240.3A53.0 53.0 0 0 1 265.8 239.7L276.4 234.1A41.0 41.0 0 0 0 276.6 234.5Z" fill="#4e94cc"/>
<path d="M265.8 239.7A53.0 53.0 0 0 1 265.6 239.3L276.2 233.8A41.0 41.0 0 0 0 276.4 234.1Z" fill="#b0d2ec"/>
<path d="M265.6 239.3A53.0 53.0 0 0 1 264.9 237.9L275.6 232.7A41.0 41.0 0 0 0 276.2 233.8Z" fill="#4e94cc"/>
<path d="M264.9 237.9A53.0 53.0 0 0 1 264.2 236.5L275.1 231.6A41.0 41.0 0 0 0 275.6 232.7Z" fill="#6aa6d6"/>
<path d="M264.2 236.5A53.0 53.0 0 0 1 263.8 235.5L274.8 230.8A41.0 41.0 0 0 0 275.1 231.6Z" fill="#6aa6d6"/>
<path d="M263.8 235.5A53.0 53.0 0 0 1 263.3 234.3L274.4 229.9A41.0 41.0 0 0 0 274.8 230.8Z" fill="#a2cae8"/>
<path d="M263.3 234.3A53.0 53.0 0 0 1 262.8 233.2L274.1 229.0A41.0 41.0 0 0 0 274.4 229.9Z" fill="#bcd8ee"/>
<path d="M262.8 233.2A53.0 53.0 0 0 1 262.5 232.4L273.9 228.4A41.0 41.0 0 0 0 274.1 229.0Z" fill="#b0d2ec"/>
<path d="M262.5 232.4A53.0 53.0 0 0 1 262.3 231.8L273.7 227.9A41.0 41.0 0 0 0 273.9 228.4Z" fill="#d6e8f5"/>
<path d="M262.3 231.8A53.0 53.0 0 0 1 261.8 230.3L273.3 226.8A41.0 41.0 0 0 0 273.7 227.9Z" fill="#bcd8ee"/>
<path d="M261.8 230.3A53.0 53.0 0 0 1 261.6 229.3L273.1 226.0A41.0 41.0 0 0 0 273.3 226.8Z" fill="#4e94cc"/>
<path d="M261.6 229.3A53.0 53.0 0 0 1 261.1 227.7L272.8 224.8A41.0 41.0 0 0 0 273.1 226.0Z" fill="#bcd8ee"/>
<path d="M261.1 227.7A53.0 53.0 0 0 1 260.9 227.0L272.6 224.2A41.0 41.0 0 0 0 272.8 224.8Z" fill="#6aa6d6"/>
<path d="M260.9 227.0A53.0 53.0 0 0 1 260.7 226.0L272.4 223.4A41.0 41.0 0 0 0 272.6 224.2Z" fill="#5a9ccf"/>
<path d="M260.7 226.0A53.0 53.0 0 0 1 260.4 224.4L272.2 222.2A41.0 41.0 0 0 0 272.4 223.4Z" fill="#5a9ccf"/>
<path d="M260.4 224.4A53.0 53.0 0 0 1 260.2 223.4L272.1 221.5A41.0 41.0 0 0 0 272.2 222.2Z" fill="#b0d2ec"/>
<path d="M260.2 223.4A53.0 53.0 0 0 1 260.1 222.3L271.9 220.6A41.0 41.0 0 0 0 272.1 221.5Z" fill="#6aa6d6"/>
<path d="M260.1 222.3A53.0 53.0 0 0 1 259.9 221.4L271.8 219.8A41.0 41.0 0 0 0 271.9 220.6Z" fill="#8cbee2"/>
<path d="M259.9 221.4A53.0 53.0 0 0 1 259.8 220.6L271.8 219.3A41.0 41.0 0 0 0 271.8 219.8Z" fill="#5a9ccf"/>
<path d="M259.8 220.6A53.0 53.0 0 0 1 259.7 219.4L271.7 218.4A41.0 41.0 0 0 0 271.8 219.3Z" fill="#5a9ccf"/>
<path d="M259.7 219.4A53.0 53.0 0 0 1 259.7 218.8L271.6 217.8A41.0 41.0 0 0 0 271.7 218.4Z" fill="#7ab2dc"/>
<path d="M259.7 218.8A53.0 53.0 0 0 1 259.6 217.9L271.6 217.2A41.0 41.0 0 0 0 271.6 217.8Z" fill="#d6e8f5"/>
<path d="M259.6 217.9A53.0 53.0 0 0 1 259.6 217.4L271.6 216.8A41.0 41.0 0 0 0 271.6 217.2Z" fill="#a2cae8"/>
<path d="M259.6 217.4A53.0 53.0 0 0 1 259.5 215.9L271.5 215.6A41.0 41.0 0 0 0 271.6 216.8Z" fill="#4e94cc"/>
<path d="M259.5 215.9A53.0 53.0 0 0 1 259.5 215.1L271.5 215.0A41.0 41.0 0 0 0 271.5 215.6Z" fill="#bcd8ee"/>
<path d="M259.5 215.1A53.0 53.0 0 0 1 259.5 214.0L271.5 214.2A41.0 41.0 0 0 0 271.5 215.0Z" fill="#b0d2ec"/>
<path d="M259.5 214.0A53.0 53.0 0 0 1 259.5 212.8L271.5 213.2A41.0 41.0 0 0 0 271.5 214.2Z" fill="#a2cae8"/>
<path d="M259.5 212.8A53.0 53.0 0 0 1 259.6 211.8L271.6 212.4A41.0 41.0 0 0 0 271.5 213.2Z" fill="#bcd8ee"/>
<path d="M259.6 211.8A53.0 53.0 0 0 1 259.7 210.2L271.6 211.2A41.0 41.0 0 0 0 271.6 212.4Z" fill="#5a9ccf"/>
<path d="M259.7 210.2A53.0 53.0 0 0 1 259.8 209.0L271.7 210.3A41.0 41.0 0 0 0 271.6 211.2Z" fill="#bcd8ee"/>
<path d="M259.8 209.0A53.0 53.0 0 0 1 259.9 208.2L271.8 209.7A41.0 41.0 0 0 0 271.7 210.3Z" fill="#bcd8ee"/>
<path d="M259.9 208.2A53.0 53.0 0 0 1 260.1 206.6L272.0 208.4A41.0 41.0 0 0 0 271.8 209.7Z" fill="#8cbee2"/>
<path d="M260.1 206.6A53.0 53.0 0 0 1 260.2 206.1L272.0 208.0A41.0 41.0 0 0 0 272.0 208.4Z" fill="#5a9ccf"/>
<path d="M260.2 206.1A53.0 53.0 0 0 1 260.5 204.6L272.3 206.9A41.0 41.0 0 0 0 272.0 208.0Z" fill="#7ab2dc"/>
<path d="M260.5 204.6A53.0 53.0 0 0 1 260.6 204.0L272.3 206.5A41.0 41.0 0 0 0 272.3 206.9Z" fill="#a2cae8"/>
<path d="M260.6 204.0A53.0 53.0 0 0 1 260.8 203.0L272.5 205.6A41.0 41.0 0 0 0 272.3 206.5Z" fill="#4e94cc"/>
<path d="M260.8 203.0A53.0 53.0 0 0 1 261.1 201.7L272.8 204.7A41.0 41.0 0 0 0 272.5 205.6Z" fill="#bcd8ee"/>
<path d="M261.1 201.7A53.0 53.0 0 0 1 261.4 200.6L273.0 203.8A41.0 41.0 0 0 0 272.8 204.7Z" fill="#b0d2ec"/>
<path d="M261.4 200.6A53.0 53.0 0 0 1 261.7 199.5L273.2 203.0A41.0 41.0 0 0 0 273.0 203.8Z" fill="#b0d2ec"/>
<path d="M261.7 199.5A53.0 53.0 0 0 1 262.2 198.1L273.6 201.9A41.0 41.0 0 0 0 273.2 203.0Z" fill="#d6e8f5"/>
<path d="M262.2 198.1A53.0 53.0 0 0 1 262.6 196.9L273.9 200.9A41.0 41.0 0 0 0 273.6 201.9Z" fill="#4e94cc"/>
<path d="M262.6 196.9A53.0 53.0 0 0 1 263.0 195.9L274.2 200.1A41.0 41.0 0 0 0 273.9 200.9Z" fill="#7ab2dc"/>
<path d="M263.0 195.9A53.0 53.0 0 0 1 263.2 195.2L274.4 199.6A41.0 41.0 0 0 0 274.2 200.1Z" fill="#7ab2dc"/>
<path d="M263.2 195.2A53.0 53.0 0 0 1 263.4 194.6L274.5 199.2A41.0 41.0 0 0 0 274.4 199.6Z" fill="#6aa6d6"/>
<path d="M263.4 194.6A53.0 53.0 0 0 1 263.6 194.3L274.7 198.9A41.0 41.0 0 0 0 274.5 199.2Z" fill="#6aa6d6"/>
<path d="M263.6 194.3A53.0 53.0 0 0 1 263.9 193.6L274.9 198.4A41.0 41.0 0 0 0 274.7 198.9Z" fill="#d6e8f5"/>
<path d="M263.9 193.6A53.0 53.0 0 0 1 264.3 192.7L275.2 197.7A41.0 41.0 0 0 0 274.9 198.4Z" fill="#a2cae8"/>
<path d="M264.3 192.7A53.0 53.0 0 0 1 264.6 192.1L275.4 197.2A41.0 41.0 0 0 0 275.2 197.7Z" fill="#4e94cc"/>
<path d="M264.6 192.1A53.0 53.0 0 0 1 265.2 190.7L275.9 196.2A41.0 41.0 0 0 0 275.4 197.2Z" fill="#d6e8f5"/>
<path d="M265.2 190.7A53.0 53.0 0 0 1 265.7 189.9L276.3 195.5A41.0 41.0 0 0 0 275.9 196.2Z" fill="#5a9ccf"/>
<path d="M265.7 189.9A53.0 53.0 0 0 1 266.2 188.9L276.7 194.8A41.0 41.0 0 0 0 276.3 195.5Z" fill="#4e94cc"/>
<path d="M266.2 188.9A53.0 53.0 0 0 1 266.9 187.7L277.2 193.8A41.0 41.0 0 0 0 276.7 194.8Z" fill="#b0d2ec"/>
<path d="M266.9 187.7A53.0 53.0 0 0 1 267.4 186.9L277.6 193.2A41.0 41.0 0 0 0 277.2 193.8Z" fill="#bcd8ee"/>
<path d="M267.4 186.9A53.0 53.0 0 0 1 268.2 185.6L278.2 192.2A41.0 41.0 0 0 0 277.6 193.2Z" fill="#bcd8ee"/>
<path d="M268.2 185.6A53.0 53.0 0 0 1 268.9 184.5L278.8 191.3A41.0 41.0 0 0 0 278.2 192.2Z" fill="#bcd8ee"/>
<path d="M268.9 184.5A53.0 53.0 0 0 1 269.4 183.8L279.2 190.8A41.0 41.0 0 0 0 278.8 191.3Z" fill="#5a9ccf"/>
<path d="M269.4 183.8A53.0 53.0 0 0 1 270.3 182.7L279.8 189.9A41.0 41.0 0 0 0 279.2 190.8Z" fill="#6aa6d6"/>
<path d="M270.3 182.7A53.0 53.0 0 0 1 270.6 182.3L280.1 189.6A41.0 41.0 0 0 0 279.8 189.9Z" fill="#bcd8ee"/>
<path d="M270.6 182.3A53.0 53.0 0 0 1 271.0 181.7L280.4 189.2A41.0 41.0 0 0 0 280.1 189.6Z" fill="#bcd8ee"/>
<path d="M271.0 181.7A53.0 53.0 0 0 1 271.8 180.7L281.0 188.4A41.0 41.0 0 0 0 280.4 189.2Z" fill="#bcd8ee"/>
<path d="M271.8 180.7A53.0 53.0 0 0 1 272.3 180.2L281.4 188.0A41.0 41.0 0 0 0 281.0 188.4Z" fill="#5a9ccf"/>
<path d="M272.3 180.2A53.0 53.0 0 0 1 272.8 179.6L281.8 187.5A41.0 41.0 0 0 0 281.4 188.0Z" fill="#4e94cc"/>
<path d="M272.8 179.6A53.0 53.0 0 0 1 273.1 179.3L282.0 187.3A41.0 41.0 0 0 0 281.8 187.5Z" fill="#5a9ccf"/>
<path d="M273.1 179.3A53.0 53.0 0 0 1 274.0 178.2L282.7 186.5A41.0 41.0 0 0 0 282.0 187.3Z" fill="#8cbee2"/>
<path d="M274.0 178.2A53.0 53.0 0 0 1 274.9 177.3L283.4 185.8A41.0 41.0 0 0 0 282.7 186.5Z" fill="#bcd8ee"/>
<path d="M274.9 177.3A53.0 53.0 0 0 1 275.9 176.4L284.2 185.0A41.0 41.0 0 0 0 283.4 185.8Z" fill="#d6e8f5"/>
<path d="M275.9 176.4A53.0 53.0 0 0 1 276.7 175.7L284.8 184.5A41.0 41.0 0 0 0 284.2 185.0Z" fill="#7ab2dc"/>
<path d="M276.7 175.7A53.0 53.0 0 0 1 277.2 175.2L285.2 184.1A41.0 41.0 0 0 0 284.8 184.5Z" fill="#4e94cc"/>
<path d="M277.2 175.2A53.0 53.0 0 0 1 277.8 174.6L285.6 183.7A41.0 41.0 0 0 0 285.2 184.1Z" fill="#a2cae8"/>
<path d="M277.8 174.6A53.0 53.0 0 0 1 278.9 173.7L286.5 183.0A41.0 41.0 0 0 0 285.6 183.7Z" fill="#bcd8ee"/>
<path d="M278.9 173.7A53.0 53.0 0 0 1 279.8 173.0L287.2 182.5A41.0 41.0 0 0 0 286.5 183.0Z" fill="#7ab2dc"/>
<path d="M279.8 173.0A53.0 53.0 0 0 1 280.6 172.4L287.8 181.9A41.0 41.0 0 0 0 287.2 182.5Z" fill="#7ab2dc"/>
<path d="M280.6 172.4A53.0 53.0 0 0 1 281.4 171.8L288.5 181.5A41.0 41.0 0 0 0 287.8 181.9Z" fill="#4e94cc"/>
<path d="M281.4 171.8A53.0 53.0 0 0 1 282.2 171.2L289.0 181.1A41.0 41.0 0 0 0 288.5 181.5Z" fill="#6aa6d6"/>
<path d="M282.2 171.2A53.0 53.0 0 0 1 283.2 170.6L289.8 180.6A41.0 41.0 0 0 0 289.0 181.1Z" fill="#4e94cc"/>
<path d="M283.2 170.6A53.0 53.0 0 0 1 284.1 170.0L290.5 180.1A41.0 41.0 0 0 0 289.8 180.6Z" fill="#4e94cc"/>
<path d="M284.1 170.0A53.0 53.0 0 0 1 285.1 169.3L291.3 179.6A41.0 41.0 0 0 0 290.5 180.1Z" fill="#6aa6d6"/>
<path d="M285.1 169.3A53.0 53.0 0 0 1 286.0 168.8L292.0 179.2A41.0 41.0 0 0 0 291.3 179.6Z" fill="#7ab2dc"/>
<path d="M286.0 168.8A53.0 53.0 0 0 1 286.6 168.5L292.5 178.9A41.0 41.0 0 0 0 292.0 179.2Z" fill="#6aa6d6"/>
<path d="M286.6 168.5A53.0 53.0 0 0 1 287.8 167.8L293.4 178.4A41.0 41.0 0 0 0 292.5 178.9Z" fill="#8cbee2"/>
<path d="M287.8 167.8A53.0 53.0 0 0 1 289.0 167.2L294.4 177.9A41.0 41.0 0 0 0 293.4 178.4Z" fill="#7ab2dc"/>
<path d="M289.0 167.2A53.0 53.0 0 0 1 290.3 166.6L295.3 177.5A41.0 41.0 0 0 0 294.4 177.9Z" fill="#8cbee2"/>
<path d="M290.3 166.6A53.0 53.0 0 0 1 291.7 166.0L296.4 177.0A41.0 41.0 0 0 0 295.3 177.5Z" fill="#7ab2dc"/>
<path d="M291.7 166.0A53.0 53.0 0 0 1 292.5 165.6L297.0 176.7A41.0 41.0 0 0 0 296.4 177.0Z" fill="#8cbee2"/>
<path d="M292.5 165.6A53.0 53.0 0 0 1 293.5 165.2L297.8 176.4A41.0 41.0 0 0 0 297.0 176.7Z" fill="#6aa6d6"/>
<path d="M293.5 165.2A53.0 53.0 0 0 1 293.9 165.1L298.1 176.3A41.0 41.0 0 0 0 297.8 176.4Z" fill="#4e94cc"/>
<path d="M293.9 165.1A53.0 53.0 0 0 1 294.5 164.8L298.6 176.1A41.0 41.0 0 0 0 298.1 176.3Z" fill="#d6e8f5"/>
<path d="M294.5 164.8A53.0 53.0 0 0 1 295.5 164.5L299.4 175.9A41.0 41.0 0 0 0 298.6 176.1Z" fill="#5a9ccf"/>
<path d="M295.5 164.5A53.0 53.0 0 0 1 297.1 164.0L300.6 175.5A41.0 41.0 0 0 0 299.4 175.9Z" fill="#5a9ccf"/>
<path d="M297.1 164.0A53.0 53.0 0 0 1 298.3 163.6L301.5 175.2A41.0 41.0 0 0 0 300.6 175.5Z" fill="#5a9ccf"/>
<path d="M298.3 163.6A53.0 53.0 0 0 1 299.6 163.3L302.5 174.9A41.0 41.0 0 0 0 301.5 175.2Z" fill="#5a9ccf"/>
<path d="M299.6 163.3A53.0 53.0 0 0 1 300.7 163.0L303.4 174.7A41.0 41.0 0 0 0 302.5 174.9Z" fill="#4e94cc"/>
<path d="M300.7 163.0A53.0 53.0 0 0 1 301.4 162.9L303.9 174.6A41.0 41.0 0 0 0 303.4 174.7Z" fill="#7ab2dc"/>
<path d="M301.4 162.9A53.0 53.0 0 0 1 302.7 162.6L305.0 174.4A41.0 41.0 0 0 0 303.9 174.6Z" fill="#4e94cc"/>
<path d="M302.7 162.6A53.0 53.0 0 0 1 304.3 162.3L306.2 174.2A41.0 41.0 0 0 0 305.0 174.4Z" fill="#a2cae8"/>
<path d="M304.3 162.3A53.0 53.0 0 0 1 305.6 162.2L307.1 174.1A41.0 41.0 0 0 0 306.2 174.2Z" fill="#7ab2dc"/>
<path d="M305.6 162.2A53.0 53.0 0 0 1 307.0 162.0L308.2 173.9A41.0 41.0 0 0 0 307.1 174.1Z" fill="#d6e8f5"/>
<path d="M307.0 162.0A53.0 53.0 0 0 1 307.5 161.9L308.6 173.9A41.0 41.0 0 0 0 308.2 173.9Z" fill="#8cbee2"/>
</g>
<circle cx="312.5" cy="215.7" r="6" fill="#f08a40" opacity="0.85"/>
<g id="ring7" fill="none" stroke="#f08034" stroke-linecap="butt">
<path d="M296.8 179.8Q310.5 215.2 316.0 252.8" stroke-width="0.62" opacity="1.00"/>
<path d="M346.8 197.6Q312.6 214.8 281.0 236.5" stroke-width="0.49" opacity="0.82"/>
<path d="M303.7 252.0Q312.7 215.3 342.8 238.2" stroke-width="0.42" opacity="0.84"/>
<path d="M349.6 224.3Q313.3 215.3 332.7 247.3" stroke-width="0.41" opacity="0.95"/>
<path d="M274.4 211.1Q312.4 214.9 346.2 233.0" stroke-width="0.63" opacity="0.86"/>
<path d="M287.0 186.1Q312.5 214.0 338.1 186.2" stroke-width="0.47" opacity="0.84"/>
<path d="M350.6 218.2Q312.9 215.6 286.8 243.1" stroke-width="0.59" opacity="0.78"/>
<path d="M340.8 240.5Q314.3 214.9 346.2 196.6" stroke-width="0.66" opacity="0.86"/>
<path d="M287.0 186.1Q310.1 214.8 288.2 244.3" stroke-width="0.65" opacity="0.83"/>
<path d="M346.0 196.2Q313.8 215.3 320.6 252.1" stroke-width="0.73" opacity="0.83"/>
<path d="M280.2 235.3Q312.1 216.1 326.7 250.3" stroke-width="0.70" opacity="0.80"/>
<path d="M285.2 241.6Q314.9 218.0 346.2 196.5" stroke-width="0.67" opacity="0.95"/>
<path d="M341.8 190.0Q313.1 214.8 334.2 246.3" stroke-width="0.54" opacity="0.76"/>
<path d="M275.8 225.5Q311.8 213.5 339.5 187.5" stroke-width="0.41" opacity="0.92"/>
<path d="M348.0 229.2Q314.0 212.3 284.0 189.1" stroke-width="0.59" opacity="0.88"/>
<path d="M323.6 251.4Q312.4 214.8 290.5 183.4" stroke-width="0.69" opacity="0.92"/>
<path d="M301.8 177.9Q311.6 214.8 309.5 252.9" stroke-width="0.46" opacity="0.83"/>
<path d="M274.8 221.2Q312.5 214.9 350.4 220.3" stroke-width="0.58" opacity="0.77"/>
<path d="M340.9 240.4Q313.3 215.0 350.8 213.8" stroke-width="0.53" opacity="0.87"/>
<path d="M350.7 212.1Q313.0 217.0 276.6 227.9" stroke-width="0.57" opacity="0.98"/>
<path d="M290.5 246.0Q313.8 217.4 350.8 216.3" stroke-width="0.71" opacity="0.99"/>
<path d="M282.5 238.5Q311.3 214.7 282.6 190.7" stroke-width="0.48" opacity="0.91"/>
<path d="M340.8 188.9Q313.2 214.6 344.7 235.4" stroke-width="0.52" opacity="0.83"/>
<path d="M294.8 248.7Q313.5 216.5 350.7 217.6" stroke-width="0.53" opacity="0.79"/>
<path d="M318.7 252.5Q313.3 215.4 350.6 210.9" stroke-width="0.47" opacity="0.91"/>
<path d="M274.8 221.5Q312.5 214.8 346.1 233.2" stroke-width="0.56" opacity="0.93"/>
<path d="M290.3 183.5Q316.1 212.1 336.0 245.0" stroke-width="0.54" opacity="0.90"/>
<path d="M349.7 205.4Q312.7 214.8 316.6 252.8" stroke-width="0.63" opacity="0.79"/>
<path d="M339.7 187.7Q314.5 215.5 314.1 253.0" stroke-width="0.41" opacity="0.84"/>
<path d="M285.1 241.4Q312.1 214.3 334.4 183.3" stroke-width="0.75" opacity="0.89"/>
<path d="M307.1 252.6Q313.5 215.0 329.8 180.5" stroke-width="0.53" opacity="0.88"/>
<path d="M275.5 204.7Q311.9 214.1 298.8 178.9" stroke-width="0.43" opacity="0.98"/>
<path d="M280.4 235.6Q311.8 214.6 285.0 188.0" stroke-width="0.65" opacity="0.92"/>
<path d="M274.2 216.4Q312.3 214.1 347.6 199.3" stroke-width="0.56" opacity="0.94"/>
<path d="M324.6 251.0Q310.2 216.0 288.6 184.8" stroke-width="0.75" opacity="1.00"/>
<path d="M279.3 195.6Q311.3 215.0 290.6 246.1" stroke-width="0.70" opacity="0.86"/>
<path d="M274.4 211.0Q312.1 212.3 347.2 198.5" stroke-width="0.46" opacity="0.88"/>
<path d="M311.6 253.0Q312.8 215.3 345.9 233.4" stroke-width="0.55" opacity="0.78"/>
<path d="M331.9 181.7Q312.4 214.7 286.2 242.5" stroke-width="0.43" opacity="0.88"/>
<path d="M288.8 184.6Q313.1 214.1 344.5 235.7" stroke-width="0.70" opacity="0.99"/>
<path d="M281.0 236.5Q312.5 215.1 348.1 228.9" stroke-width="0.49" opacity="0.76"/>
<path d="M322.0 251.8Q313.4 214.8 332.0 181.8" stroke-width="0.72" opacity="0.80"/>
<path d="M342.9 191.4Q312.4 214.5 281.3 236.9" stroke-width="0.55" opacity="0.88"/>
<path d="M278.8 232.8Q312.1 215.2 309.7 252.9" stroke-width="0.51" opacity="1.00"/>
<path d="M339.7 241.7Q313.6 215.0 349.1 203.3" stroke-width="0.46" opacity="0.83"/>
<path d="M327.1 250.1Q311.6 215.3 286.8 186.3" stroke-width="0.68" opacity="0.82"/>
<path d="M339.8 187.9Q310.5 211.9 278.2 231.7" stroke-width="0.41" opacity="0.82"/>
<path d="M297.1 249.8Q313.2 216.2 348.7 227.2" stroke-width="0.47" opacity="0.80"/>
<path d="M303.8 252.0Q312.6 214.7 330.0 180.6" stroke-width="0.55" opacity="0.91"/>
<path d="M346.2 196.5Q312.3 213.6 274.7 208.4" stroke-width="0.41" opacity="0.98"/>
<path d="M323.6 251.4Q311.2 216.1 275.1 206.5" stroke-width="0.62" opacity="0.76"/>
<path d="M349.6 205.0Q312.5 214.7 288.7 184.7" stroke-width="0.45" opacity="0.93"/>
<path d="M350.3 208.8Q313.8 215.5 324.7 251.0" stroke-width="0.56" opacity="0.78"/>
<path d="M275.8 225.6Q312.5 215.3 350.4 219.9" stroke-width="0.47" opacity="0.75"/>
<path d="M325.1 250.9Q315.2 215.4 341.9 190.2" stroke-width="0.71" opacity="1.00"/>
<path d="M300.2 251.0Q314.9 216.4 342.9 191.4" stroke-width="0.67" opacity="0.80"/>
<path d="M287.4 185.8Q309.5 215.4 302.6 251.7" stroke-width="0.44" opacity="0.95"/>
<path d="M320.9 252.1Q313.0 215.1 350.7 217.8" stroke-width="0.71" opacity="0.97"/>
<path d="M350.7 217.6Q312.3 218.5 274.2 214.2" stroke-width="0.72" opacity="0.93"/>
<path d="M350.7 211.7Q312.8 214.1 290.7 183.2" stroke-width="0.64" opacity="0.90"/>
<path d="M307.2 176.8Q315.2 212.9 344.9 235.2" stroke-width="0.65" opacity="0.91"/>
<path d="M290.5 246.0Q312.8 215.7 349.5 224.7" stroke-width="0.49" opacity="0.98"/>
<path d="M313.9 253.0Q312.5 214.7 283.7 189.5" stroke-width="0.68" opacity="0.83"/>
<path d="M347.2 231.0Q311.8 217.2 274.4 210.9" stroke-width="0.70" opacity="0.89"/>
<path d="M340.7 188.8Q314.6 215.0 333.0 247.1" stroke-width="0.48" opacity="0.76"/>
<path d="M324.5 251.1Q316.3 213.5 301.9 177.9" stroke-width="0.54" opacity="0.80"/>
<path d="M318.3 252.6Q310.1 215.4 296.8 179.8" stroke-width="0.70" opacity="0.98"/>
<path d="M292.9 247.6Q312.0 214.6 305.8 177.0" stroke-width="0.46" opacity="0.82"/>
<path d="M296.7 179.8Q312.5 214.6 349.6 205.4" stroke-width="0.59" opacity="0.87"/>
<path d="M279.0 196.1Q312.3 215.0 344.7 235.4" stroke-width="0.46" opacity="0.93"/>
<path d="M343.8 236.8Q312.6 215.3 293.1 247.7" stroke-width="0.44" opacity="0.88"/>
<path d="M295.3 248.9Q314.3 216.3 345.0 194.4" stroke-width="0.71" opacity="0.89"/>
<path d="M309.1 252.8Q312.2 215.1 276.5 227.7" stroke-width="0.66" opacity="0.87"/>
<path d="M292.7 247.5Q312.9 216.2 345.9 233.5" stroke-width="0.56" opacity="0.91"/>
<path d="M279.0 233.2Q312.5 214.7 280.3 194.0" stroke-width="0.49" opacity="0.78"/>
<path d="M339.5 187.5Q315.6 216.9 295.1 248.8" stroke-width="0.44" opacity="0.90"/>
<path d="M296.7 179.8Q313.1 214.3 340.8 240.5" stroke-width="0.58" opacity="0.78"/>
<path d="M282.8 190.6Q310.3 215.5 306.2 252.5" stroke-width="0.73" opacity="0.78"/>
<path d="M342.0 190.3Q314.0 214.9 336.4 244.6" stroke-width="0.44" opacity="0.95"/>
<path d="M297.4 249.9Q311.1 214.1 326.1 178.9" stroke-width="0.67" opacity="0.85"/>
<path d="M294.2 181.1Q312.0 214.7 289.4 245.3" stroke-width="0.69" opacity="0.80"/>
<path d="M290.6 246.1Q312.8 216.6 342.5 238.5" stroke-width="0.51" opacity="0.75"/>
<path d="M316.8 252.8Q315.5 215.8 339.4 187.4" stroke-width="0.73" opacity="0.90"/>
<path d="M276.4 201.9Q312.2 213.1 340.4 188.5" stroke-width="0.58" opacity="0.97"/>
<path d="M348.9 226.6Q312.5 215.6 275.1 222.8" stroke-width="0.73" opacity="0.82"/>
<path d="M281.2 192.7Q312.4 214.7 280.4 235.5" stroke-width="0.50" opacity="0.85"/>
<path d="M279.1 233.5Q312.2 214.6 294.6 180.8" stroke-width="0.72" opacity="0.99"/>
<path d="M349.6 224.3Q313.2 215.2 332.7 247.2" stroke-width="0.58" opacity="0.89"/>
<path d="M350.8 215.9Q313.4 215.6 313.7 253.0" stroke-width="0.47" opacity="0.83"/>
<path d="M274.7 208.6Q312.4 214.8 323.7 251.3" stroke-width="0.57" opacity="0.98"/>
<path d="M274.4 211.3Q311.7 215.1 295.3 248.9" stroke-width="0.63" opacity="0.83"/>
<path d="M320.5 252.2Q312.1 215.1 275.0 206.8" stroke-width="0.74" opacity="1.00"/>
<path d="M338.4 242.9Q312.9 215.8 309.6 252.9" stroke-width="0.43" opacity="0.87"/>
<path d="M311.2 253.0Q312.0 215.1 275.9 203.6" stroke-width="0.54" opacity="0.97"/>
<path d="M275.8 203.8Q311.9 212.2 339.7 187.7" stroke-width="0.59" opacity="0.93"/>
<path d="M274.2 213.7Q312.0 215.6 333.0 247.1" stroke-width="0.55" opacity="0.90"/>
<path d="M294.4 181.0Q313.9 212.5 350.8 216.0" stroke-width="0.58" opacity="0.93"/>
<path d="M299.0 178.8Q312.4 214.6 274.4 211.1" stroke-width="0.40" opacity="0.78"/>
<path d="M348.9 226.7Q312.6 214.8 320.7 252.1" stroke-width="0.57" opacity="0.82"/>
<path d="M278.2 231.7Q313.0 215.9 349.1 203.3" stroke-width="0.73" opacity="0.78"/>
<path d="M347.3 230.7Q314.2 213.5 308.3 176.6" stroke-width="0.68" opacity="1.00"/>
<path d="M349.7 224.0Q312.6 214.8 322.1 251.8" stroke-width="0.67" opacity="0.85"/>
<path d="M274.2 212.9Q312.4 211.9 350.5 210.1" stroke-width="0.63" opacity="0.91"/>
<path d="M338.2 186.3Q312.1 214.2 278.9 233.1" stroke-width="0.69" opacity="0.94"/>
<path d="M336.6 244.5Q312.4 216.1 286.2 242.6" stroke-width="0.73" opacity="0.89"/>
<path d="M286.1 242.5Q312.6 214.8 346.6 197.3" stroke-width="0.52" opacity="0.98"/>
<path d="M274.2 214.1Q312.3 215.8 348.7 227.1" stroke-width="0.68" opacity="0.89"/>
<path d="M344.8 235.2Q314.1 214.7 345.1 194.6" stroke-width="0.40" opacity="0.88"/>
<path d="M344.9 235.0Q312.6 215.2 293.1 247.7" stroke-width="0.62" opacity="0.79"/>
<path d="M277.5 230.2Q312.4 217.1 345.9 233.4" stroke-width="0.60" opacity="0.89"/>
<path d="M344.6 235.6Q312.5 216.3 280.4 235.6" stroke-width="0.47" opacity="0.99"/>
<path d="M333.2 182.5Q316.1 216.6 297.6 250.0" stroke-width="0.56" opacity="0.97"/>
<path d="M287.3 185.8Q311.7 214.9 307.6 252.7" stroke-width="0.71" opacity="1.00"/>
<path d="M333.3 182.5Q312.4 214.6 281.3 236.9" stroke-width="0.54" opacity="0.86"/>
<path d="M275.6 204.3Q312.9 213.1 350.0 222.7" stroke-width="0.50" opacity="0.91"/>
<path d="M342.9 238.0Q311.4 217.0 275.4 205.1" stroke-width="0.64" opacity="0.96"/>
<path d="M280.5 235.7Q310.6 214.3 292.4 182.1" stroke-width="0.52" opacity="0.92"/>
<path d="M280.0 235.0Q312.4 214.7 299.2 178.8" stroke-width="0.42" opacity="0.82"/>
<path d="M294.8 248.7Q309.6 214.4 303.3 177.5" stroke-width="0.53" opacity="0.94"/>
<path d="M274.3 217.0Q311.4 215.9 314.4 253.0" stroke-width="0.47" opacity="0.90"/>
<path d="M350.0 222.4Q312.5 216.4 275.0 222.3" stroke-width="0.73" opacity="0.83"/>
<path d="M274.3 212.7Q311.4 218.1 344.5 235.7" stroke-width="0.54" opacity="0.99"/>
<path d="M342.7 191.2Q311.0 212.4 278.5 232.3" stroke-width="0.64" opacity="0.87"/>
<path d="M350.6 218.3Q313.3 218.3 279.1 233.4" stroke-width="0.44" opacity="0.91"/>
<path d="M299.5 250.7Q312.2 214.8 278.0 198.1" stroke-width="0.57" opacity="0.79"/>
<path d="M338.3 186.4Q312.5 212.9 287.1 186.0" stroke-width="0.73" opacity="0.92"/>
<path d="M283.9 189.2Q311.1 214.6 282.1 238.0" stroke-width="0.72" opacity="0.95"/>
<path d="M285.0 188.0Q312.5 214.5 337.2 185.4" stroke-width="0.72" opacity="0.95"/>
<path d="M289.4 245.2Q312.5 214.7 289.0 184.5" stroke-width="0.72" opacity="0.80"/>
<path d="M350.7 212.5Q313.6 215.3 330.8 248.4" stroke-width="0.50" opacity="0.79"/>
<path d="M330.9 248.3Q312.3 216.4 288.3 244.4" stroke-width="0.57" opacity="0.86"/>
<path d="M286.5 242.8Q312.8 215.1 346.3 196.6" stroke-width="0.41" opacity="0.94"/>
<path d="M290.5 246.1Q312.7 215.5 344.9 235.1" stroke-width="0.60" opacity="0.92"/>
<path d="M282.2 238.2Q312.1 215.7 320.8 252.1" stroke-width="0.49" opacity="0.99"/>
<path d="M283.9 189.3Q310.8 214.6 280.2 235.3" stroke-width="0.51" opacity="0.77"/>
<path d="M342.1 190.4Q312.5 214.6 275.5 204.8" stroke-width="0.51" opacity="0.98"/>
<path d="M292.4 182.1Q312.4 214.7 289.3 245.2" stroke-width="0.46" opacity="1.00"/>
<path d="M350.7 217.9Q313.2 217.3 280.9 236.3" stroke-width="0.52" opacity="1.00"/>
<path d="M343.5 237.2Q312.9 214.8 349.1 203.3" stroke-width="0.52" opacity="0.75"/>
<path d="M314.3 253.0Q312.2 214.7 302.0 177.9" stroke-width="0.49" opacity="0.84"/>
<path d="M297.0 179.7Q313.2 212.8 346.6 197.3" stroke-width="0.53" opacity="0.98"/>
<path d="M321.7 251.9Q313.2 215.6 348.0 229.1" stroke-width="0.42" opacity="0.94"/>
<path d="M302.9 177.6Q313.1 214.2 347.3 230.6" stroke-width="0.62" opacity="0.87"/>
<path d="M340.8 188.9Q314.1 215.6 304.3 252.1" stroke-width="0.48" opacity="0.94"/>
<path d="M350.0 222.3Q314.2 211.4 283.9 189.2" stroke-width="0.49" opacity="0.76"/>
<path d="M333.9 246.5Q316.3 212.4 294.0 181.1" stroke-width="0.59" opacity="0.93"/>
<path d="M305.7 177.0Q313.0 214.4 344.7 235.5" stroke-width="0.60" opacity="0.94"/>
<path d="M309.6 252.9Q313.6 215.9 350.8 213.0" stroke-width="0.47" opacity="0.89"/>
<path d="M300.1 250.9Q316.0 216.7 337.0 185.2" stroke-width="0.41" opacity="0.89"/>
<path d="M275.0 206.9Q311.7 216.8 345.9 233.5" stroke-width="0.60" opacity="0.87"/>
<path d="M277.3 199.6Q312.0 215.0 305.7 252.4" stroke-width="0.52" opacity="0.90"/>
<path d="M344.5 235.7Q314.1 213.1 290.6 183.3" stroke-width="0.66" opacity="0.75"/>
<path d="M305.9 252.4Q310.6 215.2 287.3 185.9" stroke-width="0.64" opacity="0.76"/>
<path d="M350.1 222.0Q314.1 211.5 283.5 189.6" stroke-width="0.65" opacity="0.86"/>
<path d="M282.0 237.9Q312.2 216.2 333.9 246.5" stroke-width="0.58" opacity="0.84"/>
<path d="M290.7 246.2Q312.0 215.0 274.2 214.6" stroke-width="0.40" opacity="0.97"/>
<path d="M281.2 192.7Q311.0 214.6 278.4 232.1" stroke-width="0.58" opacity="1.00"/>
<path d="M349.5 224.4Q313.6 215.9 319.0 252.4" stroke-width="0.53" opacity="0.82"/>
<path d="M320.2 252.2Q309.5 216.0 290.2 183.6" stroke-width="0.70" opacity="0.77"/>
<path d="M349.0 226.3Q313.3 213.8 298.6 179.0" stroke-width="0.52" opacity="0.99"/>
<path d="M332.7 247.2Q310.0 217.1 281.1 192.7" stroke-width="0.66" opacity="0.99"/>
<path d="M314.0 253.0Q313.8 215.4 345.0 194.5" stroke-width="0.52" opacity="0.98"/>
<path d="M346.1 233.0Q312.8 215.2 314.1 253.0" stroke-width="0.56" opacity="0.77"/>
<path d="M288.1 244.2Q309.1 212.6 328.6 180.0" stroke-width="0.40" opacity="0.90"/>
<path d="M292.4 182.1Q312.2 214.6 276.5 227.9" stroke-width="0.66" opacity="1.00"/>
<path d="M349.9 206.5Q312.5 214.7 332.9 247.1" stroke-width="0.50" opacity="0.85"/>
<path d="M348.1 228.8Q313.0 215.3 318.5 252.5" stroke-width="0.64" opacity="0.89"/>
<path d="M341.2 240.1Q311.0 216.9 279.0 196.1" stroke-width="0.52" opacity="0.90"/>
<path d="M274.3 217.1Q312.5 214.7 350.6 210.8" stroke-width="0.54" opacity="0.78"/>
<path d="M339.8 241.6Q313.8 215.1 349.6 205.4" stroke-width="0.62" opacity="0.88"/>
<path d="M274.7 208.8Q310.9 215.8 304.3 252.1" stroke-width="0.41" opacity="0.90"/>
<path d="M280.4 235.7Q312.2 215.4 322.0 251.8" stroke-width="0.67" opacity="0.81"/>
<path d="M275.5 204.8Q312.4 213.7 347.3 198.7" stroke-width="0.52" opacity="0.87"/>
<path d="M288.0 244.1Q312.8 215.6 349.5 224.8" stroke-width="0.50" opacity="0.87"/>
<path d="M281.1 192.8Q312.5 214.7 281.2 236.8" stroke-width="0.41" opacity="0.95"/>
<path d="M316.1 252.8Q309.3 216.0 288.6 184.8" stroke-width="0.40" opacity="0.78"/>
<path d="M348.7 227.1Q313.2 215.9 305.8 252.4" stroke-width="0.59" opacity="0.78"/>
<path d="M281.2 236.8Q309.9 212.2 333.2 182.5" stroke-width="0.40" opacity="0.91"/>
<path d="M275.8 225.6Q312.5 216.0 349.0 226.4" stroke-width="0.59" opacity="0.79"/>
<path d="M341.9 190.1Q313.4 214.4 350.7 218.0" stroke-width="0.56" opacity="0.93"/>
<path d="M289.0 184.5Q309.9 215.5 311.6 253.0" stroke-width="0.48" opacity="0.99"/>
<path d="M285.3 187.8Q311.8 214.8 297.7 250.0" stroke-width="0.41" opacity="0.98"/>
<path d="M301.6 178.0Q312.0 214.7 307.4 252.7" stroke-width="0.49" opacity="0.90"/>
<path d="M350.4 220.1Q312.7 214.8 332.8 247.2" stroke-width="0.66" opacity="0.89"/>
<path d="M327.3 250.0Q312.5 215.1 289.2 245.1" stroke-width="0.56" opacity="0.96"/>
<path d="M343.9 236.6Q313.1 215.6 320.2 252.2" stroke-width="0.41" opacity="0.85"/>
<path d="M331.2 248.1Q311.8 215.2 287.4 185.7" stroke-width="0.67" opacity="0.89"/>
<path d="M275.0 207.0Q312.4 211.8 349.6 205.1" stroke-width="0.60" opacity="0.75"/>
<path d="M305.5 177.0Q316.3 213.3 331.3 248.1" stroke-width="0.68" opacity="1.00"/>
<path d="M301.9 177.9Q309.9 215.1 314.5 252.9" stroke-width="0.67" opacity="0.88"/>
<path d="M276.3 227.1Q312.2 216.0 339.3 242.1" stroke-width="0.71" opacity="0.94"/>
<path d="M350.8 213.9Q312.9 215.0 318.7 252.5" stroke-width="0.60" opacity="0.80"/>
<path d="M350.7 217.7Q312.7 216.1 277.5 230.3" stroke-width="0.74" opacity="0.90"/>
<path d="M329.1 249.2Q312.8 214.9 350.4 220.3" stroke-width="0.47" opacity="0.83"/>
<path d="M301.4 178.0Q309.7 214.8 304.3 252.1" stroke-width="0.58" opacity="0.89"/>
<path d="M277.2 199.9Q311.4 216.3 337.9 243.4" stroke-width="0.45" opacity="0.83"/>
<path d="M333.0 247.1Q313.1 215.0 350.2 208.2" stroke-width="0.58" opacity="0.94"/>
<path d="M328.3 179.8Q315.5 214.9 324.4 251.1" stroke-width="0.60" opacity="0.84"/>
<path d="M320.5 252.2Q311.4 215.2 292.3 182.2" stroke-width="0.74" opacity="0.90"/>
<path d="M275.8 203.7Q312.0 214.9 289.7 245.5" stroke-width="0.46" opacity="0.95"/>
<path d="M289.3 245.2Q313.0 215.3 346.1 196.3" stroke-width="0.55" opacity="0.80"/>
<path d="M338.1 243.2Q314.0 215.1 349.1 203.4" stroke-width="0.52" opacity="0.85"/>
<path d="M309.5 252.9Q309.5 215.7 287.4 185.7" stroke-width="0.47" opacity="0.93"/>
<path d="M350.3 208.2Q312.8 214.9 313.9 253.0" stroke-width="0.52" opacity="0.98"/>
<path d="M286.6 242.9Q313.7 216.8 349.6 205.2" stroke-width="0.71" opacity="0.85"/>
<path d="M292.9 247.6Q312.9 215.3 350.7 212.2" stroke-width="0.65" opacity="0.94"/>
<path d="M274.4 210.4Q312.5 214.6 347.5 199.1" stroke-width="0.46" opacity="0.89"/>
<path d="M320.4 252.2Q313.0 215.3 348.0 229.1" stroke-width="0.69" opacity="0.89"/>
<path d="M280.9 236.4Q312.8 215.3 348.4 201.3" stroke-width="0.59" opacity="0.88"/>
<path d="M333.2 182.5Q310.9 212.9 278.7 232.8" stroke-width="0.69" opacity="0.80"/>
<path d="M350.8 216.3Q312.7 218.0 274.7 220.8" stroke-width="0.73" opacity="0.75"/>
<path d="M277.3 199.5Q312.0 215.4 339.8 241.6" stroke-width="0.52" opacity="0.94"/>
<path d="M283.8 189.4Q311.8 215.2 331.1 248.2" stroke-width="0.57" opacity="0.76"/>
<path d="M283.6 189.6Q311.1 215.0 297.8 250.1" stroke-width="0.68" opacity="0.86"/>
<path d="M302.6 251.7Q313.4 215.9 350.8 213.8" stroke-width="0.41" opacity="0.92"/>
<path d="M311.3 253.0Q310.9 215.1 292.5 182.0" stroke-width="0.57" opacity="0.93"/>
<path d="M305.6 177.0Q313.7 213.9 344.6 235.6" stroke-width="0.69" opacity="0.88"/>
<path d="M343.6 237.1Q315.0 211.7 285.0 188.0" stroke-width="0.75" opacity="0.77"/>
<path d="M275.9 203.5Q311.3 215.8 320.4 252.2" stroke-width="0.59" opacity="0.86"/>
<path d="M333.1 247.0Q312.7 215.8 302.1 251.6" stroke-width="0.68" opacity="0.99"/>
<path d="M275.1 223.1Q311.3 214.3 288.8 184.6" stroke-width="0.46" opacity="0.96"/>
<path d="M322.1 251.8Q313.5 215.1 346.0 196.2" stroke-width="0.43" opacity="0.92"/>
<path d="M347.0 198.0Q313.1 214.9 323.9 251.3" stroke-width="0.47" opacity="0.88"/>
<path d="M332.6 247.3Q309.3 216.8 290.8 183.1" stroke-width="0.61" opacity="0.86"/>
<path d="M278.8 232.8Q311.7 213.9 331.6 181.5" stroke-width="0.72" opacity="0.88"/>
<path d="M274.2 216.5Q312.4 218.9 350.7 217.5" stroke-width="0.63" opacity="1.00"/>
<path d="M282.4 238.4Q312.9 216.9 348.8 226.8" stroke-width="0.44" opacity="0.76"/>
<path d="M292.5 182.1Q310.1 214.4 285.6 241.9" stroke-width="0.51" opacity="0.78"/>
<path d="M297.0 179.7Q312.9 213.6 348.3 201.2" stroke-width="0.64" opacity="0.91"/>
<path d="M282.3 238.3Q312.5 215.1 344.9 235.0" stroke-width="0.46" opacity="0.88"/>
<path d="M321.8 251.9Q309.7 216.5 282.8 190.5" stroke-width="0.69" opacity="0.88"/>
<path d="M292.3 182.2Q311.3 214.8 297.6 250.0" stroke-width="0.47" opacity="0.91"/>
<path d="M302.0 251.5Q313.4 215.5 347.3 198.6" stroke-width="0.61" opacity="0.93"/>
<path d="M347.2 198.5Q311.9 212.7 274.5 219.1" stroke-width="0.44" opacity="0.76"/>
<path d="M274.4 210.8Q312.2 213.6 343.0 191.5" stroke-width="0.58" opacity="0.80"/>
<path d="M324.6 251.0Q312.0 215.8 276.5 227.7" stroke-width="0.46" opacity="0.78"/>
<path d="M307.2 252.6Q312.6 214.9 345.9 233.4" stroke-width="0.73" opacity="0.98"/>
<path d="M274.7 208.5Q312.1 213.1 342.0 190.2" stroke-width="0.70" opacity="0.79"/>
<path d="M339.3 242.1Q312.6 214.7 349.1 203.5" stroke-width="0.47" opacity="0.91"/>
<path d="M349.2 203.6Q314.5 215.7 324.8 251.0" stroke-width="0.60" opacity="0.80"/>
<path d="M320.6 252.1Q311.9 215.1 278.2 197.6" stroke-width="0.55" opacity="0.93"/>
<path d="M339.7 241.7Q312.4 216.1 280.3 235.4" stroke-width="0.74" opacity="0.88"/>
<path d="M274.2 212.7Q311.9 214.3 296.6 179.9" stroke-width="0.72" opacity="0.77"/>
<path d="M349.9 206.5Q312.7 213.7 282.6 190.8" stroke-width="0.75" opacity="0.86"/>
<path d="M348.3 201.0Q312.5 214.5 274.4 218.8" stroke-width="0.41" opacity="0.92"/>
<path d="M350.4 220.2Q313.5 213.1 290.6 183.3" stroke-width="0.47" opacity="0.94"/>
<path d="M350.0 206.9Q312.8 211.9 277.5 199.2" stroke-width="0.72" opacity="0.77"/>
<path d="M290.6 246.1Q312.4 215.7 329.0 249.3" stroke-width="0.48" opacity="0.76"/>
<path d="M298.7 179.0Q311.3 213.9 274.3 216.9" stroke-width="0.55" opacity="0.82"/>
<path d="M308.1 176.7Q314.4 213.5 344.9 235.1" stroke-width="0.45" opacity="0.76"/>
<path d="M274.4 210.8Q311.2 216.0 314.3 253.0" stroke-width="0.70" opacity="0.76"/>
<path d="M303.1 177.6Q310.8 214.3 286.6 242.9" stroke-width="0.66" opacity="0.98"/>
<path d="M274.4 219.0Q311.8 213.0 343.1 191.6" stroke-width="0.57" opacity="0.78"/>
<path d="M309.4 252.9Q312.2 215.4 285.3 241.6" stroke-width="0.48" opacity="0.80"/>
<path d="M344.9 194.3Q313.4 214.5 350.1 222.0" stroke-width="0.71" opacity="0.78"/>
<path d="M274.2 216.5Q311.5 212.7 338.5 186.5" stroke-width="0.59" opacity="0.82"/>
<path d="M277.3 199.6Q310.5 216.7 328.6 249.4" stroke-width="0.44" opacity="0.94"/>
<path d="M302.6 251.7Q311.9 215.3 276.3 227.2" stroke-width="0.55" opacity="0.95"/>
<path d="M290.2 183.6Q313.1 213.7 350.7 217.5" stroke-width="0.47" opacity="0.90"/>
<path d="M339.3 242.1Q312.7 214.8 350.8 213.4" stroke-width="0.75" opacity="0.85"/>
<path d="M323.7 251.3Q312.0 215.5 274.5 219.7" stroke-width="0.46" opacity="0.88"/>
<path d="M276.3 202.2Q311.5 217.4 348.2 228.7" stroke-width="0.72" opacity="0.94"/>
<path d="M275.1 223.0Q312.1 215.0 291.0 246.4" stroke-width="0.56" opacity="0.92"/>
<path d="M274.8 221.2Q312.0 215.1 304.4 252.1" stroke-width="0.59" opacity="0.92"/>
<path d="M331.0 248.2Q314.3 215.0 339.9 188.0" stroke-width="0.66" opacity="0.85"/>
<path d="M349.6 224.3Q311.7 218.0 275.0 207.0" stroke-width="0.55" opacity="0.84"/>
<path d="M275.9 203.5Q311.2 215.6 309.1 252.8" stroke-width="0.61" opacity="0.98"/>
<path d="M350.7 217.9Q312.7 214.9 311.7 253.0" stroke-width="0.72" opacity="0.95"/>
<path d="M349.2 203.7Q312.4 213.3 274.4 211.2" stroke-width="0.55" opacity="0.84"/>
<path d="M314.0 253.0Q314.5 215.6 342.7 191.2" stroke-width="0.58" opacity="0.77"/>
<path d="M290.4 183.5Q311.6 214.2 274.3 212.5" stroke-width="0.56" opacity="0.87"/>
<path d="M340.4 188.4Q314.4 216.1 295.3 248.9" stroke-width="0.43" opacity="0.81"/>
<path d="M276.4 227.6Q312.1 216.3 338.4 242.9" stroke-width="0.59" opacity="0.81"/>
<path d="M336.1 244.8Q315.2 213.3 301.7 177.9" stroke-width="0.40" opacity="0.83"/>
<path d="M330.9 248.3Q313.4 215.0 346.9 197.9" stroke-width="0.72" opacity="0.94"/>
<path d="M345.9 233.5Q313.5 213.0 279.3 195.7" stroke-width="0.62" opacity="0.94"/>
<path d="M340.8 240.5Q312.7 216.5 290.7 246.2" stroke-width="0.55" opacity="0.93"/>
<path d="M279.0 196.1Q313.5 212.7 347.9 229.3" stroke-width="0.55" opacity="0.81"/>
<path d="M277.3 229.8Q312.5 214.9 343.9 236.7" stroke-width="0.44" opacity="0.77"/>
<path d="M345.9 233.5Q312.7 215.2 299.8 250.8" stroke-width="0.50" opacity="0.97"/>
<path d="M274.7 208.7Q312.5 214.5 346.2 196.5" stroke-width="0.74" opacity="0.79"/>
<path d="M306.3 252.5Q313.8 215.8 349.1 203.3" stroke-width="0.55" opacity="0.95"/>
<path d="M284.0 189.1Q311.1 215.1 302.1 251.6" stroke-width="0.73" opacity="0.81"/>
<path d="M331.0 248.2Q311.7 215.3 285.1 187.9" stroke-width="0.67" opacity="0.91"/>
<path d="M325.2 250.8Q310.3 215.5 298.8 178.9" stroke-width="0.50" opacity="0.81"/>
<path d="M311.5 253.0Q314.3 215.3 334.9 183.6" stroke-width="0.52" opacity="0.90"/>
<path d="M320.4 252.2Q315.1 215.3 336.8 185.1" stroke-width="0.47" opacity="0.80"/>
<path d="M286.3 242.7Q312.4 214.9 318.8 252.5" stroke-width="0.47" opacity="0.78"/>
<path d="M297.1 249.8Q312.5 214.8 334.0 246.4" stroke-width="0.48" opacity="0.94"/>
<path d="M350.5 210.2Q312.7 213.0 276.9 200.5" stroke-width="0.41" opacity="0.97"/>
<path d="M279.0 233.2Q312.1 215.8 328.6 249.4" stroke-width="0.56" opacity="0.78"/>
<path d="M345.8 233.6Q312.5 215.0 276.5 227.7" stroke-width="0.47" opacity="0.77"/>
<path d="M350.8 215.8Q313.9 215.8 322.2 251.7" stroke-width="0.73" opacity="0.76"/>
<path d="M314.3 253.0Q312.3 215.3 286.5 242.8" stroke-width="0.48" opacity="0.98"/>
<path d="M282.4 238.4Q312.4 215.3 333.9 246.5" stroke-width="0.69" opacity="0.78"/>
<path d="M350.5 219.8Q313.0 215.5 302.4 251.7" stroke-width="0.71" opacity="0.80"/>
<path d="M316.6 252.8Q311.5 215.4 277.5 199.2" stroke-width="0.65" opacity="0.81"/>
<path d="M279.3 195.6Q312.0 215.0 316.4 252.8" stroke-width="0.42" opacity="0.90"/>
<path d="M340.8 188.9Q313.3 214.5 349.6 224.3" stroke-width="0.74" opacity="1.00"/>
<path d="M281.3 192.5Q311.2 216.3 341.2 240.1" stroke-width="0.46" opacity="0.88"/>
<path d="M274.2 214.0Q312.5 214.7 283.4 239.5" stroke-width="0.41" opacity="0.76"/>
<path d="M276.9 200.7Q311.3 214.8 281.2 236.7" stroke-width="0.72" opacity="0.94"/>
<path d="M343.5 237.2Q311.2 217.4 275.7 204.1" stroke-width="0.47" opacity="0.82"/>
<path d="M346.8 197.7Q312.9 212.7 287.3 185.9" stroke-width="0.41" opacity="0.95"/>
<path d="M348.1 228.8Q313.9 212.8 288.5 184.9" stroke-width="0.71" opacity="0.76"/>
<path d="M303.7 252.0Q312.3 214.8 284.0 189.1" stroke-width="0.43" opacity="0.85"/>
<path d="M281.3 192.4Q311.5 215.3 319.1 252.4" stroke-width="0.69" opacity="0.95"/>
<path d="M343.8 192.6Q313.9 216.1 289.8 245.5" stroke-width="0.58" opacity="0.95"/>
<path d="M279.2 195.7Q311.8 214.6 276.3 227.3" stroke-width="0.49" opacity="0.83"/>
<path d="M283.7 189.4Q310.5 215.4 303.7 252.0" stroke-width="0.67" opacity="0.90"/>
</g>
</g>
<g stroke="#9a9a9a" stroke-width="0.9" fill="none">
<path d="M137.5 85.5L211.7 101.9M250.7 110.5L298.0 121.0"/>
<path d="M137.2 81V90M138.4 106V199"/>
<path d="M138.4 199.0L161.7 199.0M191.8 199.0L216.0 199.0"/>
<path d="M138 299V309"/>
<path d="M138.0 304.4L190.5 304.4M230.8 304.4L306.0 304.4"/>
<path d="M504.7 35V96"/>
<path d="M504.7 96.0L435.0 126.0M406.5 138.2L386.0 147.0"/>
<path d="M231 204L235 204M379 289.2H388M405 250.5L410 250"/>
</g>
<g stroke="#8c8c8c" stroke-width="0.8" fill="none" opacity="0.8">
<path d="M504.8 126.7V135L400 237"/>
<path d="M504.6 155V241L398 252"/>
<path d="M504 285.5V294M504 289.3H441"/>
</g>
<g font-family="'Liberation Serif', 'Times New Roman', serif" font-weight="bold" fill="#111" text-anchor="middle">
<text transform="translate(312.1 75.6) scale(0.82 1)" x="0" y="0" font-size="16.2">I</text>
<text transform="translate(313.3 91.6) scale(0.8 1)" x="0" y="0" font-size="15.8">II</text>
<text transform="translate(313.3 106.5) scale(0.8 1)" x="0" y="0" font-size="15.6">III</text>
<text transform="translate(313.1 127.7) scale(0.78 1)" x="0" y="0" font-size="14.2">IV</text>
<text transform="translate(311.5 148.8) scale(0.7 1)" x="0" y="0" font-size="12.8">V</text>
<text transform="translate(311.6 169.1) scale(0.8 1)" x="0" y="0" font-size="10.0">VI</text>
<text transform="translate(313.2 183.8) scale(0.8 1)" x="0" y="0" font-size="11.0">VII</text>
</g>
<g transform="translate(223.2 202.2) rotate(0)" font-family="'Liberation Sans', Arial, sans-serif" font-weight="bold" font-size="3.0" fill="#5e5e5e"><text x="-7.25" y="-8.20" textLength="14.5" lengthAdjust="spacingAndGlyphs">AmMSDIN1</text><text x="-7.25" y="-5.54" textLength="14.5" lengthAdjust="spacingAndGlyphs">AmMSDIN2</text><text x="-7.25" y="-2.90" textLength="14.5" lengthAdjust="spacingAndGlyphs">AmMSDIN3</text><text x="-7.25" y="-0.25" textLength="14.5" lengthAdjust="spacingAndGlyphs">AmMSDIN4</text><text x="-7.25" y="2.40" textLength="14.5" lengthAdjust="spacingAndGlyphs">AmMSDIN5</text><text x="-7.25" y="5.05" textLength="14.5" lengthAdjust="spacingAndGlyphs">AmMSDIN6</text><text x="-7.25" y="7.70" textLength="14.5" lengthAdjust="spacingAndGlyphs">AmMSDIN7</text><text x="-7.25" y="10.36" textLength="14.5" lengthAdjust="spacingAndGlyphs">AmMSDIN8</text></g>
<g transform="translate(379 154.5) rotate(-45)" font-family="'Liberation Sans', Arial, sans-serif" font-weight="bold" font-size="3.0" fill="#5e5e5e"><text x="-6.50" y="-4.22" textLength="13" lengthAdjust="spacingAndGlyphs">AmMSDIN1</text><text x="-6.50" y="-1.57" textLength="13" lengthAdjust="spacingAndGlyphs">AmMSDIN2</text><text x="-6.50" y="1.08" textLength="13" lengthAdjust="spacingAndGlyphs">AmMSDIN3</text><text x="-6.50" y="3.73" textLength="13" lengthAdjust="spacingAndGlyphs">AmMSDIN4</text><text x="-6.50" y="6.38" textLength="13" lengthAdjust="spacingAndGlyphs">AmMSDIN5</text></g>
<g transform="translate(395.3 250.8) rotate(25)" font-family="'Liberation Sans', Arial, sans-serif" font-weight="bold" font-size="3.0" fill="#5e5e5e"><text x="-7.75" y="-6.87" textLength="15.5" lengthAdjust="spacingAndGlyphs">AmMSDIN1</text><text x="-7.75" y="-4.22" textLength="15.5" lengthAdjust="spacingAndGlyphs">AmMSDIN2</text><text x="-7.75" y="-1.57" textLength="15.5" lengthAdjust="spacingAndGlyphs">AmMSDIN3</text><text x="-7.75" y="1.08" textLength="15.5" lengthAdjust="spacingAndGlyphs">AmMSDIN4</text><text x="-7.75" y="3.73" textLength="15.5" lengthAdjust="spacingAndGlyphs">AmMSDIN5</text><text x="-7.75" y="6.38" textLength="15.5" lengthAdjust="spacingAndGlyphs">AmMSDIN6</text><text x="-7.75" y="9.03" textLength="15.5" lengthAdjust="spacingAndGlyphs">AmMSDIN7</text></g>
<g transform="translate(399.8 234.8) rotate(22)" font-family="'Liberation Sans', Arial, sans-serif" font-weight="bold" font-size="3.0" fill="#5e5e5e"><text x="-6.50" y="1.08" textLength="13" lengthAdjust="spacingAndGlyphs">AmMSDIN1</text></g>
<g transform="translate(299.3 125.2) rotate(-90)" font-family="'Liberation Sans', Arial, sans-serif" font-weight="bold" font-size="3.2" fill="#5e5e5e"><text x="-6.50" y="1.15" textLength="13" lengthAdjust="spacingAndGlyphs">AmMSDIN1</text></g>
<g transform="translate(314.1 305) rotate(90)" font-family="'Liberation Sans', Arial, sans-serif" font-weight="bold" font-size="3.2" fill="#5e5e5e"><text x="-6.75" y="1.15" textLength="13.5" lengthAdjust="spacingAndGlyphs">AmMSDIN1</text></g>
<g transform="translate(371.6 282.5) rotate(48)" font-family="'Liberation Sans', Arial, sans-serif" font-weight="bold" font-size="3.0" fill="#888"><text x="-6.50" y="1.08" textLength="13" lengthAdjust="spacingAndGlyphs">AmMSDIN1</text></g>
<text x="230" y="251.5" font-family="'Liberation Sans', Arial, sans-serif" font-weight="bold" font-size="3.2" fill="#c83030" textLength="11" lengthAdjust="spacingAndGlyphs" transform="rotate(-25 230 251.5)">AmMSDIN</text>
<g font-family="'Liberation Serif', 'Times New Roman', serif" font-weight="bold" font-size="10.25" text-anchor="end">
<text x="135.2" y="123.2" fill="#222">WFFFFYPP</text>
<text x="135.2" y="136.4" fill="#33b466">ILFGFFLLP</text>
<text x="135.2" y="149.3" fill="#222">FFIIFFIPP</text>
<text x="135.2" y="162.0" fill="#33b466">FFIIFFIPP</text>
<text x="135.2" y="175.0" fill="#222">LIFLPPFIPP</text>
<text x="135.2" y="188.2" fill="#222">FNILPLLLPP</text>
<text x="135.5" y="311" fill="#33b466">RLLVPRYP</text>
</g>
<text x="135.2" y="88.4" font-family="'Liberation Sans', Arial, sans-serif" font-weight="bold" font-size="9.4" fill="#45c07a" text-anchor="end">α-amanitin</text>
<rect x="87.3" y="90.2" width="47.6" height="1.0" fill="#6ccf96"/>
<g font-family="'Liberation Serif', 'Times New Roman', serif" font-weight="bold" font-size="10.1">
<text x="513.5" y="45.7" fill="#ee2c3c">IWAAFFRFP</text>
<text x="513.5" y="59.6" fill="#fbb52a">GKVFPP</text>
<text x="513.5" y="71.8" fill="#22ad5e">GKLFPP</text>
<text x="513.5" y="85" fill="#c22a34">GKVNPP</text>
<text x="509.1" y="135.7" fill="#28ad5e" font-size="10.5">GGYYQNT</text>
<text x="511.5" y="162.3" fill="#28ad5e" font-size="10.4">WIFFFYPP</text>
<text x="511.5" y="175.0" fill="#f0804a" font-size="10.4">FFWILIPP</text>
<text x="511.5" y="187.8" fill="#222" font-size="10.4">LIFLPPFIPP</text>
<text x="511.5" y="200.7" fill="#28ad5e" font-size="10.4">LNILPFHLPP</text>
<text x="512" y="294" fill="#c8303a">GFGFIP</text>
</g>
<g font-family="'Liberation Sans', Arial, sans-serif" font-weight="bold" font-size="9.4">
<text x="512.2" y="213.7" fill="#45c07a">α-amanitin</text>
<rect x="512.2" y="215.7" width="46.5" height="1.0" fill="#45c07a" opacity="0.8"/>
<text x="512.2" y="227.0" fill="#45c07a">β-amanitin</text>
<rect x="512.2" y="229.0" width="46.5" height="1.0" fill="#45c07a" opacity="0.8"/>
<text x="512.2" y="240.0" fill="#f8c040">α-amanitin</text>
<rect x="512.2" y="242.0" width="46.5" height="1.0" fill="#f8c040" opacity="0.8"/>
</g>
<rect x="581" y="37.2" width="206.4" height="1.8" fill="#f4b183"/>
<rect x="581" y="53.2" width="206.4" height="2" fill="#f4b183"/>
<rect x="581" y="55.2" width="206.4" height="23.4" fill="#fbe4d5"/>
<rect x="581" y="107.3" width="206.4" height="15.5" fill="#fbe4d5"/>
<rect x="581" y="138.9" width="206.4" height="25.2" fill="#fbe4d5"/>
<rect x="581" y="182.2" width="206.4" height="2" fill="#f4b183"/>
<g font-family="'Liberation Serif', 'Times New Roman', serif" font-size="10" fill="#1a1a1a" text-anchor="middle">
<text x="628.6" y="49.9" font-weight="bold">Species</text>
<text x="732.1" y="50.4" font-weight="bold" font-style="italic">Amanita molliuscula</text>
<text x="628.6" y="65" font-weight="bold">Size of assembled</text>
<text x="628.6" y="75.8" font-weight="bold">genome</text>
<text x="732.1" y="71.3">71.17 Mbp</text>
<text x="628.6" y="96.7" font-weight="bold">Number of contigs</text>
<text x="732.1" y="96.7">155</text>
<text x="628.6" y="119.5" font-weight="bold">N50 (bp)</text>
<text x="732.1" y="119.5">1053316</text>
<text x="628.6" y="135" font-weight="bold">N90 (bp)</text>
<text x="732.1" y="135">188356</text>
<text x="628.6" y="149.2" font-weight="bold">Maximum length</text>
<text x="628.6" y="160.5" font-weight="bold">(bp)</text>
<text x="732.1" y="155">3180309</text>
<text x="628.6" y="177.7" font-weight="bold">GC content</text>
<text x="732.1" y="177.7">46.50%</text>
</g>
<g font-family="'Liberation Serif', 'Times New Roman', serif" font-size="10" font-weight="bold" fill="#5a5a5a">
<text x="586.8" y="214.5" fill="#111">Keys:</text>
<text x="586.8" y="233.4" fill="#111">I</text>
<text x="604.7" y="233.4">Contigs</text>
<text x="586.8" y="251.2" fill="#111">II</text>
<text x="604.7" y="251.2">GC content</text>
<text x="586.8" y="269.2" fill="#111">III</text>
<text x="604.7" y="269.2">Transposons</text>
<text x="586.8" y="287.1" fill="#111">IV</text>
<text x="604.7" y="287.1">Distribution of amanitin biosynthetic genes</text>
<text x="586.8" y="305" fill="#111">V</text>
<text x="604.7" y="305">FPKM values</text>
<text x="586.8" y="359.2" fill="#111">VI</text>
<text x="604.7" y="359.2">Genes</text>
<text x="586.8" y="377.6" fill="#111">VII</text>
<text x="604.7" y="377.6">Synteny</text>
</g>
<rect x="600.60" y="318.3" width="15.6" height="8" fill="#000000"/>
<rect x="616.15" y="318.3" width="15.6" height="8" fill="#1aa84a"/>
<rect x="631.70" y="318.3" width="15.6" height="8" fill="#ffc000"/>
<rect x="647.25" y="318.3" width="15.6" height="8" fill="#e87830"/>
<rect x="662.80" y="318.3" width="15.6" height="8" fill="#ff0000"/>
<rect x="678.35" y="318.3" width="15.6" height="8" fill="#c00000"/>
<g font-family="'Liberation Serif', 'Times New Roman', serif" font-size="10" fill="#111" text-anchor="middle">
<text x="615.2" y="338.2">0</text>
<text x="632" y="338.2">1</text>
<text x="647.8" y="338.2">3</text>
<text x="663.6" y="338.2">15</text>
<text x="680.5" y="338.2">60</text>
<text x="702" y="338.2">&gt;100</text>
</g>
</svg>
</body></html>
